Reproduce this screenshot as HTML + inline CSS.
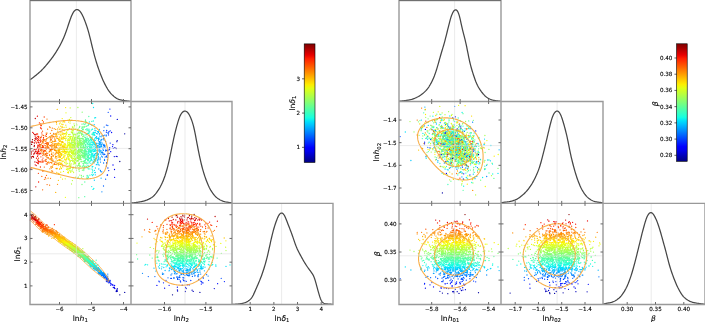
<!DOCTYPE html>
<html><head><meta charset="utf-8"><style>
html,body{margin:0;padding:0;background:#fff;}
svg{display:block;}
.t{font-family:"DejaVu Sans","Liberation Sans",sans-serif;font-size:5.60px;fill:#000;stroke:#000;stroke-width:0.12px;}
.l{font-family:"DejaVu Sans","Liberation Sans",sans-serif;font-size:7.60px;fill:#000;stroke:#000;stroke-width:0.1px;}
</style></head><body>
<svg xmlns="http://www.w3.org/2000/svg" width="705" height="322" viewBox="0 0 705 322">
<rect width="705" height="322" fill="#fff"/>
<g stroke-width="1.3" stroke-linecap="round" fill="none" stroke-opacity="1">
<path d="M119.8 161.5h.01" stroke="#000089"/>
<path d="M124.7 133.8h.01" stroke="#0000a4"/>
<path d="M117.2 140.6h.01M116.2 148.5h.01M116.8 141.7h.01M116.3 156.4h.01" stroke="#0000bb"/>
<path d="M117.1 156.6h.01M114.9 147.7h.01M117.3 119.4h.01" stroke="#0000d1"/>
<path d="M114.5 169.5h.01M113.3 148.3h.01M114.3 156.6h.01" stroke="#0000ed"/>
<path d="M112.9 144.7h.01M114.6 177.3h.01M110.7 151.7h.01M113.0 165.0h.01" stroke="#0000ff"/>
<path d="M111.6 132.5h.01M110.7 116.0h.01M112.5 146.6h.01" stroke="#0008ff"/>
<path d="M107.5 174.9h.01M108.7 170.6h.01M109.1 153.4h.01M109.0 131.7h.01M110.2 130.8h.01M106.4 132.2h.01M109.9 109.1h.01" stroke="#0020ff"/>
<path d="M108.5 134.9h.01M107.2 175.2h.01M106.8 150.4h.01M108.0 153.6h.01M108.5 133.0h.01M109.7 147.6h.01M110.2 143.1h.01M109.6 149.0h.01M107.9 168.0h.01M108.9 150.0h.01M106.4 125.1h.01" stroke="#0034ff"/>
<path d="M108.2 112.3h.01M107.1 150.8h.01M106.3 135.1h.01M106.2 156.4h.01M106.6 162.7h.01M106.7 130.4h.01M106.6 163.3h.01M106.4 156.4h.01M107.8 154.8h.01" stroke="#0048ff"/>
<path d="M106.4 166.0h.01M104.5 160.4h.01M107.0 155.9h.01M103.9 153.9h.01M105.8 150.0h.01M103.8 130.7h.01M107.1 157.4h.01M107.4 159.8h.01M103.8 154.7h.01M104.8 154.4h.01M105.6 141.4h.01M105.1 157.1h.01M103.5 186.0h.01M105.5 150.9h.01M105.6 179.2h.01M103.7 135.7h.01" stroke="#0060ff"/>
<path d="M102.9 149.0h.01M103.6 145.4h.01M103.3 139.0h.01M103.4 150.4h.01M106.2 135.9h.01M102.3 135.6h.01M105.1 147.0h.01M102.3 154.1h.01M103.6 163.0h.01M107.8 125.5h.01M101.4 145.8h.01M103.9 145.0h.01M104.2 145.4h.01M104.4 146.7h.01M104.9 145.3h.01M103.6 138.7h.01M104.1 127.1h.01M103.9 144.3h.01" stroke="#0074ff"/>
<path d="M100.5 162.1h.01M98.7 145.2h.01M104.5 159.5h.01M101.6 152.4h.01M104.1 140.1h.01M100.8 144.1h.01M107.8 133.0h.01M99.8 150.0h.01M103.1 144.8h.01M103.0 152.8h.01M102.3 157.0h.01M104.8 135.1h.01M101.9 191.8h.01M101.7 139.5h.01M103.2 147.1h.01M100.8 171.6h.01M100.4 170.5h.01M99.6 144.6h.01M100.1 157.9h.01M102.5 152.1h.01M102.1 152.9h.01M99.3 141.7h.01M101.8 171.8h.01M100.8 142.0h.01" stroke="#0088ff"/>
<path d="M101.5 139.9h.01M103.4 150.3h.01M101.6 146.3h.01M101.5 146.3h.01M98.0 154.2h.01M99.5 142.6h.01M99.6 143.8h.01M98.7 138.5h.01M98.4 158.8h.01M101.1 136.8h.01M100.0 147.3h.01M100.1 159.8h.01M100.6 150.8h.01M99.7 133.7h.01M99.1 148.9h.01M101.7 144.4h.01M101.3 146.8h.01M100.5 143.8h.01M99.0 151.0h.01M98.6 139.6h.01M99.7 147.2h.01M100.7 140.2h.01M100.2 159.1h.01M102.3 143.1h.01M101.5 156.2h.01M102.1 135.8h.01M100.8 142.6h.01M99.2 141.6h.01" stroke="#00a0ff"/>
<path d="M99.2 165.1h.01M100.0 136.4h.01M99.9 146.8h.01M97.1 146.9h.01M98.8 138.9h.01M97.4 145.4h.01M101.1 150.8h.01M98.9 139.3h.01M98.9 147.2h.01M96.8 148.0h.01M101.1 178.2h.01M97.1 146.0h.01M99.5 129.3h.01M97.9 160.9h.01M96.6 136.7h.01M100.6 154.1h.01M97.1 155.1h.01M100.8 151.9h.01M94.8 144.5h.01M97.2 159.9h.01M97.4 153.3h.01M98.4 140.2h.01M98.0 150.1h.01M98.1 164.7h.01M100.7 146.0h.01M99.0 146.6h.01M97.5 162.5h.01M95.6 144.7h.01M99.1 143.3h.01M98.3 157.6h.01M96.3 143.4h.01M96.2 143.5h.01M97.6 133.8h.01M98.8 169.0h.01M99.6 152.0h.01M97.3 148.2h.01" stroke="#00b4ff"/>
<path d="M96.0 144.6h.01M97.5 154.5h.01M95.2 148.9h.01M95.5 153.4h.01M97.0 152.5h.01M95.3 174.8h.01M96.3 164.7h.01M98.3 131.4h.01M94.5 155.3h.01M98.2 159.2h.01M93.9 141.2h.01M95.2 160.0h.01M96.5 133.6h.01M97.1 155.1h.01M98.4 156.2h.01M98.9 137.8h.01M96.6 138.0h.01M98.4 132.5h.01M98.0 163.1h.01M94.2 124.7h.01M94.9 172.7h.01M99.4 134.8h.01M95.0 130.4h.01M98.6 154.0h.01M94.6 151.4h.01M93.3 132.9h.01M95.2 159.3h.01M96.7 164.4h.01M97.5 131.6h.01M97.6 138.3h.01M93.6 143.8h.01M96.7 146.9h.01M93.2 156.2h.01M94.4 180.2h.01M97.0 153.2h.01M95.7 137.4h.01M98.0 143.4h.01M97.9 147.0h.01" stroke="#00c8ff"/>
<path d="M94.9 132.5h.01M95.4 168.0h.01M95.3 145.9h.01M96.4 138.8h.01M94.7 148.6h.01M94.9 128.7h.01M96.9 157.8h.01M92.0 160.6h.01M95.2 149.4h.01M95.1 132.4h.01M98.4 156.4h.01M92.6 175.6h.01M93.0 154.0h.01M94.8 135.4h.01M94.1 139.9h.01M95.1 160.9h.01M93.5 155.6h.01M90.6 139.4h.01M94.6 157.2h.01M94.2 159.9h.01M93.8 132.9h.01M96.8 150.6h.01M95.1 160.0h.01M95.3 147.4h.01M94.5 159.2h.01M94.8 154.3h.01M91.9 146.0h.01M95.4 160.4h.01M94.9 156.9h.01M95.3 132.5h.01M94.0 133.1h.01M93.5 161.7h.01M96.4 158.4h.01M94.5 154.5h.01M95.2 140.4h.01M94.5 170.3h.01M96.0 130.6h.01M94.3 162.8h.01M96.9 155.4h.01M92.2 154.1h.01M94.4 150.9h.01M93.5 107.5h.01M95.5 158.7h.01M95.6 117.7h.01M95.7 161.1h.01M94.6 142.6h.01M95.3 172.3h.01M94.5 143.2h.01M94.3 139.8h.01" stroke="#00e0fb"/>
<path d="M93.0 142.6h.01M94.1 141.6h.01M93.8 132.4h.01M93.8 188.5h.01M91.3 138.5h.01M93.9 142.4h.01M93.4 149.3h.01M95.5 144.8h.01M89.4 121.9h.01M90.0 136.9h.01M92.7 103.5h.01M93.0 162.2h.01M92.8 144.9h.01M96.7 153.3h.01M93.9 146.3h.01M90.5 137.4h.01M92.9 134.5h.01M94.3 144.6h.01M93.0 149.3h.01M94.6 150.8h.01M94.3 155.7h.01M92.0 169.1h.01M93.0 189.4h.01M91.9 125.4h.01M90.8 150.1h.01M93.2 151.8h.01M93.3 132.5h.01M92.8 149.3h.01M90.9 156.6h.01M94.5 134.6h.01M91.8 174.7h.01M93.0 142.8h.01M92.0 150.6h.01M92.2 166.7h.01M92.0 153.7h.01M93.3 121.0h.01M95.6 151.0h.01M91.2 158.8h.01M92.2 167.1h.01M93.4 151.5h.01M97.8 162.4h.01M94.1 141.6h.01M92.4 142.0h.01M91.7 156.2h.01M91.0 158.0h.01M92.8 166.4h.01M90.4 151.3h.01M89.2 148.7h.01M92.5 145.0h.01M91.6 154.7h.01M94.9 138.5h.01M93.0 162.5h.01M90.2 124.3h.01M93.1 150.1h.01M94.6 117.9h.01M92.4 166.8h.01M91.7 144.4h.01M91.6 159.5h.01M89.8 148.0h.01M94.8 150.5h.01M91.9 151.0h.01M91.7 186.6h.01M92.5 129.2h.01" stroke="#0cf4eb"/>
<path d="M93.8 134.2h.01M91.2 160.0h.01M94.9 150.3h.01M89.0 130.8h.01M88.4 157.1h.01M93.0 143.2h.01M88.5 133.4h.01M89.0 152.0h.01M88.6 152.0h.01M92.0 129.4h.01M90.2 157.7h.01M90.9 163.3h.01M94.0 159.8h.01M89.5 154.1h.01M92.4 139.7h.01M89.6 147.9h.01M91.3 151.4h.01M90.4 148.1h.01M91.1 140.7h.01M95.2 155.2h.01M92.2 137.2h.01M91.2 151.7h.01M91.2 146.9h.01M93.3 174.5h.01M93.5 156.8h.01M92.3 172.7h.01M93.0 157.1h.01M91.8 149.0h.01M90.3 152.5h.01M91.2 142.5h.01M90.1 148.9h.01M93.8 134.6h.01M90.7 144.8h.01M91.2 137.7h.01M91.0 141.8h.01M91.5 153.0h.01M91.7 155.3h.01M92.8 171.0h.01M93.5 157.9h.01M89.4 158.7h.01M91.8 140.1h.01M91.7 147.5h.01M90.3 144.0h.01M88.3 177.4h.01M91.2 139.2h.01M89.9 150.9h.01M88.0 165.4h.01M90.9 142.6h.01M89.5 143.8h.01M91.5 139.3h.01M92.4 155.3h.01M90.7 148.5h.01M91.9 148.6h.01M93.1 147.8h.01M89.1 161.9h.01" stroke="#1cffdb"/>
<path d="M88.6 139.2h.01M89.4 151.2h.01M89.3 166.5h.01M90.4 155.0h.01M86.9 151.6h.01M91.2 157.0h.01M88.4 152.9h.01M89.0 132.4h.01M89.1 132.9h.01M87.0 128.6h.01M85.6 151.1h.01M91.8 134.2h.01M93.2 135.2h.01M87.9 146.1h.01M88.8 150.4h.01M91.8 121.4h.01M88.0 168.0h.01M90.2 147.7h.01M88.3 153.9h.01M88.8 157.6h.01M89.8 131.7h.01M90.2 145.1h.01M89.8 142.8h.01M89.9 175.2h.01M89.6 135.1h.01M88.7 150.6h.01M87.4 149.2h.01M87.0 152.1h.01M88.9 141.2h.01M91.2 130.1h.01M88.3 158.2h.01M88.9 129.1h.01M86.9 129.3h.01M88.5 124.6h.01M87.7 154.0h.01M87.4 133.4h.01M88.8 149.6h.01M90.9 139.8h.01M90.6 160.2h.01M91.5 150.9h.01M88.4 156.0h.01M90.1 161.5h.01M89.0 129.8h.01M92.6 134.0h.01M87.5 178.4h.01M88.2 144.7h.01M87.5 147.4h.01M90.2 137.8h.01M90.4 146.8h.01M92.5 169.9h.01M89.2 162.8h.01M90.5 151.2h.01M91.1 157.6h.01M90.7 150.4h.01M87.0 143.8h.01M92.2 153.4h.01M84.5 167.9h.01" stroke="#30ffc7"/>
<path d="M88.3 151.2h.01M88.1 176.2h.01M85.9 151.1h.01M85.6 144.4h.01M86.9 167.7h.01M83.5 146.0h.01M88.0 159.9h.01M85.9 159.4h.01M85.8 153.3h.01M87.7 148.3h.01M88.9 146.4h.01M87.0 162.1h.01M89.6 144.4h.01M89.4 154.7h.01M86.1 153.8h.01M89.6 147.8h.01M85.9 139.9h.01M85.7 129.6h.01M83.7 153.4h.01M83.9 135.0h.01M88.9 140.2h.01M90.5 137.5h.01M96.2 158.8h.01M86.9 146.9h.01M89.1 155.2h.01M86.0 162.8h.01M88.9 144.2h.01M87.5 140.2h.01M89.5 140.4h.01M85.3 151.9h.01M87.7 155.7h.01M87.1 175.4h.01M89.0 155.2h.01M88.4 168.9h.01M88.8 131.0h.01M88.0 144.2h.01M89.7 148.7h.01M88.3 141.9h.01M87.4 143.7h.01M85.5 148.9h.01M88.3 142.3h.01M86.8 138.5h.01M85.1 140.0h.01M85.6 145.6h.01M86.0 151.7h.01M88.3 159.5h.01M86.3 134.5h.01M84.2 142.7h.01M85.2 145.7h.01M85.0 157.9h.01M85.8 134.9h.01M89.8 168.9h.01M86.7 158.2h.01M90.2 158.1h.01M86.6 154.2h.01M87.7 156.6h.01M84.5 156.0h.01M85.1 148.8h.01M92.2 156.4h.01M88.1 125.3h.01M87.4 159.3h.01M88.5 166.4h.01M84.7 151.1h.01M87.7 142.8h.01M88.8 160.6h.01M89.6 146.0h.01M88.7 148.8h.01M84.5 150.7h.01" stroke="#40ffb7"/>
<path d="M84.6 152.3h.01M85.6 151.4h.01M86.6 140.8h.01M83.4 123.9h.01M88.0 125.6h.01M83.1 128.9h.01M84.5 147.8h.01M86.6 151.2h.01M83.8 136.2h.01M85.4 160.2h.01M85.5 120.0h.01M83.0 153.8h.01M89.4 150.0h.01M86.0 141.7h.01M84.2 127.3h.01M84.6 140.5h.01M88.2 155.7h.01M86.5 142.3h.01M84.7 152.3h.01M85.0 147.3h.01M86.5 151.8h.01M87.1 137.0h.01M87.0 159.2h.01M85.3 150.1h.01M87.9 138.6h.01M85.0 141.3h.01M85.4 144.3h.01M85.0 161.8h.01M87.1 176.8h.01M83.1 151.1h.01M87.7 129.9h.01M83.2 165.5h.01M83.9 158.1h.01M84.1 160.9h.01M86.4 148.6h.01M84.5 153.3h.01M87.9 163.6h.01M84.9 147.2h.01M86.7 139.6h.01M85.1 142.0h.01M86.7 163.8h.01M85.5 159.0h.01M84.8 137.3h.01M84.9 149.4h.01M87.7 160.5h.01M83.4 147.4h.01M84.8 182.0h.01M80.5 150.0h.01M86.9 130.8h.01M86.3 166.5h.01M82.5 129.5h.01M85.0 160.7h.01M85.2 151.0h.01M86.5 141.0h.01M88.4 156.9h.01M85.9 138.8h.01M85.7 139.8h.01M85.1 151.5h.01M84.8 155.1h.01M84.9 163.2h.01M85.7 156.0h.01M85.3 154.1h.01M88.8 116.5h.01M84.7 196.7h.01M84.3 143.5h.01M86.3 156.1h.01M84.8 124.5h.01M84.2 155.9h.01M84.7 156.8h.01M85.7 139.7h.01M88.8 141.7h.01M86.8 141.2h.01M86.7 154.5h.01M87.8 138.7h.01M85.5 138.8h.01" stroke="#50ffa7"/>
<path d="M83.6 164.8h.01M81.6 152.2h.01M82.7 141.1h.01M82.4 155.9h.01M79.8 138.1h.01M80.4 132.1h.01M85.0 126.6h.01M85.3 123.6h.01M77.9 133.8h.01M81.0 148.9h.01M81.7 128.2h.01M88.5 138.9h.01M87.5 157.4h.01M85.4 137.5h.01M80.4 144.6h.01M84.0 148.5h.01M86.1 153.8h.01M86.7 126.3h.01M81.8 152.4h.01M85.2 142.1h.01M83.0 147.4h.01M78.6 149.7h.01M84.1 142.3h.01M84.2 154.7h.01M81.7 151.3h.01M85.2 141.9h.01M82.5 156.7h.01M84.5 153.4h.01M82.6 138.5h.01M83.5 138.8h.01M83.3 161.7h.01M82.1 126.8h.01M81.8 145.7h.01M85.5 148.9h.01M86.5 178.2h.01M83.7 148.0h.01M85.9 121.4h.01M84.1 156.1h.01M84.0 148.7h.01M84.4 153.6h.01M82.3 167.0h.01M84.8 132.4h.01M85.3 154.5h.01M85.6 147.2h.01M80.4 147.0h.01M85.7 155.4h.01M84.7 167.2h.01M85.5 162.9h.01M86.1 151.3h.01M80.5 158.2h.01M86.5 122.7h.01M85.9 166.2h.01M86.0 151.1h.01M84.3 148.2h.01M84.6 150.2h.01M82.8 139.1h.01M83.3 157.7h.01M78.4 177.1h.01M78.5 144.1h.01M84.3 156.0h.01M82.8 155.8h.01M81.8 130.9h.01M82.5 156.8h.01M85.9 146.8h.01M85.7 144.9h.01M83.3 176.3h.01M85.1 148.3h.01M86.1 146.3h.01M86.4 126.1h.01M84.5 156.2h.01M81.6 144.0h.01M83.5 145.8h.01M83.4 176.3h.01M84.3 166.2h.01M78.3 156.2h.01M79.9 131.1h.01M81.0 142.8h.01M83.0 146.7h.01M81.2 161.4h.01M84.3 160.9h.01M82.4 153.0h.01M84.4 142.0h.01M83.2 150.6h.01M82.3 153.1h.01M83.3 163.4h.01M85.4 121.7h.01M83.1 155.8h.01M83.8 170.6h.01M82.4 166.7h.01" stroke="#63ff94"/>
<path d="M84.1 143.8h.01M81.5 177.2h.01M82.2 134.6h.01M81.3 150.2h.01M83.0 126.9h.01M83.4 153.6h.01M79.4 127.5h.01M79.3 171.2h.01M80.4 140.9h.01M78.9 143.8h.01M83.5 148.3h.01M78.8 130.9h.01M80.5 151.5h.01M83.9 152.7h.01M82.8 154.0h.01M82.7 144.6h.01M80.7 147.6h.01M80.3 133.0h.01M83.1 143.5h.01M84.1 143.9h.01M83.0 155.4h.01M78.5 147.3h.01M79.9 155.1h.01M82.7 148.0h.01M82.0 124.2h.01M84.6 162.5h.01M83.1 156.4h.01M82.4 147.9h.01M82.7 134.2h.01M81.0 143.2h.01M79.8 165.9h.01M82.8 127.5h.01M81.9 149.7h.01M80.5 149.1h.01M82.5 156.5h.01M82.8 156.4h.01M85.2 151.9h.01M84.3 156.7h.01M79.9 142.4h.01M81.7 143.0h.01M82.1 132.8h.01M78.9 155.5h.01M84.2 166.7h.01M80.4 144.0h.01M78.9 149.3h.01M84.9 141.2h.01M83.5 153.8h.01M82.0 138.4h.01M82.2 152.3h.01M78.8 197.7h.01M83.1 163.6h.01M80.9 159.5h.01M81.8 155.3h.01M79.5 166.2h.01M81.4 154.9h.01M83.1 141.5h.01M83.5 168.1h.01M80.3 144.0h.01M85.4 120.6h.01M81.2 150.5h.01M85.0 157.9h.01M83.1 136.7h.01M82.3 150.3h.01M82.0 184.5h.01M83.5 144.0h.01M80.8 138.7h.01M79.7 126.5h.01M84.3 147.3h.01M80.9 151.9h.01M84.9 157.3h.01" stroke="#73ff83"/>
<path d="M81.1 161.8h.01M81.5 135.0h.01M79.4 163.4h.01M80.4 149.1h.01M80.6 149.9h.01M78.7 150.9h.01M80.8 159.4h.01M81.9 149.7h.01M81.4 175.5h.01M79.3 150.6h.01M83.5 142.2h.01M78.7 159.2h.01M78.1 154.3h.01M78.2 158.6h.01M81.9 142.5h.01M77.4 150.8h.01M79.6 156.1h.01M79.3 140.5h.01M82.5 143.6h.01M80.4 156.6h.01M79.2 159.6h.01M82.0 155.4h.01M79.3 141.3h.01M80.5 156.0h.01M83.1 155.5h.01M78.7 152.0h.01M76.5 157.7h.01M82.2 112.2h.01M79.7 158.2h.01M83.4 129.7h.01M78.5 149.7h.01M78.2 129.0h.01M78.8 149.4h.01M74.7 139.2h.01M79.8 140.9h.01M77.3 137.5h.01M77.6 155.6h.01M77.8 133.1h.01M81.0 145.6h.01M81.1 138.3h.01M78.8 138.2h.01M84.2 151.7h.01M78.1 157.4h.01M81.8 144.2h.01M79.8 153.0h.01M81.5 133.5h.01M76.9 157.7h.01M79.3 165.2h.01M77.1 137.7h.01M83.2 139.4h.01M79.2 135.4h.01M73.7 144.7h.01M83.8 169.5h.01M78.1 165.4h.01M77.3 153.3h.01M78.0 150.8h.01M79.4 138.8h.01M81.4 147.9h.01M80.9 155.7h.01M79.3 152.0h.01M81.4 138.7h.01M80.7 157.1h.01M82.0 161.5h.01M82.4 170.2h.01M77.4 158.2h.01M78.6 147.8h.01M78.2 147.6h.01M78.1 153.5h.01M80.6 146.0h.01M76.0 157.0h.01M80.5 147.3h.01M83.6 147.0h.01M81.5 147.1h.01M77.9 153.7h.01M78.3 154.7h.01M78.7 163.5h.01M79.0 143.7h.01M79.2 138.4h.01M83.6 140.7h.01M76.3 152.2h.01M80.6 147.1h.01M79.2 144.2h.01M81.7 130.6h.01M78.1 144.8h.01M79.5 155.4h.01M80.5 156.9h.01M76.3 168.5h.01M80.8 142.0h.01M79.8 142.6h.01" stroke="#83ff73"/>
<path d="M71.9 143.4h.01M79.1 154.6h.01M81.0 157.6h.01M74.1 153.8h.01M75.3 134.5h.01M78.9 148.8h.01M79.2 132.6h.01M80.6 140.2h.01M81.9 134.7h.01M78.1 137.1h.01M76.5 143.3h.01M78.3 144.8h.01M80.6 166.3h.01M76.1 149.7h.01M75.1 140.1h.01M75.4 153.4h.01M74.2 146.2h.01M77.5 160.6h.01M77.6 133.8h.01M81.2 140.6h.01M76.8 151.0h.01M77.9 143.3h.01M77.5 166.1h.01M74.5 138.5h.01M78.0 160.8h.01M79.0 167.9h.01M72.4 142.3h.01M78.7 132.7h.01M76.2 152.4h.01M77.6 138.4h.01M73.9 133.1h.01M81.9 150.0h.01M79.8 145.1h.01M84.1 126.4h.01M79.8 175.1h.01M81.0 144.2h.01M77.0 157.4h.01M78.9 145.8h.01M79.6 138.4h.01M74.6 150.9h.01M73.4 145.2h.01M78.9 156.9h.01M79.0 136.4h.01M75.6 137.6h.01M76.4 145.9h.01M76.5 167.6h.01M75.3 149.5h.01M79.2 150.9h.01M78.4 150.8h.01M80.7 153.8h.01M80.6 166.2h.01M79.1 143.0h.01M79.8 149.1h.01M79.4 159.3h.01M75.4 166.9h.01M74.1 140.5h.01M78.8 164.5h.01M77.3 136.1h.01M77.7 178.1h.01M77.0 140.0h.01M76.5 146.5h.01M77.6 144.5h.01M74.5 125.5h.01M78.7 160.8h.01M82.2 149.1h.01M75.9 135.8h.01M78.5 136.2h.01M82.7 144.5h.01M74.9 159.4h.01M80.7 140.3h.01M76.5 123.9h.01M79.6 139.6h.01" stroke="#97ff60"/>
<path d="M76.8 137.5h.01M74.5 143.5h.01M74.3 146.5h.01M76.2 165.6h.01M75.2 144.1h.01M75.9 128.9h.01M75.6 162.6h.01M70.0 134.4h.01M78.5 138.7h.01M72.8 137.9h.01M73.4 148.1h.01M76.4 160.3h.01M78.7 145.7h.01M70.1 143.8h.01M75.9 139.8h.01M71.3 142.7h.01M75.1 154.6h.01M77.5 145.8h.01M76.3 146.2h.01M77.1 144.9h.01M75.6 144.2h.01M72.8 130.6h.01M80.1 159.4h.01M77.9 107.5h.01M76.6 161.4h.01M75.2 149.9h.01M73.4 148.3h.01M74.9 159.2h.01M77.9 143.5h.01M78.9 152.0h.01M77.1 142.9h.01M75.8 146.1h.01M79.1 169.4h.01M74.6 150.0h.01M79.6 151.9h.01M76.7 143.3h.01M77.4 129.6h.01M76.7 139.0h.01M78.8 141.7h.01M74.5 150.3h.01M81.2 142.5h.01M77.9 160.8h.01M73.9 141.6h.01M79.3 133.6h.01M77.6 147.1h.01M73.1 155.1h.01M77.1 143.4h.01M75.2 142.5h.01M77.0 146.4h.01M75.7 143.5h.01M75.0 144.2h.01M78.8 169.7h.01M76.4 129.6h.01M71.7 157.5h.01M75.1 138.7h.01M73.3 153.7h.01M75.5 151.9h.01M75.2 163.8h.01M73.0 144.6h.01M72.7 127.2h.01M76.4 167.9h.01M73.8 152.6h.01M79.6 157.3h.01M69.9 137.4h.01M77.5 147.2h.01M76.9 151.5h.01M73.6 136.1h.01M78.5 158.4h.01M78.9 156.6h.01M75.1 155.3h.01M72.4 169.8h.01M74.3 157.0h.01M77.1 141.7h.01M76.5 154.4h.01M76.8 125.0h.01M79.2 142.8h.01M75.7 177.2h.01M72.4 147.3h.01M75.8 145.0h.01M75.6 160.0h.01M77.9 158.6h.01M73.9 140.1h.01M77.6 140.6h.01M76.2 147.9h.01M75.2 152.6h.01M74.5 147.7h.01M76.0 134.3h.01M79.4 162.9h.01M74.7 153.8h.01M76.4 121.1h.01M76.9 146.1h.01M74.1 161.4h.01M73.4 142.8h.01M77.5 160.8h.01" stroke="#a7ff50"/>
<path d="M75.0 158.7h.01M72.8 127.3h.01M71.7 148.2h.01M73.9 148.7h.01M75.6 147.9h.01M78.2 146.2h.01M76.1 141.2h.01M82.8 136.6h.01M73.7 135.0h.01M71.4 151.2h.01M73.0 145.9h.01M73.3 134.7h.01M77.9 152.1h.01M76.1 139.3h.01M74.3 163.7h.01M75.5 155.0h.01M71.2 170.8h.01M71.5 140.8h.01M70.4 149.3h.01M73.1 148.5h.01M72.0 146.7h.01M73.4 146.0h.01M76.2 158.8h.01M71.3 160.4h.01M75.5 163.3h.01M71.9 150.1h.01M67.8 155.1h.01M71.0 150.4h.01M72.4 180.6h.01M76.7 157.9h.01M72.6 144.8h.01M72.5 133.7h.01M74.4 145.6h.01M72.5 132.5h.01M72.6 160.0h.01M73.3 153.3h.01M71.5 140.9h.01M71.6 140.3h.01M70.3 143.4h.01M69.6 140.7h.01M70.1 154.7h.01M69.1 154.5h.01M72.1 140.0h.01M77.3 156.3h.01M69.6 145.6h.01M71.1 143.2h.01M72.5 138.6h.01M74.3 134.4h.01M76.5 170.3h.01M72.7 168.0h.01M73.8 128.9h.01M72.1 145.1h.01M77.4 152.3h.01M73.4 167.2h.01M78.5 144.4h.01M70.5 147.1h.01M69.7 170.1h.01M74.8 142.3h.01M71.5 184.0h.01M74.7 137.4h.01M76.4 149.5h.01M78.5 158.2h.01M70.1 121.1h.01M72.2 150.1h.01M69.7 163.3h.01M71.9 156.5h.01M73.1 144.6h.01M73.3 164.1h.01M69.3 142.5h.01M77.3 130.5h.01M72.7 161.3h.01M77.2 146.3h.01M77.9 142.3h.01M75.1 160.0h.01M70.0 155.7h.01M75.5 148.6h.01" stroke="#b7ff40"/>
<path d="M70.4 167.0h.01M67.6 151.7h.01M68.2 149.7h.01M73.0 154.8h.01M70.0 164.4h.01M72.4 126.9h.01M75.0 144.4h.01M72.3 153.8h.01M70.2 138.8h.01M70.6 137.0h.01M75.9 149.6h.01M68.3 172.6h.01M66.3 149.6h.01M73.3 152.1h.01M75.2 162.1h.01M71.8 158.4h.01M69.8 146.8h.01M71.5 132.6h.01M67.4 147.2h.01M73.0 138.0h.01M71.6 152.3h.01M72.7 151.3h.01M70.7 139.0h.01M70.8 117.6h.01M70.8 171.3h.01M66.6 164.0h.01M71.0 165.9h.01M74.1 162.5h.01M69.9 148.5h.01M75.2 159.4h.01M74.0 123.8h.01M74.3 156.4h.01M68.4 145.7h.01M70.0 137.0h.01M73.8 140.0h.01M75.3 137.2h.01M71.0 139.0h.01M70.2 136.5h.01M69.8 162.1h.01M71.6 129.4h.01M72.7 136.9h.01M69.1 152.4h.01M72.9 154.1h.01M66.8 152.9h.01M73.2 135.9h.01M72.5 144.6h.01M74.1 147.8h.01M73.4 167.6h.01M71.7 144.8h.01M75.1 162.7h.01M73.4 130.8h.01M76.5 153.7h.01M68.5 134.6h.01M72.4 140.9h.01M74.7 141.7h.01M70.2 107.9h.01M72.6 152.7h.01M73.6 172.6h.01M73.0 144.6h.01M69.6 151.5h.01M71.2 136.7h.01M73.8 147.7h.01M68.8 138.7h.01M70.8 152.2h.01M73.2 154.1h.01M67.7 163.3h.01M67.8 170.0h.01M71.3 132.0h.01M72.0 157.8h.01M68.2 129.8h.01M69.4 148.0h.01M74.1 160.8h.01M68.7 144.6h.01M74.2 126.8h.01M70.1 123.1h.01M70.7 151.8h.01M68.9 140.6h.01M75.7 158.4h.01M68.5 152.1h.01M73.9 151.0h.01M74.4 146.6h.01M73.0 154.6h.01M73.1 150.2h.01M67.9 155.0h.01M71.4 129.8h.01M73.7 142.3h.01M69.9 165.3h.01M67.9 142.9h.01M67.8 139.8h.01M70.7 144.1h.01M72.5 148.2h.01M76.4 133.9h.01M71.8 145.0h.01" stroke="#caff2c"/>
<path d="M70.4 161.1h.01M70.9 146.8h.01M71.5 120.3h.01M72.3 139.4h.01M73.3 152.6h.01M70.5 138.4h.01M69.6 144.4h.01M66.8 148.2h.01M66.0 148.5h.01M69.3 147.9h.01M70.7 172.3h.01M71.7 152.0h.01M73.1 167.7h.01M71.0 147.3h.01M63.3 139.1h.01M69.2 168.4h.01M64.9 138.4h.01M65.8 140.5h.01M69.1 158.3h.01M69.4 119.4h.01M69.5 128.4h.01M66.9 151.5h.01M65.6 144.5h.01M68.1 158.8h.01M66.2 127.2h.01M68.3 152.5h.01M66.8 133.2h.01M69.5 148.4h.01M69.3 134.7h.01M69.8 160.2h.01M72.9 171.3h.01M68.4 153.9h.01M74.9 154.1h.01M69.9 145.1h.01M67.6 156.1h.01M69.9 170.8h.01M69.1 165.4h.01M71.2 156.1h.01M65.9 151.5h.01M63.3 146.6h.01M66.1 132.8h.01M70.9 151.9h.01M71.6 141.0h.01M67.5 168.9h.01M70.6 149.3h.01M70.2 161.5h.01M66.7 138.2h.01M73.6 158.5h.01M71.5 153.4h.01M66.6 131.9h.01M64.2 149.6h.01M74.9 149.9h.01M70.7 145.9h.01M69.0 145.5h.01M72.8 158.3h.01M70.3 168.5h.01M75.2 148.4h.01M66.6 147.5h.01M63.4 148.7h.01M67.0 167.9h.01M69.5 140.6h.01M73.1 160.5h.01M69.3 143.7h.01M68.1 145.1h.01M69.3 146.2h.01M64.6 153.6h.01M70.8 148.9h.01M64.7 162.4h.01M68.1 140.0h.01M65.2 178.8h.01M71.3 163.9h.01" stroke="#dbff1c"/>
<path d="M67.5 130.2h.01M66.4 134.6h.01M64.4 130.5h.01M68.2 156.4h.01M70.4 157.0h.01M68.7 152.5h.01M68.6 159.5h.01M63.1 137.5h.01M65.0 136.7h.01M66.6 158.6h.01M62.6 161.3h.01M62.5 154.8h.01M71.5 155.3h.01M63.0 145.5h.01M67.6 141.0h.01M69.4 140.2h.01M63.5 171.4h.01M65.5 151.3h.01M64.5 151.4h.01M72.5 130.9h.01M66.7 159.1h.01M69.9 150.0h.01M66.0 112.8h.01M60.7 153.4h.01M65.2 163.8h.01M63.5 145.2h.01M61.3 155.0h.01M65.4 197.3h.01M67.2 147.0h.01M62.7 147.8h.01M68.0 136.6h.01M64.4 147.3h.01M67.6 144.0h.01M68.6 169.0h.01M70.9 144.9h.01M65.8 151.6h.01M71.0 136.6h.01M69.2 139.6h.01M64.7 158.0h.01M61.6 124.2h.01M65.5 139.0h.01M63.7 154.9h.01M68.2 157.1h.01M60.7 164.6h.01M68.8 140.6h.01M66.5 169.4h.01M65.6 153.6h.01M64.5 145.1h.01M61.9 134.1h.01M67.4 146.3h.01M71.3 147.5h.01M64.4 150.4h.01M67.2 154.4h.01M62.7 149.0h.01M68.1 142.6h.01M68.7 136.3h.01M65.4 133.7h.01M69.4 160.0h.01M63.5 152.1h.01M69.6 155.8h.01M68.6 145.4h.01M64.6 133.7h.01M67.4 149.8h.01M69.3 153.2h.01M66.0 160.8h.01M70.7 149.3h.01" stroke="#ebff0c"/>
<path d="M68.1 157.0h.01M64.5 138.3h.01M68.6 122.1h.01M61.4 158.7h.01M59.2 148.8h.01M61.0 149.4h.01M61.7 137.0h.01M65.2 153.4h.01M61.9 145.0h.01M63.1 151.5h.01M64.8 156.0h.01M62.2 118.6h.01M63.7 156.6h.01M61.7 142.9h.01M64.9 147.2h.01M66.2 159.3h.01M60.4 144.1h.01M63.7 151.8h.01M67.0 148.5h.01M65.9 149.7h.01M64.0 127.4h.01M65.8 125.2h.01M65.0 143.4h.01M67.7 172.4h.01M65.0 155.2h.01M67.1 145.7h.01M62.2 158.5h.01M61.5 143.1h.01M63.0 151.6h.01M68.5 171.9h.01M62.1 126.4h.01M60.7 148.8h.01M67.0 148.1h.01M67.2 145.7h.01M60.5 166.6h.01M60.8 135.7h.01M60.8 167.3h.01M61.6 138.7h.01M63.0 122.0h.01M61.8 153.6h.01M65.7 148.0h.01M60.6 145.3h.01M60.2 122.9h.01M69.8 155.7h.01M60.7 172.2h.01M60.7 177.2h.01M63.4 136.1h.01M61.4 151.6h.01M63.3 149.8h.01M59.7 144.3h.01M65.6 107.6h.01M60.4 152.7h.01M60.8 154.1h.01M62.9 134.4h.01M63.1 146.6h.01M65.8 147.6h.01M60.5 160.1h.01M61.4 163.5h.01M62.5 165.9h.01M65.0 152.6h.01M68.3 172.9h.01M64.6 144.1h.01M66.5 152.5h.01M68.4 154.3h.01M65.8 136.0h.01M58.7 154.8h.01" stroke="#feed00"/>
<path d="M65.2 145.8h.01M64.7 159.6h.01M61.9 163.1h.01M64.0 143.9h.01M60.9 132.7h.01M60.3 160.5h.01M60.7 126.2h.01M66.8 157.9h.01M59.1 148.5h.01M65.0 146.0h.01M62.4 151.1h.01M65.4 151.9h.01M60.1 151.1h.01M60.9 144.9h.01M66.1 149.1h.01M61.3 144.4h.01M63.7 133.7h.01M60.3 145.4h.01M59.7 160.4h.01M58.3 163.0h.01M60.4 147.2h.01M59.8 162.4h.01M63.7 161.1h.01M64.1 149.4h.01M64.7 122.0h.01M64.7 151.3h.01M62.8 141.7h.01M63.6 121.2h.01M63.4 138.0h.01M66.1 162.1h.01M64.7 147.0h.01M63.2 157.5h.01M59.8 134.1h.01M62.7 134.1h.01M61.0 137.8h.01M64.3 147.1h.01M59.3 174.0h.01M60.5 163.3h.01M59.2 148.0h.01M59.8 168.8h.01M57.6 143.9h.01M63.2 142.4h.01M65.7 159.9h.01M62.5 179.1h.01M58.0 144.5h.01M59.5 139.3h.01M58.9 138.6h.01M62.8 129.5h.01M65.1 136.7h.01M59.5 123.8h.01M61.1 138.6h.01M64.6 138.3h.01M61.5 154.7h.01M58.2 134.2h.01M60.4 141.2h.01" stroke="#ffdb00"/>
<path d="M64.8 133.8h.01M58.2 173.5h.01M60.3 140.2h.01M62.0 138.3h.01M58.7 127.1h.01M61.1 141.7h.01M62.8 152.1h.01M62.2 164.6h.01M62.4 141.7h.01M61.7 147.2h.01M57.1 168.5h.01M56.6 124.1h.01M57.2 109.4h.01M55.8 156.5h.01M61.4 155.6h.01M60.9 128.9h.01M60.8 135.0h.01M58.4 180.3h.01M58.5 139.5h.01M62.0 139.6h.01M59.4 150.1h.01M53.8 145.9h.01M63.3 137.7h.01M56.6 136.2h.01M57.3 163.8h.01M57.9 150.3h.01M60.9 154.3h.01M59.6 148.5h.01M59.6 156.8h.01M58.8 160.2h.01M63.0 147.0h.01M56.8 172.3h.01M60.0 148.3h.01M63.4 148.6h.01M61.1 153.5h.01M60.1 156.8h.01M64.0 148.1h.01M57.9 152.8h.01M64.7 151.5h.01M57.7 131.2h.01M62.9 124.5h.01M59.1 148.9h.01M58.3 164.9h.01M60.8 156.0h.01M60.3 157.4h.01M58.9 150.7h.01M62.8 132.9h.01M62.5 142.4h.01M58.0 143.1h.01M62.4 146.1h.01M58.7 149.9h.01M54.5 149.8h.01M51.8 158.2h.01M62.9 166.8h.01M59.7 143.3h.01M63.8 146.9h.01M58.1 153.5h.01M59.5 141.4h.01M58.9 155.1h.01M57.2 148.8h.01M61.7 149.0h.01M61.4 168.5h.01M58.9 151.7h.01" stroke="#ffc800"/>
<path d="M59.2 159.3h.01M58.0 155.8h.01M58.2 157.2h.01M55.1 148.5h.01M59.1 154.3h.01M59.4 152.1h.01M54.3 145.1h.01M56.5 146.8h.01M58.8 153.5h.01M58.3 148.8h.01M58.7 164.8h.01M56.1 151.6h.01M60.0 159.8h.01M59.6 169.1h.01M52.9 165.1h.01M58.9 164.2h.01M48.7 161.8h.01M57.1 136.2h.01M56.6 145.5h.01M56.6 147.6h.01M56.8 147.4h.01M56.3 156.7h.01M54.0 164.2h.01M59.1 150.5h.01M55.9 134.6h.01M52.8 147.8h.01M56.0 133.7h.01M57.8 153.2h.01M59.2 160.2h.01M54.6 144.0h.01M58.9 145.7h.01M56.0 146.9h.01M61.8 160.8h.01M59.8 157.1h.01M57.1 151.9h.01M57.0 147.6h.01M55.9 161.2h.01M56.9 143.8h.01M52.9 161.2h.01M54.1 141.5h.01M59.5 129.2h.01M55.4 164.4h.01M55.7 192.4h.01M54.6 149.3h.01M56.7 150.4h.01M62.1 127.4h.01M56.0 156.3h.01M57.7 129.0h.01M61.9 142.1h.01M52.5 141.2h.01M56.4 134.3h.01M59.0 140.5h.01M56.4 122.5h.01M59.9 149.0h.01M59.4 156.0h.01M57.4 160.7h.01" stroke="#ffb200"/>
<path d="M57.7 138.4h.01M47.8 146.9h.01M56.2 144.1h.01M54.3 144.2h.01M55.9 135.1h.01M47.1 133.1h.01M56.6 152.4h.01M56.3 164.5h.01M48.0 144.1h.01M58.5 143.2h.01M50.3 145.3h.01M52.5 136.0h.01M51.7 162.5h.01M59.6 152.5h.01M47.0 144.4h.01M57.8 145.0h.01M56.7 158.8h.01M55.6 156.5h.01M52.8 143.7h.01M51.4 142.5h.01M50.0 141.9h.01M55.3 136.6h.01M54.2 128.7h.01M56.8 168.7h.01M49.8 151.1h.01M53.0 145.3h.01M50.3 137.9h.01M55.7 141.4h.01M46.7 152.2h.01M55.2 150.3h.01M48.1 178.2h.01M53.2 152.8h.01M51.6 153.2h.01M55.3 145.1h.01M52.6 167.3h.01M55.3 157.9h.01M54.9 147.1h.01M56.1 168.5h.01M56.7 138.0h.01M59.4 137.1h.01M58.4 152.0h.01M55.0 154.7h.01M55.3 153.1h.01M56.3 156.7h.01" stroke="#ff9f00"/>
<path d="M49.8 168.8h.01M55.0 148.8h.01M47.5 146.5h.01M48.2 143.0h.01M48.1 162.7h.01M50.4 158.9h.01M51.6 159.8h.01M51.3 151.0h.01M50.1 127.5h.01M53.2 155.4h.01M53.9 136.8h.01M49.5 155.4h.01M47.5 145.6h.01M55.5 150.4h.01M57.5 184.3h.01M54.3 141.4h.01M50.8 158.7h.01M49.6 154.7h.01M47.4 142.7h.01M42.4 141.1h.01M55.2 140.4h.01M52.1 166.4h.01M55.7 129.4h.01M54.8 150.4h.01M49.9 149.8h.01M55.0 139.4h.01M48.9 147.8h.01M55.2 146.9h.01M54.1 145.5h.01M51.3 157.6h.01M50.5 145.4h.01M50.8 167.0h.01M51.4 168.1h.01M45.7 151.0h.01M52.1 146.4h.01M56.0 147.3h.01M47.4 148.1h.01M52.7 141.9h.01M54.7 138.1h.01M51.5 170.9h.01M52.9 155.2h.01M52.0 158.8h.01M55.8 143.6h.01M53.1 156.4h.01M53.2 148.6h.01M54.1 147.8h.01M54.5 146.8h.01" stroke="#ff8d00"/>
<path d="M51.4 149.4h.01M56.0 153.7h.01M51.7 144.8h.01M42.4 120.4h.01M48.0 147.9h.01M47.6 129.2h.01M56.6 147.3h.01M47.1 144.1h.01M44.4 179.3h.01M50.4 137.8h.01M49.5 126.8h.01M51.2 140.0h.01M47.2 155.5h.01M50.5 178.3h.01M52.6 171.2h.01M51.6 154.4h.01M43.5 153.2h.01M46.5 175.4h.01M52.9 149.6h.01M50.7 162.4h.01M45.8 178.8h.01M52.0 136.8h.01M52.1 138.0h.01M50.4 133.3h.01M51.3 156.4h.01M49.8 136.6h.01M46.1 140.0h.01M45.4 153.7h.01M47.6 162.3h.01M52.1 137.9h.01M52.2 149.2h.01M46.7 138.6h.01M51.5 135.5h.01M50.4 140.0h.01M49.1 151.9h.01M47.0 119.1h.01M49.3 145.6h.01M45.9 145.9h.01M44.1 143.8h.01M51.6 148.0h.01M51.5 157.0h.01M46.6 153.6h.01M44.4 139.7h.01M53.0 160.1h.01M50.6 150.5h.01M53.7 133.4h.01M51.0 146.3h.01M51.8 130.5h.01M42.3 147.0h.01M49.6 151.3h.01M49.6 185.2h.01M51.8 163.1h.01M48.4 147.1h.01M46.5 147.1h.01M42.2 141.7h.01" stroke="#ff7700"/>
<path d="M44.3 167.1h.01M47.3 148.0h.01M42.6 189.8h.01M47.7 153.6h.01M45.8 148.4h.01M49.2 148.7h.01M43.4 151.4h.01M48.7 147.8h.01M47.8 148.4h.01M44.9 148.0h.01M41.8 176.4h.01M43.7 170.8h.01M46.2 133.1h.01M43.0 146.3h.01M42.9 146.0h.01M43.5 140.5h.01M41.9 150.0h.01M46.4 149.0h.01M43.6 135.4h.01M45.9 161.2h.01M45.4 135.9h.01M46.5 138.8h.01M40.8 137.7h.01M45.2 160.1h.01M45.8 141.3h.01M52.0 145.2h.01M52.2 160.5h.01M44.4 150.5h.01M50.5 149.4h.01M46.6 143.2h.01M43.8 152.9h.01M53.7 136.6h.01M49.2 162.9h.01M52.3 128.1h.01M46.1 159.4h.01M46.6 155.3h.01M51.1 139.4h.01M47.1 184.6h.01M47.3 164.0h.01M47.2 144.8h.01" stroke="#ff6400"/>
<path d="M40.5 147.9h.01M42.8 141.9h.01M42.5 131.2h.01M43.8 154.5h.01M48.2 143.1h.01M41.2 162.0h.01M43.0 146.0h.01M41.4 149.5h.01M43.3 146.8h.01M45.2 150.4h.01M41.4 125.6h.01M41.5 136.8h.01M46.4 136.3h.01M42.1 135.0h.01M46.3 163.9h.01M43.0 150.0h.01M46.9 142.9h.01M42.8 155.6h.01M40.5 137.3h.01M44.0 161.0h.01M42.6 170.9h.01M46.1 161.5h.01M45.5 147.8h.01M48.3 157.6h.01M43.5 151.4h.01M45.0 145.6h.01M48.5 144.2h.01M40.1 144.6h.01" stroke="#ff5200"/>
<path d="M42.0 153.8h.01M45.7 143.4h.01M40.9 156.8h.01M38.4 163.7h.01M40.9 140.5h.01M45.8 154.4h.01M41.8 132.9h.01M42.5 161.8h.01M43.5 147.6h.01M40.0 161.5h.01M47.3 157.7h.01M38.4 137.4h.01M38.4 173.3h.01M43.0 158.1h.01M42.6 170.6h.01M45.4 177.3h.01M43.4 122.0h.01M37.9 148.3h.01M43.5 138.9h.01M39.0 153.5h.01M39.2 144.2h.01M38.2 142.1h.01M40.7 141.3h.01M40.2 144.8h.01M38.5 158.2h.01M40.9 128.1h.01M44.8 151.2h.01M37.8 159.6h.01M44.2 117.0h.01M42.9 142.7h.01" stroke="#ff3b00"/>
<path d="M40.9 150.7h.01M43.0 162.0h.01M38.4 150.0h.01M42.4 145.6h.01M40.4 167.0h.01M40.0 144.8h.01M40.8 125.7h.01M38.7 136.4h.01M37.7 153.1h.01M39.4 122.9h.01M39.5 153.8h.01M37.6 134.0h.01M37.8 152.2h.01M36.6 148.8h.01M37.8 136.4h.01M37.4 152.8h.01M42.2 160.0h.01M39.0 146.3h.01M46.4 134.4h.01M38.3 145.7h.01M35.8 141.8h.01M54.4 164.0h.01M40.2 149.9h.01M37.7 147.7h.01M43.0 139.6h.01M40.5 139.1h.01M43.5 137.5h.01M38.8 149.1h.01M42.5 147.5h.01M39.2 148.2h.01M39.7 140.3h.01M36.7 133.9h.01M41.5 128.8h.01" stroke="#ff2900"/>
<path d="M38.6 161.5h.01M36.7 162.4h.01M40.5 127.8h.01M40.5 153.1h.01M37.5 140.6h.01M39.7 145.9h.01M40.3 142.1h.01M41.5 147.8h.01M33.3 156.4h.01M39.1 153.8h.01M38.2 142.2h.01M40.0 161.9h.01M38.1 140.2h.01M37.5 156.4h.01M38.4 139.7h.01M36.1 151.5h.01M38.6 182.0h.01M40.3 153.7h.01M40.8 124.0h.01M39.0 138.1h.01M38.1 151.2h.01M37.8 145.2h.01M36.5 143.0h.01" stroke="#ff1600"/>
<path d="M39.0 151.7h.01M36.0 139.2h.01M37.4 116.2h.01M37.9 155.0h.01M37.7 163.2h.01M30.2 169.1h.01M37.3 152.3h.01M32.8 132.4h.01M35.2 164.8h.01M35.1 134.3h.01M38.1 162.3h.01M36.5 158.2h.01M37.4 138.6h.01M35.3 151.2h.01M35.2 136.1h.01M36.4 153.6h.01M38.4 151.1h.01M37.6 153.2h.01" stroke="#e80000"/>
<path d="M36.2 165.6h.01M33.8 154.2h.01M35.8 186.8h.01M35.9 149.7h.01M36.0 134.7h.01M35.1 138.5h.01M38.8 142.7h.01M36.1 137.5h.01M37.6 146.9h.01M35.7 151.8h.01M30.8 168.2h.01M32.3 141.9h.01M34.6 134.6h.01M33.6 133.6h.01M34.4 143.0h.01M34.7 140.5h.01M30.8 141.9h.01M31.3 154.0h.01M38.0 160.7h.01M34.1 153.4h.01" stroke="#d10000"/>
<path d="M35.9 139.0h.01M32.8 142.3h.01M31.5 152.1h.01M34.6 152.9h.01M34.2 149.4h.01M31.1 156.7h.01M34.2 146.5h.01M34.4 145.5h.01M32.6 156.4h.01M34.9 161.9h.01M35.3 118.5h.01" stroke="#bb0000"/>
<path d="M31.5 157.9h.01M30.9 151.1h.01M30.2 149.2h.01M31.7 144.3h.01M31.8 142.1h.01M31.5 144.4h.01M33.0 150.9h.01M33.5 157.2h.01" stroke="#9f0000"/>
<path d="M32.5 139.7h.01" stroke="#890000"/>
<path d="M119.8 294.8h.01" stroke="#000089"/>
<path d="M124.7 292.4h.01" stroke="#0000a4"/>
<path d="M117.2 291.4h.01M116.2 291.5h.01M116.8 290.2h.01M116.3 291.0h.01" stroke="#0000bb"/>
<path d="M117.1 290.0h.01M114.9 288.6h.01M117.3 288.6h.01" stroke="#0000d1"/>
<path d="M114.5 288.2h.01M113.3 287.5h.01M114.3 287.2h.01" stroke="#0000ed"/>
<path d="M112.9 284.9h.01M114.6 285.4h.01M110.7 285.2h.01M113.0 285.3h.01" stroke="#0000ff"/>
<path d="M111.6 284.1h.01M110.7 283.7h.01M112.5 284.8h.01" stroke="#0008ff"/>
<path d="M107.5 281.8h.01M108.7 282.8h.01M109.1 281.9h.01M109.0 282.6h.01M110.2 282.9h.01M106.4 281.6h.01M109.9 281.6h.01" stroke="#0020ff"/>
<path d="M108.5 279.9h.01M107.2 281.1h.01M106.8 280.6h.01M108.0 281.0h.01M108.5 281.2h.01M109.7 281.3h.01M110.2 280.5h.01M109.6 280.9h.01M107.9 280.3h.01M108.9 280.7h.01M106.4 280.3h.01" stroke="#0034ff"/>
<path d="M108.2 278.3h.01M107.1 279.2h.01M106.3 279.3h.01M106.2 278.5h.01M106.6 278.4h.01M106.7 278.2h.01M106.6 278.4h.01M106.4 279.4h.01M107.8 279.3h.01" stroke="#0048ff"/>
<path d="M106.4 277.8h.01M104.5 278.0h.01M107.0 277.2h.01M103.9 277.6h.01M105.8 277.9h.01M103.8 277.2h.01M107.1 277.1h.01M107.4 278.0h.01M103.8 277.3h.01M104.8 277.0h.01M105.6 276.4h.01M105.1 276.9h.01M103.5 276.6h.01M105.5 277.4h.01M105.6 276.6h.01M103.7 276.7h.01" stroke="#0060ff"/>
<path d="M102.9 275.3h.01M103.6 275.6h.01M103.3 276.0h.01M103.4 274.6h.01M106.2 275.9h.01M102.3 275.0h.01M105.1 274.6h.01M102.3 275.7h.01M103.6 275.0h.01M107.8 276.1h.01M101.4 275.5h.01M103.9 275.8h.01M104.2 275.5h.01M104.4 275.3h.01M104.9 275.5h.01M103.6 275.3h.01M104.1 274.7h.01M103.9 275.7h.01" stroke="#0074ff"/>
<path d="M100.5 273.8h.01M98.7 273.6h.01M104.5 273.7h.01M101.6 273.9h.01M104.1 273.7h.01M100.8 274.2h.01M107.8 274.1h.01M99.8 273.3h.01M103.1 272.9h.01M103.0 273.4h.01M102.3 273.7h.01M104.8 274.5h.01M101.9 273.3h.01M101.7 273.8h.01M103.2 274.6h.01M100.8 274.4h.01M100.4 273.9h.01M99.6 273.4h.01M100.1 273.9h.01M102.5 274.5h.01M102.1 274.3h.01M99.3 274.1h.01M101.8 273.1h.01M100.8 274.0h.01" stroke="#0088ff"/>
<path d="M101.5 271.9h.01M103.4 272.6h.01M101.6 272.1h.01M101.5 272.1h.01M98.0 271.9h.01M99.5 272.8h.01M99.6 272.1h.01M98.7 272.4h.01M98.4 272.5h.01M101.1 271.8h.01M100.0 272.1h.01M100.1 271.6h.01M100.6 271.5h.01M99.7 272.2h.01M99.1 272.7h.01M101.7 272.1h.01M101.3 272.4h.01M100.5 272.3h.01M99.0 271.9h.01M98.6 272.1h.01M99.7 272.7h.01M100.7 271.8h.01M100.2 271.3h.01M102.3 272.3h.01M101.5 271.5h.01M102.1 272.4h.01M100.8 272.9h.01M99.2 272.2h.01" stroke="#00a0ff"/>
<path d="M99.2 270.8h.01M100.0 270.5h.01M99.9 269.7h.01M97.1 270.5h.01M98.8 270.0h.01M97.4 271.1h.01M101.1 271.0h.01M98.9 270.8h.01M98.9 269.8h.01M96.8 270.5h.01M101.1 271.1h.01M97.1 269.7h.01M99.5 270.8h.01M97.9 269.5h.01M96.6 269.6h.01M100.6 270.5h.01M97.1 270.6h.01M100.8 271.2h.01M94.8 270.1h.01M97.2 270.4h.01M97.4 269.7h.01M98.4 270.0h.01M98.0 269.9h.01M98.1 270.7h.01M100.7 270.7h.01M99.0 269.7h.01M97.5 269.5h.01M95.6 269.7h.01M99.1 269.8h.01M98.3 269.9h.01M96.3 270.2h.01M96.2 269.8h.01M97.6 270.8h.01M98.8 270.5h.01M99.6 270.6h.01M97.3 270.4h.01" stroke="#00b4ff"/>
<path d="M96.0 269.2h.01M97.5 269.1h.01M95.2 268.6h.01M95.5 268.6h.01M97.0 268.9h.01M95.3 268.2h.01M96.3 268.0h.01M98.3 268.8h.01M94.5 268.0h.01M98.2 269.2h.01M93.9 268.8h.01M95.2 268.2h.01M96.5 268.8h.01M97.1 269.2h.01M98.4 268.2h.01M98.9 268.5h.01M96.6 269.3h.01M98.4 269.0h.01M98.0 268.0h.01M94.2 269.2h.01M94.9 268.8h.01M99.4 268.8h.01M95.0 268.1h.01M98.6 268.2h.01M94.6 268.6h.01M93.3 268.1h.01M95.2 268.6h.01M96.7 268.8h.01M97.5 268.0h.01M97.6 268.7h.01M93.6 268.0h.01M96.7 268.6h.01M93.2 268.5h.01M94.4 268.2h.01M97.0 269.2h.01M95.7 268.6h.01M98.0 268.7h.01M97.9 268.8h.01" stroke="#00c8ff"/>
<path d="M94.9 266.2h.01M95.4 266.8h.01M95.3 267.2h.01M96.4 266.5h.01M94.7 266.8h.01M94.9 267.2h.01M96.9 266.9h.01M92.0 266.3h.01M95.2 266.1h.01M95.1 267.7h.01M98.4 267.4h.01M92.6 266.8h.01M93.0 266.5h.01M94.8 266.2h.01M94.1 267.0h.01M95.1 267.5h.01M93.5 267.1h.01M90.6 266.6h.01M94.6 267.0h.01M94.2 266.1h.01M93.8 266.2h.01M96.8 267.7h.01M95.1 266.9h.01M95.3 266.6h.01M94.5 267.0h.01M94.8 266.2h.01M91.9 267.0h.01M95.4 266.8h.01M94.9 267.1h.01M95.3 266.9h.01M94.0 266.9h.01M93.5 266.3h.01M96.4 266.7h.01M94.5 266.2h.01M95.2 267.7h.01M94.5 267.5h.01M96.0 266.7h.01M94.3 266.1h.01M96.9 267.4h.01M92.2 266.4h.01M94.4 266.3h.01M93.5 266.4h.01M95.5 266.7h.01M95.6 266.2h.01M95.7 267.7h.01M94.6 267.4h.01M95.3 266.8h.01M94.5 266.6h.01M94.3 267.4h.01" stroke="#00e0fb"/>
<path d="M93.0 264.5h.01M94.1 264.6h.01M93.8 265.3h.01M93.8 264.4h.01M91.3 266.0h.01M93.9 265.1h.01M93.4 265.2h.01M95.5 265.4h.01M89.4 265.2h.01M90.0 264.7h.01M92.7 264.9h.01M93.0 265.2h.01M92.8 265.6h.01M96.7 265.2h.01M93.9 264.4h.01M90.5 265.5h.01M92.9 265.5h.01M94.3 265.6h.01M93.0 265.2h.01M94.6 265.7h.01M94.3 265.3h.01M92.0 264.4h.01M93.0 265.1h.01M91.9 264.5h.01M90.8 265.8h.01M93.2 265.3h.01M93.3 264.6h.01M92.8 265.5h.01M90.9 264.6h.01M94.5 265.1h.01M91.8 265.3h.01M93.0 265.8h.01M92.0 265.1h.01M92.2 265.9h.01M92.0 265.5h.01M93.3 264.5h.01M95.6 266.0h.01M91.2 264.9h.01M92.2 265.2h.01M93.4 265.9h.01M97.8 264.9h.01M94.1 265.5h.01M92.4 265.5h.01M91.7 265.1h.01M91.0 265.0h.01M92.8 265.0h.01M90.4 264.7h.01M89.2 264.9h.01M92.5 264.9h.01M91.6 264.5h.01M94.9 265.2h.01M93.0 265.3h.01M90.2 265.1h.01M93.1 264.9h.01M94.6 264.9h.01M92.4 264.8h.01M91.7 265.8h.01M91.6 265.5h.01M89.8 265.0h.01M94.8 265.5h.01M91.9 265.8h.01M91.7 264.8h.01M92.5 264.7h.01" stroke="#0cf4eb"/>
<path d="M93.8 264.3h.01M91.2 262.7h.01M94.9 264.1h.01M89.0 263.4h.01M88.4 263.3h.01M93.0 264.2h.01M88.5 263.2h.01M89.0 263.1h.01M88.6 263.2h.01M92.0 264.2h.01M90.2 264.2h.01M90.9 263.8h.01M94.0 263.6h.01M89.5 263.4h.01M92.4 264.3h.01M89.6 263.6h.01M91.3 263.4h.01M90.4 263.1h.01M91.1 262.8h.01M95.2 263.3h.01M92.2 264.2h.01M91.2 263.1h.01M91.2 263.4h.01M93.3 263.8h.01M93.5 264.0h.01M92.3 263.9h.01M93.0 262.7h.01M92.0 263.7h.01M91.8 264.0h.01M90.3 263.5h.01M91.2 264.3h.01M90.1 263.7h.01M93.8 264.3h.01M90.7 263.4h.01M91.2 263.9h.01M91.0 263.3h.01M91.5 263.0h.01M91.7 263.2h.01M92.8 264.2h.01M93.5 262.9h.01M89.4 263.8h.01M91.8 263.1h.01M91.7 263.1h.01M90.3 263.5h.01M88.3 263.2h.01M91.2 263.3h.01M89.9 263.6h.01M88.0 263.1h.01M90.9 262.8h.01M89.5 263.3h.01M91.5 263.4h.01M92.4 264.3h.01M90.7 264.1h.01M91.9 263.3h.01M93.1 263.6h.01M89.1 262.8h.01" stroke="#1cffdb"/>
<path d="M88.6 262.6h.01M89.4 262.4h.01M89.3 261.4h.01M90.4 261.1h.01M86.9 262.0h.01M91.2 261.8h.01M88.4 262.2h.01M89.0 261.5h.01M89.1 261.9h.01M87.0 261.0h.01M85.6 261.3h.01M91.8 261.2h.01M93.2 261.4h.01M87.9 261.0h.01M88.8 261.4h.01M91.8 262.4h.01M88.0 261.3h.01M90.2 262.3h.01M88.3 261.9h.01M88.8 261.9h.01M89.8 262.5h.01M90.2 261.9h.01M89.8 261.3h.01M89.9 261.2h.01M89.6 261.9h.01M88.7 261.0h.01M87.4 262.0h.01M87.0 261.6h.01M88.9 262.1h.01M91.2 261.2h.01M88.3 262.6h.01M88.9 262.2h.01M86.9 262.1h.01M88.5 261.7h.01M87.7 262.0h.01M87.4 261.0h.01M88.8 261.1h.01M90.9 261.6h.01M90.6 262.5h.01M91.5 262.6h.01M88.4 261.7h.01M90.1 261.6h.01M89.0 261.8h.01M92.6 262.5h.01M87.5 261.0h.01M88.2 261.8h.01M87.5 261.3h.01M90.2 261.6h.01M90.4 261.8h.01M92.5 261.7h.01M89.2 261.5h.01M90.5 261.2h.01M91.1 262.1h.01M90.7 261.0h.01M87.0 261.9h.01M92.2 262.1h.01M84.5 261.5h.01" stroke="#30ffc7"/>
<path d="M88.3 259.4h.01M88.1 260.1h.01M85.9 260.0h.01M85.6 259.8h.01M86.9 260.9h.01M83.5 259.6h.01M88.0 260.5h.01M85.9 259.6h.01M85.8 260.4h.01M87.7 259.4h.01M88.9 260.6h.01M87.0 260.3h.01M89.6 260.7h.01M89.4 260.5h.01M86.1 260.5h.01M89.6 260.5h.01M85.9 259.6h.01M85.7 259.4h.01M83.7 259.6h.01M83.9 259.3h.01M88.9 260.9h.01M90.5 260.4h.01M96.2 260.2h.01M86.9 259.8h.01M89.1 260.8h.01M86.0 259.4h.01M88.9 260.4h.01M87.5 260.0h.01M89.5 260.2h.01M85.3 260.1h.01M87.7 260.4h.01M87.1 260.3h.01M89.0 259.8h.01M88.4 260.4h.01M88.8 259.2h.01M88.0 260.9h.01M89.7 260.6h.01M88.3 260.8h.01M87.4 259.6h.01M85.5 259.6h.01M88.3 259.5h.01M86.8 260.8h.01M85.1 259.8h.01M85.6 260.0h.01M86.0 259.8h.01M88.3 260.0h.01M86.3 260.5h.01M84.2 260.0h.01M85.2 259.7h.01M85.0 260.2h.01M85.8 260.2h.01M89.8 259.5h.01M86.7 259.8h.01M90.2 260.0h.01M86.6 260.8h.01M87.7 259.7h.01M84.5 259.3h.01M85.1 259.8h.01M92.2 260.5h.01M88.1 259.2h.01M87.4 260.7h.01M88.5 259.3h.01M84.7 260.9h.01M87.7 260.2h.01M88.8 260.8h.01M89.6 259.8h.01M88.7 259.7h.01M84.5 260.0h.01" stroke="#40ffb7"/>
<path d="M84.6 257.9h.01M85.6 259.0h.01M86.6 258.1h.01M83.4 259.0h.01M88.0 258.2h.01M83.1 258.6h.01M84.5 257.7h.01M86.6 259.0h.01M83.8 258.1h.01M85.4 258.7h.01M85.5 257.9h.01M83.0 257.7h.01M89.4 259.1h.01M86.0 258.3h.01M84.2 258.3h.01M84.6 257.8h.01M88.2 258.8h.01M86.5 259.1h.01M84.7 258.5h.01M85.0 258.6h.01M86.5 258.5h.01M87.1 257.7h.01M87.0 257.7h.01M85.3 258.2h.01M87.9 258.1h.01M85.0 259.0h.01M85.4 257.5h.01M85.0 257.5h.01M87.1 257.5h.01M83.1 258.0h.01M87.7 259.0h.01M83.2 257.7h.01M83.9 258.6h.01M84.1 257.5h.01M86.4 258.9h.01M84.5 258.7h.01M87.9 257.6h.01M84.9 258.3h.01M86.7 257.8h.01M85.1 258.0h.01M86.7 258.2h.01M85.5 258.4h.01M84.8 258.5h.01M84.9 258.0h.01M87.7 257.6h.01M83.4 257.6h.01M84.8 258.1h.01M80.5 257.7h.01M86.9 259.2h.01M86.3 258.7h.01M82.5 257.6h.01M85.0 258.6h.01M85.2 258.8h.01M86.5 258.0h.01M88.4 259.1h.01M85.9 258.0h.01M85.7 258.7h.01M85.1 257.8h.01M84.8 258.3h.01M84.9 257.8h.01M85.7 257.7h.01M85.3 258.8h.01M88.8 258.1h.01M84.7 259.0h.01M84.3 258.8h.01M86.3 258.4h.01M84.8 257.6h.01M84.2 258.2h.01M84.7 258.3h.01M85.7 257.9h.01M88.8 259.1h.01M86.8 257.9h.01M86.7 258.8h.01M87.8 258.7h.01M85.5 257.8h.01" stroke="#50ffa7"/>
<path d="M83.6 256.4h.01M81.6 255.9h.01M82.7 256.1h.01M82.4 256.3h.01M79.8 256.1h.01M80.4 256.5h.01M85.0 257.3h.01M85.3 256.9h.01M77.9 256.0h.01M81.0 256.3h.01M81.7 255.8h.01M88.5 256.7h.01M87.5 256.5h.01M85.4 257.1h.01M80.4 257.4h.01M84.0 256.2h.01M86.1 257.2h.01M86.7 257.3h.01M81.8 256.3h.01M85.2 257.1h.01M83.0 257.3h.01M78.6 255.9h.01M84.1 256.3h.01M84.2 257.3h.01M81.7 256.9h.01M85.2 257.4h.01M82.5 255.9h.01M84.5 256.2h.01M82.6 256.6h.01M83.5 257.1h.01M83.3 256.8h.01M82.1 257.0h.01M81.8 255.9h.01M85.5 256.2h.01M86.5 257.3h.01M83.7 256.8h.01M85.9 257.0h.01M84.1 256.8h.01M84.0 256.2h.01M84.4 257.3h.01M82.3 255.9h.01M84.8 257.3h.01M85.3 257.3h.01M85.6 257.3h.01M80.4 256.1h.01M85.7 257.5h.01M84.7 256.6h.01M85.5 256.2h.01M86.1 256.9h.01M80.5 256.2h.01M86.5 256.4h.01M85.9 256.1h.01M86.0 255.9h.01M84.3 256.1h.01M84.6 256.9h.01M82.8 257.5h.01M83.3 256.8h.01M78.4 256.1h.01M78.5 256.0h.01M84.3 256.1h.01M82.8 257.1h.01M81.8 256.1h.01M82.5 255.9h.01M85.9 257.5h.01M85.7 256.1h.01M83.3 256.9h.01M85.1 256.1h.01M86.1 256.0h.01M86.4 257.1h.01M84.5 256.8h.01M81.6 257.0h.01M83.5 256.2h.01M83.4 257.4h.01M84.3 257.1h.01M78.3 256.3h.01M79.9 256.1h.01M81.0 256.3h.01M83.0 256.9h.01M81.2 256.9h.01M84.3 256.6h.01M82.4 257.4h.01M84.4 257.5h.01M83.2 255.9h.01M82.3 256.0h.01M83.3 257.5h.01M85.4 257.5h.01M83.1 256.7h.01M83.8 256.1h.01M82.4 256.9h.01" stroke="#63ff94"/>
<path d="M84.1 255.0h.01M81.5 254.2h.01M79.6 254.3h.01M82.2 254.9h.01M81.3 254.4h.01M83.0 254.7h.01M83.4 254.3h.01M79.4 254.8h.01M79.3 254.6h.01M80.4 254.6h.01M78.9 254.6h.01M83.5 255.1h.01M78.8 255.6h.01M80.5 255.4h.01M83.9 255.0h.01M82.8 254.4h.01M82.7 255.4h.01M80.7 255.5h.01M80.3 255.0h.01M83.1 254.3h.01M84.1 255.5h.01M83.0 254.8h.01M78.5 254.4h.01M79.9 254.8h.01M82.7 255.5h.01M82.0 254.4h.01M84.6 254.8h.01M83.1 254.9h.01M82.4 255.5h.01M82.7 255.7h.01M81.0 254.3h.01M79.8 254.3h.01M82.8 255.2h.01M81.9 254.7h.01M80.5 254.5h.01M82.5 255.4h.01M82.8 255.0h.01M85.2 255.8h.01M84.3 254.3h.01M79.9 255.0h.01M81.7 255.3h.01M82.1 255.8h.01M78.9 255.6h.01M84.2 255.4h.01M80.4 255.3h.01M78.9 254.3h.01M84.9 255.8h.01M83.5 255.8h.01M82.0 254.2h.01M82.2 254.7h.01M78.8 254.7h.01M83.1 255.5h.01M80.9 254.4h.01M81.8 255.2h.01M79.5 255.1h.01M81.4 255.4h.01M83.1 254.2h.01M83.5 255.2h.01M80.3 254.4h.01M85.4 255.0h.01M81.2 254.3h.01M85.0 255.5h.01M83.1 255.4h.01M82.3 254.2h.01M82.0 255.0h.01M83.5 255.3h.01M80.8 255.0h.01M79.7 254.3h.01M84.3 255.8h.01M80.9 254.3h.01M84.9 255.2h.01" stroke="#73ff83"/>
<path d="M81.1 253.5h.01M81.5 254.0h.01M79.4 252.6h.01M80.4 253.6h.01M80.6 253.2h.01M78.7 253.4h.01M80.8 253.2h.01M81.9 253.3h.01M81.4 252.8h.01M79.3 253.4h.01M83.5 254.1h.01M78.7 253.4h.01M78.1 253.7h.01M78.2 252.6h.01M81.9 253.2h.01M81.3 253.3h.01M77.4 253.4h.01M79.6 252.6h.01M79.3 253.6h.01M82.5 252.7h.01M80.4 253.3h.01M79.2 252.5h.01M82.0 253.4h.01M79.3 254.1h.01M80.5 253.6h.01M83.1 253.6h.01M78.7 252.8h.01M76.5 253.8h.01M82.2 253.3h.01M79.7 253.9h.01M83.4 253.6h.01M78.5 253.3h.01M78.2 252.6h.01M78.8 253.5h.01M74.7 252.9h.01M79.8 253.7h.01M77.3 252.4h.01M77.6 253.9h.01M77.8 253.3h.01M81.0 253.8h.01M81.1 252.7h.01M78.8 253.0h.01M84.2 252.8h.01M78.1 253.8h.01M81.8 253.8h.01M79.8 253.6h.01M81.5 252.8h.01M76.9 253.7h.01M79.3 252.5h.01M77.1 252.5h.01M83.2 254.1h.01M79.2 253.5h.01M73.7 253.1h.01M83.8 254.1h.01M78.1 253.0h.01M77.3 252.4h.01M78.0 252.5h.01M79.4 252.8h.01M81.4 252.5h.01M80.9 254.0h.01M79.3 252.5h.01M81.4 253.3h.01M80.7 253.2h.01M82.0 253.7h.01M82.4 253.2h.01M77.4 253.3h.01M78.6 253.1h.01M78.2 252.6h.01M78.1 253.0h.01M80.6 253.4h.01M76.0 252.6h.01M80.5 252.6h.01M83.6 253.9h.01M81.5 252.7h.01M77.9 253.6h.01M78.3 253.7h.01M78.7 252.7h.01M79.0 253.8h.01M79.2 252.5h.01M83.6 252.6h.01M76.3 252.7h.01M80.6 253.7h.01M79.2 253.1h.01M81.7 254.0h.01M78.1 252.9h.01M79.5 254.0h.01M80.5 253.7h.01M76.3 253.6h.01M80.8 253.1h.01M79.8 252.7h.01" stroke="#83ff73"/>
<path d="M71.9 250.9h.01M79.1 251.7h.01M81.0 252.2h.01M74.1 251.5h.01M75.3 251.2h.01M78.9 252.1h.01M79.2 251.8h.01M80.6 252.2h.01M81.9 252.3h.01M78.1 251.1h.01M76.5 252.0h.01M78.3 251.1h.01M80.6 252.1h.01M76.1 251.0h.01M75.1 250.8h.01M75.4 250.8h.01M74.2 252.1h.01M77.5 251.5h.01M77.6 251.0h.01M81.2 252.3h.01M76.8 252.4h.01M77.9 252.3h.01M77.5 251.8h.01M74.5 252.1h.01M78.0 251.7h.01M79.0 252.3h.01M72.4 251.4h.01M78.7 251.6h.01M76.2 252.0h.01M77.6 252.2h.01M73.9 250.8h.01M81.9 251.2h.01M79.8 250.7h.01M84.1 252.3h.01M79.8 251.0h.01M81.0 252.4h.01M77.0 250.9h.01M78.9 251.1h.01M79.6 251.3h.01M74.6 250.9h.01M73.4 250.7h.01M78.9 251.9h.01M79.0 251.1h.01M75.6 250.8h.01M76.4 250.7h.01M76.5 251.2h.01M75.3 251.2h.01M79.2 250.8h.01M78.4 251.5h.01M80.7 251.9h.01M80.6 251.8h.01M79.1 252.0h.01M79.8 252.1h.01M79.4 251.1h.01M75.4 251.8h.01M74.1 250.9h.01M78.8 251.6h.01M77.3 250.9h.01M77.7 251.6h.01M77.0 252.0h.01M76.5 251.4h.01M77.6 250.7h.01M74.5 251.0h.01M78.7 251.9h.01M82.2 252.2h.01M75.9 250.8h.01M78.5 251.8h.01M82.7 251.7h.01M74.9 250.8h.01M80.7 251.8h.01M76.5 252.0h.01M79.6 252.2h.01" stroke="#97ff60"/>
<path d="M76.8 250.6h.01M74.5 249.3h.01M74.3 249.0h.01M76.2 250.3h.01M75.2 249.7h.01M75.9 249.7h.01M75.6 250.0h.01M70.0 249.1h.01M78.5 250.7h.01M72.8 250.2h.01M73.4 249.6h.01M76.4 249.6h.01M78.7 250.5h.01M70.1 249.8h.01M75.9 250.4h.01M71.3 250.6h.01M75.1 249.4h.01M77.5 250.1h.01M76.3 250.6h.01M77.1 250.0h.01M75.6 249.9h.01M72.8 249.0h.01M80.1 250.3h.01M77.9 250.6h.01M76.6 249.2h.01M75.2 249.0h.01M73.4 249.5h.01M74.9 250.4h.01M77.9 250.4h.01M78.9 250.1h.01M77.1 249.3h.01M75.8 249.7h.01M79.1 250.1h.01M74.6 249.2h.01M79.6 250.2h.01M76.7 250.1h.01M77.4 249.4h.01M76.7 249.4h.01M78.8 250.4h.01M74.5 250.0h.01M81.2 250.2h.01M77.9 250.7h.01M73.9 249.7h.01M79.3 250.6h.01M77.6 249.7h.01M73.1 249.2h.01M77.1 250.0h.01M75.2 249.4h.01M77.0 249.8h.01M75.7 249.2h.01M75.0 250.2h.01M78.8 250.2h.01M75.1 249.1h.01M76.4 249.0h.01M71.7 249.4h.01M75.1 249.4h.01M73.3 249.2h.01M75.5 249.5h.01M75.2 250.1h.01M73.0 249.5h.01M72.7 249.1h.01M76.4 249.9h.01M73.8 250.0h.01M79.6 250.6h.01M69.9 249.6h.01M77.5 250.7h.01M76.9 250.5h.01M73.6 250.2h.01M78.5 250.3h.01M78.9 249.2h.01M75.1 249.2h.01M72.4 249.7h.01M74.3 249.2h.01M77.1 250.2h.01M76.5 249.1h.01M76.8 250.4h.01M79.2 249.1h.01M75.7 250.5h.01M72.4 249.7h.01M75.8 250.4h.01M75.6 249.8h.01M77.9 249.0h.01M73.9 249.9h.01M77.6 249.7h.01M76.2 249.2h.01M75.2 249.8h.01M74.5 249.8h.01M76.0 250.1h.01M79.4 250.3h.01M74.7 249.8h.01M76.4 249.7h.01M76.9 249.4h.01M74.1 249.8h.01M73.4 249.4h.01M77.5 250.6h.01" stroke="#a7ff50"/>
<path d="M75.0 248.8h.01M72.8 248.5h.01M71.7 248.1h.01M73.9 248.2h.01M75.6 248.5h.01M78.2 248.7h.01M76.1 248.6h.01M82.8 248.7h.01M73.7 248.4h.01M71.4 247.3h.01M73.0 248.7h.01M73.3 248.5h.01M77.9 248.2h.01M76.1 248.5h.01M74.3 248.0h.01M75.5 248.6h.01M71.2 248.5h.01M71.5 247.8h.01M70.4 247.6h.01M73.1 248.6h.01M72.0 247.9h.01M73.4 248.5h.01M76.2 248.4h.01M71.3 247.3h.01M75.5 248.7h.01M71.9 248.8h.01M67.8 248.2h.01M71.0 247.8h.01M72.4 248.6h.01M76.7 247.6h.01M72.6 248.0h.01M72.5 248.3h.01M74.4 247.6h.01M72.5 247.6h.01M72.6 248.8h.01M73.3 247.6h.01M71.5 248.6h.01M71.6 247.4h.01M70.3 248.9h.01M69.6 248.0h.01M70.1 247.9h.01M69.1 247.8h.01M72.1 248.2h.01M77.3 248.5h.01M69.6 247.9h.01M71.1 247.7h.01M72.5 247.4h.01M74.3 248.9h.01M76.5 249.0h.01M72.7 247.5h.01M73.8 248.6h.01M72.1 247.7h.01M77.4 248.6h.01M73.4 247.5h.01M78.5 248.7h.01M70.5 247.3h.01M69.7 247.3h.01M74.8 248.4h.01M71.5 247.4h.01M74.7 248.4h.01M76.4 248.4h.01M78.5 248.9h.01M70.1 248.4h.01M72.2 248.0h.01M69.7 248.6h.01M71.9 248.2h.01M73.1 247.8h.01M73.3 248.0h.01M69.3 247.7h.01M77.3 247.7h.01M72.7 248.0h.01M77.2 247.5h.01M77.9 248.6h.01M75.1 248.4h.01M70.0 248.8h.01M75.5 248.2h.01" stroke="#b7ff40"/>
<path d="M70.4 246.5h.01M67.6 245.9h.01M68.2 246.3h.01M73.0 245.7h.01M70.0 246.6h.01M72.4 245.8h.01M75.0 246.2h.01M72.3 246.6h.01M70.2 245.7h.01M70.6 245.9h.01M75.9 246.5h.01M68.3 246.3h.01M66.3 245.7h.01M73.3 245.9h.01M75.2 247.2h.01M71.8 247.0h.01M69.8 246.0h.01M71.5 246.1h.01M67.4 247.2h.01M72.4 245.7h.01M73.0 246.4h.01M71.6 245.6h.01M72.7 246.8h.01M70.7 246.4h.01M70.8 246.4h.01M70.8 246.2h.01M66.6 245.9h.01M71.0 246.1h.01M74.1 247.1h.01M69.9 246.2h.01M75.2 247.2h.01M74.0 247.2h.01M74.3 246.6h.01M68.4 245.7h.01M70.0 246.1h.01M73.8 246.6h.01M75.3 246.9h.01M71.0 247.0h.01M70.2 246.4h.01M69.8 246.1h.01M71.6 246.7h.01M72.7 246.6h.01M69.1 246.2h.01M72.9 245.9h.01M66.8 246.0h.01M73.2 247.1h.01M72.5 245.6h.01M74.1 245.8h.01M73.4 246.5h.01M71.7 245.8h.01M75.1 246.5h.01M73.4 246.8h.01M76.5 247.2h.01M68.5 246.8h.01M72.4 247.1h.01M74.7 246.8h.01M70.2 247.2h.01M72.6 245.7h.01M73.6 246.4h.01M73.0 247.2h.01M69.6 246.7h.01M71.2 247.2h.01M73.8 247.0h.01M68.8 246.3h.01M70.8 246.6h.01M73.2 247.2h.01M67.7 247.1h.01M67.8 246.3h.01M71.3 245.8h.01M72.0 246.5h.01M68.2 245.8h.01M69.4 245.8h.01M74.1 247.0h.01M68.7 247.0h.01M74.2 246.7h.01M70.1 246.3h.01M70.7 246.3h.01M68.9 245.6h.01M75.7 246.1h.01M68.5 246.1h.01M73.9 246.9h.01M74.4 247.1h.01M73.0 245.7h.01M73.1 246.1h.01M67.9 245.7h.01M71.4 247.0h.01M73.7 247.1h.01M69.9 246.7h.01M67.9 245.9h.01M67.8 245.6h.01M70.7 246.7h.01M72.5 246.9h.01M76.4 247.2h.01M71.8 245.9h.01" stroke="#caff2c"/>
<path d="M70.4 244.1h.01M70.9 245.3h.01M71.5 244.9h.01M72.3 245.2h.01M73.3 245.2h.01M70.5 245.1h.01M69.6 244.4h.01M66.8 245.4h.01M66.0 244.8h.01M69.3 244.9h.01M70.7 245.3h.01M71.7 244.5h.01M73.1 245.4h.01M71.0 245.4h.01M63.3 244.6h.01M69.2 244.6h.01M64.9 245.0h.01M65.8 243.9h.01M69.1 244.1h.01M69.4 244.3h.01M69.5 244.0h.01M66.9 243.9h.01M65.6 244.6h.01M68.1 245.1h.01M66.2 245.4h.01M68.3 245.0h.01M66.8 243.8h.01M69.5 244.1h.01M69.3 245.4h.01M69.8 243.9h.01M72.9 244.6h.01M68.4 245.3h.01M74.9 244.7h.01M69.9 244.0h.01M67.6 244.7h.01M69.9 243.9h.01M69.1 244.8h.01M71.2 244.9h.01M65.9 245.2h.01M63.3 244.1h.01M66.1 244.3h.01M70.9 244.7h.01M71.6 245.1h.01M67.5 245.3h.01M70.6 245.1h.01M70.2 245.4h.01M66.7 245.2h.01M73.6 245.5h.01M71.5 244.3h.01M66.6 244.3h.01M64.2 244.2h.01M74.9 244.9h.01M70.7 244.7h.01M69.0 245.2h.01M72.8 244.6h.01M70.3 244.5h.01M75.2 245.1h.01M66.6 243.8h.01M63.4 244.6h.01M67.0 245.4h.01M69.5 245.2h.01M73.1 245.5h.01M69.3 245.3h.01M68.1 245.3h.01M69.3 245.4h.01M64.6 245.2h.01M70.8 244.1h.01M64.7 245.5h.01M68.1 244.4h.01M65.2 244.0h.01M71.3 244.8h.01" stroke="#dbff1c"/>
<path d="M67.5 242.3h.01M66.4 242.7h.01M64.4 243.8h.01M68.2 242.1h.01M70.4 243.1h.01M68.7 243.8h.01M68.6 243.5h.01M63.1 242.1h.01M65.0 242.7h.01M66.6 243.2h.01M62.6 242.2h.01M62.5 242.9h.01M71.5 243.4h.01M63.0 243.1h.01M67.6 243.3h.01M69.4 242.8h.01M63.5 242.6h.01M65.5 243.7h.01M64.5 242.5h.01M72.5 243.2h.01M66.7 242.6h.01M69.9 243.0h.01M66.0 243.4h.01M60.7 242.7h.01M65.2 243.1h.01M63.5 242.7h.01M61.3 242.5h.01M65.4 243.1h.01M67.2 242.2h.01M62.7 242.3h.01M68.0 243.4h.01M64.4 242.3h.01M67.6 242.8h.01M68.6 243.0h.01M70.9 243.3h.01M65.8 242.2h.01M71.0 242.9h.01M69.2 242.9h.01M64.7 242.2h.01M61.6 242.4h.01M65.5 242.5h.01M63.7 243.0h.01M68.2 243.8h.01M60.7 242.6h.01M68.8 243.8h.01M66.5 243.1h.01M65.6 243.2h.01M64.5 242.4h.01M61.9 242.5h.01M67.4 242.6h.01M71.3 243.3h.01M64.4 242.8h.01M67.2 242.8h.01M62.7 243.2h.01M68.1 243.8h.01M68.7 243.7h.01M65.4 243.3h.01M69.4 243.7h.01M63.5 243.3h.01M69.6 242.2h.01M68.6 242.9h.01M64.6 242.3h.01M67.4 243.6h.01M69.3 242.9h.01M66.0 243.5h.01M70.7 243.3h.01" stroke="#ebff0c"/>
<path d="M68.1 240.9h.01M64.5 241.7h.01M68.6 241.3h.01M61.4 240.5h.01M59.2 240.6h.01M61.0 241.8h.01M61.7 241.9h.01M65.2 240.6h.01M61.9 241.2h.01M63.1 240.5h.01M64.8 241.4h.01M62.2 242.1h.01M63.7 240.6h.01M61.7 241.1h.01M64.9 241.7h.01M66.2 240.9h.01M60.4 241.5h.01M63.7 241.4h.01M67.0 240.8h.01M65.9 241.5h.01M64.0 241.5h.01M65.8 241.2h.01M65.0 241.4h.01M67.7 241.5h.01M65.0 241.7h.01M67.1 240.9h.01M62.2 241.1h.01M61.5 240.9h.01M63.0 241.9h.01M68.5 241.3h.01M62.1 240.5h.01M60.7 241.0h.01M67.0 242.0h.01M67.2 242.0h.01M60.5 240.5h.01M60.8 242.1h.01M60.8 241.8h.01M61.6 241.3h.01M63.0 241.7h.01M61.8 241.2h.01M65.7 241.4h.01M60.6 240.8h.01M60.2 240.4h.01M69.8 241.6h.01M60.7 241.7h.01M60.7 241.7h.01M63.4 241.1h.01M61.4 241.8h.01M63.3 240.7h.01M59.7 241.7h.01M65.6 240.8h.01M60.4 240.7h.01M60.8 242.0h.01M62.9 241.9h.01M63.1 240.9h.01M65.8 240.5h.01M60.5 240.8h.01M61.4 240.9h.01M62.5 241.7h.01M65.0 242.1h.01M68.3 241.4h.01M64.6 242.0h.01M66.5 241.9h.01M68.4 241.8h.01M65.8 241.9h.01M58.7 241.3h.01" stroke="#feed00"/>
<path d="M65.2 239.9h.01M64.7 240.2h.01M61.9 240.4h.01M64.0 238.8h.01M60.9 238.8h.01M60.3 239.2h.01M60.7 239.4h.01M66.8 240.1h.01M59.1 238.8h.01M65.0 239.2h.01M62.4 240.3h.01M65.4 239.5h.01M60.1 239.4h.01M60.9 239.0h.01M66.1 240.2h.01M61.3 239.9h.01M63.7 240.0h.01M60.3 240.3h.01M59.7 239.0h.01M58.3 239.4h.01M60.4 239.1h.01M59.8 239.8h.01M63.7 239.5h.01M64.1 239.7h.01M64.7 240.2h.01M64.7 239.3h.01M62.8 240.2h.01M63.6 239.6h.01M63.4 239.7h.01M66.1 240.0h.01M64.7 240.0h.01M63.2 240.2h.01M59.8 239.9h.01M62.7 239.8h.01M61.0 239.8h.01M64.3 238.9h.01M59.3 240.0h.01M60.5 239.3h.01M59.2 239.6h.01M59.8 239.6h.01M57.6 238.9h.01M63.2 239.3h.01M65.7 239.8h.01M62.5 239.7h.01M58.0 239.6h.01M59.5 240.0h.01M58.9 239.9h.01M62.8 238.9h.01M65.1 239.8h.01M59.5 239.5h.01M61.1 239.4h.01M64.6 239.7h.01M61.5 240.1h.01M58.2 240.3h.01M60.4 240.3h.01" stroke="#ffdb00"/>
<path d="M64.8 238.6h.01M58.2 237.5h.01M60.3 237.9h.01M62.0 237.9h.01M58.7 237.1h.01M61.1 238.0h.01M62.8 238.6h.01M62.2 237.6h.01M62.4 237.4h.01M61.7 238.5h.01M57.1 237.3h.01M56.6 238.3h.01M57.2 238.0h.01M55.8 237.7h.01M61.4 238.6h.01M60.9 238.1h.01M60.8 237.5h.01M58.4 238.3h.01M58.5 237.3h.01M62.0 238.3h.01M59.4 238.4h.01M53.8 238.1h.01M63.3 237.4h.01M56.6 238.3h.01M57.3 237.1h.01M57.9 238.7h.01M60.9 237.3h.01M59.6 238.6h.01M59.6 238.3h.01M58.8 238.4h.01M63.0 238.5h.01M56.8 237.9h.01M60.0 238.6h.01M63.4 238.4h.01M61.1 237.6h.01M60.1 237.6h.01M64.0 238.6h.01M57.9 237.3h.01M64.7 237.9h.01M57.7 238.2h.01M62.9 238.5h.01M59.1 238.5h.01M58.3 237.8h.01M60.9 238.2h.01M60.8 238.6h.01M60.3 237.1h.01M58.9 237.7h.01M62.8 237.9h.01M62.5 238.7h.01M58.0 238.3h.01M62.4 237.2h.01M58.7 238.6h.01M54.5 237.7h.01M51.8 238.3h.01M62.9 237.4h.01M59.7 237.6h.01M63.8 237.0h.01M58.1 238.2h.01M59.5 237.7h.01M58.9 237.4h.01M57.2 237.4h.01M61.7 238.6h.01M61.4 237.5h.01M58.9 237.5h.01" stroke="#ffc800"/>
<path d="M59.2 236.0h.01M58.0 236.9h.01M58.2 235.8h.01M55.1 235.4h.01M59.1 236.8h.01M59.4 236.8h.01M54.3 236.3h.01M56.5 235.5h.01M58.8 236.9h.01M58.3 236.0h.01M58.7 236.3h.01M56.1 235.5h.01M60.0 235.3h.01M59.6 236.8h.01M52.9 235.4h.01M58.9 236.9h.01M48.7 236.0h.01M57.1 235.4h.01M56.6 235.3h.01M56.6 236.6h.01M56.8 236.2h.01M56.3 236.2h.01M54.0 236.7h.01M59.1 235.7h.01M55.9 236.2h.01M52.8 235.7h.01M56.0 236.8h.01M57.8 236.4h.01M59.2 236.1h.01M54.6 236.6h.01M58.9 236.4h.01M56.0 236.8h.01M61.8 235.8h.01M59.8 236.9h.01M57.1 236.8h.01M57.0 236.8h.01M55.9 236.0h.01M56.9 235.7h.01M52.9 235.3h.01M54.1 236.2h.01M59.5 236.4h.01M55.4 235.9h.01M55.7 236.8h.01M54.6 236.8h.01M56.7 236.3h.01M62.1 237.0h.01M56.0 236.6h.01M57.7 236.4h.01M61.9 236.6h.01M52.5 235.4h.01M56.4 235.4h.01M59.0 236.2h.01M56.4 235.9h.01M59.9 236.5h.01M59.4 235.8h.01M57.4 236.8h.01" stroke="#ffb200"/>
<path d="M57.7 233.6h.01M47.8 234.3h.01M56.2 234.5h.01M54.3 234.0h.01M55.9 234.1h.01M47.1 234.2h.01M56.6 233.8h.01M56.3 234.2h.01M48.0 234.3h.01M58.5 234.9h.01M50.3 233.6h.01M52.0 234.1h.01M52.5 233.8h.01M51.7 233.8h.01M59.6 235.1h.01M47.0 233.8h.01M57.8 234.4h.01M56.7 234.6h.01M55.6 233.7h.01M52.8 234.5h.01M51.4 234.8h.01M50.0 234.2h.01M55.3 234.9h.01M54.2 234.2h.01M56.8 233.9h.01M49.8 234.8h.01M53.0 233.6h.01M50.3 233.8h.01M55.7 234.4h.01M46.7 234.2h.01M55.2 234.6h.01M48.1 234.2h.01M53.2 233.6h.01M51.6 233.8h.01M55.3 234.4h.01M52.6 234.0h.01M55.3 235.2h.01M54.9 234.8h.01M56.1 234.3h.01M56.7 234.2h.01M59.4 234.2h.01M58.4 235.1h.01M55.0 234.2h.01M55.3 233.6h.01M56.3 234.2h.01" stroke="#ff9f00"/>
<path d="M49.8 232.9h.01M55.0 232.5h.01M47.5 232.3h.01M48.2 232.8h.01M48.1 232.7h.01M50.4 232.6h.01M51.6 232.6h.01M51.3 232.4h.01M50.1 232.2h.01M53.2 231.9h.01M53.9 232.5h.01M49.5 232.2h.01M47.5 232.3h.01M55.5 232.1h.01M57.5 232.4h.01M54.3 233.5h.01M50.8 232.9h.01M49.6 232.2h.01M47.4 233.2h.01M42.4 232.0h.01M55.2 232.6h.01M52.1 232.7h.01M55.7 233.1h.01M54.8 233.5h.01M49.9 232.9h.01M55.0 232.3h.01M48.9 232.1h.01M55.2 233.6h.01M54.1 232.3h.01M51.3 233.6h.01M50.5 232.6h.01M50.8 232.0h.01M51.4 233.2h.01M45.7 232.3h.01M52.1 233.2h.01M56.0 232.4h.01M47.4 231.9h.01M52.7 232.5h.01M54.7 232.1h.01M51.5 233.0h.01M52.9 233.6h.01M52.0 232.1h.01M55.8 232.9h.01M53.1 231.9h.01M53.2 233.6h.01M54.1 233.4h.01M54.5 232.3h.01" stroke="#ff8d00"/>
<path d="M51.4 231.3h.01M56.0 230.7h.01M51.7 230.8h.01M42.4 231.3h.01M48.0 230.7h.01M47.6 231.4h.01M56.6 231.6h.01M47.1 231.5h.01M44.4 231.2h.01M50.4 230.9h.01M49.5 231.5h.01M51.2 231.5h.01M47.2 230.4h.01M50.5 230.6h.01M52.6 231.5h.01M51.6 231.8h.01M43.5 231.2h.01M46.5 231.0h.01M52.9 231.8h.01M50.7 231.7h.01M45.8 230.3h.01M52.0 230.5h.01M52.1 231.2h.01M50.4 231.4h.01M51.3 231.4h.01M49.8 230.7h.01M46.1 230.2h.01M45.4 231.0h.01M47.6 231.4h.01M52.1 231.1h.01M52.2 231.8h.01M46.7 231.7h.01M51.5 230.6h.01M50.4 231.4h.01M49.1 230.4h.01M47.0 230.3h.01M49.3 230.4h.01M45.9 230.8h.01M44.1 231.6h.01M51.6 230.6h.01M51.0 231.2h.01M51.5 230.6h.01M46.6 231.7h.01M44.4 230.4h.01M53.0 230.3h.01M50.6 231.9h.01M53.7 231.4h.01M51.0 230.3h.01M51.8 231.7h.01M42.3 230.2h.01M49.6 231.5h.01M49.6 231.7h.01M51.8 231.1h.01M48.4 231.2h.01M46.5 230.7h.01M42.2 231.4h.01" stroke="#ff7700"/>
<path d="M44.3 229.3h.01M47.3 229.9h.01M42.6 229.9h.01M47.7 229.4h.01M45.8 228.8h.01M49.2 230.1h.01M43.4 229.5h.01M48.7 229.8h.01M47.8 229.4h.01M44.9 228.8h.01M41.8 228.8h.01M43.7 230.0h.01M46.2 229.7h.01M43.0 229.8h.01M42.9 229.4h.01M43.5 229.3h.01M41.9 228.8h.01M46.4 229.8h.01M43.6 229.5h.01M45.9 229.0h.01M45.4 230.0h.01M46.5 229.1h.01M40.8 228.6h.01M45.2 229.2h.01M45.8 229.2h.01M52.0 228.8h.01M52.2 228.9h.01M44.4 229.7h.01M50.5 229.7h.01M46.6 228.9h.01M43.8 228.7h.01M53.7 229.8h.01M49.2 229.5h.01M52.3 228.5h.01M46.1 229.2h.01M46.6 228.4h.01M51.1 229.9h.01M47.1 229.4h.01M47.3 228.7h.01M47.2 229.7h.01" stroke="#ff6400"/>
<path d="M40.5 227.1h.01M42.8 227.0h.01M42.5 227.0h.01M43.8 228.0h.01M48.2 227.7h.01M41.2 226.8h.01M43.0 227.9h.01M41.4 227.5h.01M43.3 228.4h.01M45.2 228.4h.01M41.4 228.0h.01M41.5 227.0h.01M46.4 228.2h.01M42.1 227.1h.01M46.3 228.0h.01M43.0 226.9h.01M46.9 227.6h.01M42.8 227.3h.01M40.5 228.4h.01M44.0 228.4h.01M42.6 227.6h.01M46.1 227.4h.01M45.5 227.7h.01M48.3 227.4h.01M43.5 228.3h.01M45.0 227.1h.01M48.5 227.0h.01M40.1 228.1h.01" stroke="#ff5200"/>
<path d="M42.0 225.2h.01M45.7 226.3h.01M40.9 226.4h.01M38.4 225.5h.01M40.9 225.6h.01M45.8 225.6h.01M41.8 226.2h.01M42.5 225.8h.01M43.5 225.5h.01M40.0 226.7h.01M47.3 225.2h.01M38.4 225.7h.01M38.4 225.0h.01M43.0 225.1h.01M42.6 225.7h.01M45.4 226.5h.01M43.4 225.4h.01M37.9 225.6h.01M43.5 226.3h.01M39.0 225.9h.01M39.2 225.5h.01M38.2 225.4h.01M40.7 226.4h.01M40.2 226.4h.01M38.5 226.1h.01M40.9 226.7h.01M44.8 226.6h.01M37.8 225.1h.01M44.2 226.6h.01M42.9 226.1h.01" stroke="#ff3b00"/>
<path d="M40.9 223.3h.01M43.0 224.5h.01M38.4 224.1h.01M42.4 224.0h.01M40.4 224.3h.01M40.0 223.9h.01M40.8 223.3h.01M38.7 223.7h.01M37.7 223.9h.01M39.4 224.9h.01M39.5 223.9h.01M37.6 223.3h.01M37.8 223.4h.01M36.6 223.8h.01M37.8 223.4h.01M37.4 223.6h.01M42.2 224.5h.01M39.0 223.8h.01M46.4 224.8h.01M38.3 224.3h.01M35.8 224.2h.01M54.4 224.7h.01M40.2 223.6h.01M37.7 223.8h.01M43.0 224.6h.01M40.5 224.4h.01M43.5 224.7h.01M38.8 224.1h.01M42.5 224.8h.01M39.2 224.0h.01M39.7 224.3h.01M36.7 224.2h.01M41.5 224.8h.01" stroke="#ff2900"/>
<path d="M38.6 222.7h.01M36.7 222.8h.01M40.5 223.1h.01M40.5 222.6h.01M37.5 222.8h.01M39.7 221.9h.01M40.3 222.8h.01M41.5 222.4h.01M33.3 221.8h.01M39.1 222.4h.01M38.2 222.9h.01M40.0 223.0h.01M38.1 222.7h.01M37.5 222.9h.01M38.4 222.5h.01M36.1 222.4h.01M38.6 222.4h.01M40.3 222.7h.01M40.8 222.1h.01M39.0 223.3h.01M38.1 222.3h.01M37.8 221.9h.01M36.5 221.8h.01" stroke="#ff1600"/>
<path d="M39.0 219.9h.01M36.0 220.7h.01M37.4 221.2h.01M37.9 221.3h.01M37.7 220.6h.01M30.2 220.1h.01M37.3 221.5h.01M32.8 220.0h.01M35.2 220.9h.01M35.1 220.0h.01M38.1 220.8h.01M36.5 219.9h.01M37.4 220.4h.01M35.3 220.7h.01M35.2 220.1h.01M36.4 220.2h.01M38.4 221.2h.01M37.6 221.1h.01" stroke="#e80000"/>
<path d="M36.2 218.5h.01M33.8 218.2h.01M35.8 219.1h.01M35.9 219.9h.01M36.0 219.2h.01M35.1 219.3h.01M38.8 218.7h.01M36.1 218.5h.01M37.6 219.9h.01M35.7 219.6h.01M30.8 219.8h.01M32.3 218.7h.01M34.6 219.1h.01M33.6 218.9h.01M34.4 219.8h.01M34.7 218.9h.01M30.8 218.5h.01M31.3 219.0h.01M38.0 219.5h.01M34.1 219.6h.01" stroke="#d10000"/>
<path d="M35.9 217.7h.01M32.8 217.8h.01M31.5 218.2h.01M34.6 216.7h.01M34.2 217.0h.01M31.1 217.2h.01M34.2 217.9h.01M34.4 217.3h.01M32.6 217.2h.01M34.9 217.2h.01M35.3 216.5h.01" stroke="#bb0000"/>
<path d="M31.5 215.7h.01M30.9 215.2h.01M30.2 215.1h.01M31.7 215.1h.01M31.8 216.2h.01M31.5 215.8h.01M33.0 216.1h.01M33.5 215.2h.01" stroke="#9f0000"/>
<path d="M32.5 214.5h.01" stroke="#890000"/>
<path d="M172.5 294.8h.01" stroke="#000089"/>
<path d="M199.9 292.4h.01" stroke="#0000a4"/>
<path d="M193.2 291.4h.01M185.4 291.5h.01M192.1 290.2h.01M177.6 291.0h.01" stroke="#0000bb"/>
<path d="M177.4 290.0h.01M186.2 288.6h.01M214.3 288.6h.01" stroke="#0000d1"/>
<path d="M164.6 288.2h.01M185.6 287.5h.01M177.4 287.2h.01" stroke="#0000ed"/>
<path d="M189.2 284.9h.01M156.9 285.4h.01M182.2 285.2h.01M169.1 285.3h.01" stroke="#0000ff"/>
<path d="M201.3 284.1h.01M217.6 283.7h.01M187.3 284.8h.01" stroke="#0008ff"/>
<path d="M159.3 281.8h.01M163.5 282.8h.01M180.6 281.9h.01M202.0 282.6h.01M203.0 282.9h.01M201.6 281.6h.01M224.4 281.6h.01" stroke="#0020ff"/>
<path d="M198.9 279.9h.01M158.9 281.1h.01M183.5 280.6h.01M180.3 281.0h.01M200.8 281.2h.01M186.3 281.3h.01M190.8 280.5h.01M184.9 280.9h.01M166.0 280.3h.01M183.9 280.7h.01M208.6 280.3h.01" stroke="#0034ff"/>
<path d="M221.2 278.3h.01M183.1 279.2h.01M198.6 279.3h.01M177.6 278.5h.01M171.4 278.4h.01M203.3 278.2h.01M170.8 278.4h.01M177.6 279.4h.01M179.1 279.3h.01" stroke="#0048ff"/>
<path d="M168.0 277.8h.01M173.6 278.0h.01M178.0 277.2h.01M180.0 277.6h.01M183.9 277.9h.01M203.0 277.2h.01M176.6 277.1h.01M174.2 278.0h.01M179.2 277.3h.01M179.5 277.0h.01M192.4 276.4h.01M176.9 276.9h.01M148.3 276.6h.01M183.0 277.4h.01M154.9 276.6h.01M198.1 276.7h.01" stroke="#0060ff"/>
<path d="M184.9 275.3h.01M188.5 275.6h.01M194.8 276.0h.01M183.5 274.6h.01M197.8 275.9h.01M198.2 275.0h.01M186.9 274.6h.01M179.8 275.7h.01M171.0 275.0h.01M208.1 276.1h.01M188.0 275.5h.01M188.8 275.8h.01M188.5 275.5h.01M187.2 275.3h.01M188.6 275.5h.01M195.1 275.3h.01M206.6 274.7h.01M189.6 275.7h.01" stroke="#0074ff"/>
<path d="M171.9 273.8h.01M188.7 273.6h.01M174.5 273.7h.01M181.5 273.9h.01M193.7 273.7h.01M189.7 274.2h.01M200.7 274.1h.01M183.9 273.3h.01M189.1 272.9h.01M181.1 273.4h.01M177.0 273.7h.01M198.7 274.5h.01M142.5 273.3h.01M194.3 273.8h.01M186.7 274.6h.01M162.5 274.4h.01M163.6 273.9h.01M189.2 273.4h.01M176.0 273.9h.01M181.8 274.5h.01M181.0 274.3h.01M192.2 274.1h.01M162.4 273.1h.01M191.8 274.0h.01" stroke="#0088ff"/>
<path d="M193.9 271.9h.01M183.6 272.6h.01M187.6 272.1h.01M187.6 272.1h.01M179.8 271.9h.01M191.2 272.8h.01M190.1 272.1h.01M195.3 272.4h.01M175.2 272.5h.01M196.9 271.8h.01M186.6 272.1h.01M174.2 271.6h.01M183.2 271.5h.01M200.0 272.2h.01M185.0 272.7h.01M189.5 272.1h.01M187.1 272.4h.01M190.0 272.3h.01M182.9 271.9h.01M194.2 272.1h.01M186.7 272.7h.01M193.6 271.8h.01M174.9 271.3h.01M190.7 272.3h.01M177.7 271.5h.01M198.0 272.4h.01M191.2 272.9h.01M192.2 272.2h.01" stroke="#00a0ff"/>
<path d="M169.0 270.8h.01M197.4 270.5h.01M187.1 269.7h.01M187.0 270.5h.01M194.9 270.0h.01M188.5 271.1h.01M183.2 271.0h.01M194.5 270.8h.01M186.7 269.8h.01M185.9 270.5h.01M155.9 271.1h.01M187.8 269.7h.01M204.4 270.8h.01M173.1 269.5h.01M197.1 269.6h.01M179.8 270.5h.01M178.9 270.6h.01M182.0 271.2h.01M189.4 270.1h.01M174.1 270.4h.01M180.6 269.7h.01M193.7 270.0h.01M183.8 269.9h.01M169.3 270.7h.01M187.8 270.7h.01M187.2 269.7h.01M171.5 269.5h.01M189.2 269.7h.01M190.5 269.8h.01M176.4 269.9h.01M190.4 270.2h.01M190.4 269.8h.01M199.9 270.8h.01M165.1 270.5h.01M181.9 270.6h.01M185.7 270.4h.01" stroke="#00b4ff"/>
<path d="M189.2 269.2h.01M179.5 269.1h.01M185.0 268.6h.01M180.6 268.6h.01M181.4 268.9h.01M159.4 268.2h.01M169.4 268.0h.01M202.3 268.8h.01M178.6 268.0h.01M174.8 269.2h.01M192.6 268.8h.01M174.0 268.2h.01M200.2 268.8h.01M178.9 269.2h.01M177.8 268.2h.01M196.0 268.5h.01M195.8 269.3h.01M201.3 269.0h.01M171.0 268.0h.01M209.0 269.2h.01M161.5 268.8h.01M199.0 268.8h.01M203.3 268.1h.01M180.0 268.2h.01M182.5 268.6h.01M200.9 268.1h.01M174.7 268.6h.01M169.7 268.8h.01M202.1 268.0h.01M195.5 268.7h.01M190.1 268.0h.01M186.9 268.6h.01M177.8 268.5h.01M154.0 268.2h.01M180.7 269.2h.01M196.4 268.6h.01M190.5 268.7h.01M186.9 268.8h.01" stroke="#00c8ff"/>
<path d="M201.2 266.2h.01M166.1 266.8h.01M188.0 267.2h.01M195.0 266.5h.01M185.3 266.8h.01M205.0 267.2h.01M176.1 266.9h.01M173.4 266.3h.01M184.6 266.1h.01M201.4 267.7h.01M177.6 267.4h.01M158.5 266.8h.01M179.9 266.5h.01M198.4 266.2h.01M193.9 267.0h.01M173.1 267.5h.01M178.4 267.1h.01M194.4 266.6h.01M176.8 267.0h.01M174.1 266.1h.01M200.8 266.2h.01M183.3 267.7h.01M174.0 266.9h.01M186.4 266.6h.01M174.8 267.0h.01M179.6 266.2h.01M187.9 267.0h.01M173.6 266.8h.01M177.1 267.1h.01M201.3 266.9h.01M200.6 266.9h.01M172.4 266.3h.01M175.6 266.7h.01M179.4 266.2h.01M193.4 267.7h.01M163.8 267.5h.01M203.1 266.7h.01M171.3 266.1h.01M178.6 267.4h.01M179.9 266.4h.01M183.0 266.3h.01M226.0 266.4h.01M175.3 266.7h.01M215.9 266.2h.01M172.9 267.7h.01M191.2 267.4h.01M161.9 266.8h.01M190.6 266.6h.01M194.1 267.4h.01" stroke="#00e0fb"/>
<path d="M191.2 264.5h.01M192.2 264.6h.01M201.3 265.3h.01M145.8 264.4h.01M195.3 266.0h.01M191.5 265.1h.01M184.6 265.2h.01M189.0 265.4h.01M211.7 265.2h.01M196.9 264.7h.01M230.0 264.9h.01M171.8 265.2h.01M188.9 265.6h.01M180.7 265.2h.01M187.6 264.4h.01M196.4 265.5h.01M199.3 265.5h.01M189.2 265.6h.01M184.6 265.2h.01M183.2 265.7h.01M178.3 265.3h.01M165.0 264.4h.01M144.9 265.1h.01M208.3 264.5h.01M183.8 265.8h.01M182.2 265.3h.01M201.2 264.6h.01M184.6 265.5h.01M177.3 264.6h.01M199.1 265.1h.01M159.5 265.3h.01M191.1 265.8h.01M183.3 265.1h.01M167.3 265.9h.01M180.3 265.5h.01M212.7 264.5h.01M182.9 266.0h.01M175.2 264.9h.01M167.0 265.2h.01M182.4 265.9h.01M171.7 264.9h.01M192.2 265.5h.01M191.8 265.5h.01M177.7 265.1h.01M176.0 265.0h.01M167.7 265.0h.01M182.6 264.7h.01M185.2 264.9h.01M188.8 264.9h.01M179.3 264.5h.01M195.3 265.2h.01M171.5 265.3h.01M209.4 265.1h.01M183.8 264.9h.01M215.8 264.9h.01M167.2 264.8h.01M189.4 265.8h.01M174.5 265.5h.01M185.9 265.0h.01M183.4 265.5h.01M183.0 265.8h.01M147.6 264.8h.01M204.5 264.7h.01" stroke="#0cf4eb"/>
<path d="M199.6 264.3h.01M174.0 262.7h.01M183.6 264.1h.01M203.0 263.4h.01M176.9 263.3h.01M190.7 264.2h.01M200.4 263.2h.01M181.9 263.1h.01M181.9 263.2h.01M204.3 264.2h.01M176.3 264.2h.01M170.7 263.8h.01M174.2 263.6h.01M179.9 263.4h.01M194.1 264.3h.01M186.0 263.6h.01M182.5 263.4h.01M185.8 263.1h.01M193.1 262.8h.01M178.7 263.3h.01M196.6 264.2h.01M182.2 263.1h.01M187.0 263.4h.01M159.7 263.8h.01M177.2 264.0h.01M161.5 263.9h.01M176.9 262.7h.01M184.9 264.0h.01M181.5 263.5h.01M191.3 264.3h.01M185.0 263.7h.01M199.1 264.3h.01M189.1 263.4h.01M196.1 263.9h.01M192.1 263.3h.01M181.0 263.0h.01M178.7 263.2h.01M163.1 264.2h.01M176.1 262.9h.01M175.3 263.8h.01M193.7 263.1h.01M186.4 263.1h.01M189.8 263.5h.01M156.8 263.2h.01M194.6 263.3h.01M183.1 263.6h.01M168.7 263.1h.01M191.2 262.8h.01M190.1 263.3h.01M194.6 263.4h.01M178.7 264.3h.01M185.4 264.1h.01M185.3 263.3h.01M186.1 263.6h.01M172.1 262.8h.01" stroke="#1cffdb"/>
<path d="M194.6 262.6h.01M182.7 262.4h.01M167.6 261.4h.01M179.0 261.1h.01M182.4 262.0h.01M177.0 261.8h.01M181.0 262.2h.01M201.3 261.5h.01M200.8 261.9h.01M205.1 261.0h.01M182.8 261.3h.01M199.6 261.2h.01M198.6 261.4h.01M187.7 261.0h.01M183.5 261.4h.01M212.2 262.4h.01M166.1 261.3h.01M186.2 262.3h.01M180.1 261.9h.01M176.4 261.9h.01M202.1 262.5h.01M188.7 261.9h.01M191.0 261.3h.01M159.0 261.2h.01M198.7 261.9h.01M183.3 261.0h.01M184.7 262.0h.01M181.8 261.6h.01M192.7 262.1h.01M203.6 261.2h.01M175.8 262.6h.01M204.6 262.2h.01M204.4 262.1h.01M209.1 261.7h.01M179.9 262.0h.01M200.3 261.0h.01M184.3 261.1h.01M194.0 261.6h.01M173.8 262.5h.01M183.0 262.6h.01M177.9 261.7h.01M172.5 261.6h.01M203.9 261.8h.01M199.8 262.5h.01M155.8 261.0h.01M189.2 261.8h.01M186.5 261.3h.01M196.0 261.6h.01M187.0 261.8h.01M164.2 261.7h.01M171.3 261.5h.01M182.7 261.2h.01M176.3 262.1h.01M183.5 261.0h.01M190.1 261.9h.01M180.5 262.1h.01M166.2 261.5h.01" stroke="#30ffc7"/>
<path d="M182.7 259.4h.01M158.0 260.1h.01M182.8 260.0h.01M189.5 259.8h.01M166.4 260.9h.01M187.9 259.6h.01M174.1 260.5h.01M174.6 259.6h.01M180.7 260.4h.01M185.6 259.4h.01M187.5 260.6h.01M171.9 260.3h.01M189.4 260.7h.01M179.3 260.5h.01M180.1 260.5h.01M186.0 260.5h.01M193.9 259.6h.01M204.2 259.4h.01M180.6 259.6h.01M198.8 259.3h.01M193.6 260.9h.01M196.3 260.4h.01M175.2 260.2h.01M187.0 259.8h.01M178.7 260.8h.01M171.2 259.4h.01M189.7 260.4h.01M193.6 260.0h.01M193.4 260.2h.01M182.0 260.1h.01M178.3 260.4h.01M158.8 260.3h.01M178.8 259.8h.01M165.2 260.4h.01M202.8 259.2h.01M189.6 260.9h.01M185.2 260.6h.01M191.9 260.8h.01M190.1 259.6h.01M185.0 259.6h.01M191.5 259.5h.01M195.3 260.8h.01M193.8 259.8h.01M188.3 260.0h.01M182.2 259.8h.01M174.5 260.0h.01M199.3 260.5h.01M191.2 260.0h.01M188.2 259.7h.01M176.1 260.2h.01M198.8 260.2h.01M165.2 259.5h.01M175.8 259.8h.01M175.8 260.0h.01M179.7 260.8h.01M177.4 259.7h.01M178.0 259.3h.01M185.1 259.8h.01M177.6 260.5h.01M208.4 259.2h.01M174.7 260.7h.01M167.7 259.3h.01M182.8 260.9h.01M191.0 260.2h.01M173.4 260.8h.01M187.9 259.8h.01M185.1 259.7h.01M183.3 260.0h.01" stroke="#40ffb7"/>
<path d="M181.6 257.9h.01M182.5 259.0h.01M193.0 258.1h.01M209.7 259.0h.01M208.1 258.2h.01M204.8 258.6h.01M186.1 257.7h.01M182.7 259.0h.01M197.6 258.1h.01M173.8 258.7h.01M213.6 257.9h.01M180.2 257.7h.01M183.9 259.1h.01M192.1 258.3h.01M206.4 258.3h.01M193.3 257.8h.01M178.2 258.8h.01M191.5 259.1h.01M181.6 258.5h.01M186.6 258.6h.01M182.2 258.5h.01M196.8 257.7h.01M174.8 257.7h.01M183.9 258.2h.01M195.2 258.1h.01M192.5 259.0h.01M189.5 257.5h.01M172.2 257.5h.01M157.4 257.5h.01M182.8 258.0h.01M203.8 259.0h.01M168.6 257.7h.01M175.9 258.6h.01M173.2 257.5h.01M185.3 258.9h.01M180.7 258.7h.01M170.4 257.6h.01M186.7 258.3h.01M194.2 257.8h.01M191.9 258.0h.01M170.3 258.2h.01M175.0 258.4h.01M196.5 258.5h.01M184.5 258.0h.01M173.5 257.6h.01M186.5 257.6h.01M152.2 258.1h.01M183.9 257.7h.01M202.9 259.2h.01M167.6 258.7h.01M204.3 257.6h.01M173.3 258.6h.01M183.0 258.8h.01M192.9 258.0h.01M177.1 259.1h.01M195.0 258.0h.01M194.0 258.7h.01M182.4 257.8h.01M178.9 258.3h.01M170.9 257.8h.01M178.0 257.7h.01M179.8 258.8h.01M217.1 258.1h.01M137.6 259.0h.01M190.3 258.8h.01M177.8 258.4h.01M209.1 257.6h.01M178.1 258.2h.01M177.1 258.3h.01M194.1 257.9h.01M192.1 259.1h.01M192.6 257.9h.01M179.5 258.8h.01M195.1 258.7h.01M195.0 257.8h.01" stroke="#50ffa7"/>
<path d="M169.3 256.4h.01M181.7 255.9h.01M192.7 256.1h.01M178.1 256.3h.01M195.7 256.1h.01M201.6 256.5h.01M207.1 257.3h.01M210.1 256.9h.01M200.0 256.0h.01M185.0 256.3h.01M205.5 255.8h.01M194.9 256.7h.01M176.5 256.5h.01M196.3 257.1h.01M189.2 257.4h.01M185.4 256.2h.01M180.2 257.2h.01M207.4 257.3h.01M181.5 256.3h.01M191.7 257.1h.01M186.5 257.3h.01M184.2 255.9h.01M191.5 256.3h.01M179.3 257.3h.01M182.6 256.9h.01M192.0 257.4h.01M177.3 255.9h.01M180.5 256.2h.01M195.3 256.6h.01M195.0 257.1h.01M172.4 256.8h.01M206.8 257.0h.01M188.2 255.9h.01M185.0 256.2h.01M156.0 257.3h.01M185.9 256.8h.01M212.2 257.0h.01M177.8 256.8h.01M185.2 256.2h.01M180.4 257.3h.01M167.0 255.9h.01M201.3 257.3h.01M179.4 257.3h.01M186.7 257.3h.01M186.9 256.1h.01M178.6 257.5h.01M166.9 256.6h.01M171.1 256.2h.01M182.6 256.9h.01M175.8 256.2h.01M211.0 256.4h.01M167.8 256.1h.01M182.8 255.9h.01M185.7 256.1h.01M183.7 256.9h.01M194.7 257.5h.01M176.2 256.8h.01M157.1 256.1h.01M189.8 256.0h.01M177.9 256.1h.01M178.2 257.1h.01M202.8 256.1h.01M177.2 255.9h.01M187.1 257.5h.01M188.9 256.1h.01M157.9 256.9h.01M185.5 256.1h.01M187.6 256.0h.01M207.6 257.1h.01M177.8 256.8h.01M189.9 257.0h.01M188.1 256.2h.01M157.8 257.4h.01M167.9 257.1h.01M177.7 256.3h.01M202.6 256.1h.01M191.1 256.3h.01M187.1 256.9h.01M172.6 256.9h.01M173.1 256.6h.01M180.9 257.4h.01M191.9 257.5h.01M183.3 255.9h.01M180.8 256.0h.01M170.7 257.5h.01M211.9 257.5h.01M178.2 256.7h.01M163.5 256.1h.01M167.4 256.9h.01" stroke="#63ff94"/>
<path d="M190.0 255.0h.01M157.0 254.2h.01M199.2 254.9h.01M183.7 254.4h.01M206.8 254.7h.01M180.3 254.3h.01M206.2 254.8h.01M162.9 254.6h.01M193.0 254.6h.01M190.0 254.6h.01M185.6 255.1h.01M202.8 255.6h.01M182.4 255.4h.01M181.2 255.0h.01M180.0 254.4h.01M189.3 255.4h.01M186.3 255.5h.01M200.7 255.0h.01M190.4 254.3h.01M190.0 255.5h.01M178.6 254.8h.01M186.6 254.4h.01M178.9 254.8h.01M185.9 255.5h.01M209.4 254.4h.01M171.5 254.8h.01M177.6 254.9h.01M186.0 255.5h.01M199.6 255.7h.01M190.6 254.3h.01M168.1 254.3h.01M206.2 255.2h.01M184.2 254.7h.01M184.8 254.5h.01M177.5 255.4h.01M177.6 255.0h.01M182.0 255.8h.01M177.3 254.3h.01M191.5 255.0h.01M190.8 255.3h.01M200.9 255.8h.01M178.5 255.6h.01M167.4 255.4h.01M189.9 255.3h.01M184.7 254.3h.01M192.6 255.8h.01M180.2 255.8h.01M195.4 254.2h.01M181.6 254.7h.01M136.6 254.7h.01M170.4 255.5h.01M174.5 254.4h.01M178.7 255.2h.01M167.9 255.1h.01M179.1 255.4h.01M192.3 254.2h.01M166.0 255.2h.01M189.9 254.4h.01M213.1 255.0h.01M183.5 254.3h.01M176.1 255.5h.01M197.1 255.4h.01M183.6 254.2h.01M149.8 255.0h.01M189.9 255.3h.01M195.1 255.0h.01M207.2 254.3h.01M186.6 255.8h.01M182.0 254.3h.01M176.7 255.2h.01" stroke="#73ff83"/>
<path d="M172.3 253.5h.01M198.8 254.0h.01M170.7 252.6h.01M184.8 253.6h.01M184.0 253.2h.01M183.0 253.4h.01M174.6 253.2h.01M184.2 253.3h.01M158.6 252.8h.01M183.3 253.4h.01M191.6 254.1h.01M174.8 253.4h.01M179.6 253.7h.01M175.3 252.6h.01M191.3 253.2h.01M183.1 253.4h.01M177.9 252.6h.01M193.3 253.6h.01M190.2 252.7h.01M177.3 253.3h.01M174.4 252.5h.01M178.6 253.4h.01M192.5 254.1h.01M178.0 253.6h.01M178.5 253.6h.01M182.0 252.8h.01M176.3 253.8h.01M221.3 253.3h.01M175.8 253.9h.01M204.0 253.6h.01M184.2 253.3h.01M204.7 252.6h.01M184.5 253.5h.01M194.6 252.9h.01M192.9 253.7h.01M196.3 252.4h.01M178.4 253.9h.01M200.7 253.3h.01M188.3 253.8h.01M195.5 252.7h.01M195.6 253.0h.01M182.2 252.8h.01M176.6 253.8h.01M189.7 253.8h.01M181.0 253.6h.01M200.2 252.8h.01M176.3 253.7h.01M168.8 252.5h.01M196.1 252.5h.01M194.4 254.1h.01M198.3 253.5h.01M189.2 253.1h.01M164.6 254.1h.01M168.7 253.0h.01M180.7 252.4h.01M183.1 252.5h.01M195.0 252.8h.01M186.0 252.5h.01M178.3 254.0h.01M181.9 252.5h.01M195.1 253.3h.01M176.9 253.2h.01M172.6 253.7h.01M163.9 253.2h.01M175.8 253.3h.01M186.1 253.1h.01M186.3 252.6h.01M180.4 253.0h.01M187.9 253.4h.01M177.0 252.6h.01M186.6 252.6h.01M186.9 253.9h.01M186.8 252.7h.01M180.2 253.6h.01M179.3 253.7h.01M170.6 252.7h.01M190.2 253.8h.01M195.4 252.5h.01M193.1 252.6h.01M181.7 252.7h.01M186.8 253.7h.01M189.6 253.1h.01M203.2 254.0h.01M189.1 252.9h.01M178.5 254.0h.01M177.0 253.7h.01M165.6 253.6h.01M191.8 253.1h.01M191.2 252.7h.01" stroke="#83ff73"/>
<path d="M190.4 250.9h.01M179.4 251.7h.01M176.4 252.2h.01M180.1 251.5h.01M199.3 251.2h.01M185.1 252.1h.01M201.2 251.8h.01M193.6 252.2h.01M199.1 252.3h.01M196.6 251.1h.01M190.6 252.0h.01M189.1 251.1h.01M167.7 252.1h.01M184.2 251.0h.01M193.7 250.8h.01M180.6 250.8h.01M187.7 252.1h.01M173.4 251.5h.01M199.9 251.0h.01M193.2 252.3h.01M182.9 252.4h.01M190.5 252.3h.01M168.0 251.8h.01M195.3 252.1h.01M173.2 251.7h.01M166.2 252.3h.01M191.6 251.4h.01M201.0 251.6h.01M181.6 252.0h.01M195.4 252.2h.01M200.6 250.8h.01M183.9 251.2h.01M188.7 250.7h.01M207.2 252.3h.01M159.0 251.0h.01M189.6 252.4h.01M176.6 250.9h.01M188.1 251.1h.01M195.4 251.3h.01M183.1 250.9h.01M188.6 250.7h.01M177.1 251.9h.01M197.4 251.1h.01M196.2 250.8h.01M188.0 250.7h.01M166.5 251.2h.01M184.4 251.2h.01M183.0 250.8h.01M183.1 251.5h.01M180.1 251.9h.01M167.8 251.8h.01M190.8 252.0h.01M184.8 252.1h.01M174.7 251.1h.01M167.1 251.8h.01M193.3 250.9h.01M169.5 251.6h.01M197.7 250.9h.01M156.1 251.6h.01M193.8 252.0h.01M187.4 251.4h.01M189.4 250.7h.01M208.2 251.0h.01M173.2 251.9h.01M184.9 252.2h.01M197.9 250.8h.01M197.6 251.8h.01M189.4 251.7h.01M174.6 250.8h.01M193.6 251.8h.01M209.8 252.0h.01M194.2 252.2h.01" stroke="#97ff60"/>
<path d="M196.3 250.6h.01M190.4 249.3h.01M187.4 249.0h.01M168.4 250.3h.01M189.8 249.7h.01M204.8 249.7h.01M171.4 250.0h.01M199.3 249.1h.01M195.1 250.7h.01M195.8 250.2h.01M185.7 249.6h.01M173.7 249.6h.01M188.1 250.5h.01M190.1 249.8h.01M194.0 250.4h.01M191.1 250.6h.01M179.4 249.4h.01M188.1 250.1h.01M187.7 250.6h.01M189.0 250.0h.01M189.6 249.9h.01M203.2 249.0h.01M174.6 250.3h.01M226.0 250.6h.01M172.6 249.2h.01M184.0 249.0h.01M185.6 249.5h.01M174.8 250.4h.01M190.4 250.4h.01M181.9 250.1h.01M190.9 249.3h.01M187.8 249.7h.01M164.7 250.1h.01M183.9 249.2h.01M182.0 250.2h.01M190.5 250.1h.01M204.1 249.4h.01M194.8 249.4h.01M192.1 250.4h.01M183.7 250.0h.01M191.4 250.2h.01M173.2 250.7h.01M192.2 249.7h.01M200.2 250.6h.01M186.8 249.7h.01M178.9 249.2h.01M190.4 250.0h.01M191.4 249.4h.01M187.5 249.8h.01M190.3 249.2h.01M189.6 250.2h.01M164.4 250.2h.01M204.1 249.0h.01M176.5 249.4h.01M195.1 249.4h.01M180.3 249.2h.01M182.0 249.5h.01M170.2 250.1h.01M189.3 249.5h.01M206.5 249.1h.01M166.2 249.9h.01M181.3 250.0h.01M176.7 250.6h.01M196.4 249.6h.01M186.7 250.7h.01M182.4 250.5h.01M197.6 250.2h.01M175.6 250.3h.01M177.3 249.2h.01M178.7 249.2h.01M164.3 249.7h.01M176.9 249.2h.01M192.1 250.2h.01M179.6 249.1h.01M208.7 250.4h.01M191.0 249.1h.01M157.0 250.5h.01M186.6 249.7h.01M188.8 250.4h.01M174.0 249.8h.01M175.4 249.0h.01M193.7 249.9h.01M193.3 249.7h.01M186.0 249.2h.01M181.3 249.8h.01M186.2 249.8h.01M199.4 250.1h.01M171.2 250.3h.01M180.2 249.8h.01M212.5 249.7h.01M187.8 249.4h.01M172.6 249.8h.01M191.0 249.4h.01M173.2 250.6h.01" stroke="#a7ff50"/>
<path d="M175.2 248.8h.01M206.4 248.5h.01M185.7 248.1h.01M185.2 248.2h.01M186.0 248.5h.01M187.7 248.7h.01M192.7 248.6h.01M197.2 248.7h.01M198.7 248.4h.01M182.7 247.3h.01M188.0 248.7h.01M199.0 248.5h.01M181.8 248.2h.01M194.5 248.5h.01M170.3 248.0h.01M179.0 248.6h.01M163.3 248.5h.01M193.1 247.8h.01M184.6 247.6h.01M185.4 248.6h.01M187.2 247.9h.01M187.9 248.5h.01M175.2 248.4h.01M173.7 247.3h.01M170.7 248.7h.01M183.8 248.8h.01M178.8 248.2h.01M183.5 247.8h.01M153.6 248.6h.01M176.1 247.6h.01M189.1 248.0h.01M200.1 248.3h.01M188.3 247.6h.01M201.2 247.6h.01M174.0 248.8h.01M180.6 247.6h.01M192.9 248.6h.01M193.5 247.4h.01M190.5 248.9h.01M193.1 248.0h.01M179.2 247.9h.01M179.5 247.8h.01M193.8 248.2h.01M177.7 248.5h.01M188.3 247.9h.01M190.6 247.7h.01M195.2 247.4h.01M199.4 248.9h.01M163.8 249.0h.01M166.1 247.5h.01M204.8 248.6h.01M188.8 247.7h.01M181.6 248.6h.01M166.9 247.5h.01M189.5 248.7h.01M186.8 247.3h.01M164.0 247.3h.01M191.5 248.4h.01M150.2 247.4h.01M196.4 248.4h.01M184.4 248.4h.01M175.8 248.9h.01M212.6 248.4h.01M183.8 248.0h.01M170.8 248.6h.01M177.5 248.2h.01M189.3 247.8h.01M170.0 248.0h.01M191.4 247.7h.01M203.2 247.7h.01M172.7 248.0h.01M187.6 247.5h.01M191.5 248.6h.01M174.0 248.4h.01M178.3 248.8h.01M185.3 248.2h.01" stroke="#b7ff40"/>
<path d="M167.1 246.5h.01M182.2 245.9h.01M184.2 246.3h.01M179.1 245.7h.01M169.7 246.6h.01M206.8 245.8h.01M189.5 246.2h.01M180.1 246.6h.01M195.0 245.7h.01M196.7 245.9h.01M184.3 246.5h.01M161.5 246.3h.01M184.3 245.7h.01M181.8 245.9h.01M171.9 247.2h.01M175.6 247.0h.01M187.0 246.0h.01M201.2 246.1h.01M186.6 247.2h.01M195.8 246.4h.01M181.6 245.6h.01M182.6 246.8h.01M194.8 246.4h.01M216.0 246.4h.01M162.8 246.2h.01M170.0 245.9h.01M168.2 246.1h.01M171.5 247.1h.01M185.4 246.2h.01M174.6 247.2h.01M209.8 247.2h.01M177.5 246.6h.01M188.1 245.7h.01M196.8 246.1h.01M193.9 246.6h.01M196.6 246.9h.01M194.8 247.0h.01M197.3 246.4h.01M172.0 246.1h.01M204.3 246.7h.01M196.9 246.6h.01M181.5 246.2h.01M179.8 245.9h.01M181.1 246.0h.01M197.9 247.1h.01M189.3 245.6h.01M186.1 245.8h.01M166.5 246.5h.01M189.0 245.8h.01M171.4 246.5h.01M202.9 246.8h.01M180.3 247.2h.01M199.2 246.8h.01M192.9 247.1h.01M192.2 246.8h.01M225.6 247.2h.01M181.3 245.7h.01M161.6 246.4h.01M189.3 247.2h.01M182.4 246.7h.01M197.1 247.2h.01M186.2 247.0h.01M195.2 246.3h.01M181.7 246.6h.01M179.9 247.2h.01M170.7 247.1h.01M164.1 246.3h.01M201.8 245.8h.01M176.2 246.5h.01M203.9 245.8h.01M185.9 245.8h.01M173.2 247.0h.01M189.2 247.0h.01M206.9 246.7h.01M210.5 246.3h.01M182.1 246.3h.01M193.2 245.6h.01M175.6 246.1h.01M181.8 246.1h.01M183.0 246.9h.01M187.3 247.1h.01M179.3 245.7h.01M183.7 246.1h.01M179.0 245.7h.01M203.9 247.0h.01M191.5 247.1h.01M168.8 246.7h.01M191.0 245.9h.01M194.0 245.6h.01M189.8 246.7h.01M185.7 246.9h.01M199.8 247.2h.01M188.8 245.9h.01" stroke="#caff2c"/>
<path d="M172.9 244.1h.01M187.1 245.3h.01M213.4 244.9h.01M194.4 245.2h.01M181.3 245.2h.01M195.4 245.1h.01M189.5 244.4h.01M185.7 245.4h.01M185.4 244.8h.01M186.0 244.9h.01M161.9 245.3h.01M181.9 244.5h.01M166.4 245.4h.01M186.6 245.4h.01M194.7 244.6h.01M165.7 244.6h.01M195.4 245.0h.01M193.4 243.9h.01M175.7 244.1h.01M214.2 244.3h.01M205.3 244.0h.01M182.5 243.9h.01M189.3 244.6h.01M175.2 245.1h.01M206.5 245.4h.01M181.4 245.0h.01M200.5 243.8h.01M185.5 244.1h.01M199.1 245.4h.01M173.9 243.9h.01M162.8 244.6h.01M180.0 245.3h.01M179.9 244.7h.01M188.8 244.0h.01M177.9 244.7h.01M163.3 243.9h.01M168.6 244.8h.01M177.8 244.9h.01M182.4 245.2h.01M187.3 244.1h.01M201.0 244.3h.01M182.0 244.7h.01M192.8 245.1h.01M165.2 245.3h.01M184.6 245.1h.01M172.5 245.4h.01M195.6 245.2h.01M175.5 245.5h.01M180.5 244.3h.01M201.8 244.3h.01M184.3 244.2h.01M184.0 244.9h.01M188.0 244.7h.01M188.3 245.2h.01M175.7 244.6h.01M165.6 244.5h.01M185.5 245.1h.01M186.4 243.8h.01M185.2 244.6h.01M166.1 245.4h.01M193.3 245.2h.01M173.5 245.5h.01M190.1 245.3h.01M188.8 245.3h.01M187.7 245.4h.01M180.3 245.2h.01M185.0 244.1h.01M171.7 245.5h.01M193.8 244.4h.01M155.4 244.0h.01M170.1 244.8h.01" stroke="#dbff1c"/>
<path d="M203.5 242.3h.01M199.2 242.7h.01M203.2 243.8h.01M177.5 242.1h.01M177.0 243.1h.01M181.4 243.8h.01M174.5 243.5h.01M196.3 242.1h.01M197.1 242.7h.01M175.4 243.2h.01M172.8 242.2h.01M179.1 242.9h.01M178.7 243.4h.01M188.4 243.1h.01M192.9 243.3h.01M193.7 242.8h.01M162.7 242.6h.01M182.6 243.7h.01M182.5 242.5h.01M202.9 243.2h.01M174.9 242.6h.01M183.9 243.0h.01M220.8 243.4h.01M180.6 242.7h.01M170.2 243.1h.01M188.7 242.7h.01M179.0 242.5h.01M137.0 243.1h.01M186.8 242.2h.01M186.1 242.3h.01M197.2 243.4h.01M186.5 242.3h.01M189.9 242.8h.01M165.1 243.0h.01M189.0 243.3h.01M182.4 242.2h.01M197.2 242.9h.01M194.2 242.9h.01M176.0 242.2h.01M209.5 242.4h.01M194.8 242.5h.01M179.0 243.0h.01M176.9 243.8h.01M169.4 242.6h.01M193.3 243.8h.01M164.7 243.1h.01M180.3 243.2h.01M188.7 242.4h.01M199.7 242.5h.01M187.5 242.6h.01M186.4 243.3h.01M183.5 242.8h.01M179.5 242.8h.01M184.9 243.2h.01M191.2 243.8h.01M197.5 243.7h.01M200.0 243.3h.01M174.0 243.7h.01M181.8 243.3h.01M178.1 242.2h.01M188.5 242.9h.01M200.1 242.3h.01M184.1 243.6h.01M180.8 242.9h.01M173.2 243.5h.01M184.6 243.3h.01" stroke="#ebff0c"/>
<path d="M177.0 240.9h.01M195.5 241.7h.01M211.5 241.3h.01M175.3 240.5h.01M185.1 240.6h.01M184.5 241.8h.01M196.8 241.9h.01M180.5 240.6h.01M188.9 241.2h.01M182.4 240.5h.01M178.0 241.4h.01M215.0 242.1h.01M177.4 240.6h.01M191.0 241.1h.01M186.7 241.7h.01M174.7 240.9h.01M189.8 241.5h.01M182.1 241.4h.01M185.4 240.8h.01M184.2 241.5h.01M206.3 241.5h.01M208.4 241.2h.01M190.5 241.4h.01M161.7 241.5h.01M178.8 241.7h.01M188.2 240.9h.01M175.5 241.1h.01M190.8 240.9h.01M182.4 241.9h.01M162.2 241.3h.01M207.3 240.5h.01M185.1 241.0h.01M185.8 242.0h.01M188.2 242.0h.01M167.4 240.5h.01M198.1 242.1h.01M166.8 241.8h.01M195.1 241.3h.01M211.6 241.7h.01M180.4 241.2h.01M185.9 241.4h.01M188.6 240.8h.01M210.8 240.4h.01M178.3 241.6h.01M162.0 241.7h.01M157.0 241.7h.01M197.7 241.1h.01M182.4 241.8h.01M184.1 240.7h.01M189.5 241.7h.01M225.9 240.8h.01M181.2 240.7h.01M179.9 242.0h.01M199.4 241.9h.01M187.3 240.9h.01M186.3 240.5h.01M174.0 240.8h.01M170.5 240.9h.01M168.2 241.7h.01M181.3 242.1h.01M161.2 241.4h.01M189.7 242.0h.01M181.5 241.9h.01M179.7 241.8h.01M197.7 241.9h.01M179.2 241.3h.01" stroke="#feed00"/>
<path d="M188.1 239.9h.01M174.4 240.2h.01M170.9 240.4h.01M190.0 238.8h.01M201.0 238.8h.01M173.5 239.2h.01M207.5 239.4h.01M176.1 240.1h.01M185.4 238.8h.01M187.9 239.2h.01M182.8 240.3h.01M182.0 239.5h.01M182.8 239.4h.01M188.9 239.0h.01M184.8 240.2h.01M189.4 239.9h.01M200.0 240.0h.01M188.4 240.3h.01M173.6 239.0h.01M171.1 239.4h.01M186.6 239.1h.01M171.7 239.8h.01M172.9 239.5h.01M184.5 239.7h.01M211.6 240.2h.01M182.7 239.3h.01M192.2 240.2h.01M212.4 239.6h.01M195.8 239.7h.01M171.9 240.0h.01M186.9 240.0h.01M176.5 240.2h.01M199.7 239.9h.01M199.6 239.8h.01M196.0 239.8h.01M186.8 238.9h.01M160.1 240.0h.01M170.7 239.3h.01M185.9 239.6h.01M165.3 239.6h.01M190.0 238.9h.01M191.5 239.3h.01M174.1 239.8h.01M155.1 239.7h.01M189.4 239.6h.01M194.5 240.0h.01M195.2 239.9h.01M204.2 238.9h.01M197.1 239.8h.01M209.9 239.5h.01M195.2 239.4h.01M195.5 239.7h.01M179.3 240.1h.01M199.5 240.3h.01M192.6 240.3h.01" stroke="#ffdb00"/>
<path d="M199.9 238.6h.01M160.6 237.5h.01M193.6 237.9h.01M195.5 237.9h.01M206.6 237.1h.01M192.1 238.0h.01M181.8 238.6h.01M169.5 237.6h.01M192.2 237.4h.01M186.7 238.5h.01M165.6 237.3h.01M209.6 238.3h.01M224.2 238.0h.01M177.5 237.7h.01M178.4 238.6h.01M204.9 238.1h.01M198.7 237.5h.01M154.0 238.3h.01M194.3 237.3h.01M194.2 238.3h.01M183.8 238.4h.01M187.9 238.1h.01M196.1 237.4h.01M197.6 238.3h.01M170.3 237.1h.01M183.7 238.7h.01M179.6 237.3h.01M185.4 238.6h.01M177.2 238.3h.01M173.8 238.4h.01M186.9 238.5h.01M161.9 237.9h.01M185.6 238.6h.01M185.3 238.4h.01M180.5 237.6h.01M177.2 237.6h.01M185.8 238.6h.01M181.1 237.3h.01M182.4 237.9h.01M202.5 238.2h.01M209.2 238.5h.01M185.0 238.5h.01M169.2 237.8h.01M178.0 238.6h.01M176.6 237.1h.01M183.3 237.7h.01M200.9 237.9h.01M191.4 238.7h.01M190.8 238.3h.01M187.8 237.2h.01M184.0 238.6h.01M184.1 237.7h.01M175.7 238.3h.01M167.3 237.4h.01M190.5 237.6h.01M186.9 237.0h.01M180.4 238.2h.01M192.4 237.7h.01M178.9 237.4h.01M185.1 237.4h.01M184.9 238.6h.01M165.6 237.5h.01M182.2 237.5h.01" stroke="#ffc800"/>
<path d="M174.7 236.0h.01M178.2 236.9h.01M176.8 235.8h.01M185.4 235.4h.01M179.7 236.8h.01M181.9 236.8h.01M188.7 236.3h.01M187.0 235.5h.01M180.5 236.9h.01M185.1 236.0h.01M169.3 236.3h.01M182.3 235.5h.01M174.3 235.3h.01M165.0 236.8h.01M169.0 235.4h.01M169.8 236.9h.01M172.2 236.0h.01M197.6 235.4h.01M188.4 235.3h.01M186.2 236.6h.01M186.5 236.2h.01M177.3 236.2h.01M169.9 236.7h.01M183.4 235.7h.01M199.2 236.2h.01M186.1 235.7h.01M200.1 236.8h.01M180.7 236.4h.01M173.8 236.1h.01M189.9 236.6h.01M188.1 236.4h.01M186.9 236.8h.01M173.3 235.8h.01M176.9 236.9h.01M182.1 236.8h.01M186.3 236.8h.01M172.8 236.0h.01M190.1 235.7h.01M172.8 235.3h.01M192.4 236.2h.01M204.5 236.4h.01M169.6 235.9h.01M142.0 236.8h.01M184.6 236.8h.01M183.5 236.3h.01M206.3 237.0h.01M177.7 236.6h.01M204.7 236.4h.01M191.7 236.6h.01M192.6 235.4h.01M199.4 235.4h.01M193.3 236.2h.01M211.1 235.9h.01M184.9 236.5h.01M177.9 235.8h.01M173.3 236.8h.01" stroke="#ffb200"/>
<path d="M195.4 233.6h.01M187.0 234.3h.01M189.8 234.5h.01M189.7 234.0h.01M198.6 234.1h.01M200.6 234.2h.01M181.6 233.8h.01M169.6 234.2h.01M189.7 234.3h.01M190.6 234.9h.01M188.6 233.6h.01M197.7 233.8h.01M171.5 233.8h.01M181.5 235.1h.01M189.5 233.8h.01M188.9 234.4h.01M175.2 234.6h.01M177.5 233.7h.01M190.1 234.5h.01M191.4 234.8h.01M191.9 234.2h.01M197.2 234.9h.01M205.0 234.2h.01M165.4 233.9h.01M182.8 234.8h.01M188.6 233.6h.01M195.9 233.8h.01M192.4 234.4h.01M181.8 234.2h.01M183.6 234.6h.01M156.0 234.2h.01M181.2 233.6h.01M180.8 233.8h.01M188.7 234.4h.01M166.8 234.0h.01M176.0 235.2h.01M186.8 234.8h.01M165.6 234.3h.01M195.8 234.2h.01M196.7 234.2h.01M181.9 235.1h.01M179.3 234.2h.01M180.8 233.6h.01M177.3 234.2h.01" stroke="#ff9f00"/>
<path d="M165.3 232.9h.01M185.1 232.5h.01M187.3 232.3h.01M190.9 232.8h.01M171.3 232.7h.01M175.1 232.6h.01M174.2 232.6h.01M183.0 232.4h.01M206.2 232.2h.01M178.6 231.9h.01M197.0 232.5h.01M178.6 232.2h.01M188.3 232.3h.01M183.5 232.1h.01M149.9 232.4h.01M192.4 233.5h.01M175.3 232.9h.01M179.3 232.2h.01M191.1 233.2h.01M192.7 232.0h.01M193.4 232.6h.01M167.7 232.7h.01M204.3 233.1h.01M183.5 233.5h.01M184.1 232.9h.01M194.4 232.3h.01M186.1 232.1h.01M187.0 233.6h.01M188.4 232.3h.01M176.3 233.6h.01M188.5 232.6h.01M167.1 232.0h.01M166.0 233.2h.01M183.0 232.3h.01M187.5 233.2h.01M186.6 232.4h.01M185.8 231.9h.01M192.0 232.5h.01M195.7 232.1h.01M163.2 233.0h.01M178.8 233.6h.01M175.2 232.1h.01M190.3 232.9h.01M177.6 231.9h.01M185.3 233.6h.01M186.1 233.4h.01M187.1 232.3h.01" stroke="#ff8d00"/>
<path d="M184.5 231.3h.01M180.2 230.7h.01M189.1 230.8h.01M213.2 231.3h.01M186.0 230.7h.01M204.5 231.4h.01M186.6 231.6h.01M189.8 231.5h.01M154.9 231.2h.01M196.0 230.9h.01M206.9 231.5h.01M193.8 231.5h.01M178.5 230.4h.01M155.9 230.6h.01M162.9 231.5h.01M179.5 231.8h.01M180.7 231.2h.01M158.8 231.0h.01M184.4 231.8h.01M171.6 231.7h.01M155.4 230.3h.01M197.0 230.5h.01M195.8 231.2h.01M200.4 231.4h.01M177.6 231.4h.01M197.2 230.7h.01M193.8 230.2h.01M180.2 231.0h.01M171.7 231.4h.01M195.9 231.1h.01M184.7 231.8h.01M195.2 231.7h.01M198.3 230.6h.01M193.9 231.4h.01M182.1 230.4h.01M214.5 230.3h.01M188.3 230.4h.01M188.0 230.8h.01M190.0 231.6h.01M185.9 230.6h.01M177.0 230.6h.01M180.3 231.7h.01M194.1 230.4h.01M173.9 230.3h.01M183.4 231.9h.01M200.3 231.4h.01M187.6 230.3h.01M203.2 231.7h.01M186.9 230.2h.01M182.7 231.5h.01M149.0 231.7h.01M170.9 231.1h.01M186.8 231.2h.01M186.8 230.7h.01M192.1 231.4h.01" stroke="#ff7700"/>
<path d="M166.9 229.3h.01M185.9 229.9h.01M144.5 229.9h.01M180.4 229.4h.01M185.5 228.8h.01M185.2 230.1h.01M182.5 229.5h.01M186.1 229.8h.01M185.5 229.4h.01M185.9 228.8h.01M157.8 228.8h.01M163.3 230.0h.01M200.7 229.7h.01M187.6 229.8h.01M187.9 229.4h.01M193.3 229.3h.01M183.9 228.8h.01M184.9 229.8h.01M198.4 229.5h.01M172.8 229.0h.01M197.9 230.0h.01M195.0 229.1h.01M196.1 228.6h.01M173.9 229.2h.01M192.5 229.2h.01M188.7 228.8h.01M173.5 228.9h.01M183.4 229.7h.01M184.5 229.7h.01M190.6 228.9h.01M181.1 228.7h.01M197.2 229.8h.01M171.2 229.5h.01M205.6 228.5h.01M174.6 229.2h.01M178.6 228.4h.01M194.4 229.9h.01M149.7 229.4h.01M170.0 228.7h.01M189.1 229.7h.01" stroke="#ff6400"/>
<path d="M186.0 227.1h.01M191.9 227.0h.01M202.5 227.0h.01M179.4 228.0h.01M190.8 227.7h.01M172.0 226.8h.01M187.9 227.9h.01M184.4 227.5h.01M187.1 228.4h.01M183.5 228.4h.01M208.1 228.0h.01M197.0 227.0h.01M197.4 228.2h.01M198.8 227.1h.01M170.2 228.0h.01M183.9 226.9h.01M191.0 227.6h.01M178.4 227.3h.01M196.5 228.4h.01M173.1 228.4h.01M163.3 227.6h.01M172.5 227.4h.01M186.1 227.7h.01M176.4 227.4h.01M182.6 228.3h.01M188.3 227.1h.01M189.7 227.0h.01M189.3 228.1h.01" stroke="#ff5200"/>
<path d="M180.2 225.2h.01M190.4 226.3h.01M177.2 226.4h.01M170.4 225.5h.01M193.3 225.6h.01M179.5 225.6h.01M200.8 226.2h.01M172.3 225.8h.01M186.3 225.5h.01M172.5 226.7h.01M176.2 225.2h.01M196.3 225.7h.01M160.8 225.0h.01M175.9 225.1h.01M163.5 225.7h.01M156.9 226.5h.01M211.7 225.4h.01M185.6 225.6h.01M194.9 226.3h.01M180.5 225.9h.01M189.7 225.5h.01M191.7 225.4h.01M192.5 226.4h.01M189.1 226.4h.01M175.8 226.1h.01M205.6 226.7h.01M182.8 226.6h.01M174.4 225.1h.01M216.6 226.6h.01M191.1 226.1h.01" stroke="#ff3b00"/>
<path d="M183.2 223.3h.01M172.0 224.5h.01M183.9 224.1h.01M188.2 224.0h.01M167.0 224.3h.01M189.0 223.9h.01M208.0 223.3h.01M197.4 223.7h.01M180.9 223.9h.01M210.7 224.9h.01M180.2 223.9h.01M199.8 223.3h.01M181.7 223.4h.01M185.1 223.8h.01M197.4 223.4h.01M181.2 223.6h.01M174.0 224.5h.01M187.6 223.8h.01M199.4 224.8h.01M188.2 224.3h.01M192.0 224.2h.01M170.1 224.7h.01M184.0 223.6h.01M186.2 223.8h.01M194.2 224.6h.01M194.7 224.4h.01M196.3 224.7h.01M184.8 224.1h.01M186.4 224.8h.01M185.7 224.0h.01M193.6 224.3h.01M199.9 224.2h.01M204.9 224.8h.01" stroke="#ff2900"/>
<path d="M172.6 222.7h.01M171.6 222.8h.01M205.9 223.1h.01M180.8 222.6h.01M193.2 222.8h.01M188.0 221.9h.01M191.8 222.8h.01M186.1 222.4h.01M177.6 221.8h.01M180.2 222.4h.01M191.7 222.9h.01M172.1 223.0h.01M193.7 222.7h.01M177.6 222.9h.01M194.1 222.5h.01M182.4 222.4h.01M152.2 222.4h.01M180.3 222.7h.01M209.6 222.1h.01M195.7 223.3h.01M182.8 222.3h.01M188.7 221.9h.01M190.9 221.8h.01" stroke="#ff1600"/>
<path d="M182.2 219.9h.01M194.6 220.7h.01M217.4 221.2h.01M178.9 221.3h.01M170.9 220.6h.01M165.0 220.1h.01M181.6 221.5h.01M201.4 220.0h.01M169.3 220.9h.01M199.5 220.0h.01M171.8 220.8h.01M175.8 219.9h.01M195.2 220.4h.01M182.7 220.7h.01M197.7 220.1h.01M180.4 220.2h.01M182.8 221.2h.01M180.7 221.1h.01" stroke="#e80000"/>
<path d="M168.4 218.5h.01M179.7 218.2h.01M147.5 219.1h.01M184.2 219.9h.01M199.0 219.2h.01M195.3 219.3h.01M191.1 218.7h.01M196.3 218.5h.01M187.0 219.9h.01M182.2 219.6h.01M165.9 219.8h.01M189.7 218.6h.01M192.0 218.7h.01M199.1 219.1h.01M200.1 218.9h.01M190.8 219.8h.01M193.4 218.9h.01M192.0 218.5h.01M180.0 219.0h.01M173.3 219.5h.01M180.5 219.6h.01" stroke="#d10000"/>
<path d="M194.8 217.7h.01M191.5 217.8h.01M181.9 218.2h.01M181.0 216.7h.01M184.5 217.0h.01M177.3 217.2h.01M187.4 217.9h.01M188.4 217.3h.01M177.6 217.2h.01M172.1 217.2h.01M215.1 216.5h.01" stroke="#bb0000"/>
<path d="M176.1 215.7h.01M182.8 215.2h.01M184.7 215.1h.01M189.5 215.1h.01M191.7 216.2h.01M189.4 215.8h.01M183.0 216.1h.01M176.8 215.2h.01" stroke="#9f0000"/>
<path d="M194.1 214.5h.01" stroke="#890000"/>
<path d="M448.8 139.5h.01M440.9 143.3h.01" stroke="#0000ed"/>
<path d="M455.3 116.8h.01" stroke="#0008ff"/>
<path d="M456.0 135.4h.01" stroke="#0020ff"/>
<path d="M441.7 144.3h.01" stroke="#0034ff"/>
<path d="M461.1 141.1h.01M451.0 159.3h.01M462.0 165.7h.01" stroke="#0048ff"/>
<path d="M463.2 155.9h.01" stroke="#0060ff"/>
<path d="M455.4 138.8h.01" stroke="#0074ff"/>
<path d="M468.6 161.4h.01M461.5 158.4h.01M477.4 167.6h.01M440.1 154.8h.01M439.0 138.3h.01" stroke="#0088ff"/>
<path d="M447.1 139.3h.01M436.2 159.4h.01M449.8 140.1h.01M466.2 150.7h.01M467.5 168.4h.01M447.8 124.0h.01M459.6 136.3h.01M464.7 152.1h.01" stroke="#00a0ff"/>
<path d="M436.8 142.5h.01M486.6 165.3h.01M436.7 127.7h.01M448.2 164.2h.01M461.9 161.8h.01" stroke="#00b4ff"/>
<path d="M410.9 160.5h.01M460.1 129.2h.01M444.7 123.0h.01M457.6 130.6h.01" stroke="#00c8ff"/>
<path d="M451.0 154.3h.01M484.2 144.7h.01M464.9 146.2h.01M447.8 146.0h.01M439.2 142.2h.01M490.9 145.5h.01M464.7 150.2h.01M455.8 141.4h.01" stroke="#00e0fb"/>
<path d="M471.2 144.5h.01M475.0 148.5h.01M460.5 148.9h.01M459.7 154.1h.01M451.5 132.0h.01M448.3 144.4h.01M441.3 145.7h.01M422.9 133.4h.01M439.3 131.8h.01" stroke="#0cf4eb"/>
<path d="M463.7 148.7h.01M458.4 161.1h.01M465.9 173.1h.01M464.7 148.7h.01M436.6 141.1h.01M455.6 152.1h.01M442.7 136.2h.01M471.2 132.9h.01M453.4 135.9h.01" stroke="#1cffdb"/>
<path d="M446.7 132.3h.01M462.5 140.5h.01M455.5 145.4h.01M441.8 143.5h.01M446.6 154.0h.01M467.7 126.1h.01" stroke="#30ffc7"/>
<path d="M461.9 140.8h.01M465.2 137.7h.01M458.0 158.8h.01M465.4 155.7h.01M455.4 146.4h.01M464.0 148.0h.01M459.8 135.5h.01M474.2 172.4h.01M447.4 156.4h.01M455.4 145.6h.01M452.2 146.6h.01M451.0 150.7h.01M446.0 146.6h.01M458.2 118.0h.01M454.0 142.3h.01M467.1 156.3h.01M447.5 144.7h.01M458.5 150.9h.01M456.0 139.6h.01M454.1 132.5h.01" stroke="#40ffb7"/>
<path d="M462.7 146.3h.01M448.6 143.0h.01M455.0 139.8h.01M440.4 126.5h.01M457.4 142.3h.01M456.7 155.2h.01M463.3 159.1h.01M427.8 132.1h.01M463.8 138.7h.01M450.1 157.6h.01M446.5 135.4h.01M441.5 127.1h.01" stroke="#50ffa7"/>
<path d="M448.4 147.5h.01M447.0 141.0h.01M456.0 155.5h.01M449.1 120.5h.01M454.9 147.2h.01M422.0 125.9h.01M453.8 155.4h.01M426.7 137.6h.01M460.4 154.9h.01M466.1 152.1h.01M459.0 153.2h.01M467.5 147.4h.01M467.4 144.1h.01M458.9 146.8h.01" stroke="#63ff94"/>
<path d="M461.5 156.4h.01M436.3 131.6h.01M457.6 157.3h.01M452.6 141.1h.01M446.7 138.5h.01M461.2 137.2h.01M443.1 145.7h.01" stroke="#73ff83"/>
<path d="M442.1 144.3h.01M447.9 138.3h.01M461.0 159.9h.01M467.3 171.8h.01M443.1 130.7h.01M465.4 156.8h.01M475.5 149.9h.01M459.6 135.3h.01M450.9 153.6h.01M441.8 140.7h.01M441.6 146.0h.01" stroke="#83ff73"/>
<path d="M456.0 147.5h.01M483.3 147.3h.01M472.9 183.0h.01M458.9 137.7h.01M456.6 143.2h.01M464.3 163.7h.01M470.7 156.1h.01M455.2 139.8h.01" stroke="#97ff60"/>
<path d="M459.0 124.6h.01M434.1 138.2h.01M451.1 160.7h.01M437.4 141.9h.01M451.1 144.7h.01M441.7 139.4h.01M419.1 135.3h.01M462.2 153.3h.01" stroke="#a7ff50"/>
<path d="M461.7 136.8h.01M459.6 155.5h.01M452.9 132.3h.01M446.4 150.0h.01M475.6 194.9h.01M439.3 131.0h.01M449.6 151.8h.01M458.3 137.2h.01M450.8 143.8h.01M465.6 146.2h.01M439.7 139.0h.01M431.2 152.1h.01M442.3 149.3h.01" stroke="#b7ff40"/>
<path d="M446.3 156.6h.01M452.1 137.4h.01M462.9 142.8h.01M435.0 135.3h.01M453.6 145.1h.01M433.4 112.3h.01M458.5 127.7h.01M430.1 145.4h.01M464.1 163.3h.01M434.9 152.2h.01M462.7 151.5h.01M469.2 175.9h.01M455.0 147.6h.01M470.6 154.2h.01M457.1 157.9h.01" stroke="#caff2c"/>
<path d="M468.2 149.0h.01M480.5 148.0h.01M452.6 159.5h.01M457.1 141.9h.01M464.5 153.3h.01M450.4 153.5h.01M457.0 122.5h.01M457.6 144.0h.01M435.7 160.0h.01" stroke="#dbff1c"/>
<path d="M449.9 137.7h.01M445.0 132.8h.01M448.3 153.0h.01M447.6 136.4h.01M452.8 127.8h.01M463.4 159.5h.01M456.5 145.7h.01M485.3 186.5h.01M467.3 148.7h.01" stroke="#ebff0c"/>
<path d="M466.9 159.7h.01M467.0 128.7h.01M445.7 141.6h.01M465.1 105.7h.01M464.3 161.8h.01M454.4 144.6h.01M456.2 131.6h.01M457.1 163.1h.01M434.9 154.3h.01M448.5 135.9h.01" stroke="#feed00"/>
<path d="M466.1 165.3h.01M437.1 140.1h.01M452.9 165.0h.01M459.7 140.1h.01M446.9 160.0h.01" stroke="#ffdb00"/>
<path d="M418.6 150.1h.01M463.6 159.7h.01M454.2 150.0h.01M451.7 150.5h.01M437.1 119.6h.01M464.2 136.4h.01M452.3 141.1h.01M456.4 154.2h.01M473.9 158.8h.01" stroke="#ffc800"/>
<path d="M454.1 134.1h.01M453.3 150.4h.01M470.3 152.0h.01M452.1 173.9h.01M462.5 142.2h.01" stroke="#ffb200"/>
<path d="M425.3 132.9h.01M445.3 135.3h.01M440.7 145.5h.01M458.2 142.6h.01M464.8 169.7h.01M431.0 125.3h.01M462.0 173.6h.01M445.4 146.3h.01" stroke="#ff9f00"/>
<path d="M452.0 148.0h.01M458.2 129.8h.01M475.2 152.8h.01M454.2 137.0h.01M459.7 142.8h.01M446.0 161.3h.01M468.4 150.6h.01" stroke="#ff8d00"/>
<path d="M465.2 149.7h.01M459.4 123.9h.01M450.4 136.0h.01M465.5 153.3h.01" stroke="#ff7700"/>
<path d="M443.3 149.7h.01M442.3 138.3h.01M464.2 154.8h.01M457.1 141.2h.01" stroke="#ff6400"/>
<path d="M462.0 153.7h.01" stroke="#ff5200"/>
<path d="M456.7 153.1h.01M464.9 146.2h.01" stroke="#ff3b00"/>
<path d="M457.0 155.1h.01M462.7 132.1h.01M439.6 117.6h.01" stroke="#e80000"/>
<path d="M435.7 138.9h.01" stroke="#d10000"/>
<path d="M465.0 135.6h.01" stroke="#890000"/>
<path d="M459.0 149.6h.01M454.1 141.3h.01" stroke="#0000a4"/>
<path d="M457.2 128.8h.01" stroke="#0000bb"/>
<path d="M425.4 129.4h.01M446.4 173.5h.01" stroke="#0000ed"/>
<path d="M465.1 137.5h.01" stroke="#0008ff"/>
<path d="M424.6 142.2h.01M451.1 154.6h.01" stroke="#0020ff"/>
<path d="M469.9 175.0h.01" stroke="#0048ff"/>
<path d="M464.1 163.7h.01M447.5 151.0h.01M446.8 132.0h.01" stroke="#0060ff"/>
<path d="M461.2 145.5h.01M474.2 150.0h.01M452.0 142.7h.01M470.7 160.9h.01M462.5 132.0h.01M455.1 155.2h.01" stroke="#0074ff"/>
<path d="M467.0 153.4h.01M443.5 132.9h.01M460.7 143.2h.01M450.2 133.4h.01M444.7 143.6h.01" stroke="#0088ff"/>
<path d="M456.0 138.7h.01M440.6 166.4h.01M470.2 147.7h.01M450.8 149.8h.01" stroke="#00a0ff"/>
<path d="M424.9 107.1h.01M448.1 146.7h.01M455.2 151.0h.01M480.4 159.4h.01M450.7 167.6h.01" stroke="#00b4ff"/>
<path d="M476.6 155.0h.01M453.3 148.2h.01M457.1 157.0h.01M445.6 144.0h.01M465.3 148.0h.01M467.7 146.9h.01M450.6 128.6h.01M445.3 136.8h.01M448.7 142.5h.01M436.4 124.0h.01" stroke="#00c8ff"/>
<path d="M469.3 154.4h.01M451.6 142.4h.01M446.5 134.8h.01M428.3 125.4h.01M457.3 148.4h.01M445.3 135.5h.01M467.4 149.0h.01M464.5 148.9h.01" stroke="#00e0fb"/>
<path d="M432.9 116.2h.01M433.7 127.5h.01M443.9 156.8h.01M482.6 177.5h.01M475.9 163.1h.01M459.3 145.3h.01M442.1 173.2h.01M457.8 145.9h.01" stroke="#0cf4eb"/>
<path d="M462.6 139.2h.01M426.2 158.4h.01M440.0 148.7h.01M469.3 158.2h.01M461.1 163.7h.01M454.5 153.4h.01M440.8 114.6h.01M451.5 144.5h.01M470.1 160.4h.01M453.1 131.4h.01M456.5 140.6h.01" stroke="#1cffdb"/>
<path d="M462.8 143.1h.01M437.5 119.2h.01M456.1 157.0h.01M463.0 126.1h.01M445.7 133.2h.01" stroke="#30ffc7"/>
<path d="M447.6 146.7h.01M454.2 159.6h.01M442.0 133.6h.01M447.9 184.5h.01M444.2 135.7h.01M451.6 137.1h.01M455.9 148.0h.01M444.5 162.3h.01M438.4 144.6h.01M423.7 112.8h.01M429.2 133.5h.01M441.7 151.7h.01M460.7 147.9h.01" stroke="#40ffb7"/>
<path d="M453.5 134.2h.01M443.9 149.0h.01M443.9 148.1h.01M442.4 144.9h.01M474.2 161.3h.01M443.8 135.3h.01M433.8 126.3h.01M465.9 145.2h.01M450.0 143.1h.01M465.9 157.8h.01M480.5 145.2h.01M466.7 152.5h.01M426.0 156.2h.01" stroke="#50ffa7"/>
<path d="M465.8 137.1h.01M459.6 144.1h.01M471.2 162.3h.01M434.8 131.8h.01M450.9 181.2h.01M469.6 158.9h.01M468.5 170.4h.01M457.6 143.0h.01M438.7 142.7h.01M463.1 158.1h.01M447.7 144.5h.01M434.3 147.3h.01" stroke="#63ff94"/>
<path d="M463.6 153.5h.01M432.6 121.0h.01M427.2 136.0h.01M478.2 152.4h.01M421.1 130.7h.01M450.5 161.2h.01M450.2 143.8h.01M452.6 143.0h.01M470.2 126.6h.01M462.5 145.4h.01M473.5 169.3h.01M437.0 151.3h.01M462.7 146.1h.01M468.2 143.2h.01M477.5 153.5h.01M419.9 120.6h.01" stroke="#73ff83"/>
<path d="M472.8 152.9h.01M443.0 120.1h.01M457.4 154.9h.01M451.3 159.7h.01" stroke="#83ff73"/>
<path d="M453.5 133.8h.01M434.8 136.0h.01M448.8 149.6h.01M470.5 148.5h.01M442.0 150.7h.01M442.0 145.1h.01M463.7 142.5h.01M453.9 150.1h.01M477.9 154.5h.01" stroke="#97ff60"/>
<path d="M456.5 166.4h.01M465.6 121.5h.01M444.0 140.0h.01M452.0 114.4h.01M451.0 136.0h.01M453.9 158.1h.01M460.3 153.2h.01M455.6 155.2h.01M464.9 145.7h.01M438.1 142.2h.01M463.9 144.0h.01" stroke="#a7ff50"/>
<path d="M457.2 131.3h.01M456.3 156.9h.01M450.1 137.5h.01M439.7 114.2h.01M463.1 144.7h.01M471.1 149.7h.01M453.1 124.8h.01M452.2 141.5h.01M442.1 112.9h.01M454.7 141.4h.01M459.4 155.4h.01M462.5 123.9h.01M450.5 155.7h.01M462.7 158.7h.01M450.1 142.2h.01M447.9 134.6h.01M437.6 119.1h.01" stroke="#b7ff40"/>
<path d="M443.6 143.7h.01M449.3 164.4h.01M447.6 160.6h.01M432.5 137.4h.01M443.1 149.0h.01M450.7 143.3h.01M459.1 156.5h.01M455.3 146.7h.01" stroke="#caff2c"/>
<path d="M461.6 147.8h.01M441.2 133.2h.01M439.3 138.6h.01M444.2 134.1h.01M432.2 126.1h.01M442.1 146.5h.01M443.3 143.9h.01M464.1 157.7h.01M464.0 159.2h.01M459.2 147.5h.01M466.1 162.5h.01M439.8 106.4h.01M452.9 142.2h.01M450.6 133.7h.01M464.6 161.4h.01" stroke="#dbff1c"/>
<path d="M447.5 139.5h.01M474.0 142.5h.01M440.5 139.6h.01M441.1 126.4h.01" stroke="#ebff0c"/>
<path d="M438.1 147.9h.01M443.8 146.7h.01M469.9 148.2h.01M459.8 154.1h.01M442.3 133.2h.01M468.4 153.1h.01M428.0 149.3h.01M443.6 143.0h.01" stroke="#feed00"/>
<path d="M455.4 150.0h.01M446.9 133.4h.01M437.5 132.8h.01M453.4 179.4h.01M468.0 161.7h.01M464.4 169.1h.01M458.9 165.8h.01" stroke="#ffdb00"/>
<path d="M450.0 139.1h.01M450.0 141.3h.01M484.2 147.9h.01M459.7 157.9h.01M458.5 149.1h.01M454.3 152.6h.01M455.6 138.5h.01M444.1 150.9h.01M450.5 158.2h.01M468.8 154.5h.01M438.1 155.9h.01M453.0 141.2h.01" stroke="#ffc800"/>
<path d="M451.6 158.0h.01M478.8 157.7h.01" stroke="#ffb200"/>
<path d="M452.5 160.5h.01M458.7 133.9h.01M453.2 138.3h.01M477.6 172.0h.01M424.0 143.5h.01" stroke="#ff9f00"/>
<path d="M456.0 137.4h.01M454.0 146.1h.01M458.0 138.4h.01" stroke="#ff8d00"/>
<path d="M417.2 120.1h.01M453.9 147.6h.01" stroke="#ff7700"/>
<path d="M432.8 133.4h.01M456.2 149.9h.01M441.4 141.0h.01" stroke="#ff6400"/>
<path d="M472.4 179.5h.01M439.7 145.7h.01" stroke="#ff5200"/>
<path d="M455.3 133.1h.01M478.3 161.5h.01M455.1 141.3h.01M468.8 135.5h.01" stroke="#ff3b00"/>
<path d="M459.9 178.2h.01" stroke="#ff2900"/>
<path d="M470.9 141.4h.01M448.0 134.3h.01M457.1 145.6h.01" stroke="#ff1600"/>
<path d="M455.6 148.0h.01" stroke="#e80000"/>
<path d="M453.9 148.0h.01" stroke="#0000bb"/>
<path d="M462.9 158.2h.01" stroke="#0000d1"/>
<path d="M451.8 138.3h.01" stroke="#0020ff"/>
<path d="M473.6 151.2h.01" stroke="#0034ff"/>
<path d="M453.5 148.8h.01M449.9 145.6h.01" stroke="#0060ff"/>
<path d="M447.6 125.3h.01M447.8 130.8h.01M448.9 149.3h.01M444.0 144.3h.01M427.8 147.3h.01M469.7 152.6h.01M455.4 159.8h.01M444.8 156.6h.01" stroke="#0074ff"/>
<path d="M471.1 159.0h.01M469.8 149.6h.01M444.7 142.1h.01M465.8 168.0h.01M450.9 158.3h.01M457.4 132.9h.01M470.3 156.4h.01" stroke="#0088ff"/>
<path d="M445.5 124.4h.01" stroke="#00a0ff"/>
<path d="M455.0 149.4h.01M461.9 176.9h.01M449.0 149.7h.01M462.9 161.4h.01M499.1 149.8h.01" stroke="#00b4ff"/>
<path d="M469.4 157.5h.01M459.4 141.5h.01M455.5 132.4h.01M442.8 157.5h.01M462.5 129.9h.01M444.7 138.9h.01M442.9 151.3h.01M437.0 141.7h.01M449.6 132.1h.01M451.0 139.9h.01" stroke="#00c8ff"/>
<path d="M445.7 149.5h.01M463.8 153.4h.01M460.0 136.0h.01M453.8 150.7h.01M456.2 145.8h.01M463.0 141.1h.01M446.8 132.8h.01M460.4 167.9h.01M472.0 163.0h.01M454.2 138.9h.01M451.9 133.7h.01M456.6 154.7h.01" stroke="#00e0fb"/>
<path d="M473.2 162.2h.01M456.5 148.9h.01M478.3 169.0h.01M447.2 169.6h.01M450.9 135.0h.01M443.3 144.9h.01M458.4 151.9h.01M452.7 146.4h.01M480.1 170.2h.01M474.7 158.0h.01" stroke="#0cf4eb"/>
<path d="M448.1 145.9h.01M457.5 146.3h.01M459.2 145.9h.01M456.9 136.4h.01M443.3 137.7h.01M458.4 131.3h.01M472.5 162.9h.01M453.1 136.0h.01M449.7 143.2h.01" stroke="#1cffdb"/>
<path d="M445.2 130.8h.01M460.9 158.0h.01M463.4 163.7h.01M475.8 151.9h.01M445.3 144.9h.01M467.6 145.7h.01" stroke="#30ffc7"/>
<path d="M471.0 144.3h.01M451.8 153.3h.01M449.8 153.5h.01M461.7 154.3h.01M467.3 160.6h.01M455.1 143.3h.01M458.9 161.0h.01M464.9 135.5h.01M451.9 136.0h.01M453.2 135.4h.01M468.4 170.8h.01" stroke="#40ffb7"/>
<path d="M457.8 151.6h.01M455.5 152.3h.01M441.3 154.1h.01M452.3 158.6h.01M445.9 137.5h.01M447.7 156.0h.01M456.0 136.1h.01M456.8 164.8h.01M446.7 141.0h.01M468.1 168.3h.01M460.6 152.8h.01M472.0 137.4h.01M458.4 168.0h.01" stroke="#50ffa7"/>
<path d="M447.7 144.6h.01M470.9 136.6h.01M436.7 119.1h.01M446.2 146.9h.01M435.6 135.3h.01M457.1 139.0h.01M457.6 152.6h.01M435.4 140.9h.01M433.6 122.8h.01M459.3 151.7h.01M454.5 144.0h.01M447.9 137.5h.01" stroke="#63ff94"/>
<path d="M429.2 138.6h.01M437.7 139.8h.01M432.2 141.8h.01M463.0 158.2h.01M457.5 163.5h.01M425.0 109.9h.01M480.6 180.2h.01M444.5 136.4h.01M442.6 157.9h.01M455.8 159.1h.01M461.2 137.0h.01M450.4 134.5h.01M435.2 140.5h.01M460.9 163.5h.01M473.3 120.3h.01M456.9 157.8h.01M468.2 137.9h.01M442.2 117.0h.01" stroke="#73ff83"/>
<path d="M427.0 152.6h.01M467.1 153.7h.01M451.4 133.1h.01M448.2 154.4h.01M444.1 143.3h.01M454.1 134.2h.01M444.4 123.2h.01M454.6 155.9h.01" stroke="#83ff73"/>
<path d="M443.0 137.3h.01M459.8 126.2h.01M456.5 136.5h.01M442.3 136.7h.01M424.6 135.2h.01M436.1 139.5h.01M439.3 143.1h.01M458.9 162.6h.01M466.4 146.9h.01M449.9 139.4h.01M454.0 150.7h.01" stroke="#97ff60"/>
<path d="M465.5 156.2h.01M473.1 140.4h.01M443.1 134.0h.01M469.8 136.9h.01M465.3 154.6h.01M439.6 142.5h.01M455.2 143.1h.01M478.6 159.8h.01M434.4 146.2h.01M453.9 130.7h.01M449.2 136.9h.01" stroke="#a7ff50"/>
<path d="M463.5 154.6h.01M458.9 141.5h.01M445.5 122.5h.01M445.0 114.7h.01M464.7 165.3h.01M453.2 144.9h.01M461.6 151.5h.01M458.0 165.0h.01M468.3 155.1h.01M459.9 130.9h.01M449.4 136.9h.01" stroke="#b7ff40"/>
<path d="M447.3 160.3h.01M434.9 122.1h.01M484.3 162.0h.01M460.8 155.6h.01M457.2 146.0h.01M463.8 144.5h.01M461.9 132.0h.01M454.0 147.9h.01M453.2 151.2h.01M461.9 183.6h.01M461.2 160.5h.01M448.8 147.5h.01M461.1 128.8h.01M447.0 151.1h.01M469.1 137.4h.01M453.5 153.0h.01" stroke="#caff2c"/>
<path d="M447.7 144.1h.01M447.2 149.4h.01M451.1 136.4h.01M469.2 152.2h.01M445.4 134.6h.01M455.0 161.0h.01M447.6 143.0h.01M443.3 137.1h.01M443.3 145.2h.01M467.1 141.5h.01M463.2 142.1h.01" stroke="#dbff1c"/>
<path d="M449.7 172.1h.01M475.3 164.4h.01M468.0 145.9h.01M486.9 140.6h.01" stroke="#ebff0c"/>
<path d="M456.0 148.5h.01M428.1 136.1h.01M459.1 142.5h.01M444.8 141.2h.01M435.7 129.5h.01M463.8 137.6h.01M476.2 158.8h.01M447.2 141.9h.01" stroke="#feed00"/>
<path d="M460.9 146.0h.01M445.2 125.6h.01M463.9 179.6h.01M435.8 115.5h.01" stroke="#ffdb00"/>
<path d="M455.5 159.8h.01M448.6 159.0h.01M466.6 136.0h.01M453.3 151.9h.01M477.8 154.1h.01M451.0 131.9h.01M448.8 142.2h.01M468.5 144.3h.01M452.0 141.8h.01M446.3 134.0h.01M457.8 155.5h.01" stroke="#ffc800"/>
<path d="M448.8 153.3h.01M465.6 157.5h.01M456.1 166.7h.01M469.8 149.7h.01M456.6 144.2h.01M448.0 136.5h.01" stroke="#ffb200"/>
<path d="M431.9 139.9h.01M466.2 160.0h.01M450.8 133.4h.01M451.6 144.6h.01M460.6 159.2h.01M467.5 169.2h.01M450.6 134.2h.01M454.7 145.1h.01M459.2 147.7h.01" stroke="#ff9f00"/>
<path d="M465.7 164.4h.01M433.6 131.5h.01M466.8 157.9h.01" stroke="#ff8d00"/>
<path d="M461.9 143.0h.01M452.1 155.0h.01" stroke="#ff7700"/>
<path d="M455.1 153.8h.01M458.3 148.3h.01M458.0 139.8h.01" stroke="#ff6400"/>
<path d="M425.8 121.2h.01" stroke="#ff5200"/>
<path d="M444.0 135.6h.01" stroke="#ff3b00"/>
<path d="M476.9 143.6h.01" stroke="#ff2900"/>
<path d="M452.6 158.4h.01M452.8 118.0h.01" stroke="#0000bb"/>
<path d="M455.2 136.1h.01" stroke="#0000d1"/>
<path d="M433.5 130.7h.01M452.1 145.4h.01M459.1 141.8h.01" stroke="#0000ff"/>
<path d="M424.5 143.8h.01" stroke="#0008ff"/>
<path d="M462.4 167.2h.01" stroke="#0034ff"/>
<path d="M462.3 140.9h.01" stroke="#0048ff"/>
<path d="M463.5 179.1h.01" stroke="#0060ff"/>
<path d="M456.9 169.2h.01M459.7 125.1h.01M452.6 143.9h.01" stroke="#0074ff"/>
<path d="M458.3 155.2h.01M455.8 143.6h.01M458.5 141.9h.01" stroke="#0088ff"/>
<path d="M433.9 147.9h.01M475.4 145.1h.01M457.5 147.6h.01" stroke="#00a0ff"/>
<path d="M461.6 142.3h.01M453.6 132.9h.01M475.0 178.7h.01M449.9 151.1h.01M454.9 140.3h.01M452.9 155.0h.01M465.3 141.3h.01M466.0 147.0h.01M460.6 146.7h.01" stroke="#00b4ff"/>
<path d="M449.9 137.7h.01M456.9 155.2h.01M442.0 142.6h.01M455.9 167.6h.01M490.4 160.8h.01M461.2 159.9h.01M455.0 149.9h.01M441.7 133.6h.01M445.8 138.1h.01M468.6 145.6h.01M445.6 141.8h.01M437.8 143.5h.01" stroke="#00c8ff"/>
<path d="M484.0 144.1h.01M427.0 122.6h.01M498.0 173.4h.01M463.6 138.3h.01M453.5 143.0h.01M453.7 135.0h.01M471.3 156.7h.01M450.0 135.5h.01" stroke="#00e0fb"/>
<path d="M454.5 144.7h.01M459.1 143.7h.01M460.6 152.9h.01M444.9 159.1h.01M452.3 150.1h.01M462.1 112.5h.01M465.1 150.4h.01M474.1 133.1h.01M457.8 143.7h.01M451.4 144.7h.01M441.9 149.9h.01" stroke="#0cf4eb"/>
<path d="M449.5 136.5h.01M456.0 146.3h.01M449.8 138.8h.01M449.8 159.5h.01M446.7 140.5h.01" stroke="#1cffdb"/>
<path d="M465.0 159.8h.01M462.7 169.6h.01M451.1 150.0h.01M431.1 138.4h.01M464.4 141.2h.01M459.7 131.5h.01M464.4 156.7h.01M445.0 149.8h.01M447.0 124.1h.01M424.5 134.6h.01M473.9 135.4h.01" stroke="#30ffc7"/>
<path d="M459.6 145.7h.01M458.0 153.9h.01M467.5 151.2h.01M422.3 138.6h.01M457.9 129.8h.01M485.5 168.8h.01M460.6 151.4h.01M446.1 154.1h.01M463.2 138.0h.01M472.7 142.2h.01M463.7 146.6h.01M445.6 162.6h.01M470.5 135.2h.01M434.2 129.8h.01M458.5 160.5h.01" stroke="#40ffb7"/>
<path d="M447.8 145.0h.01M444.6 146.7h.01M460.9 153.0h.01M451.9 132.9h.01M480.6 159.8h.01M441.1 135.5h.01M460.3 120.9h.01M452.8 145.5h.01M466.2 155.4h.01M463.7 153.8h.01" stroke="#50ffa7"/>
<path d="M465.4 143.6h.01M463.0 113.7h.01M442.1 150.7h.01M454.2 156.0h.01M455.8 137.9h.01M453.5 146.3h.01M463.8 142.8h.01M449.2 153.1h.01M457.1 160.3h.01M448.0 140.2h.01" stroke="#63ff94"/>
<path d="M461.1 152.0h.01M444.6 152.5h.01M481.4 148.5h.01M449.3 159.6h.01M471.9 139.3h.01M456.4 130.3h.01M454.8 140.0h.01M451.6 153.0h.01M460.9 139.1h.01M445.9 132.3h.01M454.5 127.5h.01M426.9 155.4h.01M473.9 154.9h.01M447.1 128.7h.01M484.9 160.4h.01" stroke="#73ff83"/>
<path d="M428.1 118.8h.01M451.7 148.6h.01M468.7 158.7h.01M454.2 134.3h.01M448.1 144.7h.01M440.9 155.4h.01M469.7 155.8h.01M466.5 164.5h.01M477.0 156.1h.01M442.1 166.6h.01M470.1 147.3h.01M477.0 155.2h.01" stroke="#83ff73"/>
<path d="M468.7 127.3h.01M445.3 151.0h.01M459.6 151.1h.01M460.9 156.7h.01M470.0 159.8h.01M457.2 157.1h.01M426.1 138.6h.01M451.7 124.1h.01M428.3 143.1h.01M452.7 140.1h.01M492.0 163.2h.01" stroke="#97ff60"/>
<path d="M447.7 150.1h.01M451.4 138.2h.01M447.8 134.2h.01M456.2 152.8h.01M460.9 154.8h.01M461.4 158.1h.01M461.9 152.9h.01M467.7 153.2h.01" stroke="#a7ff50"/>
<path d="M468.9 161.5h.01M440.4 138.6h.01M447.5 149.2h.01M446.2 144.7h.01M455.7 143.5h.01M472.4 155.1h.01M461.2 158.1h.01M454.4 133.3h.01M442.2 156.9h.01M461.4 138.9h.01M447.0 126.5h.01M459.2 136.5h.01M445.9 152.9h.01M422.5 127.5h.01M459.9 165.3h.01M455.8 145.8h.01" stroke="#b7ff40"/>
<path d="M453.7 150.3h.01M470.2 140.3h.01M433.6 133.8h.01M435.9 145.2h.01M453.3 137.6h.01M454.2 140.1h.01M433.1 138.7h.01M450.5 137.0h.01M457.3 151.7h.01M447.2 144.1h.01M480.0 163.2h.01M455.4 149.8h.01" stroke="#caff2c"/>
<path d="M472.0 147.8h.01M438.9 144.0h.01M475.6 156.1h.01M451.3 128.0h.01M466.4 165.7h.01M465.8 170.4h.01M468.0 135.6h.01M465.6 147.8h.01M439.4 148.5h.01" stroke="#dbff1c"/>
<path d="M450.2 147.3h.01M469.8 152.4h.01M467.2 151.8h.01M466.6 161.3h.01M455.4 141.3h.01M459.6 150.7h.01" stroke="#ebff0c"/>
<path d="M457.7 144.2h.01M453.3 166.2h.01M454.9 132.9h.01M462.7 132.4h.01M453.8 154.5h.01M460.7 162.1h.01M464.4 152.1h.01M460.6 150.3h.01M438.0 132.0h.01M461.4 156.3h.01M446.5 144.2h.01M443.8 120.4h.01M427.9 130.8h.01" stroke="#feed00"/>
<path d="M448.9 133.1h.01M463.2 154.3h.01M455.6 149.2h.01" stroke="#ffdb00"/>
<path d="M454.1 144.5h.01M469.3 146.4h.01M450.9 141.8h.01M440.2 166.5h.01M462.7 133.8h.01M451.9 139.8h.01" stroke="#ffc800"/>
<path d="M463.5 169.8h.01M454.2 143.4h.01M473.1 177.6h.01M447.3 129.9h.01M463.6 156.7h.01" stroke="#ffb200"/>
<path d="M452.2 152.9h.01M444.3 140.0h.01M455.3 152.5h.01M453.0 140.1h.01M452.7 140.9h.01" stroke="#ff9f00"/>
<path d="M458.9 143.7h.01M455.1 142.7h.01M472.7 190.4h.01" stroke="#ff8d00"/>
<path d="M458.5 164.8h.01M473.6 148.1h.01M459.2 149.0h.01" stroke="#ff7700"/>
<path d="M453.5 157.9h.01M459.4 157.0h.01M452.2 138.4h.01M456.9 149.0h.01" stroke="#ff6400"/>
<path d="M452.0 139.2h.01M454.0 151.8h.01" stroke="#ff5200"/>
<path d="M471.2 143.6h.01" stroke="#ff3b00"/>
<path d="M470.6 159.7h.01M458.0 138.5h.01" stroke="#ff1600"/>
<path d="M457.1 150.5h.01M454.4 155.4h.01M447.4 135.9h.01" stroke="#e80000"/>
<path d="M439.9 157.1h.01M461.4 155.4h.01" stroke="#0000bb"/>
<path d="M460.2 159.1h.01" stroke="#0000d1"/>
<path d="M462.7 149.1h.01" stroke="#0000ed"/>
<path d="M463.7 173.8h.01" stroke="#0008ff"/>
<path d="M447.2 139.2h.01M431.9 129.5h.01" stroke="#0020ff"/>
<path d="M450.0 127.2h.01" stroke="#0034ff"/>
<path d="M462.8 156.6h.01M463.3 179.1h.01M445.8 161.5h.01" stroke="#0048ff"/>
<path d="M448.5 139.8h.01M426.0 156.8h.01M443.3 136.8h.01" stroke="#0060ff"/>
<path d="M465.9 148.9h.01M456.4 158.9h.01M456.4 146.9h.01" stroke="#0074ff"/>
<path d="M472.2 143.3h.01M464.4 131.4h.01" stroke="#0088ff"/>
<path d="M470.7 154.1h.01M451.5 129.7h.01M465.4 153.4h.01M456.5 166.3h.01M455.6 139.8h.01" stroke="#00a0ff"/>
<path d="M461.1 145.7h.01M466.3 162.1h.01M463.6 137.1h.01M459.4 139.6h.01" stroke="#00b4ff"/>
<path d="M452.4 132.5h.01M447.6 161.3h.01M420.6 127.3h.01M435.9 122.3h.01M477.9 143.4h.01M464.5 159.1h.01M460.5 150.4h.01M437.8 162.2h.01M472.7 144.3h.01M454.4 125.0h.01" stroke="#00c8ff"/>
<path d="M444.3 154.0h.01M405.3 132.0h.01M453.5 119.0h.01M454.8 148.2h.01M421.5 128.3h.01M449.5 168.4h.01M484.7 169.5h.01" stroke="#00e0fb"/>
<path d="M450.0 130.1h.01M425.9 138.4h.01M457.4 155.6h.01" stroke="#0cf4eb"/>
<path d="M492.7 174.0h.01M461.9 140.0h.01M436.1 151.7h.01M465.2 142.7h.01M450.8 139.4h.01M445.8 146.1h.01M449.0 118.9h.01M477.9 155.6h.01M434.2 130.6h.01M440.2 149.2h.01M451.5 137.9h.01M458.1 149.6h.01M455.2 151.6h.01M441.6 134.5h.01" stroke="#1cffdb"/>
<path d="M469.9 142.4h.01M440.2 135.1h.01M464.5 144.8h.01M443.4 128.0h.01M452.6 166.9h.01M460.8 129.7h.01M452.9 128.0h.01M451.2 140.2h.01M453.4 139.0h.01M458.5 134.8h.01M455.0 126.8h.01" stroke="#30ffc7"/>
<path d="M473.0 140.3h.01M439.9 163.5h.01M448.4 134.6h.01M461.5 157.1h.01M453.9 133.2h.01M465.2 147.5h.01M448.5 161.5h.01M484.8 166.2h.01" stroke="#40ffb7"/>
<path d="M440.6 156.2h.01M472.8 144.0h.01M440.7 146.8h.01M476.6 146.2h.01M451.2 161.4h.01M428.3 151.6h.01M429.2 137.9h.01M476.9 162.0h.01M472.8 162.1h.01" stroke="#50ffa7"/>
<path d="M458.3 179.8h.01M455.1 138.0h.01M452.2 149.3h.01M457.3 150.0h.01M445.7 152.9h.01M448.9 122.1h.01" stroke="#63ff94"/>
<path d="M456.2 146.1h.01M453.0 130.0h.01M458.4 163.8h.01M447.4 175.0h.01M457.4 135.1h.01M463.2 154.0h.01M485.1 152.5h.01M468.4 128.4h.01M456.2 121.8h.01M461.9 137.2h.01M445.0 139.8h.01M462.1 161.2h.01M441.2 118.6h.01M448.5 140.8h.01" stroke="#73ff83"/>
<path d="M462.4 148.5h.01M459.1 148.9h.01M472.8 135.6h.01M498.0 168.4h.01M457.8 136.6h.01M454.7 140.7h.01M455.0 146.3h.01M455.7 155.1h.01M445.5 127.9h.01M452.7 143.0h.01M441.8 145.0h.01" stroke="#83ff73"/>
<path d="M463.2 137.7h.01M438.4 147.1h.01M448.1 127.4h.01M462.7 163.5h.01M443.2 167.6h.01M414.0 131.9h.01M442.8 131.2h.01M448.6 111.7h.01M469.2 133.1h.01M462.2 140.7h.01M446.2 137.7h.01M468.6 149.7h.01M441.2 146.6h.01M455.6 142.0h.01M460.3 151.4h.01" stroke="#97ff60"/>
<path d="M436.9 146.6h.01M462.2 139.8h.01M452.5 161.0h.01M445.5 140.9h.01M455.4 146.8h.01M451.5 138.8h.01M462.3 145.4h.01M488.9 149.4h.01M455.7 136.2h.01" stroke="#a7ff50"/>
<path d="M452.3 146.8h.01M434.5 134.4h.01M457.0 165.0h.01M456.0 157.3h.01M456.0 154.4h.01M457.3 144.7h.01M439.9 136.6h.01M444.4 119.4h.01M464.2 154.8h.01M453.9 150.8h.01M460.5 164.6h.01M437.2 136.5h.01" stroke="#b7ff40"/>
<path d="M446.6 159.0h.01M469.5 144.3h.01M467.8 165.6h.01M462.3 136.3h.01M443.9 155.0h.01M458.6 141.2h.01M444.1 141.2h.01M470.9 176.3h.01M458.0 141.1h.01M450.9 137.9h.01" stroke="#caff2c"/>
<path d="M457.4 151.2h.01M478.1 150.8h.01M454.0 131.5h.01M461.9 139.6h.01M472.4 156.4h.01M453.0 147.3h.01M474.3 164.1h.01M472.1 157.2h.01M455.1 134.1h.01M445.6 154.0h.01M456.1 154.0h.01M472.7 157.7h.01M448.3 138.9h.01M459.1 158.4h.01M459.0 130.7h.01M469.6 155.5h.01M470.2 152.0h.01" stroke="#dbff1c"/>
<path d="M445.8 143.1h.01M452.5 139.0h.01M424.8 123.0h.01M434.9 135.8h.01M458.6 105.3h.01M451.3 123.5h.01M456.4 138.7h.01M422.0 127.7h.01M460.7 135.5h.01M472.0 156.9h.01" stroke="#ebff0c"/>
<path d="M456.9 140.3h.01M458.8 130.5h.01M474.4 149.6h.01M443.0 139.8h.01M438.6 142.9h.01M467.3 184.2h.01M441.5 159.6h.01M463.4 159.1h.01M438.2 111.8h.01M462.3 156.4h.01M448.1 158.4h.01M462.6 156.9h.01M459.9 157.6h.01" stroke="#feed00"/>
<path d="M464.6 139.1h.01M447.1 132.4h.01M460.5 171.8h.01M434.6 131.7h.01M471.6 116.1h.01M460.6 131.1h.01M441.1 158.1h.01M453.4 126.5h.01M470.7 147.1h.01" stroke="#ffdb00"/>
<path d="M450.6 147.4h.01M449.8 129.2h.01M451.8 142.8h.01M446.2 157.3h.01M441.7 133.5h.01" stroke="#ffc800"/>
<path d="M457.8 150.4h.01M457.0 139.3h.01M452.4 146.7h.01M460.4 154.3h.01M459.7 158.9h.01" stroke="#ffb200"/>
<path d="M475.6 157.4h.01M449.8 154.5h.01M452.2 143.9h.01M454.6 147.1h.01M447.4 152.4h.01M473.3 159.2h.01M467.2 154.8h.01M457.8 122.0h.01" stroke="#ff9f00"/>
<path d="M459.3 154.1h.01M438.0 129.0h.01M454.9 143.8h.01M450.0 142.3h.01M470.3 156.3h.01M460.9 135.8h.01" stroke="#ff8d00"/>
<path d="M456.3 130.0h.01M439.2 151.5h.01M440.4 136.8h.01M433.1 130.6h.01" stroke="#ff7700"/>
<path d="M439.9 131.0h.01" stroke="#ff6400"/>
<path d="M444.3 135.3h.01M475.1 146.1h.01M455.1 161.2h.01" stroke="#ff3b00"/>
<path d="M458.1 148.8h.01" stroke="#ff1600"/>
<path d="M442.4 192.9h.01M447.8 154.2h.01" stroke="#0000a4"/>
<path d="M465.4 150.3h.01" stroke="#0000d1"/>
<path d="M444.1 145.0h.01M441.5 154.6h.01" stroke="#0000ed"/>
<path d="M452.1 143.6h.01" stroke="#0000ff"/>
<path d="M430.0 147.9h.01" stroke="#0008ff"/>
<path d="M459.7 150.9h.01" stroke="#0020ff"/>
<path d="M452.4 136.7h.01M442.9 138.9h.01" stroke="#0034ff"/>
<path d="M458.1 144.1h.01" stroke="#0048ff"/>
<path d="M435.6 130.7h.01" stroke="#0060ff"/>
<path d="M465.9 142.0h.01M457.3 139.6h.01M452.1 138.7h.01M457.7 152.8h.01" stroke="#0074ff"/>
<path d="M473.2 149.5h.01M462.8 160.7h.01" stroke="#0088ff"/>
<path d="M449.7 146.6h.01M463.4 147.6h.01M433.4 143.3h.01M467.2 166.2h.01M446.3 150.8h.01M458.9 140.5h.01M443.8 154.3h.01M458.4 146.8h.01" stroke="#00a0ff"/>
<path d="M464.8 154.1h.01M452.4 157.4h.01" stroke="#00b4ff"/>
<path d="M444.1 146.9h.01M447.5 137.7h.01M473.3 174.2h.01M438.3 135.8h.01M487.8 160.0h.01M450.6 133.2h.01M433.6 142.8h.01M421.3 120.1h.01M457.5 134.8h.01" stroke="#00c8ff"/>
<path d="M474.1 141.7h.01M456.0 136.4h.01M454.7 141.5h.01M437.0 144.1h.01M434.8 142.7h.01M454.5 137.9h.01M450.3 162.7h.01M462.3 149.9h.01M449.0 139.9h.01M458.3 151.4h.01M433.8 133.1h.01M463.7 156.9h.01" stroke="#00e0fb"/>
<path d="M452.2 140.5h.01M445.3 138.9h.01M463.6 186.2h.01M452.9 131.5h.01M461.1 171.8h.01M449.3 139.5h.01M462.7 153.3h.01M470.6 132.8h.01M463.4 158.0h.01" stroke="#0cf4eb"/>
<path d="M451.4 152.5h.01M432.3 134.5h.01M464.8 155.5h.01M479.6 162.5h.01M441.8 143.4h.01M453.8 139.6h.01M468.9 136.3h.01M443.5 142.8h.01M456.5 152.0h.01" stroke="#1cffdb"/>
<path d="M445.6 131.4h.01M460.0 161.9h.01M457.8 174.9h.01M453.2 144.8h.01M434.9 144.4h.01M478.3 144.1h.01M462.2 151.1h.01M446.8 138.2h.01M456.7 147.4h.01M477.6 170.6h.01M458.6 162.4h.01M452.3 142.8h.01M457.2 137.5h.01M446.1 147.8h.01M438.4 136.4h.01M449.0 146.9h.01" stroke="#30ffc7"/>
<path d="M445.7 135.7h.01M460.0 141.0h.01M454.7 133.6h.01M460.2 151.4h.01M453.6 140.3h.01M442.8 128.3h.01M452.6 138.9h.01M474.3 146.5h.01M462.9 162.0h.01" stroke="#40ffb7"/>
<path d="M464.0 130.5h.01M427.1 130.9h.01M448.6 161.9h.01M448.1 137.3h.01M464.1 139.6h.01M440.4 128.1h.01M489.0 173.0h.01M465.0 145.2h.01M445.5 144.6h.01M479.1 152.7h.01M444.9 156.3h.01M466.9 155.4h.01M460.1 151.3h.01" stroke="#50ffa7"/>
<path d="M457.2 155.1h.01M436.4 139.4h.01M462.1 152.7h.01M455.6 143.0h.01M459.9 163.0h.01M451.6 129.5h.01M453.5 128.9h.01M444.2 153.6h.01M452.0 157.1h.01M435.2 150.4h.01M459.1 161.1h.01M465.4 149.4h.01" stroke="#63ff94"/>
<path d="M432.9 149.7h.01M447.7 140.7h.01M460.5 154.6h.01M436.7 157.7h.01M444.1 134.3h.01M464.4 147.9h.01M458.6 152.7h.01M449.7 139.6h.01" stroke="#73ff83"/>
<path d="M453.3 127.4h.01M450.0 142.1h.01M459.2 131.9h.01M449.7 148.4h.01M471.2 132.7h.01M454.8 153.9h.01M473.5 136.2h.01M445.8 122.8h.01M462.9 153.3h.01M458.6 148.8h.01M434.0 130.7h.01M430.9 128.5h.01M429.8 129.8h.01M445.1 140.4h.01M447.3 141.7h.01M435.1 157.0h.01M437.1 136.8h.01M439.6 148.5h.01" stroke="#83ff73"/>
<path d="M436.9 127.6h.01M454.9 151.1h.01M452.0 134.9h.01M461.1 144.5h.01M472.8 162.8h.01M435.2 135.7h.01M469.5 160.4h.01M454.3 150.4h.01M451.2 142.7h.01M460.5 144.4h.01M441.6 140.6h.01M456.2 134.5h.01" stroke="#97ff60"/>
<path d="M461.5 160.6h.01M447.5 143.0h.01M454.3 130.2h.01M450.6 137.7h.01M456.4 137.4h.01M451.6 151.6h.01M451.2 149.3h.01M443.3 132.6h.01M460.6 128.5h.01M453.2 163.1h.01M442.7 132.7h.01M430.7 148.6h.01M422.8 135.9h.01M465.7 146.4h.01M466.8 177.9h.01" stroke="#a7ff50"/>
<path d="M475.3 144.2h.01M449.6 179.8h.01M456.7 152.7h.01M441.7 126.5h.01M451.4 128.6h.01M452.0 164.5h.01M469.5 150.1h.01M439.9 132.4h.01M451.4 154.7h.01M452.0 133.8h.01" stroke="#b7ff40"/>
<path d="M453.3 154.6h.01M443.8 131.5h.01M459.0 161.0h.01M461.0 153.3h.01M433.4 140.2h.01" stroke="#caff2c"/>
<path d="M478.4 169.2h.01M457.9 165.5h.01M463.3 143.5h.01M445.2 167.4h.01M472.5 142.9h.01M458.9 140.0h.01M472.7 179.3h.01M441.0 128.7h.01M456.3 146.3h.01M461.4 149.3h.01M451.1 143.9h.01" stroke="#dbff1c"/>
<path d="M426.3 134.3h.01M455.1 150.5h.01M467.4 175.8h.01M455.8 146.5h.01M460.3 141.0h.01M436.3 140.7h.01M439.4 124.6h.01M445.9 152.3h.01M459.7 148.3h.01M470.6 159.0h.01" stroke="#ebff0c"/>
<path d="M463.8 144.4h.01M461.1 168.9h.01M455.9 146.1h.01M469.4 142.3h.01M432.6 148.7h.01M454.0 142.3h.01M467.3 157.6h.01M454.1 151.1h.01M443.2 135.7h.01" stroke="#feed00"/>
<path d="M438.7 144.0h.01M472.5 137.5h.01M448.5 150.4h.01M458.9 166.6h.01M450.2 163.3h.01" stroke="#ffdb00"/>
<path d="M479.2 169.1h.01M435.2 122.1h.01M455.4 145.7h.01" stroke="#ffc800"/>
<path d="M470.4 163.7h.01M457.5 171.0h.01M476.5 159.1h.01M444.8 147.2h.01M431.3 129.6h.01M460.3 152.3h.01" stroke="#ffb200"/>
<path d="M439.0 158.1h.01M434.6 120.7h.01M462.1 146.0h.01M448.3 130.0h.01M440.6 144.8h.01M460.3 150.7h.01M466.0 161.1h.01" stroke="#ff9f00"/>
<path d="M441.7 143.4h.01M458.7 151.5h.01M455.4 146.4h.01" stroke="#ff8d00"/>
<path d="M450.8 150.2h.01M434.8 132.9h.01M460.6 151.5h.01M451.9 154.7h.01" stroke="#ff7700"/>
<path d="M456.7 173.5h.01M438.1 151.4h.01" stroke="#ff6400"/>
<path d="M464.0 161.2h.01" stroke="#ff5200"/>
<path d="M466.7 129.0h.01" stroke="#ff3b00"/>
<path d="M452.5 129.1h.01" stroke="#ff1600"/>
<path d="M469.4 156.3h.01" stroke="#d10000"/>
<path d="M478.5 154.5h.01" stroke="#0000a4"/>
<path d="M450.4 142.9h.01M445.1 133.4h.01" stroke="#0008ff"/>
<path d="M460.3 140.3h.01" stroke="#0020ff"/>
<path d="M461.0 128.1h.01M475.7 130.9h.01M456.6 136.4h.01" stroke="#0034ff"/>
<path d="M443.2 143.8h.01M437.7 143.8h.01" stroke="#0048ff"/>
<path d="M461.6 139.7h.01" stroke="#0060ff"/>
<path d="M466.9 139.4h.01M457.8 152.3h.01M456.7 154.4h.01M459.9 172.4h.01M466.6 156.5h.01M466.3 145.2h.01" stroke="#0074ff"/>
<path d="M440.2 122.7h.01M448.5 126.7h.01M444.3 163.1h.01M463.9 140.9h.01" stroke="#0088ff"/>
<path d="M467.2 157.5h.01M448.1 135.8h.01M454.9 147.1h.01" stroke="#00a0ff"/>
<path d="M460.2 148.2h.01M466.9 143.9h.01M467.5 160.0h.01M437.9 160.7h.01M458.3 145.5h.01M454.9 159.2h.01M434.0 144.9h.01M454.9 139.2h.01" stroke="#00b4ff"/>
<path d="M454.4 121.5h.01M475.8 166.6h.01M473.2 155.2h.01M448.1 169.9h.01M457.7 166.8h.01M454.2 138.9h.01M444.5 154.7h.01M454.1 134.3h.01M456.1 161.3h.01M453.1 146.2h.01M454.7 152.1h.01M438.7 141.2h.01M447.4 138.9h.01" stroke="#00c8ff"/>
<path d="M472.2 149.3h.01M460.8 171.9h.01M466.3 177.4h.01M459.4 154.7h.01M469.1 128.7h.01M450.7 152.0h.01M452.6 155.1h.01M441.6 140.8h.01M479.0 163.9h.01M437.0 134.5h.01" stroke="#00e0fb"/>
<path d="M470.0 155.6h.01M449.8 116.0h.01M471.3 153.9h.01M468.4 167.0h.01M454.9 156.7h.01M437.8 143.3h.01M492.5 164.0h.01M443.8 132.6h.01M465.1 128.6h.01M476.4 146.6h.01" stroke="#0cf4eb"/>
<path d="M459.2 137.6h.01M442.5 154.8h.01M457.3 136.7h.01M439.0 125.1h.01M452.1 162.4h.01M465.8 130.1h.01M438.3 134.8h.01M435.5 133.9h.01M468.3 156.2h.01M451.1 165.8h.01M470.6 164.8h.01M476.8 161.3h.01M448.4 131.7h.01M457.7 161.8h.01M458.9 136.7h.01" stroke="#1cffdb"/>
<path d="M455.1 157.6h.01M468.5 155.3h.01M456.1 146.6h.01M443.4 138.9h.01M447.6 141.0h.01M456.2 147.4h.01M451.9 165.3h.01" stroke="#30ffc7"/>
<path d="M454.5 152.7h.01M456.7 140.2h.01M435.0 135.7h.01M455.4 140.9h.01M443.1 142.4h.01M442.5 138.5h.01M452.5 151.9h.01M469.0 160.7h.01M443.0 135.6h.01M461.1 126.0h.01M436.6 144.7h.01M444.0 135.6h.01M456.1 148.3h.01M436.0 135.4h.01" stroke="#40ffb7"/>
<path d="M454.9 139.5h.01M433.0 127.1h.01M465.7 142.0h.01M463.3 150.4h.01M445.2 135.0h.01M468.7 120.9h.01M472.2 160.9h.01M453.8 151.9h.01M455.2 156.7h.01M461.9 154.9h.01M462.6 155.9h.01M431.9 127.0h.01M449.9 143.8h.01" stroke="#50ffa7"/>
<path d="M449.9 148.3h.01M473.4 170.8h.01M458.6 126.9h.01M436.8 114.2h.01M453.2 144.6h.01M451.9 132.6h.01M493.9 178.4h.01M446.2 146.9h.01M473.7 167.5h.01M452.4 141.2h.01M435.9 120.3h.01M464.7 146.6h.01M447.5 144.7h.01M444.0 148.9h.01M451.9 138.4h.01M460.5 145.7h.01M454.3 139.0h.01" stroke="#63ff94"/>
<path d="M472.1 145.7h.01M447.9 147.7h.01M442.0 141.1h.01M447.2 135.7h.01M456.5 158.7h.01M441.6 149.4h.01" stroke="#73ff83"/>
<path d="M461.5 154.0h.01M461.9 142.7h.01M456.9 125.6h.01M439.0 136.6h.01M463.7 133.8h.01M452.7 126.2h.01M465.8 146.6h.01M461.6 184.9h.01M452.8 136.6h.01M456.1 130.3h.01" stroke="#83ff73"/>
<path d="M435.1 140.7h.01M453.4 120.1h.01M462.7 136.5h.01M464.4 154.5h.01M466.9 150.1h.01M454.3 138.2h.01M454.7 148.1h.01M457.8 150.7h.01M460.8 137.7h.01M441.9 126.6h.01" stroke="#97ff60"/>
<path d="M466.4 149.3h.01M474.7 164.1h.01M440.9 118.4h.01M456.7 139.8h.01M433.1 133.9h.01M450.1 133.4h.01M448.5 135.5h.01M410.0 121.6h.01M451.0 155.8h.01M450.5 143.5h.01" stroke="#a7ff50"/>
<path d="M458.9 173.2h.01M491.5 175.7h.01M463.9 157.1h.01M449.4 162.8h.01M448.5 131.5h.01M441.2 151.2h.01M441.6 139.8h.01M446.7 123.7h.01M468.8 152.9h.01M469.6 126.4h.01M441.1 153.0h.01M459.3 151.3h.01" stroke="#b7ff40"/>
<path d="M470.6 161.5h.01M449.6 148.6h.01M430.6 143.5h.01M474.0 158.7h.01M461.0 142.9h.01M461.7 155.6h.01M453.2 146.2h.01M464.8 155.3h.01M476.0 164.5h.01M447.9 148.5h.01M464.5 147.8h.01M444.1 150.0h.01" stroke="#caff2c"/>
<path d="M455.8 157.8h.01M452.1 143.2h.01M446.3 143.7h.01M442.6 153.8h.01M451.8 142.2h.01M470.9 157.3h.01M452.0 145.3h.01M442.2 141.8h.01M444.2 145.7h.01" stroke="#dbff1c"/>
<path d="M463.0 135.2h.01M451.5 115.5h.01M469.7 141.9h.01M444.0 166.3h.01M466.2 135.5h.01" stroke="#ebff0c"/>
<path d="M446.2 143.0h.01M452.1 145.3h.01M446.0 149.5h.01M447.9 135.9h.01M454.8 141.9h.01M425.5 114.5h.01" stroke="#feed00"/>
<path d="M462.4 141.3h.01M464.2 138.1h.01M419.7 123.9h.01M458.7 153.6h.01" stroke="#ffdb00"/>
<path d="M473.6 136.7h.01M454.4 141.7h.01M449.0 153.3h.01M459.7 138.4h.01M445.2 127.9h.01M456.8 147.5h.01M484.6 143.1h.01" stroke="#ffc800"/>
<path d="M455.7 150.6h.01M455.8 149.5h.01M422.6 148.5h.01M445.7 141.2h.01M459.8 153.5h.01M441.9 126.3h.01M462.9 164.1h.01M448.0 133.7h.01M452.3 126.0h.01" stroke="#ffb200"/>
<path d="M458.6 157.4h.01M470.5 148.8h.01M436.0 135.9h.01" stroke="#ff9f00"/>
<path d="M426.9 127.4h.01M417.2 135.0h.01M460.2 158.3h.01M434.7 137.8h.01M458.9 142.6h.01M438.0 144.2h.01" stroke="#ff8d00"/>
<path d="M421.6 108.1h.01M454.9 138.2h.01M452.3 135.3h.01" stroke="#ff7700"/>
<path d="M453.4 144.4h.01" stroke="#ff6400"/>
<path d="M472.6 141.5h.01M447.1 156.0h.01" stroke="#ff5200"/>
<path d="M452.3 150.6h.01" stroke="#ff3b00"/>
<path d="M459.7 149.1h.01" stroke="#ff2900"/>
<path d="M462.4 142.0h.01" stroke="#ff1600"/>
<path d="M454.5 135.4h.01" stroke="#e80000"/>
<path d="M464.6 154.2h.01M460.2 126.8h.01M456.5 143.7h.01M445.2 132.6h.01" stroke="#0008ff"/>
<path d="M469.9 148.4h.01" stroke="#0034ff"/>
<path d="M466.3 165.2h.01M400.1 136.6h.01" stroke="#0048ff"/>
<path d="M442.0 127.7h.01M430.6 139.5h.01M476.3 161.9h.01" stroke="#0060ff"/>
<path d="M456.9 130.5h.01M454.7 156.2h.01M454.6 106.4h.01" stroke="#0074ff"/>
<path d="M453.8 142.0h.01M449.9 140.8h.01M472.6 122.2h.01M486.7 176.5h.01" stroke="#0088ff"/>
<path d="M461.5 159.0h.01M449.8 145.5h.01M451.6 133.8h.01M450.4 163.9h.01" stroke="#00a0ff"/>
<path d="M446.9 145.8h.01M467.5 155.4h.01M455.4 151.9h.01M442.3 144.9h.01M427.7 136.7h.01M424.4 125.9h.01M470.8 128.7h.01" stroke="#00b4ff"/>
<path d="M447.2 146.2h.01M427.6 139.2h.01M476.8 176.4h.01M441.3 119.9h.01M454.6 145.7h.01" stroke="#00c8ff"/>
<path d="M448.7 142.2h.01M457.9 144.9h.01M459.2 135.1h.01M467.6 178.8h.01M445.1 169.0h.01M429.1 142.2h.01M453.1 143.7h.01M462.3 172.9h.01M484.5 139.1h.01M458.1 146.3h.01M445.8 143.5h.01M450.4 151.8h.01M449.4 128.5h.01" stroke="#00e0fb"/>
<path d="M438.8 135.0h.01M454.2 157.9h.01M457.7 150.4h.01M476.9 163.2h.01M459.7 143.9h.01M455.3 155.5h.01M478.2 151.7h.01M459.4 140.7h.01" stroke="#0cf4eb"/>
<path d="M472.7 146.3h.01M471.7 182.5h.01M473.2 138.1h.01M468.2 140.2h.01M457.6 148.5h.01M471.6 138.6h.01M444.6 146.6h.01M435.7 136.6h.01M452.5 152.7h.01M454.0 151.1h.01M463.2 144.7h.01M442.0 120.0h.01M436.4 140.5h.01M456.4 155.6h.01" stroke="#1cffdb"/>
<path d="M441.4 120.6h.01M479.3 137.8h.01M439.3 130.6h.01M435.8 148.2h.01M475.1 176.7h.01M450.6 145.0h.01M459.9 140.5h.01" stroke="#30ffc7"/>
<path d="M446.5 166.5h.01M489.0 160.0h.01M454.5 132.1h.01M473.0 154.2h.01M455.8 148.3h.01M471.0 151.4h.01M450.4 133.3h.01" stroke="#40ffb7"/>
<path d="M433.3 142.7h.01M441.6 125.5h.01M470.4 170.1h.01M458.1 151.9h.01M449.6 144.0h.01M465.1 152.8h.01M462.0 135.1h.01M448.9 141.9h.01M469.8 136.6h.01M473.3 156.4h.01M457.3 151.6h.01M458.3 159.8h.01M456.7 143.6h.01M470.8 152.9h.01M451.6 147.9h.01M465.0 147.3h.01M421.3 129.7h.01M447.7 125.2h.01M463.1 190.3h.01M457.2 131.1h.01" stroke="#50ffa7"/>
<path d="M459.9 148.3h.01M447.1 136.5h.01M430.8 125.3h.01M473.1 138.7h.01M450.9 142.6h.01M478.8 146.2h.01M432.8 127.1h.01M431.6 138.7h.01M447.4 138.2h.01M454.0 134.8h.01M474.2 177.5h.01M452.6 149.6h.01M487.1 164.4h.01M478.6 148.8h.01" stroke="#63ff94"/>
<path d="M451.4 131.8h.01M439.8 140.1h.01M453.6 142.1h.01M458.6 134.7h.01M452.7 156.1h.01M456.3 161.4h.01M449.7 132.6h.01M462.9 151.3h.01M461.6 164.3h.01M449.8 146.7h.01M459.0 148.6h.01M462.0 152.1h.01M454.3 150.0h.01M465.4 145.1h.01M466.8 125.8h.01M445.3 134.6h.01M462.8 123.6h.01M474.8 139.9h.01" stroke="#73ff83"/>
<path d="M459.7 157.8h.01M442.9 142.8h.01M418.4 121.8h.01M450.1 129.7h.01M444.0 138.3h.01M484.5 168.7h.01M464.0 146.4h.01M450.1 149.6h.01M455.1 131.1h.01M430.1 116.1h.01M451.3 154.0h.01" stroke="#83ff73"/>
<path d="M428.3 122.0h.01M454.9 156.5h.01M473.3 162.6h.01M464.2 148.0h.01M467.2 132.4h.01M451.7 156.2h.01M460.2 159.3h.01M451.6 162.8h.01M462.1 148.7h.01M478.4 138.2h.01M443.7 131.8h.01M463.9 158.2h.01M447.8 133.3h.01M457.0 140.1h.01M437.7 129.0h.01" stroke="#97ff60"/>
<path d="M451.9 157.0h.01M465.8 162.7h.01M484.9 135.5h.01M439.7 152.4h.01M425.7 117.3h.01M442.5 139.6h.01" stroke="#a7ff50"/>
<path d="M442.9 153.7h.01M443.9 142.2h.01M466.4 152.3h.01M446.7 129.7h.01M462.4 144.3h.01M449.6 139.0h.01M457.8 152.9h.01M444.7 154.2h.01M466.7 138.7h.01" stroke="#b7ff40"/>
<path d="M466.3 150.5h.01M466.4 134.2h.01M440.9 141.9h.01M457.9 136.8h.01M443.8 174.4h.01M468.0 157.6h.01M460.3 163.8h.01M464.7 162.0h.01M462.7 160.0h.01M442.1 128.2h.01" stroke="#caff2c"/>
<path d="M462.3 181.5h.01M446.6 149.5h.01M468.5 160.5h.01M429.4 150.0h.01M459.9 159.3h.01M446.8 162.7h.01M446.7 157.5h.01M458.3 133.3h.01M462.9 141.6h.01M454.2 152.6h.01" stroke="#dbff1c"/>
<path d="M449.4 134.0h.01M461.3 155.0h.01M457.3 145.3h.01M462.9 156.4h.01M451.9 147.2h.01M458.5 140.3h.01M449.4 132.5h.01M498.2 154.5h.01M457.0 122.9h.01M466.8 159.2h.01" stroke="#ebff0c"/>
<path d="M461.0 151.3h.01M469.6 148.8h.01M456.9 141.4h.01M446.6 149.3h.01M494.2 156.2h.01M454.7 141.1h.01M452.4 152.6h.01" stroke="#feed00"/>
<path d="M444.9 130.8h.01M458.3 141.4h.01M440.6 120.9h.01M452.5 150.7h.01M446.5 124.0h.01M444.9 128.3h.01M436.1 150.1h.01M469.2 145.2h.01M456.0 155.9h.01" stroke="#ffdb00"/>
<path d="M423.1 126.7h.01M442.0 131.4h.01M468.5 150.3h.01M449.4 141.3h.01M461.8 141.5h.01M437.0 134.3h.01M458.2 147.4h.01" stroke="#ffc800"/>
<path d="M449.4 136.9h.01M464.3 150.2h.01M425.3 109.5h.01M451.4 136.4h.01M463.7 153.6h.01" stroke="#ffb200"/>
<path d="M465.6 147.8h.01M466.9 154.8h.01M476.2 153.9h.01M449.3 167.8h.01M449.6 148.4h.01" stroke="#ff9f00"/>
<path d="M449.9 131.6h.01M445.9 141.2h.01M458.5 144.9h.01" stroke="#ff8d00"/>
<path d="M468.3 166.6h.01M459.8 140.1h.01" stroke="#ff5200"/>
<path d="M439.9 154.1h.01M447.3 154.3h.01" stroke="#ff2900"/>
<path d="M437.5 134.3h.01M451.4 162.9h.01M449.6 149.6h.01" stroke="#ff1600"/>
<path d="M462.7 149.3h.01" stroke="#e80000"/>
<path d="M459.0 293.4h.01M454.1 292.8h.01M442.4 293.1h.01M447.8 293.7h.01M478.5 292.7h.01" stroke="#0000a4"/>
<path d="M457.2 291.7h.01M453.9 291.5h.01M452.6 291.6h.01M452.8 291.8h.01M439.9 291.3h.01M461.4 290.5h.01" stroke="#0000bb"/>
<path d="M462.9 290.1h.01M455.2 289.3h.01M460.2 288.8h.01M465.4 289.7h.01" stroke="#0000d1"/>
<path d="M448.8 288.6h.01M440.9 287.9h.01M425.4 288.2h.01M446.4 288.2h.01M462.7 287.7h.01M444.1 287.9h.01M441.5 288.1h.01" stroke="#0000ed"/>
<path d="M433.5 286.9h.01M452.1 286.8h.01M459.1 286.8h.01M452.1 285.7h.01" stroke="#0000ff"/>
<path d="M455.3 284.3h.01M465.1 284.4h.01M424.5 284.1h.01M463.7 284.1h.01M430.0 284.8h.01M450.4 283.7h.01M445.1 283.7h.01M464.6 285.1h.01M460.2 283.8h.01M456.5 283.7h.01M445.2 283.9h.01" stroke="#0008ff"/>
<path d="M456.0 283.0h.01M424.6 283.4h.01M451.1 282.4h.01M451.8 282.0h.01M447.2 283.4h.01M431.9 282.6h.01M459.7 282.3h.01M460.3 283.6h.01" stroke="#0020ff"/>
<path d="M441.7 281.6h.01M473.6 281.1h.01M462.4 281.3h.01M450.0 280.6h.01M452.4 280.7h.01M442.9 281.7h.01M461.0 281.8h.01M475.7 281.8h.01M456.6 281.9h.01M469.9 281.6h.01" stroke="#0034ff"/>
<path d="M461.1 279.2h.01M451.0 279.2h.01M462.0 278.6h.01M469.9 278.7h.01M462.3 279.4h.01M462.8 279.4h.01M463.3 280.2h.01M445.8 278.5h.01M458.1 278.9h.01M443.2 280.2h.01M437.7 278.5h.01M466.3 280.2h.01M400.1 278.7h.01" stroke="#0048ff"/>
<path d="M463.2 277.3h.01M464.1 278.2h.01M447.5 277.5h.01M446.8 278.3h.01M453.5 278.1h.01M449.9 277.0h.01M463.5 277.4h.01M448.5 277.9h.01M426.0 277.3h.01M443.3 277.4h.01M435.6 277.0h.01M461.6 278.5h.01M442.0 278.2h.01M430.6 277.7h.01M476.3 277.5h.01" stroke="#0060ff"/>
<path d="M455.4 275.5h.01M461.2 275.3h.01M474.2 276.6h.01M452.0 276.6h.01M470.7 275.8h.01M462.5 275.4h.01M455.1 275.5h.01M447.6 275.9h.01M447.8 275.2h.01M448.9 275.6h.01M444.0 276.5h.01M427.8 276.4h.01M469.7 276.4h.01M455.4 275.9h.01M444.8 276.6h.01M456.9 275.3h.01M459.7 276.7h.01M452.6 275.8h.01M465.9 275.2h.01M456.4 276.0h.01M456.4 276.3h.01M465.9 275.7h.01M457.3 276.5h.01M452.1 276.3h.01M457.7 275.6h.01M466.9 275.2h.01M457.8 276.5h.01M456.7 276.0h.01M459.9 276.2h.01M466.6 276.6h.01M466.3 275.2h.01M456.9 276.4h.01M454.7 276.4h.01M454.6 276.8h.01" stroke="#0074ff"/>
<path d="M468.6 274.6h.01M461.5 273.5h.01M477.4 274.5h.01M440.1 273.6h.01M439.0 274.1h.01M467.0 273.9h.01M443.5 274.2h.01M460.7 274.9h.01M450.2 273.6h.01M444.7 274.7h.01M471.1 274.9h.01M469.8 275.0h.01M444.7 273.8h.01M465.8 274.8h.01M450.9 274.3h.01M457.4 275.0h.01M470.3 274.2h.01M458.3 273.6h.01M455.8 274.6h.01M458.5 274.3h.01M472.2 274.6h.01M464.4 274.9h.01M473.2 274.7h.01M462.8 273.9h.01M440.2 275.1h.01M448.5 275.1h.01M444.3 273.7h.01M463.9 273.7h.01M453.8 274.6h.01M449.9 274.3h.01M472.6 275.1h.01M486.7 275.0h.01" stroke="#0088ff"/>
<path d="M447.1 273.0h.01M436.2 271.8h.01M449.8 272.4h.01M466.2 272.3h.01M467.5 272.8h.01M447.8 271.8h.01M459.6 273.4h.01M464.7 272.0h.01M456.0 272.5h.01M440.6 273.0h.01M470.2 272.7h.01M450.8 271.9h.01M445.5 272.1h.01M433.9 273.4h.01M475.4 272.7h.01M457.5 272.9h.01M470.7 272.9h.01M451.5 273.0h.01M465.4 272.6h.01M456.5 273.1h.01M455.6 271.8h.01M449.7 272.4h.01M463.4 273.0h.01M433.4 273.3h.01M467.2 272.0h.01M446.3 273.4h.01M458.9 272.5h.01M443.8 272.7h.01M458.4 272.5h.01M467.2 272.6h.01M448.1 271.8h.01M454.9 273.3h.01M461.5 271.8h.01M449.8 272.3h.01M451.6 272.6h.01M450.4 272.5h.01" stroke="#00a0ff"/>
<path d="M436.8 270.4h.01M486.6 270.6h.01M436.7 270.1h.01M448.2 271.2h.01M461.9 270.3h.01M424.9 270.2h.01M448.1 270.1h.01M455.2 271.1h.01M480.4 271.1h.01M450.7 270.3h.01M455.0 270.8h.01M461.9 271.2h.01M449.0 271.0h.01M462.9 271.5h.01M499.1 270.6h.01M461.6 271.2h.01M453.6 271.0h.01M475.0 270.9h.01M449.9 270.1h.01M454.9 270.1h.01M452.9 270.1h.01M465.3 270.1h.01M466.0 270.9h.01M460.6 271.4h.01M461.1 270.1h.01M466.3 270.2h.01M463.6 271.0h.01M459.4 270.2h.01M464.8 270.2h.01M452.4 271.1h.01M460.2 270.1h.01M466.9 270.9h.01M467.5 271.3h.01M437.9 270.6h.01M458.3 271.6h.01M454.9 270.6h.01M434.0 270.9h.01M454.9 271.6h.01M446.9 271.5h.01M467.5 270.3h.01M455.4 270.9h.01M442.3 271.3h.01M427.7 270.1h.01M424.4 271.3h.01M470.8 270.7h.01" stroke="#00b4ff"/>
<path d="M410.9 270.0h.01M460.1 268.6h.01M444.7 269.7h.01M457.6 269.6h.01M476.6 269.2h.01M453.3 269.1h.01M457.1 268.8h.01M445.6 268.4h.01M465.3 269.2h.01M467.7 268.8h.01M450.6 269.8h.01M445.3 269.9h.01M448.7 269.0h.01M436.4 269.7h.01M469.4 269.4h.01M459.4 268.4h.01M455.5 268.5h.01M442.8 269.8h.01M462.5 270.0h.01M444.7 269.5h.01M442.9 269.9h.01M437.0 269.0h.01M449.6 268.6h.01M451.0 269.1h.01M449.9 268.8h.01M456.9 269.5h.01M442.0 268.6h.01M455.9 270.0h.01M490.4 268.7h.01M461.2 268.9h.01M455.0 269.7h.01M441.7 269.2h.01M445.8 268.6h.01M468.6 269.0h.01M445.6 269.5h.01M437.8 269.5h.01M452.4 269.8h.01M447.6 268.4h.01M420.6 269.0h.01M435.9 268.6h.01M477.9 269.9h.01M464.5 268.5h.01M460.5 269.7h.01M437.8 268.5h.01M472.7 270.0h.01M454.4 269.6h.01M444.1 268.8h.01M447.5 268.7h.01M473.3 269.3h.01M438.3 268.6h.01M487.8 269.5h.01M450.6 269.6h.01M433.6 268.9h.01M421.3 269.9h.01M457.5 268.4h.01M454.4 268.7h.01M475.8 269.9h.01M473.2 268.5h.01M448.1 268.9h.01M457.7 269.4h.01M454.2 269.6h.01M444.5 268.9h.01M454.1 269.1h.01M456.1 269.0h.01M453.1 268.7h.01M454.7 268.5h.01M438.7 269.0h.01M447.4 269.7h.01M447.2 270.0h.01M427.6 268.9h.01M476.8 269.5h.01M441.3 268.7h.01M454.6 270.0h.01" stroke="#00c8ff"/>
<path d="M451.0 267.8h.01M484.2 267.1h.01M464.9 268.1h.01M447.8 267.7h.01M439.2 268.0h.01M490.9 268.3h.01M464.7 266.9h.01M455.8 267.2h.01M469.3 268.1h.01M451.6 267.6h.01M446.5 267.9h.01M428.3 266.7h.01M457.3 267.3h.01M445.3 267.0h.01M467.4 266.9h.01M464.5 267.2h.01M445.7 268.0h.01M463.8 266.9h.01M460.0 267.1h.01M453.8 267.3h.01M456.2 268.3h.01M463.0 266.8h.01M446.8 267.0h.01M460.4 268.2h.01M472.0 266.9h.01M454.2 267.6h.01M451.9 268.1h.01M456.6 266.8h.01M484.0 266.7h.01M427.0 267.4h.01M498.0 266.9h.01M463.6 267.7h.01M453.5 268.1h.01M453.7 268.1h.01M471.3 267.2h.01M450.0 268.1h.01M444.3 267.5h.01M405.3 266.9h.01M453.5 267.2h.01M454.8 267.0h.01M421.5 268.2h.01M449.5 267.7h.01M484.7 267.1h.01M474.1 268.3h.01M456.0 268.0h.01M454.7 268.0h.01M437.0 266.9h.01M434.8 267.3h.01M454.5 267.4h.01M450.3 267.1h.01M462.3 267.8h.01M449.0 268.2h.01M458.3 267.3h.01M433.8 267.8h.01M463.7 266.9h.01M472.2 267.4h.01M460.8 268.0h.01M466.3 267.6h.01M459.4 266.8h.01M469.1 267.3h.01M450.7 266.7h.01M452.6 268.0h.01M441.6 268.2h.01M479.0 267.6h.01M437.0 267.5h.01M448.7 267.3h.01M457.9 267.9h.01M459.2 267.6h.01M467.6 267.4h.01M445.1 267.3h.01M429.1 267.9h.01M453.1 267.5h.01M462.3 268.0h.01M484.5 267.8h.01M458.1 267.9h.01M445.8 267.4h.01M450.4 266.7h.01M449.4 267.2h.01" stroke="#00e0fb"/>
<path d="M471.2 266.4h.01M475.0 266.4h.01M460.5 265.0h.01M459.7 265.8h.01M451.5 265.9h.01M448.3 265.6h.01M441.3 266.2h.01M422.9 265.6h.01M439.3 265.2h.01M432.9 266.0h.01M433.7 266.1h.01M443.9 266.6h.01M482.6 265.8h.01M475.9 265.4h.01M459.3 266.1h.01M442.1 265.8h.01M457.8 266.0h.01M473.2 265.5h.01M456.5 265.2h.01M478.3 265.1h.01M447.2 266.1h.01M450.9 265.4h.01M443.3 265.4h.01M458.4 265.1h.01M452.7 265.5h.01M480.1 265.6h.01M474.7 266.3h.01M454.5 265.0h.01M459.1 266.3h.01M460.6 266.6h.01M444.9 265.1h.01M452.3 266.5h.01M462.1 266.3h.01M465.1 266.2h.01M474.1 265.0h.01M457.8 265.0h.01M451.4 265.5h.01M441.9 266.1h.01M450.0 266.2h.01M425.9 265.8h.01M457.4 265.7h.01M452.2 265.0h.01M445.3 266.6h.01M463.6 265.2h.01M452.9 266.1h.01M461.1 265.1h.01M449.3 265.0h.01M462.7 266.3h.01M470.6 265.3h.01M463.4 266.6h.01M470.0 266.1h.01M449.8 266.0h.01M471.3 265.4h.01M468.4 266.4h.01M454.9 266.0h.01M437.8 265.3h.01M492.5 265.2h.01M443.8 265.3h.01M465.1 265.1h.01M476.4 265.4h.01M438.8 265.2h.01M454.2 265.8h.01M457.7 265.6h.01M476.9 266.1h.01M459.7 265.7h.01M455.3 266.6h.01M478.2 265.3h.01M459.4 265.9h.01" stroke="#0cf4eb"/>
<path d="M463.7 264.4h.01M458.4 264.2h.01M465.9 264.8h.01M464.7 263.9h.01M436.6 264.1h.01M455.6 264.0h.01M442.7 264.8h.01M471.2 263.5h.01M453.4 263.4h.01M462.6 263.7h.01M426.2 264.1h.01M440.0 264.8h.01M469.3 263.8h.01M461.1 263.3h.01M454.5 264.1h.01M440.8 264.0h.01M451.5 263.3h.01M470.1 263.9h.01M453.1 264.5h.01M456.5 264.2h.01M448.1 264.7h.01M457.5 263.4h.01M459.2 264.1h.01M456.9 263.6h.01M443.3 264.4h.01M458.4 263.8h.01M472.5 264.0h.01M453.1 263.6h.01M449.7 263.3h.01M449.5 264.9h.01M456.0 264.8h.01M449.8 264.9h.01M449.8 264.9h.01M446.7 264.3h.01M492.7 263.9h.01M461.9 264.5h.01M436.1 264.1h.01M465.2 263.4h.01M450.8 264.6h.01M445.8 264.4h.01M449.0 263.7h.01M477.9 264.3h.01M434.2 264.7h.01M440.2 264.9h.01M451.5 263.6h.01M458.1 264.1h.01M455.2 263.4h.01M441.6 263.8h.01M451.4 264.6h.01M432.3 264.4h.01M464.8 264.2h.01M479.6 264.9h.01M441.8 263.6h.01M453.8 264.6h.01M468.9 264.8h.01M443.5 264.9h.01M456.5 264.9h.01M459.2 264.7h.01M442.5 264.3h.01M457.3 263.5h.01M439.0 263.4h.01M452.1 264.7h.01M465.8 263.7h.01M438.3 263.6h.01M435.5 263.7h.01M468.3 263.3h.01M451.1 264.9h.01M470.6 264.4h.01M476.8 263.5h.01M448.4 264.6h.01M457.7 264.5h.01M458.9 264.7h.01M472.7 263.6h.01M471.7 264.0h.01M473.2 264.2h.01M468.2 264.0h.01M457.6 264.2h.01M471.6 264.9h.01M444.6 263.7h.01M435.7 263.4h.01M452.5 264.3h.01M454.0 264.0h.01M463.2 263.8h.01M442.0 264.1h.01M436.4 264.8h.01M456.4 264.2h.01" stroke="#1cffdb"/>
<path d="M446.7 262.3h.01M462.5 261.7h.01M455.5 261.8h.01M441.8 262.0h.01M446.6 262.8h.01M467.7 263.2h.01M462.8 262.1h.01M437.5 263.0h.01M456.1 262.0h.01M463.0 262.7h.01M445.7 262.3h.01M445.2 262.1h.01M460.9 262.2h.01M463.4 262.0h.01M475.8 262.6h.01M445.3 261.9h.01M467.6 262.1h.01M465.0 262.5h.01M462.7 262.2h.01M451.1 262.0h.01M431.1 261.7h.01M464.4 261.7h.01M459.7 262.2h.01M464.4 262.5h.01M445.0 262.4h.01M447.0 262.7h.01M424.5 262.5h.01M473.9 263.0h.01M469.9 262.9h.01M440.2 262.5h.01M464.5 261.9h.01M443.4 263.1h.01M452.6 263.1h.01M460.8 261.6h.01M452.9 263.1h.01M451.2 262.7h.01M453.4 262.4h.01M458.5 262.6h.01M455.0 261.7h.01M445.6 261.7h.01M460.0 262.3h.01M457.8 262.3h.01M453.2 262.2h.01M434.9 262.3h.01M478.3 263.1h.01M462.2 263.0h.01M446.8 261.7h.01M456.7 262.8h.01M477.6 262.0h.01M458.6 261.6h.01M452.3 261.8h.01M457.2 262.9h.01M446.1 262.1h.01M438.4 262.7h.01M449.0 262.4h.01M455.1 263.0h.01M468.5 263.0h.01M456.1 262.3h.01M443.4 261.9h.01M447.6 261.7h.01M456.2 261.8h.01M451.9 262.4h.01M441.4 262.2h.01M479.3 262.4h.01M439.3 262.5h.01M435.8 261.9h.01M475.1 263.0h.01M450.6 262.1h.01M459.9 262.2h.01" stroke="#30ffc7"/>
<path d="M461.9 260.8h.01M465.2 260.6h.01M458.0 260.4h.01M465.4 261.3h.01M455.4 259.9h.01M464.0 261.3h.01M459.8 260.1h.01M474.2 260.5h.01M447.4 260.2h.01M455.4 261.0h.01M452.2 260.1h.01M451.0 260.5h.01M446.0 260.4h.01M458.2 260.5h.01M454.0 260.3h.01M467.1 260.3h.01M447.5 260.6h.01M458.5 260.9h.01M456.0 261.1h.01M454.1 260.8h.01M447.6 260.4h.01M454.2 261.5h.01M442.0 260.7h.01M447.9 261.2h.01M444.2 260.2h.01M451.6 260.4h.01M455.9 260.0h.01M444.5 261.4h.01M438.4 260.6h.01M423.7 260.4h.01M429.2 260.0h.01M441.7 260.7h.01M460.7 260.5h.01M471.0 260.2h.01M451.8 260.5h.01M449.8 260.8h.01M461.7 261.5h.01M467.3 260.0h.01M455.1 261.1h.01M458.9 260.5h.01M464.9 260.3h.01M451.9 261.0h.01M453.2 260.9h.01M468.4 260.3h.01M459.6 260.1h.01M458.0 260.7h.01M467.5 260.0h.01M422.3 260.9h.01M457.9 261.4h.01M485.5 260.5h.01M460.6 260.5h.01M446.1 260.5h.01M463.2 260.4h.01M472.7 260.7h.01M463.7 259.9h.01M445.6 260.2h.01M470.5 260.3h.01M434.2 261.3h.01M458.5 260.4h.01M473.0 260.8h.01M439.9 261.4h.01M448.4 261.0h.01M461.5 261.1h.01M453.9 261.5h.01M465.2 261.4h.01M448.5 261.0h.01M484.8 260.7h.01M445.7 260.6h.01M460.0 260.6h.01M454.7 260.1h.01M460.2 261.4h.01M453.6 260.5h.01M442.8 260.9h.01M452.6 260.3h.01M474.3 260.3h.01M462.9 260.9h.01M454.5 261.4h.01M456.7 259.9h.01M435.0 260.1h.01M455.4 261.2h.01M443.1 260.3h.01M442.5 261.0h.01M452.5 260.6h.01M469.0 260.1h.01M443.0 260.9h.01M461.1 260.4h.01M436.6 260.7h.01M444.0 260.0h.01M456.1 260.2h.01M436.0 260.5h.01M446.5 260.6h.01M489.0 260.5h.01M454.5 261.1h.01M473.0 260.8h.01M455.8 260.8h.01M471.0 260.9h.01M450.4 260.0h.01" stroke="#40ffb7"/>
<path d="M462.7 258.3h.01M448.6 259.0h.01M455.0 259.3h.01M440.4 259.0h.01M457.4 259.8h.01M456.7 259.2h.01M463.3 258.5h.01M427.8 259.0h.01M463.8 258.7h.01M450.1 259.7h.01M446.5 259.3h.01M441.5 258.9h.01M453.5 259.7h.01M443.9 259.2h.01M443.9 259.7h.01M442.4 258.7h.01M474.2 259.2h.01M443.8 258.5h.01M433.8 259.2h.01M465.9 258.6h.01M450.0 259.2h.01M465.9 258.7h.01M480.5 258.4h.01M466.7 258.7h.01M426.0 259.1h.01M457.8 259.6h.01M455.5 259.0h.01M441.3 259.9h.01M452.3 258.8h.01M445.9 259.0h.01M447.7 258.2h.01M456.0 258.4h.01M456.8 258.5h.01M446.7 259.0h.01M468.1 258.6h.01M460.6 258.8h.01M472.0 258.4h.01M458.4 258.7h.01M447.8 259.1h.01M444.6 259.5h.01M460.9 259.7h.01M451.9 258.6h.01M480.6 259.7h.01M441.1 258.8h.01M460.3 258.4h.01M452.8 259.8h.01M466.2 258.8h.01M463.7 259.0h.01M440.6 258.3h.01M472.8 258.7h.01M440.7 259.7h.01M476.6 258.2h.01M451.2 258.6h.01M428.3 259.8h.01M429.2 259.1h.01M476.9 258.2h.01M472.8 259.6h.01M464.0 258.9h.01M427.1 258.6h.01M448.6 259.7h.01M448.1 258.3h.01M464.1 258.3h.01M440.4 259.3h.01M489.0 258.4h.01M465.0 259.0h.01M445.5 258.3h.01M479.1 258.7h.01M444.9 259.3h.01M466.9 259.5h.01M460.1 258.7h.01M454.9 258.5h.01M433.0 259.2h.01M465.7 258.7h.01M463.3 259.5h.01M445.2 258.6h.01M468.7 258.9h.01M472.2 258.5h.01M453.8 258.3h.01M455.2 258.5h.01M461.9 258.3h.01M462.6 258.6h.01M431.9 258.3h.01M449.9 258.5h.01M433.3 258.6h.01M441.6 258.9h.01M470.4 259.2h.01M458.1 258.3h.01M449.6 259.0h.01M465.1 258.7h.01M462.0 258.4h.01M448.9 259.0h.01M469.8 259.4h.01M473.3 259.4h.01M457.3 258.3h.01M458.3 258.4h.01M456.7 259.3h.01M470.8 258.3h.01M451.6 259.1h.01M465.0 259.1h.01M421.3 258.9h.01M447.7 258.4h.01M463.1 259.4h.01M457.2 259.4h.01" stroke="#50ffa7"/>
<path d="M448.4 258.1h.01M447.0 256.9h.01M456.0 257.6h.01M449.1 256.8h.01M454.9 257.6h.01M422.0 257.9h.01M453.8 257.6h.01M426.7 257.5h.01M460.4 258.1h.01M466.1 258.1h.01M459.0 257.8h.01M467.5 258.0h.01M467.4 257.7h.01M458.9 257.5h.01M465.8 257.3h.01M459.6 257.8h.01M471.2 257.2h.01M434.8 256.9h.01M450.9 256.6h.01M469.6 257.7h.01M468.5 257.6h.01M457.6 257.6h.01M438.7 257.5h.01M463.1 256.8h.01M447.7 257.4h.01M434.3 258.2h.01M447.7 256.9h.01M470.9 257.6h.01M436.7 256.8h.01M446.2 257.3h.01M435.6 257.8h.01M457.1 258.1h.01M457.6 257.7h.01M435.4 257.7h.01M433.6 257.7h.01M459.3 257.2h.01M454.5 257.8h.01M447.9 257.2h.01M465.4 257.7h.01M463.0 256.9h.01M442.1 256.8h.01M454.2 258.1h.01M455.8 258.2h.01M453.5 257.4h.01M463.8 256.8h.01M449.2 256.7h.01M457.1 256.8h.01M448.0 257.4h.01M458.3 257.5h.01M455.1 257.8h.01M452.2 257.5h.01M457.3 257.3h.01M445.7 257.8h.01M448.9 257.5h.01M457.2 257.5h.01M436.4 257.0h.01M462.1 258.1h.01M455.6 257.0h.01M459.9 258.0h.01M451.6 258.0h.01M453.5 258.1h.01M444.2 258.1h.01M452.0 256.9h.01M435.2 257.2h.01M459.1 257.6h.01M465.4 257.5h.01M449.9 257.9h.01M473.4 257.5h.01M458.6 257.1h.01M436.8 257.0h.01M453.2 256.9h.01M451.9 256.7h.01M493.9 256.5h.01M446.2 256.6h.01M473.7 256.7h.01M452.4 257.0h.01M435.9 258.1h.01M464.7 257.2h.01M447.5 258.1h.01M444.0 257.6h.01M451.9 257.8h.01M460.5 258.1h.01M454.3 257.4h.01M459.9 257.1h.01M447.1 257.7h.01M430.8 257.3h.01M473.1 257.3h.01M450.9 257.3h.01M478.8 256.5h.01M432.8 258.1h.01M431.6 257.2h.01M447.4 257.9h.01M454.0 257.7h.01M474.2 256.9h.01M452.6 257.5h.01M487.1 257.4h.01M478.6 256.6h.01" stroke="#63ff94"/>
<path d="M461.5 256.4h.01M436.3 255.6h.01M457.6 256.1h.01M452.6 255.5h.01M446.7 256.0h.01M461.2 256.2h.01M443.1 255.5h.01M463.6 255.6h.01M432.6 255.9h.01M427.2 256.2h.01M478.2 255.0h.01M421.1 256.3h.01M450.5 255.1h.01M450.2 255.3h.01M452.6 256.2h.01M470.2 256.4h.01M462.5 255.0h.01M473.5 255.2h.01M437.0 255.7h.01M462.7 256.0h.01M468.2 255.2h.01M477.5 256.0h.01M419.9 256.0h.01M429.2 255.0h.01M437.7 255.9h.01M432.2 256.3h.01M463.0 255.3h.01M457.5 255.0h.01M425.0 255.3h.01M480.6 254.8h.01M444.5 256.1h.01M442.6 256.1h.01M455.8 255.5h.01M461.2 256.1h.01M450.4 256.3h.01M435.2 255.3h.01M460.9 256.4h.01M473.3 255.0h.01M456.9 256.2h.01M468.2 256.3h.01M442.2 254.8h.01M461.1 256.2h.01M444.6 256.4h.01M481.4 255.7h.01M449.3 255.9h.01M471.9 255.8h.01M456.4 256.0h.01M454.8 255.9h.01M451.6 256.1h.01M460.9 255.9h.01M445.9 256.1h.01M454.5 255.8h.01M426.9 255.9h.01M473.9 255.5h.01M447.1 255.1h.01M484.9 256.2h.01M456.2 255.5h.01M453.0 255.3h.01M458.4 255.5h.01M447.4 255.3h.01M457.4 255.6h.01M463.2 256.3h.01M485.1 256.5h.01M468.4 255.9h.01M456.2 255.1h.01M461.9 256.3h.01M445.0 255.9h.01M462.1 255.7h.01M441.2 256.0h.01M448.5 255.9h.01M432.9 255.5h.01M447.7 255.6h.01M460.5 255.6h.01M436.7 255.3h.01M444.1 255.6h.01M464.4 255.4h.01M458.6 256.3h.01M449.7 255.8h.01M472.1 255.9h.01M447.9 254.9h.01M442.0 256.4h.01M447.2 255.0h.01M456.5 255.3h.01M441.6 255.4h.01M451.4 255.0h.01M439.8 256.4h.01M453.6 255.1h.01M458.6 256.2h.01M452.7 255.0h.01M456.3 255.2h.01M449.7 255.2h.01M462.9 255.0h.01M461.6 255.3h.01M449.8 255.6h.01M459.0 255.0h.01M462.0 256.1h.01M454.3 255.4h.01M465.4 255.7h.01M466.8 255.3h.01M445.3 254.9h.01M462.8 256.2h.01M474.8 255.3h.01" stroke="#73ff83"/>
<path d="M442.1 253.1h.01M447.9 254.2h.01M461.0 254.6h.01M467.3 254.7h.01M443.1 253.6h.01M465.4 253.4h.01M475.5 253.5h.01M459.6 254.3h.01M450.9 254.3h.01M441.8 254.8h.01M441.6 253.7h.01M472.8 254.4h.01M443.0 253.1h.01M457.4 254.7h.01M451.3 253.2h.01M427.0 253.6h.01M467.1 254.3h.01M451.4 254.2h.01M448.2 254.2h.01M444.1 253.4h.01M454.1 254.8h.01M444.4 253.6h.01M454.6 254.6h.01M428.1 254.3h.01M451.7 254.4h.01M468.7 254.3h.01M454.2 253.5h.01M448.1 253.6h.01M440.9 254.4h.01M469.7 253.8h.01M466.5 254.1h.01M477.0 254.7h.01M442.1 254.4h.01M470.1 254.8h.01M477.0 254.2h.01M462.4 254.1h.01M459.1 254.2h.01M472.8 253.2h.01M498.0 253.4h.01M457.8 254.0h.01M454.7 253.6h.01M455.0 253.3h.01M455.7 253.5h.01M445.5 253.6h.01M452.7 254.4h.01M441.8 253.5h.01M453.3 254.7h.01M450.0 253.5h.01M459.2 253.3h.01M449.7 254.4h.01M471.2 254.3h.01M454.8 253.4h.01M473.5 253.8h.01M445.8 254.4h.01M462.9 254.2h.01M458.6 254.7h.01M434.0 253.5h.01M430.9 253.6h.01M429.8 253.3h.01M445.1 253.1h.01M447.3 253.6h.01M435.1 254.6h.01M437.1 254.7h.01M439.6 253.7h.01M461.5 254.4h.01M461.9 254.2h.01M456.9 254.2h.01M439.0 253.5h.01M463.7 253.5h.01M452.7 254.1h.01M465.8 254.4h.01M461.6 253.9h.01M452.8 254.0h.01M456.1 254.7h.01M459.7 253.9h.01M442.9 254.3h.01M418.4 253.3h.01M450.1 253.2h.01M444.0 254.8h.01M484.5 253.2h.01M464.0 253.7h.01M450.1 254.2h.01M455.1 253.4h.01M430.1 253.4h.01M451.3 253.9h.01" stroke="#83ff73"/>
<path d="M456.0 252.7h.01M483.3 251.5h.01M472.9 252.9h.01M458.9 251.9h.01M456.6 252.7h.01M464.3 252.9h.01M470.7 251.4h.01M455.2 252.9h.01M453.5 252.4h.01M434.8 252.7h.01M448.8 252.7h.01M470.5 252.7h.01M442.0 252.8h.01M442.0 251.6h.01M463.7 251.9h.01M453.9 252.3h.01M477.9 251.8h.01M443.0 251.6h.01M459.8 252.8h.01M456.5 251.9h.01M442.3 253.0h.01M424.6 253.1h.01M436.1 252.9h.01M439.3 251.5h.01M458.9 252.9h.01M466.4 252.9h.01M449.9 252.4h.01M454.0 252.3h.01M468.7 252.5h.01M445.3 252.8h.01M459.6 252.6h.01M460.9 252.6h.01M470.0 251.6h.01M457.2 252.3h.01M426.1 251.5h.01M451.7 252.4h.01M428.3 252.5h.01M452.7 252.2h.01M492.0 251.7h.01M463.2 252.4h.01M438.4 251.4h.01M448.1 252.7h.01M462.7 252.0h.01M424.3 251.6h.01M443.2 251.5h.01M414.0 251.5h.01M442.8 251.7h.01M448.6 252.1h.01M469.2 251.5h.01M462.2 251.8h.01M446.2 252.8h.01M468.6 252.0h.01M441.2 251.9h.01M455.6 252.2h.01M460.3 252.8h.01M436.9 251.6h.01M454.9 252.3h.01M452.0 252.2h.01M461.1 252.7h.01M472.8 252.1h.01M445.5 251.5h.01M435.2 251.8h.01M469.5 251.5h.01M454.3 251.6h.01M451.2 251.9h.01M460.5 251.8h.01M441.6 253.0h.01M456.2 252.4h.01M435.1 251.9h.01M453.4 252.5h.01M462.7 253.1h.01M464.4 251.6h.01M466.9 251.6h.01M454.3 252.4h.01M454.7 252.9h.01M457.8 252.4h.01M460.8 252.7h.01M441.9 251.5h.01M428.3 252.7h.01M454.9 252.0h.01M473.3 252.6h.01M464.2 252.7h.01M467.2 251.8h.01M451.7 251.6h.01M460.2 252.0h.01M451.6 251.6h.01M462.1 251.8h.01M478.4 251.6h.01M443.7 252.7h.01M463.9 252.4h.01M447.8 252.0h.01M457.0 251.8h.01M437.7 252.3h.01" stroke="#97ff60"/>
<path d="M459.0 251.2h.01M434.1 250.0h.01M451.1 251.3h.01M437.4 249.9h.01M451.1 250.8h.01M441.7 250.9h.01M419.1 250.4h.01M462.2 249.9h.01M456.5 249.9h.01M465.6 250.8h.01M444.0 250.9h.01M452.0 251.2h.01M451.0 250.3h.01M453.9 249.8h.01M460.3 251.0h.01M455.6 251.0h.01M464.9 249.7h.01M438.1 250.8h.01M463.9 250.6h.01M465.5 250.7h.01M473.1 249.8h.01M443.1 249.8h.01M469.8 251.1h.01M465.3 250.8h.01M439.6 251.1h.01M455.2 250.8h.01M478.6 251.3h.01M434.4 251.1h.01M453.9 251.2h.01M449.2 249.8h.01M447.7 250.5h.01M451.4 251.2h.01M447.8 250.3h.01M456.2 251.0h.01M460.9 250.6h.01M461.4 250.0h.01M461.9 249.9h.01M467.7 250.0h.01M436.9 250.0h.01M462.2 249.9h.01M452.5 251.1h.01M445.5 251.0h.01M455.4 250.4h.01M451.5 251.2h.01M462.3 251.1h.01M488.9 251.2h.01M455.7 249.7h.01M461.5 250.6h.01M447.5 250.3h.01M454.3 251.1h.01M450.6 251.0h.01M456.4 250.8h.01M451.6 250.1h.01M451.2 249.9h.01M443.3 249.8h.01M460.6 250.7h.01M453.2 251.0h.01M442.7 250.3h.01M430.7 249.8h.01M422.8 250.1h.01M465.7 250.0h.01M466.8 251.1h.01M466.4 250.2h.01M474.7 250.6h.01M440.9 250.8h.01M456.7 251.1h.01M433.1 250.1h.01M450.1 250.1h.01M448.5 250.2h.01M410.0 250.1h.01M451.0 250.5h.01M450.5 250.9h.01M451.9 250.5h.01M465.8 250.2h.01M484.9 250.8h.01M439.7 250.4h.01M425.7 250.6h.01M442.5 251.2h.01" stroke="#a7ff50"/>
<path d="M461.7 248.6h.01M459.6 249.3h.01M452.9 248.9h.01M446.4 249.3h.01M475.6 248.5h.01M439.3 249.0h.01M449.6 248.8h.01M458.3 249.3h.01M450.8 249.2h.01M465.6 249.0h.01M439.7 249.0h.01M431.2 249.7h.01M442.3 248.9h.01M457.2 248.9h.01M456.3 248.5h.01M450.1 249.5h.01M439.7 248.3h.01M463.1 249.6h.01M471.1 249.5h.01M453.1 248.8h.01M452.2 248.6h.01M442.1 248.1h.01M454.7 248.9h.01M459.4 248.6h.01M462.5 249.1h.01M450.5 248.8h.01M462.7 249.5h.01M450.1 248.1h.01M447.9 249.3h.01M437.6 248.3h.01M463.5 249.1h.01M458.9 249.0h.01M445.5 248.7h.01M445.0 248.9h.01M464.7 249.0h.01M453.2 249.5h.01M461.6 249.3h.01M458.0 248.7h.01M468.3 248.9h.01M459.9 249.6h.01M449.4 248.3h.01M468.9 248.0h.01M440.4 248.2h.01M447.5 248.9h.01M446.2 248.5h.01M455.7 248.9h.01M472.4 248.8h.01M461.2 249.5h.01M454.4 249.6h.01M442.2 248.2h.01M461.4 248.3h.01M447.0 248.9h.01M459.2 248.2h.01M445.9 248.1h.01M422.5 249.1h.01M459.9 249.6h.01M455.8 248.6h.01M452.3 248.3h.01M434.5 248.4h.01M457.0 248.7h.01M456.0 249.6h.01M456.0 249.5h.01M457.3 249.1h.01M439.9 249.3h.01M444.4 248.3h.01M464.2 249.1h.01M453.9 248.9h.01M460.5 249.5h.01M437.2 248.2h.01M475.3 248.2h.01M449.6 249.3h.01M456.7 249.7h.01M441.7 249.6h.01M451.4 248.9h.01M452.0 249.1h.01M469.5 249.2h.01M439.9 248.5h.01M451.4 249.4h.01M452.0 249.7h.01M458.9 249.4h.01M491.5 248.9h.01M463.9 249.6h.01M449.4 249.4h.01M448.5 248.9h.01M441.2 248.3h.01M441.6 249.6h.01M446.7 248.9h.01M468.8 249.0h.01M469.6 248.4h.01M441.1 248.5h.01M459.3 248.4h.01M442.9 248.1h.01M443.9 248.6h.01M466.4 248.0h.01M446.7 248.0h.01M462.4 248.3h.01M449.6 248.1h.01M457.8 248.8h.01M444.7 248.7h.01M466.7 249.3h.01" stroke="#b7ff40"/>
<path d="M446.3 247.9h.01M452.1 247.2h.01M462.9 246.5h.01M435.0 247.0h.01M453.6 247.2h.01M433.4 247.2h.01M458.5 247.3h.01M430.1 246.4h.01M464.1 248.0h.01M434.9 246.5h.01M462.7 246.5h.01M469.2 247.2h.01M455.0 247.1h.01M470.6 247.5h.01M457.1 247.4h.01M443.6 247.0h.01M449.3 247.1h.01M447.6 247.1h.01M432.5 248.0h.01M443.1 248.0h.01M450.7 246.9h.01M459.1 247.7h.01M455.3 247.0h.01M447.3 246.6h.01M434.9 247.8h.01M484.3 247.1h.01M460.8 246.9h.01M457.2 246.7h.01M463.8 247.0h.01M461.9 246.9h.01M454.0 247.6h.01M453.2 246.9h.01M461.9 246.7h.01M461.2 247.3h.01M448.8 246.3h.01M461.1 247.2h.01M447.0 247.5h.01M469.1 247.9h.01M453.5 247.8h.01M453.7 247.3h.01M470.2 246.7h.01M433.6 246.3h.01M435.9 246.9h.01M453.3 247.6h.01M454.2 247.6h.01M433.1 247.6h.01M450.5 247.4h.01M457.3 247.1h.01M447.2 247.8h.01M480.0 246.6h.01M455.4 247.5h.01M446.6 246.8h.01M469.5 246.9h.01M467.8 246.9h.01M462.3 247.1h.01M443.9 248.0h.01M458.6 247.0h.01M444.1 246.3h.01M470.9 247.3h.01M458.0 246.5h.01M450.9 247.1h.01M453.3 247.0h.01M443.8 247.7h.01M459.0 247.6h.01M461.0 246.8h.01M433.4 247.7h.01M470.6 247.6h.01M449.6 247.3h.01M430.6 247.2h.01M474.0 247.8h.01M461.0 246.7h.01M461.7 247.6h.01M453.2 246.3h.01M464.8 247.5h.01M476.0 246.7h.01M447.9 247.1h.01M464.5 246.9h.01M444.1 246.5h.01M466.3 247.5h.01M466.4 247.5h.01M440.9 247.7h.01M457.9 247.8h.01M443.8 246.7h.01M468.0 247.6h.01M460.3 246.7h.01M464.7 246.8h.01M462.7 247.5h.01M442.1 246.6h.01" stroke="#caff2c"/>
<path d="M468.2 244.9h.01M480.5 246.0h.01M452.6 246.3h.01M457.1 244.9h.01M464.5 245.4h.01M450.4 245.3h.01M457.0 244.9h.01M457.6 245.8h.01M435.7 245.7h.01M461.6 245.9h.01M441.2 245.7h.01M439.3 245.7h.01M444.2 245.3h.01M432.2 245.5h.01M442.1 245.6h.01M443.3 246.1h.01M464.1 244.7h.01M464.0 244.8h.01M459.2 245.5h.01M466.1 246.1h.01M439.8 245.8h.01M452.9 245.1h.01M450.6 246.2h.01M464.6 244.7h.01M447.7 245.6h.01M447.2 245.9h.01M451.1 246.2h.01M469.2 245.1h.01M445.4 244.8h.01M455.0 245.3h.01M447.6 244.6h.01M443.3 244.8h.01M443.3 246.0h.01M467.1 244.8h.01M463.2 245.5h.01M472.0 245.0h.01M438.9 245.0h.01M475.6 244.8h.01M451.3 245.7h.01M466.4 246.1h.01M465.8 245.0h.01M468.0 245.6h.01M465.6 245.4h.01M439.4 245.1h.01M457.4 246.0h.01M478.1 245.0h.01M454.0 245.9h.01M461.9 245.5h.01M472.4 245.8h.01M453.0 245.9h.01M474.3 245.3h.01M472.1 246.3h.01M455.1 246.2h.01M445.6 245.2h.01M456.1 244.8h.01M472.7 246.1h.01M448.3 245.1h.01M459.1 244.6h.01M459.0 245.5h.01M469.6 245.2h.01M470.2 245.1h.01M478.4 245.6h.01M457.9 245.5h.01M463.3 245.1h.01M445.2 245.7h.01M472.5 245.6h.01M458.9 245.3h.01M472.7 245.3h.01M441.0 246.2h.01M456.3 245.7h.01M461.4 246.3h.01M451.1 245.3h.01M455.8 245.9h.01M452.1 246.1h.01M446.3 245.6h.01M442.6 245.7h.01M451.8 245.9h.01M470.9 244.7h.01M452.0 246.1h.01M442.2 245.7h.01M444.2 245.8h.01M462.3 245.1h.01M446.6 245.4h.01M468.5 245.5h.01M429.4 245.0h.01M459.9 244.7h.01M446.8 245.3h.01M446.7 244.9h.01M458.3 245.0h.01M462.9 246.2h.01M454.2 244.9h.01" stroke="#dbff1c"/>
<path d="M449.9 243.6h.01M445.0 243.9h.01M448.3 244.1h.01M447.6 243.3h.01M452.8 244.0h.01M463.4 242.9h.01M456.5 243.0h.01M485.3 244.2h.01M467.3 243.1h.01M447.5 244.0h.01M474.0 243.8h.01M440.5 244.5h.01M441.1 243.9h.01M449.7 244.4h.01M475.3 244.5h.01M468.0 244.1h.01M486.9 244.2h.01M450.2 244.0h.01M469.8 243.6h.01M467.2 244.3h.01M466.6 244.0h.01M455.4 244.0h.01M459.6 244.3h.01M445.8 244.2h.01M452.5 244.2h.01M424.8 244.0h.01M434.9 243.9h.01M458.6 244.1h.01M451.3 243.2h.01M456.4 243.7h.01M422.0 243.7h.01M460.7 243.5h.01M472.0 243.7h.01M426.3 244.6h.01M455.1 243.3h.01M467.4 244.1h.01M455.8 243.9h.01M460.3 244.2h.01M436.3 243.2h.01M439.4 244.0h.01M445.9 244.6h.01M459.7 244.0h.01M470.6 243.2h.01M463.0 243.8h.01M451.5 244.6h.01M469.7 244.3h.01M444.0 243.3h.01M466.2 243.8h.01M449.4 243.4h.01M461.3 244.4h.01M457.3 244.0h.01M462.9 243.7h.01M451.9 244.4h.01M458.5 244.3h.01M449.4 243.2h.01M498.2 244.4h.01M457.0 243.6h.01M466.8 243.6h.01" stroke="#ebff0c"/>
<path d="M466.9 242.0h.01M467.0 242.1h.01M445.7 241.5h.01M465.1 242.8h.01M464.3 242.7h.01M454.4 242.1h.01M456.2 241.4h.01M457.1 242.9h.01M434.9 242.3h.01M448.5 242.0h.01M438.1 242.1h.01M443.8 242.5h.01M469.9 242.6h.01M459.8 242.8h.01M442.3 241.3h.01M468.4 242.9h.01M428.0 242.7h.01M443.6 242.3h.01M456.0 242.4h.01M428.1 242.3h.01M459.1 242.0h.01M444.8 242.1h.01M435.7 241.3h.01M463.8 242.9h.01M476.2 242.4h.01M447.2 241.8h.01M457.7 242.0h.01M453.3 242.3h.01M454.9 241.7h.01M462.7 242.2h.01M453.8 242.3h.01M460.7 241.7h.01M464.4 242.7h.01M460.6 241.9h.01M438.0 242.6h.01M461.4 242.1h.01M446.5 241.3h.01M443.8 242.2h.01M427.9 241.8h.01M456.9 241.3h.01M458.8 242.9h.01M474.4 241.2h.01M443.0 242.4h.01M438.6 242.8h.01M467.3 241.2h.01M441.5 241.8h.01M463.4 242.5h.01M438.2 241.3h.01M462.3 242.0h.01M448.1 241.6h.01M462.6 241.7h.01M459.9 242.7h.01M463.8 241.8h.01M461.1 242.6h.01M455.9 242.6h.01M469.4 241.8h.01M432.6 242.1h.01M454.0 241.5h.01M467.3 241.5h.01M454.1 242.1h.01M443.2 241.2h.01M446.2 242.5h.01M452.1 242.6h.01M446.0 241.8h.01M447.9 242.4h.01M454.8 242.7h.01M425.5 241.8h.01M461.0 242.3h.01M469.6 241.6h.01M456.9 242.3h.01M446.6 242.3h.01M494.2 242.7h.01M454.7 242.5h.01M452.4 242.7h.01" stroke="#feed00"/>
<path d="M466.1 240.1h.01M437.1 241.2h.01M452.9 240.0h.01M459.7 240.1h.01M446.9 240.5h.01M455.4 240.1h.01M446.9 241.2h.01M437.5 239.7h.01M453.4 240.8h.01M468.0 240.9h.01M464.4 240.1h.01M458.9 240.6h.01M460.9 240.4h.01M445.2 240.0h.01M463.9 240.5h.01M435.8 240.8h.01M448.9 240.7h.01M463.2 240.1h.01M455.6 240.5h.01M464.6 239.7h.01M447.1 240.5h.01M460.5 239.6h.01M434.6 240.7h.01M471.6 240.8h.01M460.6 241.0h.01M441.1 240.4h.01M453.4 240.2h.01M470.7 240.8h.01M438.7 240.3h.01M472.5 240.3h.01M448.5 240.6h.01M458.9 240.9h.01M450.2 240.5h.01M462.4 240.9h.01M464.2 240.6h.01M419.7 240.6h.01M458.7 240.5h.01M444.9 241.0h.01M458.3 239.8h.01M440.6 239.7h.01M452.5 240.1h.01M446.5 240.9h.01M444.9 240.3h.01M436.1 240.7h.01M469.2 240.4h.01M456.0 241.1h.01" stroke="#ffdb00"/>
<path d="M418.6 239.3h.01M463.6 238.2h.01M454.2 238.8h.01M451.7 238.0h.01M437.1 237.9h.01M464.2 238.5h.01M452.3 238.7h.01M456.4 238.9h.01M473.9 237.9h.01M450.0 238.0h.01M450.0 238.8h.01M484.2 238.7h.01M459.7 239.5h.01M458.5 238.2h.01M454.3 238.6h.01M455.6 238.2h.01M444.1 239.4h.01M450.5 238.1h.01M468.8 239.0h.01M438.1 238.3h.01M453.0 238.2h.01M455.5 239.1h.01M448.6 238.5h.01M466.6 239.0h.01M453.3 238.8h.01M477.8 237.9h.01M451.0 238.8h.01M448.8 238.2h.01M468.5 237.8h.01M452.0 238.4h.01M446.3 238.1h.01M457.8 238.7h.01M454.1 239.2h.01M469.3 239.3h.01M450.9 238.5h.01M440.2 238.5h.01M462.7 239.4h.01M451.9 238.3h.01M450.6 238.1h.01M449.8 238.5h.01M451.8 239.0h.01M446.2 238.4h.01M441.7 239.1h.01M479.2 238.2h.01M435.2 238.6h.01M455.4 239.3h.01M473.6 239.2h.01M454.4 239.2h.01M449.0 239.2h.01M459.7 238.5h.01M445.2 238.9h.01M456.8 238.3h.01M484.6 239.0h.01M423.1 239.5h.01M442.0 238.6h.01M468.5 239.3h.01M449.4 238.1h.01M461.8 237.8h.01M437.0 238.0h.01M458.2 238.0h.01" stroke="#ffc800"/>
<path d="M454.1 237.1h.01M453.3 236.1h.01M470.3 237.2h.01M452.1 236.6h.01M462.5 236.5h.01M451.6 236.4h.01M478.8 236.4h.01M448.8 237.4h.01M465.6 236.9h.01M456.1 236.4h.01M469.8 236.1h.01M456.6 237.5h.01M448.0 237.8h.01M463.5 236.4h.01M454.2 237.4h.01M473.1 236.8h.01M447.3 236.2h.01M463.6 237.8h.01M457.8 237.0h.01M457.0 236.4h.01M452.4 236.6h.01M460.4 237.0h.01M459.7 237.1h.01M470.4 237.5h.01M457.5 236.9h.01M476.5 236.1h.01M444.8 237.1h.01M431.3 237.4h.01M460.3 237.7h.01M455.7 236.8h.01M455.8 237.2h.01M422.6 236.5h.01M445.7 236.8h.01M459.8 236.6h.01M441.9 237.3h.01M462.9 236.9h.01M448.0 237.6h.01M452.3 237.2h.01M449.4 236.7h.01M464.3 237.6h.01M425.3 237.2h.01M451.4 236.4h.01M463.7 236.5h.01" stroke="#ffb200"/>
<path d="M425.3 235.9h.01M445.3 235.3h.01M440.7 234.5h.01M458.2 235.5h.01M464.8 234.7h.01M431.0 234.5h.01M462.0 234.7h.01M445.4 235.6h.01M452.5 235.3h.01M458.7 235.4h.01M453.2 236.1h.01M477.6 236.0h.01M424.0 234.5h.01M431.9 235.1h.01M466.2 234.9h.01M450.8 235.0h.01M451.6 234.9h.01M460.6 235.0h.01M467.5 235.2h.01M450.6 236.1h.01M454.7 236.1h.01M459.2 234.8h.01M452.2 235.4h.01M444.3 235.5h.01M455.3 235.6h.01M453.0 234.7h.01M452.7 234.8h.01M475.6 234.8h.01M449.8 235.2h.01M452.2 236.1h.01M454.6 235.3h.01M447.4 234.9h.01M473.3 235.3h.01M467.2 235.7h.01M457.8 235.5h.01M439.0 234.9h.01M434.6 234.8h.01M462.1 236.0h.01M448.3 234.9h.01M440.6 234.9h.01M460.3 234.5h.01M466.0 236.0h.01M458.6 235.4h.01M470.5 235.2h.01M436.0 236.1h.01M465.6 234.6h.01M466.9 234.5h.01M476.2 236.0h.01M449.3 235.8h.01M449.6 235.8h.01" stroke="#ff9f00"/>
<path d="M452.0 232.8h.01M458.2 233.4h.01M475.2 234.4h.01M454.2 234.2h.01M459.7 234.4h.01M446.0 234.2h.01M468.4 234.4h.01M456.0 233.8h.01M454.0 233.1h.01M458.0 234.1h.01M465.7 233.9h.01M433.6 233.2h.01M466.8 233.6h.01M458.9 232.9h.01M455.1 233.1h.01M472.7 232.9h.01M459.3 233.8h.01M438.0 232.8h.01M454.9 233.9h.01M450.0 234.1h.01M470.3 234.2h.01M460.9 234.0h.01M441.7 234.1h.01M458.7 232.9h.01M455.4 234.4h.01M426.9 232.9h.01M417.2 233.9h.01M460.2 233.0h.01M434.7 233.2h.01M458.9 233.6h.01M438.0 234.0h.01M449.9 233.6h.01M445.9 233.5h.01M458.5 234.0h.01" stroke="#ff8d00"/>
<path d="M465.2 231.2h.01M459.4 231.9h.01M450.4 232.1h.01M465.5 231.6h.01M417.2 232.3h.01M453.9 232.3h.01M461.9 232.3h.01M452.1 231.9h.01M458.5 231.8h.01M473.6 232.2h.01M459.2 231.7h.01M456.3 232.1h.01M439.2 231.8h.01M440.4 232.3h.01M433.1 232.4h.01M450.8 232.2h.01M434.8 232.2h.01M460.6 231.8h.01M451.9 232.6h.01M421.6 232.3h.01M454.9 232.2h.01M452.3 232.4h.01" stroke="#ff7700"/>
<path d="M443.3 230.4h.01M442.3 229.9h.01M464.2 231.0h.01M457.1 230.1h.01M432.8 229.6h.01M456.2 229.8h.01M441.4 230.7h.01M455.1 230.9h.01M458.3 230.7h.01M458.0 230.3h.01M453.5 230.9h.01M459.4 230.8h.01M452.2 230.4h.01M456.9 229.7h.01M439.9 229.6h.01M456.7 230.7h.01M438.1 229.4h.01M453.4 229.9h.01" stroke="#ff6400"/>
<path d="M462.0 228.7h.01M472.4 229.2h.01M439.7 227.7h.01M425.8 229.2h.01M452.0 228.0h.01M454.0 229.0h.01M464.0 229.0h.01M472.6 227.8h.01M447.1 228.4h.01M468.3 228.6h.01M459.8 228.3h.01" stroke="#ff5200"/>
<path d="M456.7 226.6h.01M464.9 226.3h.01M455.3 226.2h.01M478.3 226.0h.01M455.1 226.3h.01M468.8 226.4h.01M444.0 226.4h.01M471.2 226.1h.01M444.3 227.4h.01M475.1 227.0h.01M455.1 226.0h.01M466.7 227.5h.01M452.3 226.2h.01" stroke="#ff3b00"/>
<path d="M459.9 224.7h.01M476.9 225.5h.01M459.7 224.8h.01M439.9 225.6h.01M447.3 225.6h.01" stroke="#ff2900"/>
<path d="M470.9 222.8h.01M448.0 224.1h.01M457.1 223.6h.01M470.6 224.1h.01M458.0 223.8h.01M458.1 223.4h.01M452.5 224.2h.01M462.4 223.6h.01M437.5 222.9h.01M451.4 222.7h.01M449.6 223.5h.01" stroke="#ff1600"/>
<path d="M457.0 221.1h.01M462.7 222.3h.01M439.6 220.9h.01M455.6 221.8h.01M457.1 221.6h.01M454.4 221.1h.01M447.4 222.5h.01M454.5 221.7h.01M462.7 221.9h.01" stroke="#e80000"/>
<path d="M435.7 220.1h.01M469.4 219.8h.01" stroke="#d10000"/>
<path d="M465.0 214.6h.01" stroke="#890000"/>
<path d="M554.6 293.4h.01M563.1 292.8h.01M510.1 293.1h.01M549.9 293.7h.01M549.6 292.7h.01" stroke="#0000a4"/>
<path d="M575.9 291.7h.01M556.3 291.5h.01M545.6 291.6h.01M587.1 291.8h.01M546.9 291.3h.01M548.6 290.5h.01" stroke="#0000bb"/>
<path d="M545.8 290.1h.01M568.5 289.3h.01M544.8 288.8h.01M553.9 289.7h.01" stroke="#0000d1"/>
<path d="M565.0 288.6h.01M561.0 287.9h.01M575.3 288.2h.01M530.0 288.2h.01M555.1 287.7h.01M559.3 287.9h.01M549.5 288.1h.01" stroke="#0000ed"/>
<path d="M574.0 286.9h.01M559.0 286.8h.01M562.6 286.8h.01M560.8 285.7h.01" stroke="#0000ff"/>
<path d="M588.3 284.3h.01M567.0 284.4h.01M560.6 284.1h.01M529.8 284.1h.01M556.3 284.8h.01M561.5 283.7h.01M571.3 283.7h.01M549.9 285.1h.01M578.0 283.8h.01M560.6 283.7h.01M572.1 283.9h.01" stroke="#0008ff"/>
<path d="M569.2 283.0h.01M562.2 283.4h.01M549.5 282.4h.01M566.3 282.0h.01M565.2 283.4h.01M575.2 282.6h.01M553.3 282.3h.01M564.2 283.6h.01" stroke="#0020ff"/>
<path d="M560.1 281.6h.01M552.9 281.1h.01M536.6 281.3h.01M577.7 280.6h.01M567.8 280.7h.01M565.6 281.7h.01M576.7 281.8h.01M573.9 281.8h.01M568.1 281.9h.01M555.9 281.6h.01" stroke="#0034ff"/>
<path d="M563.4 279.2h.01M544.6 279.2h.01M538.1 278.6h.01M528.5 278.7h.01M563.5 279.4h.01M547.5 279.4h.01M524.3 280.2h.01M542.4 278.5h.01M560.2 278.9h.01M560.5 280.2h.01M560.6 278.5h.01M538.6 280.2h.01M567.9 278.7h.01" stroke="#0048ff"/>
<path d="M548.1 277.3h.01M540.1 278.2h.01M553.1 277.5h.01M572.7 278.3h.01M555.5 278.1h.01M558.8 277.0h.01M524.3 277.4h.01M564.7 277.9h.01M547.3 277.3h.01M567.7 277.4h.01M574.0 277.0h.01M564.7 278.5h.01M577.1 278.2h.01M565.0 277.7h.01M542.0 277.5h.01" stroke="#0060ff"/>
<path d="M565.7 275.5h.01M558.8 275.3h.01M554.2 276.6h.01M561.7 276.6h.01M543.0 275.8h.01M572.7 275.4h.01M548.8 275.5h.01M579.6 275.9h.01M573.9 275.2h.01M554.9 275.6h.01M560.0 276.5h.01M557.0 276.4h.01M551.6 276.4h.01M544.2 275.9h.01M547.4 276.6h.01M534.5 275.3h.01M579.8 276.7h.01M560.5 275.8h.01M555.4 275.2h.01M545.1 276.0h.01M557.4 276.3h.01M562.4 275.7h.01M564.9 276.5h.01M565.8 276.3h.01M551.4 275.6h.01M565.1 275.2h.01M551.8 276.5h.01M549.7 276.0h.01M531.2 276.2h.01M547.6 276.6h.01M559.2 275.2h.01M574.3 276.4h.01M547.9 276.4h.01M598.9 276.8h.01" stroke="#0074ff"/>
<path d="M542.5 274.6h.01M545.6 273.5h.01M536.2 274.5h.01M549.3 273.6h.01M566.2 274.1h.01M550.8 273.9h.01M571.8 274.2h.01M561.1 274.9h.01M571.2 273.6h.01M560.7 274.7h.01M544.9 274.9h.01M554.6 275.0h.01M562.3 273.8h.01M535.8 274.8h.01M545.7 274.3h.01M571.7 275.0h.01M547.6 274.2h.01M548.9 273.6h.01M560.8 274.6h.01M562.6 274.3h.01M561.0 274.6h.01M573.3 274.9h.01M554.7 274.7h.01M543.2 273.9h.01M582.2 275.1h.01M578.1 275.1h.01M540.7 273.7h.01M563.5 273.7h.01M562.4 274.6h.01M563.7 274.3h.01M582.8 275.1h.01M527.0 275.0h.01" stroke="#0088ff"/>
<path d="M565.2 273.0h.01M544.5 271.8h.01M564.3 272.4h.01M553.5 272.3h.01M535.3 272.8h.01M580.9 271.8h.01M568.2 273.4h.01M552.0 272.0h.01M565.8 272.5h.01M537.4 273.0h.01M556.6 272.7h.01M554.4 271.9h.01M580.5 272.1h.01M556.4 273.4h.01M559.2 272.7h.01M556.6 272.9h.01M550.0 272.9h.01M575.0 273.0h.01M550.7 272.6h.01M537.5 273.1h.01M564.7 271.8h.01M557.7 272.4h.01M556.7 273.0h.01M561.0 273.3h.01M537.6 272.0h.01M553.4 273.4h.01M564.0 272.5h.01M549.8 272.7h.01M557.5 272.5h.01M546.5 272.6h.01M568.8 271.8h.01M557.2 273.3h.01M545.0 271.8h.01M558.8 272.3h.01M570.9 272.6h.01M540.0 272.5h.01" stroke="#00a0ff"/>
<path d="M561.9 270.4h.01M538.5 270.6h.01M577.1 270.1h.01M539.6 271.2h.01M542.1 270.3h.01M598.2 270.2h.01M557.6 270.1h.01M553.2 271.1h.01M544.5 271.1h.01M536.2 270.3h.01M554.8 270.8h.01M526.6 271.2h.01M554.5 271.0h.01M542.5 271.5h.01M554.4 270.6h.01M562.1 271.2h.01M571.8 271.0h.01M524.7 270.9h.01M553.0 270.1h.01M564.2 270.1h.01M549.0 270.1h.01M563.2 270.1h.01M557.3 270.9h.01M557.6 271.4h.01M558.6 270.1h.01M541.8 270.2h.01M567.5 271.0h.01M564.9 270.2h.01M550.0 270.2h.01M546.6 271.1h.01M556.0 270.1h.01M560.5 270.9h.01M543.9 271.3h.01M543.2 270.6h.01M558.8 271.6h.01M544.7 270.6h.01M559.4 270.9h.01M565.3 271.6h.01M558.5 271.5h.01M548.7 270.3h.01M552.2 270.9h.01M559.4 271.3h.01M567.8 270.1h.01M578.9 271.3h.01M576.1 270.7h.01" stroke="#00b4ff"/>
<path d="M543.5 270.0h.01M575.5 268.6h.01M581.9 269.7h.01M574.2 269.6h.01M549.1 269.2h.01M556.1 269.1h.01M547.0 268.8h.01M560.4 268.4h.01M556.3 269.2h.01M557.4 268.8h.01M576.1 269.8h.01M567.7 269.9h.01M562.0 269.0h.01M580.9 269.7h.01M546.6 269.4h.01M563.0 268.4h.01M572.2 268.5h.01M546.5 269.8h.01M574.9 270.0h.01M565.6 269.5h.01M552.9 269.9h.01M562.7 269.0h.01M572.6 268.6h.01M564.5 269.1h.01M566.9 268.8h.01M548.9 269.5h.01M561.9 268.6h.01M536.1 270.0h.01M543.1 268.7h.01M544.0 268.9h.01M554.3 269.7h.01M571.1 269.2h.01M566.4 268.6h.01M558.7 269.0h.01M562.6 269.5h.01M560.9 269.5h.01M572.2 269.8h.01M542.6 268.4h.01M577.5 269.0h.01M582.6 268.6h.01M561.0 269.9h.01M544.8 268.5h.01M553.8 269.7h.01M541.6 268.5h.01M560.0 270.0h.01M579.9 269.6h.01M557.4 268.8h.01M566.9 268.7h.01M529.4 269.3h.01M568.7 268.6h.01M544.0 269.5h.01M571.4 269.6h.01M561.6 268.9h.01M584.9 269.9h.01M569.8 268.4h.01M583.5 268.7h.01M537.1 269.9h.01M548.8 268.5h.01M533.8 268.9h.01M537.0 269.4h.01M565.6 269.6h.01M549.4 268.9h.01M570.3 269.1h.01M542.6 269.0h.01M558.1 268.7h.01M552.0 268.5h.01M563.3 269.0h.01M565.6 269.7h.01M558.1 270.0h.01M565.3 268.9h.01M527.1 269.5h.01M585.1 268.7h.01M558.6 270.0h.01" stroke="#00c8ff"/>
<path d="M549.8 267.8h.01M559.6 267.1h.01M558.1 268.1h.01M558.3 267.7h.01M562.3 268.0h.01M558.8 268.3h.01M554.0 266.9h.01M563.0 267.2h.01M549.7 268.1h.01M562.0 267.6h.01M569.8 267.9h.01M579.5 266.7h.01M555.8 267.3h.01M569.1 267.0h.01M555.2 266.9h.01M555.4 267.2h.01M554.7 268.0h.01M550.7 266.9h.01M568.5 267.1h.01M553.5 267.3h.01M558.5 268.3h.01M563.3 266.8h.01M571.9 267.0h.01M535.8 268.2h.01M540.9 266.9h.01M565.6 267.6h.01M570.9 268.1h.01M549.3 266.8h.01M560.3 266.7h.01M582.3 267.4h.01M530.2 266.9h.01M566.2 267.7h.01M561.4 268.1h.01M569.6 268.1h.01M547.3 267.2h.01M569.1 268.1h.01M550.1 267.5h.01M572.6 266.9h.01M586.1 267.2h.01M556.0 267.0h.01M576.5 268.2h.01M535.4 267.7h.01M534.2 267.1h.01M562.7 268.3h.01M568.2 268.0h.01M563.0 268.0h.01M560.2 266.9h.01M561.7 267.3h.01M566.6 267.4h.01M541.1 267.1h.01M554.3 267.8h.01M564.6 268.2h.01M552.8 267.3h.01M571.5 267.8h.01M547.1 266.9h.01M554.9 267.4h.01M531.7 268.0h.01M526.0 267.6h.01M549.3 266.8h.01M576.1 267.3h.01M552.1 266.7h.01M549.0 268.0h.01M563.6 268.2h.01M540.0 267.6h.01M570.1 267.5h.01M562.2 267.3h.01M559.4 267.9h.01M569.5 267.6h.01M524.6 267.4h.01M534.7 267.3h.01M562.2 267.9h.01M560.7 267.5h.01M530.7 268.0h.01M565.4 267.8h.01M558.0 267.9h.01M560.9 267.4h.01M552.3 266.7h.01M576.2 267.2h.01" stroke="#00e0fb"/>
<path d="M559.9 266.4h.01M555.7 266.4h.01M555.3 265.0h.01M550.0 265.8h.01M572.7 265.9h.01M559.9 265.6h.01M558.6 266.2h.01M571.2 265.6h.01M572.9 265.2h.01M588.9 266.0h.01M577.3 266.1h.01M547.2 266.6h.01M526.0 265.8h.01M540.8 265.4h.01M559.0 266.1h.01M530.4 265.8h.01M558.5 266.0h.01M541.7 265.5h.01M555.4 265.2h.01M534.7 265.1h.01M534.1 266.1h.01M569.6 265.4h.01M559.4 265.4h.01M552.3 265.1h.01M557.9 265.5h.01M533.5 265.6h.01M546.0 266.3h.01M559.7 265.0h.01M560.7 266.3h.01M551.3 266.6h.01M544.9 265.1h.01M554.1 266.5h.01M592.7 266.3h.01M553.8 266.2h.01M571.6 265.0h.01M560.7 265.0h.01M559.6 265.5h.01M554.3 266.1h.01M574.6 266.2h.01M566.1 265.8h.01M548.4 265.7h.01M564.0 265.0h.01M565.7 266.6h.01M517.0 265.2h.01M573.2 266.1h.01M531.9 265.1h.01M565.0 265.0h.01M550.8 266.3h.01M571.9 265.3h.01M546.0 266.6h.01M548.4 266.1h.01M589.1 266.0h.01M550.2 265.4h.01M536.8 266.4h.01M547.3 266.0h.01M561.0 265.3h.01M539.9 265.2h.01M572.0 265.3h.01M576.2 265.1h.01M557.7 265.4h.01M569.6 265.2h.01M546.1 265.8h.01M553.7 265.6h.01M540.6 266.1h.01M560.5 265.7h.01M548.6 266.6h.01M552.5 265.3h.01M563.8 265.9h.01" stroke="#0cf4eb"/>
<path d="M555.5 264.4h.01M542.8 264.2h.01M530.5 264.8h.01M555.6 263.9h.01M563.4 264.1h.01M552.1 264.0h.01M568.4 264.8h.01M571.8 263.5h.01M568.7 263.4h.01M565.2 263.7h.01M545.6 264.1h.01M555.6 264.8h.01M545.8 263.8h.01M540.2 263.3h.01M550.7 264.1h.01M590.5 264.0h.01M559.8 263.3h.01M543.6 263.9h.01M573.3 264.5h.01M563.8 264.2h.01M558.5 264.7h.01M558.0 263.4h.01M558.4 264.1h.01M568.2 263.6h.01M566.9 264.4h.01M573.4 263.8h.01M541.0 264.0h.01M568.6 263.6h.01M561.2 263.3h.01M568.1 264.9h.01M558.0 264.8h.01M565.7 264.9h.01M544.4 264.9h.01M563.9 264.3h.01M529.6 263.9h.01M564.5 264.5h.01M552.4 264.1h.01M561.7 263.4h.01M565.1 264.6h.01M558.2 264.4h.01M586.1 263.7h.01M548.4 264.3h.01M574.1 264.7h.01M555.0 264.9h.01M566.7 263.6h.01M554.7 264.1h.01M552.6 263.4h.01M570.1 263.8h.01M551.6 264.6h.01M570.1 264.4h.01M548.6 264.2h.01M541.4 264.9h.01M560.9 263.6h.01M564.9 264.6h.01M568.2 264.8h.01M561.6 264.9h.01M552.1 264.9h.01M566.9 264.7h.01M549.3 264.3h.01M567.8 263.5h.01M579.8 263.4h.01M541.4 264.7h.01M574.7 263.7h.01M569.8 263.6h.01M570.7 263.7h.01M547.8 263.3h.01M538.0 264.9h.01M539.0 264.4h.01M542.6 263.5h.01M573.0 264.6h.01M542.1 264.5h.01M567.9 264.7h.01M558.0 263.6h.01M520.8 264.0h.01M566.5 264.2h.01M564.3 264.0h.01M555.7 264.2h.01M565.9 264.9h.01M557.7 263.7h.01M568.0 263.4h.01M551.5 264.3h.01M553.1 264.0h.01M559.7 263.8h.01M585.0 264.1h.01M564.0 264.8h.01M548.4 264.2h.01" stroke="#1cffdb"/>
<path d="M572.3 262.3h.01M563.9 261.7h.01M559.0 261.8h.01M560.9 262.0h.01M550.1 262.8h.01M578.7 263.2h.01M594.9 262.5h.01M561.3 262.1h.01M585.8 263.0h.01M547.0 262.0h.01M578.7 262.7h.01M571.5 262.3h.01M573.9 262.1h.01M546.0 262.2h.01M540.2 262.0h.01M552.3 262.6h.01M559.4 261.9h.01M558.6 262.1h.01M544.1 262.5h.01M534.1 262.2h.01M554.2 262.0h.01M566.2 261.7h.01M563.3 261.7h.01M573.2 262.2h.01M547.3 262.5h.01M554.4 262.4h.01M580.8 262.7h.01M570.0 262.5h.01M569.2 263.0h.01M562.0 262.9h.01M569.5 262.5h.01M559.5 261.9h.01M576.7 263.1h.01M536.8 263.1h.01M575.0 261.6h.01M576.8 263.1h.01M564.2 262.7h.01M565.5 262.4h.01M569.8 262.6h.01M578.1 261.7h.01M573.3 261.7h.01M542.0 262.3h.01M528.7 262.3h.01M559.6 262.2h.01M559.9 262.3h.01M560.2 263.1h.01M553.1 263.0h.01M566.3 261.7h.01M556.9 262.8h.01M533.1 262.0h.01M541.5 261.6h.01M561.6 261.8h.01M567.0 262.9h.01M556.5 262.1h.01M568.2 262.7h.01M557.4 262.4h.01M546.4 263.0h.01M548.7 263.0h.01M557.7 262.3h.01M565.6 261.9h.01M563.4 261.7h.01M556.9 261.8h.01M538.5 262.4h.01M584.4 262.2h.01M566.7 262.4h.01M574.1 262.5h.01M556.1 261.9h.01M526.8 263.0h.01M559.4 262.1h.01M564.0 262.2h.01" stroke="#30ffc7"/>
<path d="M563.7 260.8h.01M566.8 260.6h.01M545.2 260.4h.01M548.3 261.3h.01M557.9 259.9h.01M556.3 261.3h.01M569.1 260.1h.01M531.3 260.5h.01M547.7 260.2h.01M558.7 261.0h.01M557.7 260.1h.01M553.5 260.5h.01M557.7 260.4h.01M587.1 260.5h.01M562.1 260.3h.01M547.8 260.3h.01M559.7 260.6h.01M553.3 260.9h.01M564.8 261.1h.01M572.2 260.8h.01M557.6 260.4h.01M544.4 261.5h.01M571.1 260.7h.01M518.7 261.2h.01M568.9 260.2h.01M567.4 260.4h.01M556.3 260.0h.01M541.6 261.4h.01M559.8 260.6h.01M592.4 260.4h.01M571.2 260.0h.01M552.4 260.7h.01M556.3 260.5h.01M560.0 260.2h.01M550.8 260.5h.01M550.6 260.8h.01M549.7 261.5h.01M543.3 260.0h.01M561.1 261.1h.01M542.9 260.5h.01M569.1 260.3h.01M568.6 261.0h.01M569.2 260.9h.01M532.8 260.3h.01M558.6 260.1h.01M550.2 260.7h.01M552.9 260.0h.01M565.9 260.9h.01M574.9 261.4h.01M534.9 260.5h.01M552.8 260.5h.01M550.0 260.5h.01M566.6 260.4h.01M562.2 260.7h.01M557.7 259.9h.01M541.3 260.2h.01M569.4 260.3h.01M575.0 261.3h.01M543.4 260.4h.01M564.1 260.8h.01M540.3 261.4h.01M570.0 261.0h.01M546.9 261.1h.01M571.5 261.5h.01M556.8 261.4h.01M542.4 261.0h.01M537.6 260.7h.01M568.9 260.6h.01M563.4 260.6h.01M571.1 260.1h.01M552.7 261.4h.01M564.1 260.5h.01M576.5 260.9h.01M565.6 260.3h.01M557.8 260.3h.01M541.9 260.9h.01M551.4 261.4h.01M564.2 259.9h.01M568.8 260.1h.01M563.6 261.2h.01M562.0 260.3h.01M566.0 261.0h.01M552.3 260.6h.01M543.2 260.1h.01M569.0 260.9h.01M578.8 260.4h.01M559.6 260.7h.01M569.0 260.0h.01M556.0 260.2h.01M569.2 260.5h.01M537.3 260.6h.01M543.9 260.5h.01M572.6 261.1h.01M549.9 260.8h.01M556.0 260.8h.01M552.7 260.9h.01M571.3 260.0h.01" stroke="#40ffb7"/>
<path d="M558.0 258.3h.01M561.4 259.0h.01M564.7 259.3h.01M578.4 259.0h.01M562.1 259.8h.01M548.8 259.2h.01M544.9 258.5h.01M572.6 259.0h.01M565.8 258.7h.01M546.4 259.7h.01M569.2 259.3h.01M577.7 258.9h.01M570.4 259.7h.01M555.3 259.2h.01M556.1 259.7h.01M559.5 258.7h.01M542.6 259.2h.01M569.3 258.5h.01M578.6 259.2h.01M559.2 258.6h.01M561.2 259.2h.01M546.2 258.7h.01M559.1 258.4h.01M551.6 258.7h.01M547.8 259.1h.01M552.5 259.6h.01M551.8 259.0h.01M550.0 259.9h.01M545.4 258.8h.01M567.1 259.0h.01M548.1 258.2h.01M568.5 258.4h.01M539.0 258.5h.01M563.4 259.0h.01M535.4 258.6h.01M551.4 258.8h.01M567.2 258.4h.01M535.8 258.7h.01M559.3 259.1h.01M557.6 259.5h.01M551.1 259.7h.01M571.8 258.6h.01M544.2 259.7h.01M569.1 258.8h.01M584.1 258.4h.01M558.9 259.8h.01M548.7 258.8h.01M550.3 259.0h.01M547.9 258.3h.01M560.4 258.7h.01M557.5 259.7h.01M558.1 258.2h.01M542.5 258.6h.01M552.6 259.8h.01M566.6 259.1h.01M541.9 258.2h.01M541.8 259.6h.01M574.2 258.9h.01M573.8 258.6h.01M542.0 259.7h.01M567.3 258.3h.01M564.9 258.3h.01M576.7 259.3h.01M530.6 258.4h.01M559.1 259.0h.01M559.8 258.3h.01M551.4 258.7h.01M547.7 259.3h.01M548.7 259.5h.01M552.9 258.7h.01M565.0 258.5h.01M577.7 259.2h.01M562.4 258.7h.01M553.8 259.5h.01M569.6 258.6h.01M584.1 258.9h.01M543.0 258.5h.01M552.3 258.3h.01M547.3 258.5h.01M549.2 258.3h.01M548.2 258.6h.01M577.9 258.3h.01M560.6 258.5h.01M561.7 258.6h.01M579.3 258.9h.01M533.6 259.2h.01M552.2 258.3h.01M560.3 259.0h.01M551.3 258.7h.01M569.5 258.4h.01M562.5 259.0h.01M567.9 259.4h.01M547.6 259.4h.01M552.5 258.3h.01M544.1 258.4h.01M560.7 259.3h.01M551.3 258.3h.01M556.4 259.1h.01M557.0 259.1h.01M575.1 258.9h.01M579.7 258.4h.01M512.9 259.4h.01M573.6 259.4h.01" stroke="#50ffa7"/>
<path d="M556.8 258.1h.01M563.5 256.9h.01M548.5 257.6h.01M584.5 256.8h.01M557.0 257.6h.01M579.0 257.9h.01M548.6 257.6h.01M567.0 257.5h.01M549.2 258.1h.01M552.1 258.1h.01M550.9 257.8h.01M556.9 258.0h.01M560.3 257.7h.01M557.5 257.5h.01M567.5 257.3h.01M560.2 257.8h.01M541.6 257.2h.01M572.9 256.9h.01M522.2 256.6h.01M545.0 257.7h.01M533.3 257.6h.01M561.4 257.6h.01M561.7 257.5h.01M545.9 256.8h.01M559.9 257.4h.01M557.0 258.2h.01M559.7 256.9h.01M567.9 257.6h.01M586.0 256.8h.01M557.3 257.3h.01M569.3 257.8h.01M565.5 258.1h.01M551.5 257.7h.01M563.5 257.7h.01M582.1 257.7h.01M552.4 257.2h.01M560.3 257.8h.01M567.0 257.2h.01M560.7 257.7h.01M591.4 256.9h.01M553.5 256.8h.01M548.0 258.1h.01M566.7 258.2h.01M558.0 257.4h.01M561.6 256.8h.01M551.0 256.7h.01M543.6 256.8h.01M564.3 257.4h.01M523.6 257.5h.01M566.5 257.8h.01M555.0 257.5h.01M554.2 257.3h.01M551.3 257.8h.01M582.9 257.5h.01M548.9 257.5h.01M565.1 257.0h.01M551.5 258.1h.01M561.4 257.0h.01M540.9 258.0h.01M575.3 258.0h.01M575.9 258.1h.01M550.5 258.1h.01M546.9 256.9h.01M553.8 257.2h.01M542.8 257.6h.01M554.8 257.5h.01M556.0 257.9h.01M532.8 257.5h.01M577.9 257.1h.01M591.0 257.0h.01M559.7 256.9h.01M572.1 256.7h.01M525.0 256.5h.01M557.4 256.6h.01M536.3 256.7h.01M563.2 257.0h.01M584.7 258.1h.01M557.7 257.2h.01M559.6 258.1h.01M555.3 257.6h.01M566.1 257.8h.01M558.6 258.1h.01M565.5 257.4h.01M556.0 257.1h.01M568.1 257.7h.01M579.5 257.3h.01M565.8 257.3h.01M561.8 257.3h.01M558.1 256.5h.01M577.7 258.1h.01M565.8 257.2h.01M566.3 257.9h.01M569.8 257.7h.01M525.9 256.9h.01M554.6 257.5h.01M539.5 257.4h.01M555.5 256.6h.01" stroke="#63ff94"/>
<path d="M547.7 256.4h.01M573.1 255.6h.01M546.7 256.1h.01M563.4 255.5h.01M566.1 256.0h.01M567.4 256.2h.01M558.6 255.5h.01M550.6 255.6h.01M583.9 255.9h.01M568.5 256.2h.01M551.7 255.0h.01M574.0 256.3h.01M542.7 255.1h.01M560.5 255.3h.01M561.4 256.2h.01M578.2 256.4h.01M559.0 255.0h.01M534.4 255.2h.01M552.8 255.7h.01M558.2 256.0h.01M561.2 255.2h.01M550.7 256.0h.01M584.4 256.0h.01M566.0 255.0h.01M564.7 255.9h.01M562.6 256.3h.01M545.7 255.3h.01M540.3 255.0h.01M595.3 255.3h.01M523.2 254.8h.01M568.1 256.1h.01M546.1 256.1h.01M544.8 255.5h.01M567.5 256.1h.01M570.1 256.3h.01M564.0 255.3h.01M540.4 256.4h.01M584.7 255.0h.01M546.2 256.2h.01M566.6 256.3h.01M588.1 254.8h.01M552.2 256.2h.01M551.6 256.4h.01M555.8 255.7h.01M544.3 255.9h.01M565.1 255.8h.01M574.4 256.0h.01M564.5 255.9h.01M551.1 256.1h.01M565.3 255.9h.01M572.3 256.1h.01M577.3 255.8h.01M548.7 255.9h.01M549.2 255.5h.01M576.1 255.1h.01M543.5 256.2h.01M558.3 255.5h.01M574.7 255.3h.01M540.0 255.5h.01M528.6 255.3h.01M569.5 255.6h.01M550.1 256.3h.01M551.6 256.5h.01M576.4 255.9h.01M583.1 255.1h.01M567.3 256.3h.01M564.7 255.9h.01M542.7 255.7h.01M586.5 256.0h.01M563.6 255.9h.01M554.6 255.5h.01M563.8 255.6h.01M549.5 255.6h.01M546.3 255.3h.01M570.3 255.6h.01M556.3 255.4h.01M551.4 256.3h.01M564.9 255.8h.01M558.7 255.9h.01M556.6 254.9h.01M563.3 256.4h.01M568.9 255.0h.01M545.2 255.3h.01M554.8 255.4h.01M572.9 255.0h.01M564.3 256.4h.01M562.3 255.1h.01M569.9 256.2h.01M547.9 255.0h.01M542.6 255.2h.01M572.1 255.2h.01M552.9 255.0h.01M539.5 255.3h.01M557.6 255.6h.01M555.6 255.0h.01M552.1 256.1h.01M554.2 255.4h.01M559.2 255.7h.01M579.0 255.3h.01M570.0 254.9h.01M581.3 256.2h.01M564.6 255.3h.01" stroke="#73ff83"/>
<path d="M560.0 253.1h.01M566.2 254.2h.01M544.0 254.6h.01M531.8 254.7h.01M574.0 253.6h.01M547.2 253.4h.01M554.3 253.5h.01M569.3 254.3h.01M550.5 254.3h.01M563.7 254.8h.01M558.3 253.7h.01M551.2 254.4h.01M584.9 253.1h.01M549.1 254.7h.01M544.3 253.2h.01M551.5 253.6h.01M550.4 254.3h.01M571.6 254.2h.01M549.6 254.2h.01M561.1 253.4h.01M570.4 254.8h.01M581.8 253.6h.01M548.1 254.6h.01M586.2 254.3h.01M555.7 254.4h.01M545.2 254.3h.01M570.4 253.5h.01M559.7 253.6h.01M548.6 254.4h.01M548.2 253.8h.01M539.4 254.1h.01M547.9 254.7h.01M537.1 254.4h.01M557.0 254.8h.01M548.9 254.2h.01M555.8 254.1h.01M555.3 254.2h.01M569.0 253.2h.01M535.4 253.4h.01M568.0 254.0h.01M563.8 253.6h.01M558.0 253.3h.01M548.9 253.5h.01M576.8 253.6h.01M561.4 254.4h.01M559.4 253.5h.01M577.4 254.7h.01M562.3 253.5h.01M572.8 253.3h.01M555.8 254.4h.01M572.0 254.3h.01M550.2 253.4h.01M568.3 253.8h.01M582.1 254.4h.01M550.8 254.2h.01M555.4 254.7h.01M574.0 253.5h.01M576.3 253.6h.01M575.0 253.3h.01M564.1 253.1h.01M562.8 253.6h.01M547.1 254.6h.01M567.7 254.7h.01M555.8 253.7h.01M550.1 254.4h.01M561.7 254.2h.01M579.3 254.2h.01M567.9 253.5h.01M570.8 253.5h.01M578.6 254.1h.01M557.7 254.4h.01M518.4 253.9h.01M567.9 254.0h.01M574.4 254.7h.01M546.2 253.9h.01M561.6 254.3h.01M583.2 253.3h.01M575.0 253.2h.01M566.2 254.8h.01M535.0 253.2h.01M557.9 253.7h.01M554.6 254.2h.01M573.6 253.4h.01M589.0 253.4h.01M550.1 253.9h.01" stroke="#83ff73"/>
<path d="M556.8 252.7h.01M557.0 251.5h.01M520.3 252.9h.01M566.9 251.9h.01M561.2 252.7h.01M540.2 252.9h.01M548.0 251.4h.01M564.7 252.9h.01M570.8 252.4h.01M568.5 252.7h.01M554.6 252.7h.01M555.7 252.7h.01M553.4 252.8h.01M559.2 251.6h.01M561.9 251.9h.01M554.1 252.3h.01M549.6 251.8h.01M567.3 251.6h.01M578.7 252.8h.01M568.0 251.9h.01M567.9 253.0h.01M569.4 253.1h.01M565.0 252.9h.01M561.3 251.5h.01M541.2 252.9h.01M557.4 252.9h.01M565.1 252.4h.01M553.5 252.3h.01M577.5 252.5h.01M553.2 252.8h.01M553.1 252.6h.01M547.4 252.6h.01M544.2 251.6h.01M546.9 252.3h.01M565.9 251.5h.01M580.8 252.4h.01M561.3 252.5h.01M564.3 252.2h.01M540.6 251.7h.01M566.9 252.4h.01M557.1 251.4h.01M577.4 252.7h.01M540.4 252.0h.01M536.2 251.5h.01M572.8 251.5h.01M573.5 251.7h.01M593.5 252.1h.01M571.6 251.5h.01M563.7 251.8h.01M566.9 252.8h.01M554.5 252.0h.01M557.7 251.9h.01M562.4 252.2h.01M552.8 252.8h.01M577.2 251.6h.01M553.0 252.3h.01M569.7 252.2h.01M559.9 252.7h.01M541.1 252.1h.01M568.9 251.8h.01M543.5 251.5h.01M553.8 251.6h.01M561.7 251.9h.01M560.0 251.8h.01M563.9 253.0h.01M570.1 252.4h.01M563.7 251.9h.01M584.9 252.5h.01M568.0 253.1h.01M549.6 251.6h.01M554.1 251.6h.01M566.3 252.4h.01M556.2 252.9h.01M553.5 252.4h.01M566.8 252.7h.01M578.2 251.5h.01M583.0 252.7h.01M547.5 252.0h.01M541.3 252.6h.01M556.2 252.7h.01M572.2 251.8h.01M547.8 251.6h.01M544.6 252.0h.01M541.1 251.6h.01M555.6 251.8h.01M566.3 251.6h.01M572.9 252.7h.01M545.8 252.4h.01M571.4 252.0h.01M564.4 251.8h.01M575.8 252.3h.01" stroke="#97ff60"/>
<path d="M580.2 251.2h.01M566.3 250.0h.01M543.2 251.3h.01M562.5 249.9h.01M559.6 250.8h.01M565.1 250.9h.01M569.3 250.4h.01M550.8 249.9h.01M537.4 249.9h.01M583.4 250.8h.01M564.5 250.9h.01M590.7 251.2h.01M568.6 250.3h.01M545.9 249.8h.01M550.9 251.0h.01M548.9 251.0h.01M558.6 249.7h.01M562.2 250.8h.01M560.4 250.6h.01M547.8 250.7h.01M564.1 249.8h.01M570.7 249.8h.01M567.6 251.1h.01M549.5 250.8h.01M561.9 251.1h.01M561.3 250.8h.01M544.2 251.3h.01M558.1 251.1h.01M574.0 251.2h.01M567.7 249.8h.01M554.1 250.5h.01M566.3 251.2h.01M570.4 250.3h.01M551.3 251.0h.01M549.3 250.6h.01M545.9 250.0h.01M551.2 249.9h.01M551.0 250.0h.01M557.7 250.0h.01M564.7 249.9h.01M542.9 251.1h.01M563.6 251.0h.01M557.5 250.4h.01M565.7 251.2h.01M558.9 251.1h.01M554.8 251.2h.01M568.4 249.7h.01M543.3 250.6h.01M561.4 250.3h.01M574.5 251.1h.01M566.8 251.0h.01M567.2 250.8h.01M552.6 250.1h.01M555.0 249.9h.01M572.0 249.8h.01M576.3 250.7h.01M540.7 251.0h.01M572.0 250.3h.01M555.7 249.8h.01M568.7 250.1h.01M557.9 250.0h.01M525.6 251.1h.01M554.9 250.2h.01M539.7 250.6h.01M586.6 250.8h.01M564.7 251.1h.01M570.7 250.1h.01M571.3 250.1h.01M569.1 250.2h.01M583.4 250.1h.01M548.2 250.5h.01M560.9 250.9h.01M547.0 250.5h.01M541.2 250.2h.01M569.1 250.8h.01M551.7 250.4h.01M587.8 250.6h.01M564.9 251.2h.01" stroke="#a7ff50"/>
<path d="M567.8 248.6h.01M548.6 249.3h.01M572.3 248.9h.01M554.2 249.3h.01M508.2 248.5h.01M573.7 249.0h.01M552.3 248.8h.01M567.3 249.3h.01M560.6 249.2h.01M558.1 249.0h.01M565.5 249.0h.01M552.1 249.7h.01M554.9 248.9h.01M573.4 248.9h.01M547.1 248.5h.01M567.1 249.5h.01M591.0 248.3h.01M559.6 249.6h.01M554.5 249.5h.01M580.1 248.8h.01M563.0 248.6h.01M592.3 248.1h.01M563.0 248.9h.01M548.7 248.6h.01M581.0 249.1h.01M548.4 248.8h.01M545.3 249.5h.01M562.2 248.1h.01M570.0 249.3h.01M585.9 248.3h.01M549.5 249.1h.01M562.9 249.0h.01M582.5 248.7h.01M590.4 248.9h.01M538.5 249.0h.01M559.5 249.5h.01M552.6 249.3h.01M538.8 248.7h.01M548.9 248.9h.01M573.8 249.6h.01M567.7 248.3h.01M542.4 248.0h.01M565.9 248.2h.01M555.1 248.9h.01M559.6 248.5h.01M560.9 248.9h.01M549.0 248.8h.01M545.9 249.5h.01M571.3 249.6h.01M547.1 248.2h.01M565.6 248.3h.01M578.3 248.9h.01M568.0 248.2h.01M551.2 248.1h.01M577.3 249.1h.01M538.5 249.6h.01M558.5 248.6h.01M557.5 248.3h.01M570.3 248.4h.01M538.8 248.7h.01M546.7 249.6h.01M549.7 249.5h.01M559.6 249.1h.01M568.0 249.3h.01M585.6 248.3h.01M549.2 249.1h.01M553.4 248.9h.01M539.2 249.5h.01M568.0 248.2h.01M560.2 248.2h.01M523.6 249.3h.01M551.5 249.7h.01M578.3 249.6h.01M576.2 248.9h.01M539.3 249.1h.01M554.1 249.2h.01M572.3 248.5h.01M549.4 249.4h.01M570.8 249.7h.01M530.4 249.4h.01M527.9 248.9h.01M546.9 249.6h.01M541.0 249.4h.01M573.2 248.9h.01M553.0 248.3h.01M564.7 249.6h.01M581.2 248.9h.01M551.3 249.0h.01M578.5 248.4h.01M551.2 248.5h.01M552.9 248.4h.01M550.4 248.1h.01M562.2 248.6h.01M551.9 248.0h.01M575.1 248.0h.01M560.0 248.3h.01M565.5 248.1h.01M551.3 248.8h.01M549.8 248.7h.01M565.8 249.3h.01" stroke="#b7ff40"/>
<path d="M547.4 247.9h.01M567.2 247.2h.01M561.6 246.5h.01M569.3 247.0h.01M559.2 247.2h.01M592.9 247.2h.01M577.0 247.3h.01M559.0 246.4h.01M540.6 248.0h.01M551.9 246.5h.01M552.7 246.5h.01M527.6 247.2h.01M556.7 247.1h.01M549.9 247.5h.01M546.1 247.4h.01M560.7 247.0h.01M539.4 247.1h.01M543.3 247.1h.01M567.1 248.0h.01M555.2 248.0h.01M561.1 246.9h.01M547.5 247.7h.01M557.6 247.0h.01M543.7 246.6h.01M582.8 247.8h.01M541.9 247.1h.01M548.4 246.9h.01M558.3 246.7h.01M559.9 247.0h.01M572.6 246.9h.01M556.4 247.6h.01M553.0 246.9h.01M519.7 246.7h.01M543.5 247.3h.01M556.7 246.3h.01M576.0 247.2h.01M553.1 247.5h.01M567.2 247.9h.01M551.1 247.8h.01M553.9 247.3h.01M564.1 246.7h.01M570.8 246.3h.01M559.1 246.9h.01M566.9 247.6h.01M564.4 247.6h.01M565.8 247.6h.01M567.6 247.4h.01M552.5 247.1h.01M560.3 247.8h.01M540.6 246.6h.01M554.4 247.5h.01M545.0 246.8h.01M560.1 246.9h.01M538.2 246.9h.01M568.3 247.1h.01M549.1 248.0h.01M563.3 247.0h.01M563.3 246.3h.01M527.2 247.3h.01M563.3 246.5h.01M566.6 247.1h.01M549.4 247.0h.01M573.2 247.7h.01M542.9 247.6h.01M550.8 246.8h.01M564.3 247.7h.01M542.4 247.6h.01M555.7 247.3h.01M560.9 247.2h.01M545.2 247.8h.01M561.5 246.7h.01M548.5 247.6h.01M558.1 246.3h.01M548.8 247.5h.01M539.3 246.7h.01M555.7 247.1h.01M556.5 246.9h.01M554.2 246.5h.01M553.7 247.5h.01M570.4 247.5h.01M562.5 247.7h.01M567.8 247.8h.01M529.2 246.7h.01M546.4 247.6h.01M540.1 246.7h.01M541.9 246.8h.01M543.9 247.5h.01M576.6 246.6h.01" stroke="#caff2c"/>
<path d="M555.2 244.9h.01M556.2 246.0h.01M544.5 246.3h.01M562.5 244.9h.01M550.8 245.4h.01M550.6 245.3h.01M582.5 244.9h.01M560.3 245.8h.01M543.9 245.7h.01M556.5 245.9h.01M571.4 245.7h.01M565.9 245.7h.01M570.6 245.3h.01M578.7 245.5h.01M557.8 245.6h.01M560.5 246.1h.01M546.3 244.7h.01M544.7 244.8h.01M556.8 245.5h.01M541.4 246.1h.01M599.0 245.8h.01M562.2 245.1h.01M571.0 246.2h.01M542.5 244.7h.01M516.2 246.1h.01M560.2 245.6h.01M554.8 245.9h.01M568.1 246.2h.01M552.0 245.1h.01M570.0 244.8h.01M542.9 245.3h.01M561.4 244.6h.01M567.5 244.8h.01M559.2 246.0h.01M562.9 244.8h.01M562.3 245.5h.01M556.5 245.0h.01M560.4 245.0h.01M547.9 244.8h.01M576.8 245.7h.01M538.1 246.1h.01M533.3 245.0h.01M568.9 245.6h.01M556.4 245.4h.01M555.7 245.1h.01M553.0 246.0h.01M553.3 245.0h.01M573.2 245.9h.01M564.9 245.5h.01M547.6 245.8h.01M557.0 245.9h.01M539.8 245.3h.01M546.8 246.3h.01M570.5 246.2h.01M550.1 245.2h.01M550.1 244.8h.01M546.3 246.1h.01M565.6 245.1h.01M545.6 244.6h.01M574.0 245.5h.01M548.6 245.2h.01M552.2 245.1h.01M534.5 245.6h.01M538.3 245.5h.01M560.9 245.1h.01M536.3 245.7h.01M561.5 245.6h.01M564.5 245.3h.01M524.2 245.3h.01M576.1 246.2h.01M558.0 245.7h.01M554.9 246.3h.01M560.5 245.3h.01M546.2 245.9h.01M561.2 246.1h.01M560.7 245.6h.01M550.3 245.7h.01M562.2 245.9h.01M546.7 244.7h.01M559.1 246.1h.01M562.7 245.7h.01M558.6 245.8h.01M521.8 245.1h.01M554.8 245.4h.01M543.5 245.5h.01M554.2 245.0h.01M544.6 244.7h.01M541.2 245.3h.01M546.6 244.9h.01M571.4 245.0h.01M562.8 246.2h.01M551.5 244.9h.01" stroke="#dbff1c"/>
<path d="M566.8 243.6h.01M571.8 243.9h.01M551.2 244.1h.01M568.1 243.3h.01M577.0 244.0h.01M544.5 242.9h.01M558.6 243.0h.01M516.8 244.2h.01M555.6 243.1h.01M565.0 244.0h.01M561.9 243.8h.01M564.9 244.5h.01M578.4 243.9h.01M531.6 244.4h.01M539.4 244.5h.01M558.4 244.1h.01M563.8 244.2h.01M556.9 244.0h.01M551.8 243.6h.01M552.3 244.3h.01M542.6 244.0h.01M563.1 244.0h.01M553.5 244.3h.01M561.3 244.2h.01M565.5 244.2h.01M581.9 244.0h.01M568.8 243.9h.01M600.1 244.1h.01M581.4 243.2h.01M565.9 243.7h.01M577.1 243.7h.01M569.0 243.5h.01M547.2 243.7h.01M570.3 244.6h.01M553.7 243.3h.01M527.7 244.1h.01M557.8 243.9h.01M563.4 244.2h.01M563.8 243.2h.01M580.3 244.0h.01M551.8 244.6h.01M555.9 244.0h.01M545.0 243.2h.01M569.4 243.8h.01M589.7 244.6h.01M562.5 244.3h.01M537.5 243.3h.01M569.0 243.8h.01M570.6 243.4h.01M549.1 244.4h.01M559.0 244.0h.01M547.6 243.7h.01M557.1 244.4h.01M564.2 244.3h.01M572.2 243.2h.01M549.6 244.4h.01M582.0 243.6h.01M544.8 243.6h.01" stroke="#ebff0c"/>
<path d="M544.2 242.0h.01M576.1 242.1h.01M562.8 241.5h.01M599.6 242.8h.01M542.1 242.7h.01M559.8 242.1h.01M573.1 241.4h.01M540.8 242.9h.01M549.8 242.3h.01M568.7 242.0h.01M556.4 242.1h.01M557.5 242.5h.01M556.0 242.6h.01M550.0 242.8h.01M571.5 241.3h.01M551.0 242.9h.01M554.9 242.7h.01M561.4 242.3h.01M555.7 242.4h.01M568.5 242.3h.01M561.9 242.0h.01M563.2 242.1h.01M575.3 241.3h.01M566.9 242.9h.01M545.2 242.4h.01M562.6 241.8h.01M560.2 242.0h.01M537.5 242.3h.01M571.8 241.7h.01M572.3 242.2h.01M549.6 242.3h.01M541.8 241.7h.01M552.1 242.7h.01M553.9 241.9h.01M572.7 242.6h.01M547.7 242.1h.01M560.1 241.3h.01M584.6 242.2h.01M573.9 241.8h.01M564.2 241.3h.01M574.2 242.9h.01M554.6 241.2h.01M564.6 242.4h.01M561.5 242.8h.01M519.1 241.2h.01M544.3 241.8h.01M544.8 242.5h.01M593.5 241.3h.01M547.6 242.0h.01M545.6 241.6h.01M547.1 241.7h.01M546.4 242.7h.01M560.0 241.8h.01M534.8 242.6h.01M558.2 242.6h.01M562.1 241.8h.01M555.5 242.1h.01M562.1 241.5h.01M546.4 241.5h.01M553.1 242.1h.01M568.9 241.2h.01M561.4 242.5h.01M559.0 242.6h.01M554.8 241.8h.01M568.6 242.4h.01M562.5 242.7h.01M590.7 241.8h.01M552.8 242.3h.01M555.4 241.6h.01M563.0 242.3h.01M555.0 242.3h.01M547.8 242.7h.01M563.3 242.5h.01M551.5 242.7h.01" stroke="#feed00"/>
<path d="M538.5 240.1h.01M564.4 241.2h.01M538.9 240.0h.01M564.4 240.1h.01M543.9 240.5h.01M554.2 240.1h.01M571.3 241.2h.01M571.8 239.7h.01M524.0 240.8h.01M542.2 240.9h.01M534.6 240.1h.01M538.0 240.6h.01M558.3 240.4h.01M579.2 240.0h.01M523.9 240.5h.01M589.6 240.8h.01M571.5 240.7h.01M549.7 240.1h.01M555.0 240.5h.01M565.4 239.7h.01M572.3 240.5h.01M531.8 239.6h.01M573.0 240.7h.01M589.0 240.8h.01M573.6 241.0h.01M545.9 240.4h.01M578.3 240.2h.01M557.2 240.8h.01M560.3 240.3h.01M567.0 240.3h.01M553.8 240.6h.01M537.2 240.9h.01M540.6 240.5h.01M563.2 240.9h.01M566.5 240.6h.01M581.0 240.6h.01M550.5 240.5h.01M573.9 241.0h.01M563.0 239.8h.01M584.1 239.7h.01M553.5 240.1h.01M580.9 240.9h.01M576.5 240.3h.01M554.1 240.7h.01M559.1 240.4h.01M548.1 241.1h.01" stroke="#ffdb00"/>
<path d="M554.1 239.3h.01M544.2 238.2h.01M554.2 238.8h.01M553.7 238.0h.01M585.4 237.9h.01M568.1 238.5h.01M563.3 238.7h.01M549.9 238.9h.01M545.1 237.9h.01M565.4 238.0h.01M563.2 238.8h.01M556.3 238.7h.01M546.1 239.5h.01M555.1 238.2h.01M551.5 238.6h.01M566.0 238.2h.01M553.3 239.4h.01M545.8 238.1h.01M549.6 239.0h.01M548.2 238.3h.01M563.3 238.2h.01M544.1 239.1h.01M544.9 238.5h.01M568.6 239.0h.01M552.3 238.8h.01M550.0 237.9h.01M572.8 238.8h.01M562.2 238.2h.01M560.1 237.8h.01M562.7 238.4h.01M570.7 238.1h.01M548.6 238.7h.01M559.8 239.2h.01M557.9 239.3h.01M562.6 238.5h.01M537.3 238.5h.01M570.9 239.4h.01M564.7 238.3h.01M556.8 238.1h.01M575.5 238.5h.01M561.6 239.0h.01M546.7 238.4h.01M571.2 239.1h.01M534.6 238.2h.01M582.9 238.6h.01M558.6 239.3h.01M567.8 239.2h.01M562.8 239.2h.01M550.8 239.2h.01M566.1 238.5h.01M576.9 238.9h.01M556.8 238.3h.01M561.3 239.0h.01M578.1 239.5h.01M573.2 238.6h.01M553.9 239.3h.01M563.2 238.1h.01M562.9 237.8h.01M570.3 238.0h.01M556.9 238.0h.01" stroke="#ffc800"/>
<path d="M570.5 237.1h.01M553.7 236.1h.01M552.1 237.2h.01M529.7 236.6h.01M562.2 236.5h.01M546.0 236.4h.01M546.3 236.4h.01M550.8 237.4h.01M546.5 236.9h.01M537.0 236.4h.01M554.5 236.1h.01M560.1 237.5h.01M568.1 237.8h.01M533.9 236.4h.01M561.0 237.4h.01M525.9 236.8h.01M574.8 236.2h.01M547.3 237.8h.01M553.8 237.0h.01M565.2 236.4h.01M557.6 236.6h.01M549.8 237.0h.01M545.1 237.1h.01M540.2 237.5h.01M532.6 236.9h.01M544.8 236.1h.01M557.0 237.1h.01M575.2 237.4h.01M551.8 237.7h.01M553.6 236.8h.01M554.8 237.2h.01M555.8 236.5h.01M563.2 236.8h.01M550.6 236.6h.01M578.6 237.3h.01M539.7 236.9h.01M570.9 237.6h.01M578.8 237.2h.01M567.6 236.7h.01M554.0 237.6h.01M595.7 237.2h.01M568.2 236.4h.01M550.5 236.5h.01" stroke="#ffb200"/>
<path d="M571.8 235.9h.01M569.3 235.3h.01M558.8 234.5h.01M561.8 235.5h.01M534.0 234.7h.01M579.6 234.5h.01M530.0 234.7h.01M558.0 235.6h.01M543.5 235.3h.01M570.8 235.4h.01M566.2 236.1h.01M531.7 236.0h.01M560.9 234.5h.01M564.6 235.1h.01M544.0 234.9h.01M571.3 235.0h.01M559.7 234.9h.01M544.7 235.0h.01M534.5 235.2h.01M570.5 236.1h.01M559.3 236.1h.01M556.6 234.8h.01M551.2 235.4h.01M564.5 235.5h.01M551.6 235.6h.01M564.3 234.7h.01M563.5 234.8h.01M546.6 234.8h.01M549.6 235.2h.01M560.5 236.1h.01M557.1 235.3h.01M551.7 234.9h.01M544.8 235.3h.01M549.2 235.7h.01M582.9 235.5h.01M545.9 234.9h.01M584.3 234.8h.01M558.3 236.0h.01M574.7 234.9h.01M559.5 234.9h.01M553.5 234.5h.01M542.8 236.0h.01M546.6 235.4h.01M555.5 235.2h.01M568.7 236.1h.01M556.5 234.6h.01M549.3 234.5h.01M550.2 236.0h.01M535.9 235.8h.01M555.9 235.8h.01" stroke="#ff9f00"/>
<path d="M556.2 232.8h.01M574.9 233.4h.01M551.4 234.4h.01M567.5 234.2h.01M561.6 234.4h.01M542.6 234.2h.01M553.6 234.4h.01M567.1 233.8h.01M558.2 233.1h.01M566.2 234.1h.01M539.5 233.9h.01M573.2 233.2h.01M546.1 233.6h.01M560.7 232.9h.01M561.7 233.1h.01M512.7 232.9h.01M550.0 233.8h.01M575.7 232.8h.01M560.6 233.9h.01M562.1 234.1h.01M547.8 234.2h.01M568.8 234.0h.01M561.0 234.1h.01M552.7 232.9h.01M557.9 234.4h.01M577.4 232.9h.01M569.6 233.9h.01M545.7 233.0h.01M566.7 233.2h.01M561.8 233.6h.01M560.2 234.0h.01M573.1 233.6h.01M563.2 233.5h.01M559.5 234.0h.01" stroke="#ff8d00"/>
<path d="M554.5 231.2h.01M581.0 231.9h.01M568.6 232.1h.01M550.8 231.6h.01M584.9 232.3h.01M556.7 232.3h.01M561.4 232.3h.01M549.1 231.9h.01M539.0 231.8h.01M556.2 232.2h.01M555.2 231.7h.01M574.8 232.1h.01M552.7 231.8h.01M567.7 232.3h.01M574.1 232.4h.01M554.0 232.2h.01M571.8 232.2h.01M552.7 231.8h.01M549.4 232.6h.01M597.2 232.3h.01M566.3 232.2h.01M569.3 232.4h.01" stroke="#ff7700"/>
<path d="M554.6 230.4h.01M566.3 229.9h.01M549.3 231.0h.01M563.3 230.1h.01M571.3 229.6h.01M554.3 229.8h.01M563.5 230.7h.01M550.3 230.9h.01M555.9 230.7h.01M564.6 230.3h.01M546.1 230.9h.01M547.0 230.8h.01M566.1 230.4h.01M555.2 229.7h.01M573.7 229.6h.01M530.1 230.7h.01M552.8 229.4h.01M560.0 229.9h.01" stroke="#ff6400"/>
<path d="M550.4 228.7h.01M523.9 229.2h.01M558.6 227.7h.01M583.8 229.2h.01M565.3 228.0h.01M552.3 229.0h.01M542.7 229.0h.01M562.9 227.8h.01M548.1 228.4h.01M537.2 228.6h.01M564.3 228.3h.01" stroke="#ff5200"/>
<path d="M551.0 226.6h.01M558.1 226.3h.01M571.6 226.2h.01M542.4 226.0h.01M563.1 226.3h.01M569.1 226.4h.01M569.0 226.4h.01M560.8 226.1h.01M569.3 227.4h.01M558.2 227.0h.01M542.7 226.0h.01M575.8 227.5h.01M553.6 226.2h.01" stroke="#ff3b00"/>
<path d="M525.3 224.7h.01M560.7 225.5h.01M555.1 224.8h.01M550.0 225.6h.01M549.8 225.6h.01" stroke="#ff2900"/>
<path d="M563.0 222.8h.01M570.3 224.1h.01M558.8 223.6h.01M544.2 224.1h.01M566.0 223.8h.01M555.4 223.4h.01M575.6 224.2h.01M562.4 223.6h.01M570.4 222.9h.01M540.9 222.7h.01M554.6 223.5h.01" stroke="#ff1600"/>
<path d="M549.0 221.1h.01M572.6 222.3h.01M587.5 220.9h.01M556.3 221.8h.01M553.7 221.6h.01M548.7 221.1h.01M568.7 222.5h.01M569.2 221.7h.01M554.9 221.9h.01" stroke="#e80000"/>
<path d="M565.6 220.1h.01M547.7 219.8h.01" stroke="#d10000"/>
<path d="M569.0 214.6h.01" stroke="#890000"/>
</g>
<defs><clipPath id="cL10"><rect x="30.00" y="101.50" width="101.00" height="101.90"/></clipPath><clipPath id="cL20"><rect x="30.00" y="203.40" width="101.00" height="101.10"/></clipPath><clipPath id="cL21"><rect x="131.00" y="203.40" width="101.00" height="101.10"/></clipPath><clipPath id="cR10"><rect x="399.00" y="101.50" width="102.00" height="101.90"/></clipPath><clipPath id="cR20"><rect x="399.00" y="203.40" width="102.00" height="101.10"/></clipPath><clipPath id="cR21"><rect x="501.00" y="203.40" width="102.00" height="101.10"/></clipPath></defs>
<path clip-path="url(#cL10)" d="M30.41 126.54 L31.36 126.33 L32.32 126.12 L33.29 125.90 L34.28 125.67 L35.27 125.45 L36.28 125.23 L37.30 125.00 L38.32 124.78 L39.36 124.55 L40.40 124.32 L41.45 124.10 L42.51 123.88 L43.58 123.66 L44.65 123.44 L45.73 123.23 L46.81 123.02 L47.90 122.81 L49.00 122.61 L50.09 122.41 L51.19 122.22 L52.30 122.04 L53.40 121.86 L54.51 121.69 L55.62 121.53 L56.74 121.38 L57.85 121.23 L58.96 121.10 L60.07 120.97 L61.18 120.86 L62.29 120.75 L63.40 120.66 L64.51 120.58 L65.61 120.51 L66.71 120.46 L67.80 120.42 L68.89 120.39 L69.98 120.38 L71.06 120.38 L72.14 120.40 L73.21 120.43 L74.27 120.48 L75.32 120.55 L76.37 120.64 L77.41 120.74 L78.44 120.86 L79.46 121.00 L80.47 121.17 L81.48 121.35 L82.47 121.55 L83.45 121.77 L84.41 122.02 L85.37 122.29 L86.31 122.58 L87.24 122.89 L88.16 123.23 L89.06 123.59 L89.95 123.98 L90.82 124.39 L91.68 124.83 L92.52 125.29 L93.35 125.78 L94.16 126.30 L94.95 126.85 L95.72 127.43 L96.47 128.03 L97.21 128.66 L97.92 129.33 L98.62 130.02 L99.29 130.75 L99.95 131.51 L100.58 132.29 L101.19 133.12 L101.78 133.97 L102.34 134.84 L102.88 135.75 L103.40 136.68 L103.90 137.63 L104.36 138.60 L104.81 139.59 L105.23 140.60 L105.62 141.62 L105.98 142.66 L106.32 143.70 L106.63 144.75 L106.92 145.82 L107.17 146.88 L107.40 147.95 L107.59 149.02 L107.76 150.09 L107.89 151.16 L108.00 152.22 L108.07 153.27 L108.11 154.32 L108.12 155.36 L108.10 156.38 L108.04 157.39 L107.95 158.38 L107.83 159.36 L107.68 160.33 L107.51 161.28 L107.31 162.22 L107.09 163.15 L106.86 164.06 L106.61 164.97 L106.35 165.87 L106.08 166.77 L105.80 167.66 L105.50 168.53 L105.17 169.39 L104.81 170.22 L104.39 171.02 L103.92 171.79 L103.37 172.52 L102.76 173.21 L102.09 173.86 L101.35 174.46 L100.56 175.02 L99.73 175.55 L98.85 176.03 L97.94 176.47 L97.01 176.87 L96.05 177.24 L95.08 177.56 L94.10 177.85 L93.11 178.10 L92.11 178.32 L91.10 178.50 L90.09 178.65 L89.06 178.77 L88.03 178.85 L87.00 178.91 L85.95 178.94 L84.91 178.95 L83.85 178.93 L82.80 178.88 L81.74 178.82 L80.67 178.73 L79.61 178.63 L78.54 178.50 L77.47 178.36 L76.39 178.20 L75.32 178.03 L74.25 177.85 L73.18 177.65 L72.10 177.44 L71.03 177.22 L69.96 177.00 L68.90 176.77 L67.84 176.53 L66.78 176.29 L65.72 176.05 L64.67 175.80 L63.62 175.56 L62.58 175.31 L61.54 175.07 L60.51 174.82 L59.48 174.58 L58.46 174.34 L57.44 174.09 L56.42 173.85 L55.40 173.60 L54.39 173.36 L53.38 173.11 L52.38 172.87 L51.37 172.63 L50.37 172.38 L49.37 172.13 L48.37 171.89 L47.37 171.64 L46.37 171.39 L45.37 171.15 L44.37 170.90 L43.37 170.65 L42.37 170.40 L41.37 170.15 L40.37 169.90 L39.37 169.65 L38.37 169.40 L37.36 169.14 L36.36 168.89 L35.35 168.63 L34.34 168.38 L33.32 168.12 L32.31 167.86 L31.29 167.60 L30.26 167.34 L29.24 167.08 L28.21 166.81 L27.19 166.52 L26.19 166.22 L25.21 165.87 L24.26 165.49 L23.35 165.06 L22.49 164.56 L21.68 164.00 L20.92 163.38 L20.22 162.69 L19.57 161.94 L18.97 161.14 L18.43 160.28 L17.93 159.38 L17.49 158.43 L17.09 157.44 L16.75 156.41 L16.45 155.36 L16.20 154.27 L15.99 153.15 L15.83 152.01 L15.72 150.86 L15.65 149.68 L15.62 148.50 L15.64 147.31 L15.70 146.11 L15.80 144.91 L15.94 143.72 L16.12 142.54 L16.35 141.37 L16.61 140.22 L16.91 139.09 L17.26 137.98 L17.64 136.91 L18.05 135.88 L18.51 134.88 L19.01 133.93 L19.54 133.03 L20.11 132.18 L20.71 131.39 L21.35 130.66 L22.03 130.00 L22.74 129.41 L23.48 128.90 L24.26 128.45 L25.07 128.07 L25.90 127.74 L26.76 127.45 L27.64 127.20 L28.55 126.97 L29.47 126.75 L30.41 126.54ZM40.38 148.20 L40.37 147.74 L40.39 147.28 L40.45 146.82 L40.54 146.36 L40.67 145.90 L40.83 145.45 L41.03 144.99 L41.26 144.54 L41.51 144.09 L41.80 143.65 L42.11 143.20 L42.45 142.76 L42.82 142.33 L43.21 141.89 L43.62 141.46 L44.06 141.03 L44.51 140.61 L44.99 140.19 L45.49 139.77 L46.00 139.36 L46.53 138.96 L47.07 138.56 L47.63 138.16 L48.21 137.77 L48.79 137.38 L49.39 137.00 L49.99 136.63 L50.61 136.26 L51.23 135.90 L51.85 135.54 L52.49 135.20 L53.12 134.85 L53.76 134.52 L54.40 134.19 L55.05 133.87 L55.69 133.56 L56.33 133.25 L56.97 132.96 L57.60 132.67 L58.23 132.39 L58.86 132.12 L59.49 131.86 L60.12 131.61 L60.74 131.37 L61.36 131.14 L61.99 130.92 L62.60 130.71 L63.22 130.51 L63.84 130.32 L64.46 130.15 L65.07 129.99 L65.69 129.84 L66.30 129.70 L66.92 129.58 L67.54 129.47 L68.15 129.38 L68.77 129.30 L69.38 129.23 L70.00 129.18 L70.62 129.15 L71.24 129.13 L71.86 129.12 L72.48 129.14 L73.11 129.17 L73.73 129.21 L74.36 129.28 L74.99 129.36 L75.62 129.45 L76.24 129.56 L76.87 129.69 L77.49 129.83 L78.12 129.99 L78.74 130.16 L79.36 130.35 L79.97 130.55 L80.58 130.76 L81.19 130.99 L81.79 131.24 L82.39 131.49 L82.99 131.76 L83.57 132.05 L84.16 132.34 L84.73 132.65 L85.30 132.97 L85.86 133.31 L86.41 133.65 L86.96 134.01 L87.49 134.38 L88.02 134.76 L88.53 135.15 L89.04 135.55 L89.53 135.96 L90.02 136.39 L90.49 136.82 L90.95 137.26 L91.40 137.72 L91.83 138.18 L92.26 138.65 L92.66 139.13 L93.06 139.62 L93.44 140.12 L93.80 140.63 L94.15 141.15 L94.48 141.67 L94.80 142.20 L95.10 142.74 L95.38 143.29 L95.65 143.84 L95.89 144.40 L96.12 144.97 L96.33 145.54 L96.52 146.12 L96.69 146.71 L96.84 147.30 L96.97 147.90 L97.07 148.50 L97.16 149.11 L97.22 149.72 L97.27 150.33 L97.29 150.95 L97.30 151.57 L97.28 152.18 L97.24 152.80 L97.19 153.41 L97.11 154.03 L97.02 154.64 L96.90 155.24 L96.77 155.85 L96.62 156.44 L96.45 157.03 L96.26 157.61 L96.05 158.19 L95.83 158.75 L95.58 159.31 L95.32 159.86 L95.04 160.39 L94.75 160.91 L94.44 161.42 L94.11 161.92 L93.76 162.40 L93.40 162.87 L93.02 163.31 L92.62 163.75 L92.21 164.16 L91.78 164.56 L91.34 164.93 L90.88 165.29 L90.41 165.62 L89.92 165.94 L89.41 166.23 L88.90 166.49 L88.36 166.74 L87.82 166.96 L87.26 167.15 L86.68 167.33 L86.10 167.49 L85.51 167.62 L84.90 167.74 L84.29 167.84 L83.67 167.92 L83.03 167.98 L82.40 168.03 L81.75 168.07 L81.10 168.09 L80.44 168.09 L79.78 168.09 L79.12 168.07 L78.45 168.04 L77.78 168.00 L77.10 167.96 L76.43 167.90 L75.75 167.84 L75.08 167.76 L74.40 167.69 L73.73 167.60 L73.05 167.51 L72.38 167.41 L71.71 167.31 L71.04 167.20 L70.37 167.08 L69.70 166.95 L69.03 166.82 L68.37 166.68 L67.71 166.54 L67.05 166.39 L66.39 166.23 L65.73 166.06 L65.08 165.89 L64.43 165.71 L63.78 165.52 L63.13 165.33 L62.49 165.13 L61.85 164.92 L61.21 164.71 L60.58 164.49 L59.95 164.26 L59.33 164.03 L58.71 163.78 L58.09 163.53 L57.47 163.28 L56.87 163.01 L56.26 162.74 L55.66 162.47 L55.07 162.18 L54.48 161.89 L53.89 161.59 L53.31 161.29 L52.74 160.97 L52.17 160.65 L51.60 160.33 L51.05 159.99 L50.49 159.65 L49.95 159.30 L49.41 158.94 L48.88 158.58 L48.35 158.21 L47.83 157.83 L47.32 157.44 L46.81 157.05 L46.31 156.65 L45.82 156.24 L45.34 155.83 L44.88 155.41 L44.42 154.99 L43.99 154.56 L43.57 154.12 L43.17 153.68 L42.79 153.24 L42.43 152.79 L42.09 152.34 L41.78 151.88 L41.50 151.43 L41.24 150.97 L41.01 150.51 L40.82 150.05 L40.66 149.59 L40.53 149.13 L40.44 148.66 L40.38 148.20Z" fill="none" stroke="#f7a534" stroke-width="1.1" stroke-opacity="0.9" stroke-linejoin="round"/>
<path clip-path="url(#cL21)" d="M155.15 255.29 L155.18 254.35 L155.22 253.42 L155.26 252.49 L155.31 251.55 L155.36 250.62 L155.42 249.68 L155.49 248.75 L155.57 247.81 L155.65 246.88 L155.74 245.95 L155.85 245.02 L155.95 244.10 L156.07 243.18 L156.20 242.26 L156.34 241.34 L156.48 240.43 L156.64 239.52 L156.81 238.62 L156.99 237.72 L157.18 236.83 L157.38 235.94 L157.59 235.07 L157.81 234.19 L158.05 233.33 L158.30 232.47 L158.56 231.62 L158.84 230.78 L159.13 229.95 L159.43 229.13 L159.75 228.32 L160.09 227.53 L160.44 226.75 L160.81 225.98 L161.20 225.23 L161.60 224.50 L162.03 223.78 L162.48 223.09 L162.95 222.41 L163.45 221.76 L163.96 221.13 L164.50 220.52 L165.07 219.94 L165.66 219.39 L166.27 218.86 L166.92 218.36 L167.58 217.89 L168.27 217.45 L168.98 217.03 L169.72 216.64 L170.47 216.27 L171.24 215.93 L172.03 215.62 L172.83 215.33 L173.65 215.06 L174.48 214.82 L175.32 214.61 L176.18 214.41 L177.04 214.25 L177.91 214.10 L178.79 213.98 L179.68 213.88 L180.57 213.81 L181.46 213.75 L182.36 213.72 L183.26 213.71 L184.16 213.73 L185.05 213.76 L185.95 213.81 L186.84 213.89 L187.74 213.99 L188.62 214.11 L189.50 214.25 L190.38 214.42 L191.25 214.60 L192.12 214.81 L192.97 215.04 L193.82 215.30 L194.66 215.57 L195.49 215.87 L196.31 216.19 L197.11 216.54 L197.91 216.91 L198.69 217.29 L199.45 217.71 L200.21 218.14 L200.94 218.60 L201.66 219.08 L202.37 219.59 L203.05 220.11 L203.72 220.67 L204.36 221.24 L204.99 221.84 L205.60 222.46 L206.18 223.10 L206.75 223.77 L207.29 224.45 L207.82 225.15 L208.32 225.88 L208.81 226.62 L209.27 227.37 L209.72 228.15 L210.14 228.93 L210.55 229.74 L210.93 230.55 L211.30 231.38 L211.64 232.22 L211.96 233.07 L212.27 233.94 L212.55 234.81 L212.82 235.69 L213.06 236.58 L213.29 237.47 L213.49 238.37 L213.68 239.28 L213.85 240.19 L213.99 241.10 L214.12 242.02 L214.23 242.94 L214.31 243.86 L214.38 244.78 L214.43 245.70 L214.46 246.61 L214.47 247.53 L214.46 248.45 L214.43 249.36 L214.38 250.27 L214.32 251.18 L214.23 252.08 L214.13 252.98 L214.01 253.87 L213.87 254.77 L213.71 255.65 L213.54 256.53 L213.34 257.41 L213.13 258.27 L212.91 259.14 L212.66 259.99 L212.40 260.84 L212.12 261.68 L211.83 262.51 L211.51 263.33 L211.19 264.15 L210.84 264.95 L210.48 265.75 L210.10 266.53 L209.71 267.31 L209.30 268.07 L208.88 268.82 L208.44 269.56 L207.98 270.29 L207.51 271.01 L207.03 271.71 L206.53 272.40 L206.01 273.08 L205.48 273.74 L204.94 274.39 L204.38 275.02 L203.81 275.64 L203.23 276.24 L202.63 276.83 L202.01 277.40 L201.39 277.96 L200.75 278.49 L200.09 279.01 L199.43 279.51 L198.75 280.00 L198.05 280.46 L197.35 280.91 L196.63 281.33 L195.90 281.74 L195.16 282.12 L194.41 282.49 L193.64 282.83 L192.86 283.16 L192.07 283.46 L191.27 283.74 L190.46 283.99 L189.64 284.23 L188.81 284.44 L187.96 284.62 L187.11 284.79 L186.24 284.92 L185.36 285.04 L184.48 285.12 L183.58 285.19 L182.67 285.22 L181.75 285.23 L180.83 285.21 L179.89 285.17 L178.95 285.10 L178.01 285.00 L177.06 284.88 L176.12 284.73 L175.17 284.56 L174.23 284.36 L173.29 284.13 L172.36 283.88 L171.44 283.61 L170.53 283.31 L169.64 282.99 L168.75 282.64 L167.89 282.27 L167.04 281.87 L166.21 281.46 L165.41 281.01 L164.63 280.55 L163.87 280.06 L163.14 279.55 L162.44 279.02 L161.78 278.47 L161.14 277.89 L160.54 277.29 L159.98 276.67 L159.46 276.03 L158.97 275.37 L158.52 274.69 L158.11 273.99 L157.73 273.27 L157.38 272.53 L157.06 271.78 L156.77 271.01 L156.50 270.23 L156.27 269.43 L156.06 268.62 L155.88 267.79 L155.72 266.95 L155.58 266.11 L155.46 265.25 L155.36 264.38 L155.28 263.50 L155.21 262.61 L155.16 261.71 L155.13 260.81 L155.11 259.90 L155.10 258.99 L155.10 258.07 L155.11 257.14 L155.13 256.22 L155.15 255.29ZM165.68 255.49 L165.62 254.93 L165.58 254.36 L165.55 253.80 L165.54 253.22 L165.54 252.65 L165.56 252.07 L165.60 251.50 L165.65 250.92 L165.71 250.34 L165.79 249.75 L165.89 249.17 L166.00 248.59 L166.12 248.01 L166.25 247.43 L166.40 246.84 L166.56 246.26 L166.73 245.68 L166.91 245.10 L167.11 244.53 L167.32 243.95 L167.54 243.38 L167.77 242.81 L168.01 242.24 L168.26 241.67 L168.52 241.11 L168.79 240.55 L169.06 240.00 L169.35 239.45 L169.65 238.90 L169.95 238.36 L170.27 237.82 L170.59 237.29 L170.92 236.77 L171.25 236.25 L171.59 235.73 L171.94 235.22 L172.30 234.72 L172.66 234.23 L173.02 233.74 L173.39 233.26 L173.77 232.79 L174.15 232.32 L174.54 231.87 L174.93 231.42 L175.32 230.98 L175.72 230.55 L176.13 230.14 L176.54 229.73 L176.95 229.34 L177.37 228.96 L177.79 228.59 L178.22 228.24 L178.65 227.90 L179.09 227.58 L179.53 227.27 L179.97 226.98 L180.43 226.71 L180.88 226.45 L181.34 226.21 L181.81 226.00 L182.28 225.80 L182.75 225.62 L183.23 225.46 L183.71 225.32 L184.20 225.20 L184.68 225.10 L185.17 225.03 L185.66 224.97 L186.15 224.93 L186.63 224.91 L187.12 224.91 L187.61 224.93 L188.09 224.97 L188.57 225.04 L189.05 225.12 L189.52 225.22 L189.99 225.34 L190.46 225.48 L190.91 225.65 L191.37 225.83 L191.81 226.03 L192.25 226.26 L192.68 226.50 L193.10 226.76 L193.51 227.05 L193.92 227.35 L194.31 227.67 L194.69 228.02 L195.07 228.37 L195.44 228.75 L195.79 229.14 L196.14 229.55 L196.48 229.97 L196.81 230.41 L197.13 230.86 L197.45 231.32 L197.75 231.79 L198.04 232.28 L198.33 232.78 L198.61 233.28 L198.88 233.80 L199.13 234.32 L199.38 234.85 L199.63 235.39 L199.86 235.94 L200.08 236.49 L200.30 237.05 L200.50 237.61 L200.70 238.17 L200.89 238.74 L201.07 239.31 L201.24 239.89 L201.40 240.47 L201.55 241.04 L201.70 241.63 L201.83 242.21 L201.96 242.80 L202.07 243.38 L202.17 243.97 L202.27 244.56 L202.35 245.16 L202.43 245.75 L202.49 246.34 L202.55 246.94 L202.59 247.53 L202.63 248.13 L202.65 248.72 L202.66 249.32 L202.66 249.91 L202.65 250.51 L202.63 251.10 L202.60 251.69 L202.56 252.28 L202.51 252.87 L202.44 253.46 L202.36 254.05 L202.28 254.63 L202.17 255.21 L202.06 255.80 L201.94 256.37 L201.80 256.95 L201.65 257.52 L201.49 258.09 L201.32 258.66 L201.13 259.22 L200.94 259.78 L200.73 260.34 L200.50 260.89 L200.27 261.44 L200.02 261.98 L199.75 262.52 L199.48 263.05 L199.19 263.58 L198.89 264.10 L198.58 264.61 L198.26 265.11 L197.93 265.61 L197.59 266.10 L197.24 266.57 L196.87 267.04 L196.50 267.49 L196.12 267.94 L195.73 268.37 L195.34 268.79 L194.93 269.19 L194.51 269.58 L194.09 269.96 L193.66 270.32 L193.23 270.66 L192.79 270.99 L192.34 271.30 L191.88 271.59 L191.42 271.86 L190.96 272.12 L190.49 272.35 L190.01 272.57 L189.54 272.76 L189.05 272.93 L188.57 273.09 L188.08 273.22 L187.58 273.33 L187.09 273.42 L186.59 273.50 L186.09 273.55 L185.59 273.59 L185.09 273.61 L184.59 273.61 L184.08 273.59 L183.58 273.55 L183.07 273.50 L182.57 273.43 L182.07 273.34 L181.57 273.24 L181.07 273.12 L180.57 272.98 L180.07 272.83 L179.58 272.67 L179.09 272.48 L178.60 272.29 L178.12 272.08 L177.64 271.85 L177.17 271.61 L176.70 271.36 L176.23 271.09 L175.77 270.81 L175.32 270.52 L174.87 270.22 L174.42 269.90 L173.99 269.57 L173.56 269.23 L173.14 268.88 L172.72 268.51 L172.32 268.14 L171.92 267.75 L171.53 267.36 L171.15 266.95 L170.78 266.54 L170.42 266.11 L170.07 265.68 L169.73 265.24 L169.40 264.79 L169.08 264.33 L168.77 263.86 L168.48 263.38 L168.19 262.90 L167.92 262.41 L167.66 261.91 L167.42 261.41 L167.19 260.90 L166.97 260.38 L166.76 259.86 L166.58 259.33 L166.40 258.79 L166.24 258.25 L166.10 257.71 L165.97 257.16 L165.86 256.61 L165.76 256.05 L165.68 255.49Z" fill="none" stroke="#f7a534" stroke-width="1.1" stroke-opacity="0.9" stroke-linejoin="round"/>
<path clip-path="url(#cR10)" d="M417.60 137.55 L417.57 136.77 L417.57 136.01 L417.61 135.27 L417.69 134.53 L417.81 133.81 L417.97 133.11 L418.16 132.42 L418.39 131.74 L418.65 131.08 L418.94 130.43 L419.27 129.80 L419.63 129.18 L420.01 128.58 L420.43 127.99 L420.88 127.42 L421.35 126.86 L421.85 126.32 L422.38 125.80 L422.93 125.29 L423.51 124.79 L424.11 124.31 L424.73 123.85 L425.37 123.41 L426.04 122.98 L426.72 122.56 L427.43 122.17 L428.15 121.79 L428.88 121.42 L429.64 121.08 L430.41 120.75 L431.19 120.43 L431.99 120.14 L432.79 119.86 L433.62 119.60 L434.45 119.36 L435.29 119.13 L436.14 118.93 L437.00 118.74 L437.86 118.57 L438.73 118.41 L439.61 118.28 L440.49 118.17 L441.38 118.07 L442.26 117.99 L443.15 117.93 L444.04 117.89 L444.93 117.87 L445.82 117.87 L446.71 117.88 L447.59 117.92 L448.48 117.98 L449.35 118.05 L450.22 118.15 L451.09 118.27 L451.95 118.40 L452.80 118.56 L453.64 118.73 L454.48 118.93 L455.30 119.14 L456.12 119.37 L456.94 119.62 L457.74 119.89 L458.54 120.18 L459.32 120.48 L460.10 120.80 L460.87 121.14 L461.63 121.50 L462.38 121.87 L463.12 122.26 L463.85 122.66 L464.57 123.09 L465.28 123.52 L465.98 123.98 L466.66 124.45 L467.34 124.93 L468.01 125.43 L468.66 125.94 L469.30 126.47 L469.93 127.01 L470.55 127.57 L471.16 128.14 L471.75 128.72 L472.33 129.32 L472.90 129.93 L473.46 130.55 L474.00 131.18 L474.53 131.83 L475.04 132.49 L475.55 133.16 L476.03 133.84 L476.50 134.54 L476.96 135.24 L477.41 135.96 L477.83 136.69 L478.25 137.42 L478.65 138.17 L479.03 138.93 L479.39 139.69 L479.74 140.47 L480.08 141.26 L480.40 142.05 L480.70 142.85 L480.98 143.66 L481.25 144.48 L481.50 145.31 L481.73 146.15 L481.95 146.99 L482.15 147.84 L482.32 148.70 L482.49 149.56 L482.63 150.44 L482.75 151.31 L482.86 152.20 L482.94 153.08 L483.01 153.97 L483.06 154.86 L483.09 155.76 L483.09 156.65 L483.08 157.54 L483.05 158.43 L483.00 159.31 L482.93 160.19 L482.84 161.07 L482.73 161.94 L482.60 162.80 L482.45 163.65 L482.28 164.49 L482.08 165.32 L481.87 166.14 L481.64 166.94 L481.38 167.73 L481.10 168.50 L480.80 169.26 L480.48 170.00 L480.14 170.72 L479.78 171.42 L479.39 172.10 L478.98 172.75 L478.55 173.39 L478.10 174.00 L477.63 174.58 L477.13 175.13 L476.61 175.66 L476.07 176.16 L475.50 176.63 L474.91 177.07 L474.30 177.48 L473.66 177.86 L473.01 178.20 L472.33 178.51 L471.63 178.79 L470.92 179.04 L470.19 179.27 L469.44 179.46 L468.68 179.62 L467.91 179.76 L467.12 179.87 L466.32 179.95 L465.51 180.01 L464.70 180.04 L463.87 180.04 L463.04 180.02 L462.20 179.98 L461.36 179.91 L460.52 179.82 L459.67 179.71 L458.82 179.57 L457.97 179.41 L457.13 179.24 L456.28 179.04 L455.44 178.82 L454.61 178.58 L453.78 178.32 L452.95 178.04 L452.14 177.75 L451.33 177.44 L450.54 177.11 L449.75 176.76 L448.98 176.40 L448.22 176.03 L447.48 175.64 L446.75 175.23 L446.02 174.81 L445.32 174.37 L444.62 173.93 L443.93 173.46 L443.26 172.99 L442.59 172.50 L441.93 172.00 L441.29 171.49 L440.65 170.97 L440.02 170.43 L439.40 169.89 L438.78 169.33 L438.18 168.77 L437.58 168.19 L436.99 167.60 L436.40 167.01 L435.82 166.41 L435.24 165.80 L434.67 165.18 L434.10 164.55 L433.54 163.91 L432.98 163.27 L432.43 162.62 L431.88 161.97 L431.33 161.30 L430.78 160.64 L430.23 159.96 L429.69 159.29 L429.14 158.60 L428.60 157.92 L428.06 157.23 L427.51 156.53 L426.97 155.84 L426.42 155.14 L425.88 154.43 L425.33 153.73 L424.79 153.01 L424.25 152.30 L423.72 151.58 L423.20 150.85 L422.69 150.12 L422.19 149.39 L421.71 148.64 L421.25 147.89 L420.80 147.13 L420.37 146.36 L419.97 145.58 L419.59 144.79 L419.24 143.99 L418.92 143.19 L418.63 142.38 L418.37 141.56 L418.14 140.75 L417.95 139.94 L417.80 139.13 L417.68 138.33 L417.60 137.55ZM434.10 142.48 L434.11 142.04 L434.15 141.59 L434.20 141.16 L434.27 140.73 L434.35 140.30 L434.45 139.88 L434.57 139.46 L434.71 139.05 L434.86 138.65 L435.03 138.25 L435.21 137.85 L435.40 137.47 L435.62 137.08 L435.84 136.71 L436.08 136.34 L436.33 135.98 L436.60 135.63 L436.88 135.28 L437.17 134.94 L437.47 134.61 L437.78 134.29 L438.11 133.97 L438.44 133.67 L438.79 133.37 L439.15 133.08 L439.51 132.80 L439.89 132.53 L440.27 132.26 L440.67 132.01 L441.07 131.77 L441.48 131.53 L441.90 131.31 L442.33 131.10 L442.76 130.89 L443.20 130.70 L443.64 130.52 L444.10 130.35 L444.55 130.19 L445.02 130.04 L445.48 129.90 L445.96 129.78 L446.43 129.66 L446.91 129.56 L447.40 129.47 L447.89 129.40 L448.38 129.33 L448.87 129.28 L449.36 129.24 L449.86 129.22 L450.36 129.20 L450.86 129.21 L451.36 129.22 L451.86 129.25 L452.36 129.30 L452.86 129.35 L453.36 129.43 L453.85 129.51 L454.35 129.62 L454.85 129.73 L455.34 129.87 L455.83 130.01 L456.32 130.17 L456.80 130.35 L457.28 130.54 L457.76 130.74 L458.24 130.96 L458.71 131.19 L459.18 131.43 L459.64 131.69 L460.10 131.95 L460.55 132.23 L461.00 132.52 L461.45 132.82 L461.89 133.13 L462.32 133.45 L462.75 133.78 L463.17 134.12 L463.58 134.47 L463.99 134.83 L464.39 135.20 L464.78 135.58 L465.17 135.96 L465.55 136.35 L465.92 136.75 L466.29 137.16 L466.64 137.57 L466.99 137.99 L467.32 138.41 L467.65 138.84 L467.97 139.28 L468.28 139.72 L468.58 140.17 L468.87 140.62 L469.15 141.07 L469.42 141.53 L469.68 141.99 L469.93 142.46 L470.17 142.92 L470.39 143.39 L470.60 143.86 L470.81 144.34 L471.00 144.81 L471.17 145.29 L471.34 145.77 L471.49 146.24 L471.63 146.72 L471.75 147.20 L471.87 147.67 L471.96 148.15 L472.05 148.63 L472.12 149.10 L472.17 149.57 L472.21 150.04 L472.24 150.51 L472.25 150.97 L472.25 151.43 L472.22 151.89 L472.19 152.34 L472.14 152.79 L472.07 153.24 L471.99 153.68 L471.89 154.12 L471.78 154.55 L471.66 154.98 L471.52 155.40 L471.37 155.82 L471.20 156.23 L471.03 156.63 L470.84 157.04 L470.63 157.43 L470.42 157.82 L470.20 158.20 L469.96 158.58 L469.71 158.95 L469.45 159.31 L469.18 159.67 L468.90 160.02 L468.61 160.36 L468.31 160.70 L468.01 161.03 L467.69 161.34 L467.36 161.66 L467.03 161.96 L466.68 162.26 L466.33 162.54 L465.97 162.82 L465.61 163.09 L465.23 163.35 L464.85 163.60 L464.47 163.84 L464.07 164.07 L463.67 164.30 L463.27 164.51 L462.86 164.71 L462.44 164.91 L462.02 165.09 L461.60 165.26 L461.17 165.42 L460.74 165.57 L460.30 165.71 L459.86 165.83 L459.41 165.95 L458.97 166.05 L458.52 166.15 L458.07 166.23 L457.62 166.30 L457.16 166.35 L456.70 166.39 L456.25 166.43 L455.79 166.44 L455.33 166.45 L454.87 166.44 L454.41 166.42 L453.95 166.38 L453.49 166.33 L453.04 166.27 L452.58 166.19 L452.13 166.10 L451.67 165.99 L451.22 165.87 L450.77 165.74 L450.33 165.59 L449.88 165.42 L449.44 165.24 L449.00 165.04 L448.57 164.83 L448.14 164.60 L447.72 164.36 L447.29 164.10 L446.88 163.82 L446.47 163.53 L446.06 163.23 L445.66 162.91 L445.26 162.58 L444.87 162.23 L444.48 161.88 L444.09 161.51 L443.71 161.14 L443.34 160.75 L442.97 160.35 L442.61 159.95 L442.25 159.54 L441.89 159.11 L441.54 158.69 L441.20 158.25 L440.86 157.81 L440.53 157.37 L440.20 156.92 L439.88 156.47 L439.56 156.01 L439.25 155.55 L438.94 155.09 L438.64 154.63 L438.34 154.17 L438.06 153.70 L437.77 153.24 L437.50 152.77 L437.23 152.30 L436.97 151.83 L436.72 151.36 L436.47 150.89 L436.24 150.42 L436.01 149.95 L435.80 149.47 L435.59 149.00 L435.40 148.53 L435.22 148.05 L435.04 147.58 L434.88 147.11 L434.74 146.63 L434.61 146.16 L434.49 145.69 L434.38 145.23 L434.29 144.76 L434.22 144.30 L434.17 143.84 L434.13 143.38 L434.10 142.93 L434.10 142.48Z" fill="none" stroke="#f7a534" stroke-width="1.1" stroke-opacity="0.9" stroke-linejoin="round"/>
<path clip-path="url(#cR20)" d="M418.69 255.59 L418.81 254.78 L418.96 253.98 L419.14 253.18 L419.35 252.38 L419.58 251.58 L419.85 250.78 L420.14 249.99 L420.45 249.19 L420.80 248.40 L421.16 247.62 L421.55 246.84 L421.97 246.06 L422.40 245.29 L422.86 244.52 L423.34 243.75 L423.83 243.00 L424.35 242.25 L424.89 241.51 L425.44 240.77 L426.01 240.04 L426.60 239.32 L427.20 238.61 L427.82 237.91 L428.45 237.22 L429.10 236.54 L429.75 235.87 L430.42 235.21 L431.10 234.56 L431.79 233.92 L432.50 233.30 L433.21 232.69 L433.92 232.09 L434.65 231.50 L435.38 230.93 L436.12 230.38 L436.86 229.84 L437.61 229.31 L438.37 228.80 L439.12 228.31 L439.89 227.83 L440.66 227.38 L441.43 226.94 L442.20 226.52 L442.98 226.12 L443.77 225.74 L444.55 225.39 L445.34 225.05 L446.13 224.74 L446.92 224.45 L447.71 224.19 L448.51 223.95 L449.30 223.74 L450.10 223.55 L450.90 223.38 L451.69 223.25 L452.49 223.14 L453.29 223.06 L454.08 223.01 L454.88 222.98 L455.67 222.99 L456.46 223.03 L457.25 223.09 L458.04 223.19 L458.82 223.31 L459.60 223.45 L460.38 223.63 L461.15 223.83 L461.92 224.05 L462.68 224.30 L463.43 224.58 L464.18 224.88 L464.93 225.20 L465.66 225.54 L466.39 225.91 L467.11 226.30 L467.82 226.71 L468.52 227.14 L469.22 227.59 L469.90 228.06 L470.58 228.55 L471.24 229.05 L471.89 229.58 L472.53 230.12 L473.16 230.68 L473.78 231.26 L474.38 231.85 L474.97 232.46 L475.55 233.08 L476.11 233.72 L476.66 234.37 L477.19 235.04 L477.71 235.71 L478.21 236.40 L478.70 237.11 L479.17 237.82 L479.62 238.54 L480.05 239.27 L480.47 240.02 L480.87 240.77 L481.24 241.53 L481.60 242.30 L481.94 243.07 L482.26 243.86 L482.56 244.65 L482.84 245.44 L483.09 246.24 L483.32 247.05 L483.53 247.86 L483.72 248.67 L483.89 249.49 L484.03 250.31 L484.14 251.13 L484.23 251.96 L484.30 252.78 L484.34 253.61 L484.36 254.43 L484.35 255.26 L484.31 256.09 L484.25 256.91 L484.16 257.73 L484.05 258.55 L483.91 259.37 L483.76 260.18 L483.57 261.00 L483.37 261.80 L483.14 262.61 L482.90 263.41 L482.63 264.20 L482.34 264.99 L482.02 265.77 L481.69 266.55 L481.34 267.32 L480.97 268.08 L480.58 268.84 L480.17 269.59 L479.74 270.32 L479.30 271.05 L478.83 271.78 L478.36 272.49 L477.86 273.19 L477.35 273.88 L476.82 274.56 L476.28 275.23 L475.72 275.88 L475.14 276.53 L474.56 277.16 L473.96 277.78 L473.34 278.38 L472.71 278.97 L472.07 279.55 L471.42 280.11 L470.76 280.66 L470.08 281.19 L469.39 281.70 L468.70 282.20 L467.99 282.68 L467.27 283.14 L466.55 283.59 L465.81 284.02 L465.07 284.43 L464.32 284.82 L463.56 285.19 L462.79 285.54 L462.02 285.87 L461.24 286.18 L460.45 286.47 L459.66 286.73 L458.86 286.98 L458.06 287.20 L457.25 287.40 L456.44 287.58 L455.63 287.73 L454.81 287.86 L453.99 287.96 L453.16 288.04 L452.34 288.09 L451.51 288.12 L450.68 288.12 L449.86 288.10 L449.03 288.05 L448.20 287.97 L447.37 287.88 L446.54 287.75 L445.72 287.61 L444.90 287.44 L444.08 287.25 L443.27 287.04 L442.45 286.80 L441.65 286.55 L440.85 286.27 L440.05 285.97 L439.26 285.66 L438.48 285.32 L437.70 284.96 L436.93 284.59 L436.17 284.19 L435.42 283.78 L434.68 283.35 L433.95 282.91 L433.23 282.44 L432.52 281.96 L431.82 281.47 L431.13 280.95 L430.45 280.43 L429.79 279.89 L429.14 279.33 L428.51 278.76 L427.89 278.18 L427.28 277.58 L426.69 276.97 L426.12 276.35 L425.56 275.71 L425.02 275.07 L424.50 274.41 L423.99 273.74 L423.51 273.07 L423.04 272.38 L422.59 271.68 L422.17 270.98 L421.76 270.26 L421.38 269.54 L421.01 268.81 L420.67 268.07 L420.36 267.33 L420.06 266.57 L419.79 265.82 L419.55 265.05 L419.32 264.28 L419.13 263.51 L418.96 262.73 L418.82 261.95 L418.70 261.16 L418.61 260.37 L418.55 259.58 L418.52 258.78 L418.52 257.99 L418.54 257.19 L418.60 256.39 L418.69 255.59ZM434.54 255.01 L434.57 254.50 L434.61 253.99 L434.67 253.48 L434.74 252.97 L434.84 252.47 L434.95 251.96 L435.08 251.46 L435.22 250.96 L435.38 250.46 L435.55 249.97 L435.74 249.47 L435.95 248.99 L436.16 248.50 L436.40 248.02 L436.64 247.54 L436.90 247.07 L437.17 246.61 L437.46 246.14 L437.76 245.69 L438.07 245.24 L438.39 244.79 L438.72 244.35 L439.06 243.92 L439.41 243.50 L439.78 243.08 L440.15 242.67 L440.53 242.26 L440.92 241.87 L441.33 241.48 L441.73 241.10 L442.15 240.73 L442.57 240.37 L443.01 240.02 L443.44 239.68 L443.89 239.35 L444.34 239.02 L444.80 238.71 L445.26 238.41 L445.73 238.12 L446.20 237.85 L446.68 237.58 L447.16 237.33 L447.64 237.08 L448.13 236.85 L448.62 236.64 L449.11 236.43 L449.61 236.24 L450.11 236.07 L450.61 235.90 L451.11 235.75 L451.61 235.62 L452.11 235.50 L452.61 235.40 L453.12 235.31 L453.62 235.23 L454.12 235.18 L454.62 235.13 L455.12 235.11 L455.61 235.10 L456.11 235.11 L456.60 235.13 L457.09 235.17 L457.57 235.23 L458.06 235.29 L458.54 235.38 L459.01 235.48 L459.49 235.59 L459.95 235.72 L460.42 235.86 L460.88 236.01 L461.34 236.18 L461.79 236.36 L462.23 236.56 L462.67 236.76 L463.11 236.98 L463.54 237.21 L463.96 237.45 L464.38 237.71 L464.79 237.97 L465.19 238.24 L465.59 238.53 L465.98 238.83 L466.36 239.13 L466.74 239.45 L467.11 239.78 L467.47 240.11 L467.82 240.46 L468.16 240.81 L468.49 241.17 L468.82 241.54 L469.14 241.92 L469.44 242.31 L469.74 242.70 L470.03 243.10 L470.30 243.51 L470.57 243.92 L470.83 244.34 L471.07 244.77 L471.30 245.21 L471.53 245.64 L471.74 246.09 L471.94 246.54 L472.13 246.99 L472.30 247.45 L472.47 247.92 L472.62 248.39 L472.76 248.86 L472.88 249.33 L472.99 249.81 L473.09 250.29 L473.18 250.78 L473.25 251.27 L473.30 251.76 L473.35 252.25 L473.37 252.74 L473.39 253.24 L473.39 253.73 L473.38 254.23 L473.35 254.73 L473.31 255.23 L473.26 255.73 L473.20 256.22 L473.12 256.72 L473.03 257.22 L472.93 257.72 L472.82 258.21 L472.70 258.70 L472.56 259.19 L472.42 259.68 L472.26 260.17 L472.09 260.65 L471.91 261.14 L471.72 261.61 L471.52 262.09 L471.31 262.56 L471.08 263.02 L470.85 263.49 L470.61 263.94 L470.36 264.40 L470.10 264.84 L469.84 265.28 L469.56 265.72 L469.27 266.15 L468.98 266.57 L468.67 266.99 L468.36 267.40 L468.04 267.80 L467.72 268.20 L467.38 268.58 L467.04 268.96 L466.69 269.34 L466.34 269.70 L465.97 270.05 L465.60 270.40 L465.23 270.73 L464.84 271.06 L464.45 271.37 L464.06 271.68 L463.66 271.97 L463.25 272.25 L462.84 272.53 L462.43 272.79 L462.00 273.04 L461.58 273.27 L461.15 273.50 L460.71 273.71 L460.27 273.91 L459.83 274.10 L459.38 274.27 L458.93 274.43 L458.47 274.58 L458.01 274.71 L457.55 274.82 L457.09 274.93 L456.62 275.01 L456.15 275.09 L455.68 275.14 L455.20 275.18 L454.72 275.21 L454.25 275.21 L453.76 275.20 L453.28 275.18 L452.80 275.14 L452.32 275.08 L451.83 275.00 L451.35 274.91 L450.86 274.80 L450.38 274.68 L449.89 274.54 L449.41 274.39 L448.93 274.22 L448.45 274.04 L447.98 273.84 L447.50 273.63 L447.03 273.41 L446.57 273.17 L446.10 272.92 L445.64 272.66 L445.19 272.39 L444.74 272.11 L444.29 271.81 L443.85 271.50 L443.42 271.18 L442.99 270.85 L442.57 270.52 L442.15 270.17 L441.75 269.81 L441.34 269.44 L440.95 269.06 L440.57 268.68 L440.19 268.28 L439.82 267.88 L439.47 267.47 L439.12 267.05 L438.78 266.62 L438.45 266.19 L438.14 265.75 L437.83 265.31 L437.53 264.85 L437.25 264.40 L436.98 263.93 L436.72 263.46 L436.47 262.99 L436.24 262.51 L436.02 262.03 L435.81 261.55 L435.62 261.06 L435.45 260.56 L435.28 260.07 L435.13 259.57 L435.00 259.07 L434.89 258.56 L434.79 258.06 L434.70 257.55 L434.64 257.04 L434.59 256.54 L434.55 256.03 L434.54 255.52 L434.54 255.01Z" fill="none" stroke="#f7a534" stroke-width="1.1" stroke-opacity="0.9" stroke-linejoin="round"/>
<path clip-path="url(#cR21)" d="M523.13 255.19 L523.15 254.39 L523.21 253.59 L523.29 252.79 L523.40 251.99 L523.54 251.20 L523.71 250.41 L523.90 249.62 L524.11 248.83 L524.35 248.05 L524.62 247.27 L524.91 246.50 L525.22 245.73 L525.55 244.97 L525.91 244.22 L526.29 243.47 L526.68 242.73 L527.10 242.00 L527.54 241.27 L528.00 240.55 L528.48 239.84 L528.98 239.15 L529.49 238.46 L530.02 237.78 L530.57 237.11 L531.14 236.45 L531.72 235.80 L532.32 235.17 L532.93 234.55 L533.55 233.94 L534.19 233.34 L534.85 232.76 L535.51 232.19 L536.19 231.64 L536.88 231.10 L537.58 230.57 L538.29 230.06 L539.01 229.57 L539.74 229.10 L540.48 228.64 L541.23 228.20 L541.99 227.78 L542.75 227.37 L543.52 226.99 L544.30 226.62 L545.09 226.27 L545.88 225.95 L546.67 225.64 L547.47 225.36 L548.27 225.09 L549.08 224.85 L549.88 224.63 L550.69 224.43 L551.51 224.26 L552.32 224.11 L553.14 223.98 L553.95 223.88 L554.76 223.81 L555.58 223.76 L556.39 223.73 L557.20 223.73 L558.01 223.76 L558.81 223.81 L559.62 223.90 L560.41 224.00 L561.21 224.14 L562.00 224.30 L562.78 224.48 L563.56 224.69 L564.33 224.93 L565.10 225.18 L565.86 225.46 L566.61 225.77 L567.36 226.09 L568.09 226.44 L568.82 226.81 L569.55 227.20 L570.26 227.60 L570.96 228.03 L571.65 228.48 L572.34 228.95 L573.01 229.43 L573.67 229.93 L574.32 230.45 L574.96 230.99 L575.58 231.54 L576.19 232.11 L576.79 232.69 L577.38 233.29 L577.95 233.90 L578.51 234.53 L579.06 235.17 L579.58 235.82 L580.10 236.48 L580.59 237.16 L581.08 237.84 L581.54 238.54 L581.99 239.25 L582.42 239.97 L582.83 240.69 L583.22 241.43 L583.60 242.17 L583.96 242.93 L584.29 243.68 L584.61 244.45 L584.91 245.22 L585.18 246.00 L585.44 246.78 L585.67 247.57 L585.88 248.36 L586.07 249.16 L586.24 249.96 L586.38 250.76 L586.50 251.56 L586.60 252.37 L586.67 253.18 L586.72 253.99 L586.75 254.80 L586.75 255.61 L586.72 256.41 L586.68 257.22 L586.61 258.03 L586.52 258.83 L586.40 259.64 L586.27 260.44 L586.11 261.23 L585.94 262.03 L585.74 262.82 L585.52 263.60 L585.28 264.38 L585.03 265.16 L584.75 265.93 L584.46 266.69 L584.14 267.45 L583.81 268.20 L583.46 268.94 L583.09 269.68 L582.71 270.41 L582.31 271.13 L581.89 271.84 L581.46 272.54 L581.01 273.23 L580.55 273.91 L580.07 274.58 L579.57 275.24 L579.07 275.88 L578.54 276.52 L578.01 277.14 L577.46 277.75 L576.90 278.35 L576.32 278.93 L575.73 279.50 L575.14 280.05 L574.53 280.59 L573.90 281.12 L573.27 281.62 L572.63 282.11 L571.98 282.59 L571.31 283.05 L570.64 283.49 L569.96 283.91 L569.27 284.31 L568.57 284.69 L567.87 285.06 L567.15 285.41 L566.43 285.73 L565.70 286.03 L564.97 286.32 L564.22 286.58 L563.48 286.82 L562.72 287.04 L561.97 287.23 L561.20 287.40 L560.43 287.55 L559.66 287.68 L558.89 287.78 L558.11 287.85 L557.32 287.90 L556.54 287.92 L555.75 287.92 L554.96 287.89 L554.17 287.84 L553.37 287.76 L552.58 287.65 L551.79 287.52 L550.99 287.36 L550.20 287.18 L549.41 286.98 L548.62 286.75 L547.83 286.50 L547.05 286.23 L546.27 285.94 L545.49 285.62 L544.72 285.29 L543.95 284.93 L543.19 284.56 L542.44 284.16 L541.69 283.75 L540.95 283.31 L540.22 282.86 L539.49 282.39 L538.77 281.91 L538.07 281.40 L537.37 280.89 L536.68 280.35 L536.01 279.80 L535.34 279.24 L534.69 278.66 L534.05 278.06 L533.42 277.46 L532.80 276.83 L532.20 276.20 L531.62 275.56 L531.04 274.90 L530.49 274.23 L529.95 273.55 L529.42 272.86 L528.92 272.16 L528.43 271.46 L527.96 270.74 L527.51 270.01 L527.07 269.28 L526.66 268.54 L526.26 267.79 L525.89 267.03 L525.54 266.27 L525.21 265.50 L524.90 264.73 L524.62 263.95 L524.35 263.17 L524.12 262.38 L523.90 261.59 L523.71 260.80 L523.55 260.00 L523.41 259.20 L523.30 258.40 L523.21 257.60 L523.16 256.80 L523.13 256.00 L523.13 255.19ZM538.11 255.23 L538.14 254.73 L538.18 254.23 L538.24 253.73 L538.31 253.24 L538.40 252.74 L538.51 252.25 L538.64 251.76 L538.77 251.27 L538.93 250.79 L539.10 250.31 L539.28 249.83 L539.48 249.36 L539.69 248.89 L539.91 248.42 L540.15 247.96 L540.40 247.50 L540.66 247.05 L540.94 246.60 L541.22 246.16 L541.52 245.73 L541.83 245.30 L542.15 244.87 L542.48 244.46 L542.82 244.05 L543.17 243.64 L543.52 243.25 L543.89 242.86 L544.27 242.48 L544.65 242.11 L545.04 241.74 L545.44 241.39 L545.85 241.04 L546.26 240.71 L546.68 240.38 L547.11 240.06 L547.54 239.76 L547.98 239.46 L548.43 239.17 L548.87 238.90 L549.33 238.63 L549.78 238.38 L550.25 238.14 L550.71 237.91 L551.18 237.69 L551.65 237.48 L552.12 237.29 L552.60 237.11 L553.07 236.94 L553.55 236.79 L554.03 236.65 L554.51 236.52 L554.99 236.41 L555.47 236.32 L555.96 236.23 L556.44 236.17 L556.92 236.12 L557.39 236.08 L557.87 236.06 L558.35 236.05 L558.82 236.07 L559.29 236.09 L559.76 236.14 L560.22 236.20 L560.68 236.27 L561.14 236.36 L561.59 236.47 L562.04 236.59 L562.49 236.72 L562.93 236.87 L563.37 237.03 L563.81 237.21 L564.24 237.40 L564.66 237.60 L565.08 237.81 L565.49 238.04 L565.90 238.27 L566.30 238.52 L566.70 238.78 L567.09 239.06 L567.48 239.34 L567.85 239.63 L568.22 239.94 L568.59 240.25 L568.94 240.57 L569.29 240.91 L569.63 241.25 L569.97 241.60 L570.29 241.96 L570.61 242.33 L570.92 242.71 L571.22 243.09 L571.51 243.48 L571.79 243.88 L572.07 244.29 L572.33 244.70 L572.59 245.12 L572.83 245.54 L573.06 245.97 L573.29 246.41 L573.50 246.85 L573.70 247.30 L573.90 247.75 L574.08 248.20 L574.25 248.66 L574.41 249.13 L574.55 249.59 L574.69 250.06 L574.81 250.54 L574.92 251.01 L575.02 251.49 L575.10 251.97 L575.17 252.45 L575.23 252.94 L575.28 253.42 L575.31 253.91 L575.33 254.40 L575.33 254.89 L575.32 255.37 L575.30 255.86 L575.27 256.35 L575.22 256.84 L575.16 257.32 L575.09 257.81 L575.01 258.29 L574.91 258.78 L574.81 259.26 L574.69 259.74 L574.56 260.21 L574.42 260.69 L574.26 261.16 L574.10 261.63 L573.93 262.09 L573.74 262.55 L573.55 263.01 L573.35 263.46 L573.13 263.91 L572.91 264.35 L572.68 264.79 L572.44 265.23 L572.18 265.66 L571.92 266.08 L571.66 266.50 L571.38 266.91 L571.09 267.31 L570.80 267.71 L570.50 268.10 L570.19 268.48 L569.87 268.86 L569.55 269.23 L569.22 269.59 L568.88 269.94 L568.53 270.28 L568.18 270.62 L567.82 270.94 L567.46 271.26 L567.09 271.57 L566.71 271.86 L566.33 272.15 L565.94 272.43 L565.55 272.69 L565.15 272.95 L564.75 273.19 L564.34 273.43 L563.93 273.65 L563.52 273.86 L563.10 274.05 L562.67 274.24 L562.24 274.41 L561.81 274.57 L561.38 274.72 L560.94 274.85 L560.50 274.97 L560.05 275.08 L559.60 275.17 L559.15 275.24 L558.70 275.31 L558.25 275.35 L557.79 275.39 L557.34 275.40 L556.88 275.40 L556.42 275.39 L555.96 275.36 L555.49 275.31 L555.03 275.25 L554.57 275.17 L554.10 275.07 L553.64 274.96 L553.18 274.83 L552.72 274.69 L552.25 274.53 L551.80 274.36 L551.34 274.17 L550.88 273.97 L550.43 273.76 L549.98 273.53 L549.54 273.29 L549.09 273.04 L548.65 272.78 L548.22 272.50 L547.79 272.22 L547.37 271.92 L546.95 271.61 L546.53 271.29 L546.12 270.96 L545.72 270.62 L545.33 270.26 L544.94 269.90 L544.56 269.54 L544.18 269.16 L543.82 268.77 L543.46 268.38 L543.11 267.97 L542.77 267.56 L542.44 267.14 L542.12 266.72 L541.80 266.29 L541.50 265.85 L541.21 265.41 L540.93 264.96 L540.66 264.50 L540.40 264.04 L540.16 263.58 L539.93 263.11 L539.70 262.63 L539.50 262.15 L539.30 261.67 L539.12 261.19 L538.95 260.70 L538.80 260.21 L538.66 259.72 L538.53 259.22 L538.43 258.73 L538.33 258.23 L538.25 257.73 L538.19 257.23 L538.15 256.73 L538.12 256.23 L538.11 255.73 L538.11 255.23Z" fill="none" stroke="#f7a534" stroke-width="1.1" stroke-opacity="0.9" stroke-linejoin="round"/>
<path clip-path="url(#cL20)" d="M22.81 204.52 L23.51 205.33 L24.15 206.02 L24.80 206.67 L25.45 207.27 L26.11 207.84 L26.78 208.38 L27.47 208.91 L28.17 209.43 L28.89 209.95 L29.63 210.47 L30.39 211.01 L31.16 211.58 L31.96 212.17 L32.78 212.80 L33.60 213.47 L34.41 214.18 L35.21 214.90 L36.00 215.63 L36.79 216.38 L37.56 217.14 L38.32 217.90 L39.08 218.66 L39.83 219.42 L40.57 220.16 L41.30 220.90 L42.03 221.61 L42.75 222.30 L43.46 222.97 L44.15 223.61 L44.84 224.21 L45.51 224.77 L46.17 225.28 L46.81 225.75 L47.44 226.18 L48.09 226.58 L48.74 226.96 L49.42 227.33 L50.11 227.69 L50.82 228.05 L51.55 228.41 L52.30 228.78 L53.08 229.16 L53.87 229.57 L54.68 230.00 L55.52 230.47 L56.36 230.98 L57.23 231.54 L58.10 232.16 L58.94 232.80 L59.75 233.46 L60.52 234.10 L61.27 234.73 L61.99 235.34 L62.68 235.90 L63.38 236.43 L64.09 236.97 L64.82 237.51 L65.54 238.03 L66.27 238.56 L67.00 239.07 L67.74 239.59 L68.48 240.10 L69.22 240.62 L69.96 241.13 L70.71 241.64 L71.46 242.16 L72.22 242.68 L72.97 243.21 L73.73 243.74 L74.50 244.28 L75.26 244.83 L76.03 245.38 L76.80 245.95 L77.58 246.53 L78.35 247.12 L79.13 247.73 L79.90 248.35 L80.68 248.97 L81.44 249.60 L82.21 250.24 L82.98 250.89 L83.74 251.54 L84.51 252.21 L85.27 252.87 L86.03 253.55 L86.79 254.23 L87.55 254.91 L88.31 255.60 L89.06 256.29 L89.82 256.99 L90.58 257.69 L91.33 258.39 L92.08 259.09 L92.84 259.80 L93.59 260.51 L94.34 261.22 L95.09 261.93 L95.84 262.63 L96.59 263.35 L97.34 264.06 L98.04 264.83 L98.73 265.62 L99.41 266.42 L100.09 267.23 L100.76 268.04 L101.44 268.87 L102.11 269.70 L102.77 270.54 L103.44 271.39 L104.10 272.25 L104.75 273.12 L105.39 274.00 L106.03 274.91 L106.65 275.82 L107.26 276.76 L107.84 277.73 L108.40 278.74 L108.89 279.82 L109.00 281.23 L109.00 281.23 L107.61 280.95 L106.61 280.36 L105.67 279.74 L104.76 279.10 L103.87 278.46 L103.00 277.80 L102.14 277.15 L101.29 276.50 L100.44 275.85 L99.60 275.20 L98.77 274.56 L97.94 273.91 L97.12 273.27 L96.30 272.63 L95.48 271.99 L94.66 271.35 L93.85 270.71 L93.03 270.08 L92.24 269.42 L91.50 268.71 L90.75 268.01 L90.00 267.30 L89.26 266.59 L88.51 265.89 L87.77 265.19 L87.03 264.49 L86.28 263.80 L85.54 263.11 L84.80 262.42 L84.06 261.74 L83.32 261.07 L82.59 260.40 L81.85 259.74 L81.11 259.08 L80.38 258.43 L79.65 257.79 L78.91 257.15 L78.18 256.53 L77.45 255.91 L76.72 255.30 L76.00 254.70 L75.27 254.12 L74.55 253.54 L73.83 252.98 L73.11 252.43 L72.39 251.89 L71.67 251.36 L70.94 250.83 L70.21 250.31 L69.48 249.79 L68.74 249.28 L68.00 248.76 L67.26 248.25 L66.51 247.74 L65.77 247.22 L65.02 246.71 L64.26 246.18 L63.50 245.66 L62.74 245.12 L61.98 244.58 L61.21 244.04 L60.45 243.48 L59.67 242.91 L58.89 242.32 L58.09 241.70 L57.29 241.05 L56.51 240.40 L55.76 239.77 L55.04 239.17 L54.35 238.61 L53.70 238.11 L53.07 237.66 L52.45 237.26 L51.80 236.87 L51.13 236.49 L50.45 236.13 L49.75 235.77 L49.03 235.41 L48.28 235.05 L47.52 234.67 L46.73 234.28 L45.93 233.86 L45.11 233.41 L44.27 232.92 L43.41 232.39 L42.55 231.81 L41.70 231.18 L40.86 230.52 L40.03 229.84 L39.22 229.13 L38.43 228.40 L37.64 227.66 L36.86 226.91 L36.09 226.15 L35.33 225.39 L34.58 224.63 L33.83 223.88 L33.09 223.13 L32.36 222.40 L31.63 221.70 L30.92 221.01 L30.22 220.35 L29.52 219.73 L28.84 219.14 L28.17 218.59 L27.48 218.06 L26.79 217.54 L26.07 217.02 L25.33 216.50 L24.57 215.96 L23.80 215.40 L23.00 214.81 L22.19 214.18 L21.37 213.51 L20.53 212.79 L19.69 212.02 L18.84 211.17 L17.99 210.27 L17.19 209.34ZM21.44 205.69 L22.09 206.45 L22.72 207.13 L23.35 207.76 L23.97 208.36 L24.60 208.92 L25.24 209.45 L25.87 209.95 L26.52 210.45 L27.17 210.93 L27.83 211.40 L28.50 211.88 L29.17 212.36 L29.86 212.85 L30.55 213.36 L31.25 213.89 L31.95 214.45 L32.66 215.04 L33.36 215.65 L34.06 216.28 L34.75 216.93 L35.44 217.58 L36.12 218.25 L36.80 218.93 L37.48 219.61 L38.16 220.29 L38.83 220.96 L39.50 221.63 L40.16 222.30 L40.82 222.95 L41.48 223.58 L42.13 224.20 L42.78 224.80 L43.43 225.37 L44.07 225.91 L44.70 226.43 L45.33 226.91 L45.95 227.35 L46.57 227.76 L47.20 228.15 L47.83 228.51 L48.46 228.86 L49.11 229.20 L49.76 229.53 L50.42 229.86 L51.09 230.19 L51.77 230.52 L52.46 230.87 L53.15 231.22 L53.86 231.60 L54.57 232.00 L55.28 232.43 L56.01 232.89 L56.74 233.39 L57.46 233.93 L58.17 234.49 L58.86 235.06 L59.54 235.63 L60.21 236.20 L60.87 236.75 L61.52 237.27 L62.16 237.77 L62.82 238.27 L63.48 238.76 L64.14 239.24 L64.80 239.72 L65.47 240.19 L66.13 240.66 L66.80 241.13 L67.47 241.59 L68.14 242.06 L68.81 242.52 L69.48 242.98 L70.15 243.44 L70.83 243.91 L71.50 244.38 L72.18 244.85 L72.86 245.33 L73.54 245.81 L74.22 246.29 L74.90 246.79 L75.58 247.29 L76.27 247.80 L76.95 248.32 L77.64 248.85 L78.32 249.39 L79.01 249.94 L79.69 250.49 L80.37 251.05 L81.05 251.62 L81.73 252.20 L82.41 252.78 L83.09 253.36 L83.77 253.96 L84.45 254.55 L85.13 255.16 L85.81 255.76 L86.49 256.38 L87.16 256.99 L87.84 257.61 L88.52 258.23 L89.19 258.86 L89.84 259.52 L90.47 260.19 L91.11 260.86 L91.74 261.54 L92.37 262.22 L93.00 262.90 L93.63 263.58 L94.26 264.27 L94.88 264.96 L95.50 265.66 L96.12 266.36 L96.73 267.07 L97.34 267.78 L97.94 268.51 L98.53 269.25 L99.10 270.00 L99.64 270.80 L100.00 271.78 L100.00 271.78 L99.01 271.44 L98.21 270.91 L97.44 270.36 L96.69 269.80 L95.94 269.23 L95.20 268.66 L94.47 268.08 L93.75 267.50 L93.02 266.92 L92.30 266.34 L91.58 265.75 L90.86 265.16 L90.15 264.58 L89.44 263.99 L88.72 263.40 L88.02 262.82 L87.31 262.23 L86.61 261.64 L85.94 261.02 L85.27 260.41 L84.60 259.80 L83.93 259.19 L83.27 258.59 L82.60 257.99 L81.93 257.40 L81.27 256.81 L80.60 256.23 L79.94 255.66 L79.27 255.09 L78.61 254.53 L77.95 253.98 L77.28 253.43 L76.62 252.89 L75.96 252.36 L75.30 251.84 L74.64 251.34 L73.98 250.84 L73.32 250.34 L72.66 249.86 L72.00 249.38 L71.34 248.90 L70.67 248.43 L70.00 247.96 L69.34 247.50 L68.67 247.04 L68.00 246.57 L67.33 246.11 L66.65 245.65 L65.98 245.18 L65.30 244.72 L64.63 244.25 L63.95 243.77 L63.27 243.29 L62.59 242.81 L61.91 242.32 L61.23 241.82 L60.54 241.31 L59.85 240.79 L59.15 240.25 L58.46 239.68 L57.77 239.11 L57.10 238.54 L56.43 237.98 L55.78 237.45 L55.14 236.94 L54.52 236.48 L53.91 236.06 L53.29 235.66 L52.66 235.29 L52.03 234.93 L51.39 234.59 L50.74 234.26 L50.08 233.93 L49.41 233.60 L48.74 233.27 L48.06 232.93 L47.36 232.58 L46.66 232.21 L45.96 231.82 L45.24 231.40 L44.52 230.96 L43.80 230.48 L43.07 229.96 L42.35 229.41 L41.64 228.84 L40.94 228.24 L40.24 227.62 L39.55 226.98 L38.86 226.33 L38.17 225.67 L37.49 225.00 L36.81 224.32 L36.13 223.64 L35.46 222.96 L34.79 222.29 L34.12 221.62 L33.46 220.96 L32.80 220.32 L32.14 219.69 L31.49 219.08 L30.84 218.49 L30.20 217.93 L29.56 217.40 L28.92 216.89 L28.27 216.40 L27.62 215.92 L26.96 215.45 L26.29 214.97 L25.62 214.49 L24.93 214.00 L24.24 213.48 L23.54 212.95 L22.83 212.39 L22.12 211.79 L21.41 211.16 L20.69 210.48 L19.97 209.75 L19.25 208.97 L18.56 208.16Z" fill="none" stroke="#f7a534" stroke-width="1.0" stroke-opacity="0.85" stroke-linejoin="round"/>
<path d="M76.40 0.50V101.50M76.40 101.50V203.40M30.00 148.40H131.00M185.00 101.50V203.40M76.40 203.40V304.50M30.00 253.80H131.00M185.00 203.40V304.50M131.00 253.80H232.00M281.60 203.40V304.50M454.60 0.50V101.50M454.60 101.50V203.40M399.00 145.60H501.00M557.10 101.50V203.40M454.60 203.40V304.50M399.00 255.80H501.00M557.10 203.40V304.50M501.00 255.80H603.00M651.20 203.40V304.50" stroke="#dedede" stroke-width="0.6" fill="none"/>
<path d="M30.00 79.72 L30.51 79.37 L31.02 79.01 L31.52 78.65 L32.03 78.29 L32.54 77.91 L33.05 77.54 L33.55 77.15 L34.06 76.76 L34.57 76.37 L35.08 75.97 L35.58 75.56 L36.09 75.15 L36.60 74.74 L37.11 74.32 L37.61 73.89 L38.12 73.46 L38.63 73.02 L39.14 72.57 L39.64 72.11 L40.15 71.65 L40.66 71.17 L41.17 70.69 L41.67 70.19 L42.18 69.68 L42.69 69.17 L43.20 68.63 L43.70 68.09 L44.21 67.54 L44.72 66.97 L45.23 66.39 L45.73 65.81 L46.24 65.21 L46.75 64.61 L47.26 64.00 L47.76 63.39 L48.27 62.77 L48.78 62.14 L49.29 61.50 L49.79 60.86 L50.30 60.21 L50.81 59.55 L51.32 58.88 L51.82 58.20 L52.33 57.51 L52.84 56.81 L53.35 56.09 L53.85 55.36 L54.36 54.62 L54.87 53.87 L55.38 53.10 L55.88 52.31 L56.39 51.51 L56.90 50.70 L57.41 49.87 L57.91 49.02 L58.42 48.16 L58.93 47.27 L59.44 46.37 L59.94 45.44 L60.45 44.49 L60.96 43.51 L61.47 42.50 L61.97 41.47 L62.48 40.39 L62.99 39.28 L63.50 38.13 L64.01 36.93 L64.51 35.70 L65.02 34.42 L65.53 33.10 L66.04 31.72 L66.54 30.30 L67.05 28.84 L67.56 27.33 L68.07 25.80 L68.57 24.27 L69.08 22.75 L69.59 21.26 L70.10 19.81 L70.60 18.41 L71.11 17.08 L71.62 15.83 L72.13 14.67 L72.63 13.62 L73.14 12.69 L73.65 11.88 L74.16 11.22 L74.66 10.67 L75.17 10.24 L75.68 9.92 L76.19 9.69 L76.69 9.57 L77.20 9.56 L77.71 9.66 L78.22 9.87 L78.72 10.18 L79.23 10.58 L79.74 11.07 L80.25 11.65 L80.75 12.33 L81.26 13.09 L81.77 13.95 L82.28 14.90 L82.78 15.93 L83.29 17.04 L83.80 18.22 L84.31 19.47 L84.81 20.76 L85.32 22.10 L85.83 23.49 L86.34 24.92 L86.84 26.41 L87.35 27.97 L87.86 29.60 L88.37 31.32 L88.87 33.14 L89.38 35.05 L89.89 37.04 L90.40 39.11 L90.90 41.23 L91.41 43.36 L91.92 45.49 L92.43 47.60 L92.93 49.67 L93.44 51.69 L93.95 53.66 L94.46 55.57 L94.96 57.41 L95.47 59.19 L95.98 60.90 L96.49 62.55 L96.99 64.15 L97.50 65.70 L98.01 67.20 L98.52 68.66 L99.03 70.09 L99.53 71.48 L100.04 72.85 L100.55 74.19 L101.06 75.49 L101.56 76.77 L102.07 78.02 L102.58 79.23 L103.09 80.39 L103.59 81.51 L104.10 82.59 L104.61 83.62 L105.12 84.60 L105.62 85.55 L106.13 86.47 L106.64 87.36 L107.15 88.21 L107.65 89.04 L108.16 89.84 L108.67 90.60 L109.18 91.32 L109.68 92.00 L110.19 92.64 L110.70 93.24 L111.21 93.81 L111.71 94.34 L112.22 94.84 L112.73 95.32 L113.24 95.78 L113.74 96.22 L114.25 96.64 L114.76 97.04 L115.27 97.42 L115.77 97.78 L116.28 98.11 L116.79 98.42 L117.30 98.70 L117.80 98.95 L118.31 99.17 L118.82 99.37 L119.33 99.54 L119.83 99.70 L120.34 99.84 L120.85 99.96 L121.36 100.08 L121.86 100.18 L122.37 100.28 L122.88 100.37 L123.39 100.46 L123.89 100.54 L124.40 100.62 L124.91 100.70 L125.42 100.77 L125.92 100.84 L126.43 100.91 L126.94 100.97 L127.45 101.04 L127.95 101.10 L128.46 101.16 L128.97 101.21 L129.48 101.26 L129.98 101.31 L130.49 101.35 L131.00 101.39M131.00 203.09 L131.51 203.04 L132.02 202.99 L132.52 202.93 L133.03 202.87 L133.54 202.81 L134.05 202.75 L134.55 202.68 L135.06 202.61 L135.57 202.55 L136.08 202.48 L136.58 202.40 L137.09 202.33 L137.60 202.26 L138.11 202.18 L138.61 202.10 L139.12 202.02 L139.63 201.93 L140.14 201.84 L140.64 201.75 L141.15 201.65 L141.66 201.55 L142.17 201.44 L142.67 201.33 L143.18 201.21 L143.69 201.08 L144.20 200.94 L144.70 200.79 L145.21 200.63 L145.72 200.46 L146.23 200.28 L146.73 200.09 L147.24 199.88 L147.75 199.66 L148.26 199.43 L148.76 199.19 L149.27 198.93 L149.78 198.66 L150.29 198.38 L150.79 198.08 L151.30 197.76 L151.81 197.42 L152.32 197.05 L152.82 196.65 L153.33 196.21 L153.84 195.74 L154.35 195.23 L154.85 194.67 L155.36 194.09 L155.87 193.47 L156.38 192.82 L156.88 192.14 L157.39 191.44 L157.90 190.71 L158.41 189.95 L158.91 189.15 L159.42 188.32 L159.93 187.44 L160.44 186.52 L160.94 185.55 L161.45 184.53 L161.96 183.45 L162.47 182.33 L162.97 181.14 L163.48 179.90 L163.99 178.59 L164.50 177.20 L165.01 175.73 L165.51 174.17 L166.02 172.53 L166.53 170.80 L167.04 168.99 L167.54 167.08 L168.05 165.08 L168.56 162.98 L169.07 160.78 L169.57 158.49 L170.08 156.12 L170.59 153.69 L171.10 151.22 L171.60 148.72 L172.11 146.21 L172.62 143.72 L173.13 141.27 L173.63 138.89 L174.14 136.60 L174.65 134.41 L175.16 132.31 L175.66 130.29 L176.17 128.34 L176.68 126.44 L177.19 124.60 L177.69 122.83 L178.20 121.15 L178.71 119.57 L179.22 118.11 L179.72 116.79 L180.23 115.62 L180.74 114.61 L181.25 113.76 L181.75 113.05 L182.26 112.46 L182.77 112.00 L183.28 111.63 L183.78 111.36 L184.29 111.19 L184.80 111.11 L185.31 111.14 L185.81 111.27 L186.32 111.49 L186.83 111.81 L187.34 112.22 L187.84 112.73 L188.35 113.35 L188.86 114.09 L189.37 114.96 L189.87 115.94 L190.38 117.02 L190.89 118.20 L191.40 119.48 L191.90 120.87 L192.41 122.39 L192.92 124.07 L193.43 125.93 L193.93 127.98 L194.44 130.23 L194.95 132.66 L195.46 135.22 L195.96 137.87 L196.47 140.56 L196.98 143.26 L197.49 145.93 L197.99 148.56 L198.50 151.14 L199.01 153.65 L199.52 156.09 L200.03 158.46 L200.53 160.73 L201.04 162.91 L201.55 164.99 L202.06 166.97 L202.56 168.85 L203.07 170.65 L203.58 172.37 L204.09 174.01 L204.59 175.58 L205.10 177.08 L205.61 178.52 L206.12 179.91 L206.62 181.24 L207.13 182.52 L207.64 183.76 L208.15 184.95 L208.65 186.09 L209.16 187.17 L209.67 188.19 L210.18 189.15 L210.68 190.06 L211.19 190.90 L211.70 191.70 L212.21 192.45 L212.71 193.16 L213.22 193.84 L213.73 194.49 L214.24 195.10 L214.74 195.68 L215.25 196.22 L215.76 196.73 L216.27 197.20 L216.77 197.63 L217.28 198.03 L217.79 198.41 L218.30 198.76 L218.80 199.09 L219.31 199.40 L219.82 199.70 L220.33 199.98 L220.83 200.24 L221.34 200.50 L221.85 200.73 L222.36 200.95 L222.86 201.15 L223.37 201.33 L223.88 201.50 L224.39 201.64 L224.89 201.77 L225.40 201.89 L225.91 201.99 L226.42 202.08 L226.92 202.16 L227.43 202.23 L227.94 202.30 L228.45 202.37 L228.95 202.44 L229.46 202.52 L229.97 202.61 L230.48 202.71 L230.98 202.81 L231.49 202.90 L232.00 202.96M232.00 304.38 L232.51 304.37 L233.02 304.36 L233.52 304.34 L234.03 304.32 L234.54 304.29 L235.05 304.26 L235.55 304.22 L236.06 304.19 L236.57 304.15 L237.08 304.10 L237.58 304.06 L238.09 304.00 L238.60 303.95 L239.11 303.89 L239.61 303.82 L240.12 303.75 L240.63 303.67 L241.14 303.59 L241.64 303.50 L242.15 303.40 L242.66 303.30 L243.17 303.19 L243.67 303.07 L244.18 302.93 L244.69 302.77 L245.20 302.59 L245.70 302.39 L246.21 302.17 L246.72 301.91 L247.23 301.63 L247.73 301.33 L248.24 300.99 L248.75 300.63 L249.26 300.24 L249.76 299.81 L250.27 299.35 L250.78 298.82 L251.29 298.23 L251.79 297.55 L252.30 296.77 L252.81 295.89 L253.32 294.92 L253.82 293.87 L254.33 292.77 L254.84 291.63 L255.35 290.48 L255.85 289.32 L256.36 288.17 L256.87 287.02 L257.38 285.87 L257.88 284.71 L258.39 283.54 L258.90 282.34 L259.41 281.12 L259.91 279.87 L260.42 278.59 L260.93 277.27 L261.44 275.91 L261.94 274.51 L262.45 273.06 L262.96 271.57 L263.47 270.03 L263.97 268.44 L264.48 266.79 L264.99 265.08 L265.50 263.32 L266.01 261.48 L266.51 259.58 L267.02 257.60 L267.53 255.55 L268.04 253.42 L268.54 251.22 L269.05 248.96 L269.56 246.64 L270.07 244.31 L270.57 241.99 L271.08 239.72 L271.59 237.50 L272.10 235.37 L272.60 233.33 L273.11 231.39 L273.62 229.54 L274.13 227.79 L274.63 226.13 L275.14 224.55 L275.65 223.03 L276.16 221.57 L276.66 220.18 L277.17 218.85 L277.68 217.63 L278.19 216.52 L278.69 215.57 L279.20 214.76 L279.71 214.11 L280.22 213.61 L280.72 213.26 L281.23 213.06 L281.74 213.02 L282.25 213.15 L282.75 213.43 L283.26 213.88 L283.77 214.48 L284.28 215.24 L284.78 216.16 L285.29 217.24 L285.80 218.43 L286.31 219.71 L286.81 221.02 L287.32 222.34 L287.83 223.66 L288.34 224.96 L288.84 226.26 L289.35 227.56 L289.86 228.86 L290.37 230.18 L290.87 231.52 L291.38 232.88 L291.89 234.27 L292.40 235.70 L292.90 237.16 L293.41 238.65 L293.92 240.16 L294.43 241.65 L294.93 243.11 L295.44 244.52 L295.95 245.86 L296.46 247.13 L296.96 248.31 L297.47 249.43 L297.98 250.50 L298.49 251.52 L298.99 252.50 L299.50 253.47 L300.01 254.42 L300.52 255.36 L301.03 256.30 L301.53 257.22 L302.04 258.15 L302.55 259.06 L303.06 259.96 L303.56 260.84 L304.07 261.71 L304.58 262.55 L305.09 263.38 L305.59 264.19 L306.10 264.98 L306.61 265.75 L307.12 266.51 L307.62 267.26 L308.13 267.98 L308.64 268.70 L309.15 269.39 L309.65 270.07 L310.16 270.74 L310.67 271.40 L311.18 272.07 L311.68 272.78 L312.19 273.53 L312.70 274.37 L313.21 275.30 L313.71 276.37 L314.22 277.59 L314.73 278.99 L315.24 280.57 L315.74 282.31 L316.25 284.16 L316.76 286.06 L317.27 287.95 L317.77 289.81 L318.28 291.62 L318.79 293.38 L319.30 295.08 L319.80 296.69 L320.31 298.16 L320.82 299.46 L321.33 300.54 L321.83 301.40 L322.34 302.07 L322.85 302.58 L323.36 302.97 L323.86 303.26 L324.37 303.48 L324.88 303.63 L325.39 303.74 L325.89 303.82 L326.40 303.88 L326.91 303.93 L327.42 303.96 L327.92 304.00 L328.43 304.03 L328.94 304.06 L329.45 304.09 L329.95 304.12 L330.46 304.16 L330.97 304.20 L331.48 304.25 L331.98 304.29 L332.49 304.34 L333.00 304.38M399.00 101.29 L399.51 101.24 L400.03 101.19 L400.54 101.14 L401.05 101.08 L401.56 101.03 L402.08 100.97 L402.59 100.91 L403.10 100.84 L403.61 100.78 L404.13 100.71 L404.64 100.65 L405.15 100.58 L405.66 100.51 L406.18 100.44 L406.69 100.37 L407.20 100.29 L407.71 100.21 L408.23 100.13 L408.74 100.04 L409.25 99.95 L409.76 99.85 L410.28 99.74 L410.79 99.62 L411.30 99.49 L411.81 99.35 L412.33 99.19 L412.84 99.03 L413.35 98.85 L413.86 98.66 L414.38 98.46 L414.89 98.25 L415.40 98.03 L415.91 97.80 L416.43 97.56 L416.94 97.31 L417.45 97.05 L417.96 96.77 L418.48 96.48 L418.99 96.17 L419.50 95.85 L420.02 95.52 L420.53 95.18 L421.04 94.82 L421.55 94.45 L422.07 94.06 L422.58 93.66 L423.09 93.25 L423.60 92.82 L424.12 92.37 L424.63 91.89 L425.14 91.40 L425.65 90.88 L426.17 90.33 L426.68 89.75 L427.19 89.14 L427.70 88.49 L428.22 87.79 L428.73 87.05 L429.24 86.26 L429.75 85.42 L430.27 84.55 L430.78 83.63 L431.29 82.67 L431.80 81.67 L432.32 80.63 L432.83 79.53 L433.34 78.38 L433.85 77.17 L434.37 75.89 L434.88 74.55 L435.39 73.13 L435.90 71.63 L436.42 70.05 L436.93 68.40 L437.44 66.69 L437.95 64.92 L438.47 63.11 L438.98 61.27 L439.49 59.43 L440.01 57.59 L440.52 55.78 L441.03 54.00 L441.54 52.25 L442.06 50.54 L442.57 48.86 L443.08 47.17 L443.59 45.46 L444.11 43.69 L444.62 41.83 L445.13 39.90 L445.64 37.90 L446.16 35.86 L446.67 33.81 L447.18 31.75 L447.69 29.70 L448.21 27.65 L448.72 25.61 L449.23 23.59 L449.74 21.60 L450.26 19.70 L450.77 17.93 L451.28 16.31 L451.79 14.89 L452.31 13.65 L452.82 12.59 L453.33 11.71 L453.84 10.98 L454.36 10.43 L454.87 10.04 L455.38 9.85 L455.89 9.86 L456.41 10.08 L456.92 10.50 L457.43 11.15 L457.94 12.04 L458.46 13.20 L458.97 14.66 L459.48 16.42 L459.99 18.45 L460.51 20.68 L461.02 23.02 L461.53 25.37 L462.05 27.65 L462.56 29.83 L463.07 31.90 L463.58 33.90 L464.10 35.86 L464.61 37.84 L465.12 39.89 L465.63 42.04 L466.15 44.32 L466.66 46.74 L467.17 49.27 L467.68 51.88 L468.20 54.49 L468.71 57.04 L469.22 59.47 L469.73 61.76 L470.25 63.89 L470.76 65.88 L471.27 67.74 L471.78 69.52 L472.30 71.22 L472.81 72.87 L473.32 74.48 L473.83 76.05 L474.35 77.57 L474.86 79.04 L475.37 80.43 L475.88 81.74 L476.40 82.97 L476.91 84.12 L477.42 85.19 L477.93 86.19 L478.45 87.13 L478.96 88.02 L479.47 88.86 L479.98 89.66 L480.50 90.42 L481.01 91.14 L481.52 91.83 L482.04 92.49 L482.55 93.13 L483.06 93.75 L483.57 94.34 L484.09 94.90 L484.60 95.44 L485.11 95.94 L485.62 96.41 L486.14 96.84 L486.65 97.23 L487.16 97.59 L487.67 97.92 L488.19 98.22 L488.70 98.50 L489.21 98.77 L489.72 99.01 L490.24 99.25 L490.75 99.46 L491.26 99.66 L491.77 99.84 L492.29 100.00 L492.80 100.14 L493.31 100.27 L493.82 100.38 L494.34 100.47 L494.85 100.56 L495.36 100.63 L495.87 100.69 L496.39 100.75 L496.90 100.81 L497.41 100.88 L497.92 100.94 L498.44 101.01 L498.95 101.08 L499.46 101.15 L499.97 101.23 L500.49 101.30 L501.00 101.36M501.00 202.90 L501.51 202.79 L502.03 202.67 L502.54 202.55 L503.05 202.44 L503.56 202.35 L504.08 202.27 L504.59 202.21 L505.10 202.15 L505.61 202.10 L506.13 202.05 L506.64 202.00 L507.15 201.94 L507.66 201.89 L508.18 201.82 L508.69 201.75 L509.20 201.67 L509.71 201.57 L510.23 201.47 L510.74 201.35 L511.25 201.23 L511.76 201.09 L512.28 200.94 L512.79 200.78 L513.30 200.61 L513.81 200.43 L514.33 200.25 L514.84 200.05 L515.35 199.84 L515.86 199.61 L516.38 199.37 L516.89 199.12 L517.40 198.84 L517.91 198.54 L518.43 198.22 L518.94 197.88 L519.45 197.52 L519.96 197.15 L520.48 196.76 L520.99 196.36 L521.50 195.95 L522.02 195.52 L522.53 195.09 L523.04 194.64 L523.55 194.18 L524.07 193.71 L524.58 193.21 L525.09 192.70 L525.60 192.17 L526.12 191.63 L526.63 191.06 L527.14 190.47 L527.65 189.86 L528.17 189.24 L528.68 188.59 L529.19 187.91 L529.70 187.21 L530.22 186.48 L530.73 185.72 L531.24 184.93 L531.75 184.10 L532.27 183.24 L532.78 182.34 L533.29 181.42 L533.80 180.47 L534.32 179.48 L534.83 178.47 L535.34 177.43 L535.85 176.35 L536.37 175.24 L536.88 174.08 L537.39 172.87 L537.90 171.61 L538.42 170.27 L538.93 168.86 L539.44 167.35 L539.95 165.74 L540.47 164.02 L540.98 162.22 L541.49 160.33 L542.01 158.39 L542.52 156.40 L543.03 154.39 L543.54 152.36 L544.06 150.32 L544.57 148.26 L545.08 146.20 L545.59 144.10 L546.11 141.97 L546.62 139.80 L547.13 137.60 L547.64 135.40 L548.16 133.20 L548.67 131.02 L549.18 128.88 L549.69 126.77 L550.21 124.71 L550.72 122.72 L551.23 120.84 L551.74 119.10 L552.26 117.55 L552.77 116.19 L553.28 115.03 L553.79 114.04 L554.31 113.20 L554.82 112.50 L555.33 111.92 L555.84 111.47 L556.36 111.17 L556.87 111.02 L557.38 111.04 L557.89 111.21 L558.41 111.55 L558.92 112.03 L559.43 112.67 L559.94 113.47 L560.46 114.43 L560.97 115.57 L561.48 116.86 L561.99 118.30 L562.51 119.85 L563.02 121.49 L563.53 123.21 L564.05 125.00 L564.56 126.86 L565.07 128.77 L565.58 130.76 L566.10 132.81 L566.61 134.94 L567.12 137.18 L567.63 139.53 L568.15 142.00 L568.66 144.56 L569.17 147.18 L569.68 149.78 L570.20 152.31 L570.71 154.73 L571.22 157.02 L571.73 159.19 L572.25 161.27 L572.76 163.27 L573.27 165.23 L573.78 167.15 L574.30 169.02 L574.81 170.84 L575.32 172.60 L575.83 174.30 L576.35 175.93 L576.86 177.49 L577.37 178.98 L577.88 180.40 L578.40 181.77 L578.91 183.09 L579.42 184.34 L579.93 185.54 L580.45 186.67 L580.96 187.75 L581.47 188.76 L581.98 189.71 L582.50 190.61 L583.01 191.46 L583.52 192.28 L584.04 193.06 L584.55 193.80 L585.06 194.50 L585.57 195.16 L586.09 195.77 L586.60 196.34 L587.11 196.87 L587.62 197.36 L588.14 197.81 L588.65 198.23 L589.16 198.62 L589.67 198.99 L590.19 199.34 L590.70 199.68 L591.21 199.99 L591.72 200.28 L592.24 200.55 L592.75 200.80 L593.26 201.02 L593.77 201.22 L594.29 201.39 L594.80 201.54 L595.31 201.67 L595.82 201.78 L596.34 201.88 L596.85 201.97 L597.36 202.05 L597.87 202.12 L598.39 202.19 L598.90 202.26 L599.41 202.33 L599.92 202.41 L600.44 202.49 L600.95 202.57 L601.46 202.67 L601.97 202.77 L602.49 202.87 L603.00 202.97M603.00 304.22 L603.51 304.09 L604.03 303.94 L604.54 303.80 L605.05 303.66 L605.56 303.53 L606.08 303.42 L606.59 303.32 L607.10 303.22 L607.61 303.14 L608.13 303.05 L608.64 302.97 L609.15 302.89 L609.66 302.79 L610.18 302.69 L610.69 302.58 L611.20 302.46 L611.71 302.31 L612.23 302.15 L612.74 301.96 L613.25 301.76 L613.76 301.53 L614.28 301.29 L614.79 301.02 L615.30 300.73 L615.81 300.42 L616.33 300.10 L616.84 299.76 L617.35 299.40 L617.86 299.02 L618.38 298.62 L618.89 298.19 L619.40 297.74 L619.91 297.25 L620.43 296.72 L620.94 296.15 L621.45 295.54 L621.96 294.89 L622.48 294.20 L622.99 293.46 L623.50 292.70 L624.02 291.90 L624.53 291.06 L625.04 290.18 L625.55 289.26 L626.07 288.28 L626.58 287.25 L627.09 286.15 L627.60 285.00 L628.12 283.78 L628.63 282.50 L629.14 281.18 L629.65 279.80 L630.17 278.37 L630.68 276.88 L631.19 275.33 L631.70 273.72 L632.22 272.04 L632.73 270.30 L633.24 268.50 L633.75 266.65 L634.27 264.76 L634.78 262.83 L635.29 260.87 L635.80 258.87 L636.32 256.84 L636.83 254.79 L637.34 252.72 L637.85 250.63 L638.37 248.55 L638.88 246.46 L639.39 244.37 L639.90 242.28 L640.42 240.18 L640.93 238.08 L641.44 236.00 L641.95 233.95 L642.47 231.94 L642.98 229.99 L643.49 228.08 L644.01 226.21 L644.52 224.39 L645.03 222.62 L645.54 220.95 L646.06 219.40 L646.57 218.01 L647.08 216.78 L647.59 215.72 L648.11 214.84 L648.62 214.11 L649.13 213.53 L649.64 213.08 L650.16 212.78 L650.67 212.63 L651.18 212.64 L651.69 212.81 L652.21 213.14 L652.72 213.60 L653.23 214.20 L653.74 214.90 L654.26 215.71 L654.77 216.61 L655.28 217.61 L655.79 218.69 L656.31 219.84 L656.82 221.06 L657.33 222.36 L657.84 223.73 L658.36 225.19 L658.87 226.72 L659.38 228.33 L659.89 230.00 L660.41 231.73 L660.92 233.50 L661.43 235.31 L661.94 237.14 L662.46 239.00 L662.97 240.86 L663.48 242.72 L663.99 244.57 L664.51 246.42 L665.02 248.28 L665.53 250.17 L666.05 252.11 L666.56 254.09 L667.07 256.10 L667.58 258.13 L668.10 260.14 L668.61 262.09 L669.12 263.98 L669.63 265.78 L670.15 267.50 L670.66 269.14 L671.17 270.72 L671.68 272.24 L672.20 273.72 L672.71 275.15 L673.22 276.55 L673.73 277.92 L674.25 279.25 L674.76 280.56 L675.27 281.84 L675.78 283.07 L676.30 284.27 L676.81 285.41 L677.32 286.51 L677.83 287.57 L678.35 288.58 L678.86 289.55 L679.37 290.49 L679.88 291.40 L680.40 292.28 L680.91 293.12 L681.42 293.92 L681.93 294.68 L682.45 295.38 L682.96 296.03 L683.47 296.62 L683.98 297.16 L684.50 297.65 L685.01 298.10 L685.52 298.52 L686.04 298.91 L686.55 299.29 L687.06 299.64 L687.57 299.97 L688.09 300.29 L688.60 300.58 L689.11 300.86 L689.62 301.12 L690.14 301.36 L690.65 301.58 L691.16 301.78 L691.67 301.96 L692.19 302.13 L692.70 302.28 L693.21 302.42 L693.72 302.54 L694.24 302.66 L694.75 302.78 L695.26 302.88 L695.77 302.98 L696.29 303.07 L696.80 303.16 L697.31 303.25 L697.82 303.33 L698.34 303.41 L698.85 303.48 L699.36 303.55 L699.87 303.62 L700.39 303.69 L700.90 303.76 L701.41 303.82 L701.92 303.88 L702.44 303.94 L702.95 304.00 L703.46 304.05 L703.97 304.10 L704.49 304.15 L705.00 304.19" fill="none" stroke="#464646" stroke-width="1.25" stroke-linejoin="round"/>
<path d="M30.00 0.50L131.00 0.50M131.00 0.50L131.00 101.50M30.00 101.50L131.00 101.50M30.00 0.50L30.00 101.50M131.00 101.50L131.00 203.40M30.00 203.40L131.00 203.40M30.00 101.50L30.00 203.40M131.00 101.50L232.00 101.50M232.00 101.50L232.00 203.40M131.00 203.40L232.00 203.40M131.00 203.40L131.00 304.50M30.00 304.50L131.00 304.50M30.00 203.40L30.00 304.50M232.00 203.40L232.00 304.50M131.00 304.50L232.00 304.50M232.00 203.40L333.00 203.40M333.00 203.40L333.00 304.50M232.00 304.50L333.00 304.50M399.00 0.50L501.00 0.50M501.00 0.50L501.00 101.50M399.00 101.50L501.00 101.50M399.00 0.50L399.00 101.50M501.00 101.50L501.00 203.40M399.00 203.40L501.00 203.40M399.00 101.50L399.00 203.40M501.00 101.50L603.00 101.50M603.00 101.50L603.00 203.40M501.00 203.40L603.00 203.40M501.00 203.40L501.00 304.50M399.00 304.50L501.00 304.50M399.00 203.40L399.00 304.50M603.00 203.40L603.00 304.50M501.00 304.50L603.00 304.50M603.00 203.40L705.00 203.40M705.00 203.40L705.00 304.50M603.00 304.50L705.00 304.50" fill="none" stroke="#999999" stroke-width="1.40" stroke-linecap="square"/>
<path d="M59.50 101.50v-2.5M91.50 101.50v-2.5M123.50 101.50v-2.5M59.50 203.40v-2.5M59.50 101.50v2.5M91.50 203.40v-2.5M91.50 101.50v2.5M123.50 203.40v-2.5M123.50 101.50v2.5M30.00 106.90h2.5M131.00 106.90h-2.5M30.00 127.80h2.5M131.00 127.80h-2.5M30.00 148.70h2.5M131.00 148.70h-2.5M30.00 169.60h2.5M131.00 169.60h-2.5M30.00 190.50h2.5M131.00 190.50h-2.5M164.50 203.40v-2.5M205.90 203.40v-2.5M59.50 304.50v-2.5M59.50 203.40v2.5M91.50 304.50v-2.5M91.50 203.40v2.5M123.50 304.50v-2.5M123.50 203.40v2.5M30.00 214.70h2.5M131.00 214.70h-2.5M30.00 238.43h2.5M131.00 238.43h-2.5M30.00 262.17h2.5M131.00 262.17h-2.5M30.00 285.90h2.5M131.00 285.90h-2.5M164.50 304.50v-2.5M164.50 203.40v2.5M205.90 304.50v-2.5M205.90 203.40v2.5M131.00 214.70h2.5M232.00 214.70h-2.5M131.00 238.43h2.5M232.00 238.43h-2.5M131.00 262.17h2.5M232.00 262.17h-2.5M131.00 285.90h2.5M232.00 285.90h-2.5M250.20 304.50v-2.5M273.87 304.50v-2.5M297.53 304.50v-2.5M321.20 304.50v-2.5M431.70 101.50v-2.5M460.15 101.50v-2.5M488.60 101.50v-2.5M431.70 203.40v-2.5M431.70 101.50v2.5M460.15 203.40v-2.5M460.15 101.50v2.5M488.60 203.40v-2.5M488.60 101.50v2.5M399.00 120.00h2.5M501.00 120.00h-2.5M399.00 142.67h2.5M501.00 142.67h-2.5M399.00 165.33h2.5M501.00 165.33h-2.5M399.00 188.00h2.5M501.00 188.00h-2.5M515.20 203.40v-2.5M538.47 203.40v-2.5M561.73 203.40v-2.5M585.00 203.40v-2.5M431.70 304.50v-2.5M431.70 203.40v2.5M460.15 304.50v-2.5M460.15 203.40v2.5M488.60 304.50v-2.5M488.60 203.40v2.5M399.00 223.90h2.5M501.00 223.90h-2.5M399.00 252.00h2.5M501.00 252.00h-2.5M399.00 280.10h2.5M501.00 280.10h-2.5M515.20 304.50v-2.5M515.20 203.40v2.5M538.47 304.50v-2.5M538.47 203.40v2.5M561.73 304.50v-2.5M561.73 203.40v2.5M585.00 304.50v-2.5M585.00 203.40v2.5M501.00 223.90h2.5M603.00 223.90h-2.5M501.00 252.00h2.5M603.00 252.00h-2.5M501.00 280.10h2.5M603.00 280.10h-2.5M627.20 304.50v-2.5M655.50 304.50v-2.5M683.80 304.50v-2.5" fill="none" stroke="#6a6a6a" stroke-width="1.00"/>
<path d="M30.0 0.5H131.0M399.0 0.5H501.0" stroke="#707070" stroke-width="1"/>
<text x="59.50" y="310.90" text-anchor="middle" class="t">−6</text>
<text x="91.50" y="310.90" text-anchor="middle" class="t">−5</text>
<text x="123.50" y="310.90" text-anchor="middle" class="t">−4</text>
<text x="164.50" y="310.90" text-anchor="middle" class="t">−1.6</text>
<text x="205.90" y="310.90" text-anchor="middle" class="t">−1.5</text>
<text x="250.20" y="310.90" text-anchor="middle" class="t">1</text>
<text x="273.87" y="310.90" text-anchor="middle" class="t">2</text>
<text x="297.53" y="310.90" text-anchor="middle" class="t">3</text>
<text x="321.20" y="310.90" text-anchor="middle" class="t">4</text>
<text x="27.60" y="108.90" text-anchor="end" class="t">−1.45</text>
<text x="27.60" y="129.80" text-anchor="end" class="t">−1.50</text>
<text x="27.60" y="150.70" text-anchor="end" class="t">−1.55</text>
<text x="27.60" y="171.60" text-anchor="end" class="t">−1.60</text>
<text x="27.60" y="192.50" text-anchor="end" class="t">−1.65</text>
<text x="27.60" y="216.70" text-anchor="end" class="t">4</text>
<text x="27.60" y="240.43" text-anchor="end" class="t">3</text>
<text x="27.60" y="264.17" text-anchor="end" class="t">2</text>
<text x="27.60" y="287.90" text-anchor="end" class="t">1</text>
<text x="431.70" y="310.90" text-anchor="middle" class="t">−5.8</text>
<text x="460.15" y="310.90" text-anchor="middle" class="t">−5.6</text>
<text x="488.60" y="310.90" text-anchor="middle" class="t">−5.4</text>
<text x="515.20" y="310.90" text-anchor="middle" class="t">−1.7</text>
<text x="538.47" y="310.90" text-anchor="middle" class="t">−1.6</text>
<text x="561.73" y="310.90" text-anchor="middle" class="t">−1.5</text>
<text x="585.00" y="310.90" text-anchor="middle" class="t">−1.4</text>
<text x="627.20" y="310.90" text-anchor="middle" class="t">0.30</text>
<text x="655.50" y="310.90" text-anchor="middle" class="t">0.35</text>
<text x="683.80" y="310.90" text-anchor="middle" class="t">0.40</text>
<text x="396.60" y="122.00" text-anchor="end" class="t">−1.4</text>
<text x="396.60" y="144.67" text-anchor="end" class="t">−1.5</text>
<text x="396.60" y="167.33" text-anchor="end" class="t">−1.6</text>
<text x="396.60" y="190.00" text-anchor="end" class="t">−1.7</text>
<text x="396.60" y="225.90" text-anchor="end" class="t">0.40</text>
<text x="396.60" y="254.00" text-anchor="end" class="t">0.35</text>
<text x="396.60" y="282.10" text-anchor="end" class="t">0.30</text>
<text x="80.25" y="321.00" text-anchor="middle" class="l"><tspan>ln</tspan><tspan font-style="italic">h</tspan><tspan font-size="5.32" dy="1.3">1</tspan></text>
<text x="181.30" y="321.00" text-anchor="middle" class="l"><tspan>ln</tspan><tspan font-style="italic">h</tspan><tspan font-size="5.32" dy="1.3">2</tspan></text>
<text x="282.00" y="321.00" text-anchor="middle" class="l"><tspan>ln</tspan><tspan font-style="italic">δ</tspan><tspan font-size="5.32" dy="1.3">1</tspan></text>
<text x="450.00" y="321.00" text-anchor="middle" class="l"><tspan>ln</tspan><tspan font-style="italic">h</tspan><tspan font-size="5.32" dy="1.3">01</tspan></text>
<text x="551.70" y="321.00" text-anchor="middle" class="l"><tspan>ln</tspan><tspan font-style="italic">h</tspan><tspan font-size="5.32" dy="1.3">02</tspan></text>
<text x="653.50" y="321.00" text-anchor="middle" class="l"><tspan font-style="italic">β</tspan></text>
<text x="5.90" y="152.20" text-anchor="middle" class="l" transform="rotate(-90 5.90 152.20)"><tspan>ln</tspan><tspan font-style="italic">h</tspan><tspan font-size="5.32" dy="1.3">2</tspan></text>
<text x="19.80" y="253.90" text-anchor="middle" class="l" transform="rotate(-90 19.80 253.90)"><tspan>ln</tspan><tspan font-style="italic">δ</tspan><tspan font-size="5.32" dy="1.3">1</tspan></text>
<text x="379.20" y="152.20" text-anchor="middle" class="l" transform="rotate(-90 379.20 152.20)"><tspan>ln</tspan><tspan font-style="italic">h</tspan><tspan font-size="5.32" dy="1.3">02</tspan></text>
<text x="379.60" y="253.90" text-anchor="middle" class="l" transform="rotate(-90 379.60 253.90)"><tspan font-style="italic">β</tspan></text>
<defs><linearGradient id="cbl" x1="0" y1="0" x2="0" y2="1"><stop offset="0.000" stop-color="#800000"/><stop offset="0.031" stop-color="#9f0000"/><stop offset="0.062" stop-color="#c40000"/><stop offset="0.094" stop-color="#e80000"/><stop offset="0.125" stop-color="#ff1e00"/><stop offset="0.156" stop-color="#ff3b00"/><stop offset="0.188" stop-color="#ff5900"/><stop offset="0.219" stop-color="#ff7700"/><stop offset="0.250" stop-color="#ff9400"/><stop offset="0.281" stop-color="#ffb200"/><stop offset="0.312" stop-color="#ffd000"/><stop offset="0.344" stop-color="#feed00"/><stop offset="0.375" stop-color="#e4ff13"/><stop offset="0.406" stop-color="#caff2c"/><stop offset="0.438" stop-color="#b1ff46"/><stop offset="0.469" stop-color="#97ff60"/><stop offset="0.500" stop-color="#7dff7a"/><stop offset="0.531" stop-color="#63ff94"/><stop offset="0.562" stop-color="#49ffad"/><stop offset="0.594" stop-color="#30ffc7"/><stop offset="0.625" stop-color="#16ffe1"/><stop offset="0.656" stop-color="#00e0fb"/><stop offset="0.688" stop-color="#00c0ff"/><stop offset="0.719" stop-color="#00a0ff"/><stop offset="0.750" stop-color="#0080ff"/><stop offset="0.781" stop-color="#0060ff"/><stop offset="0.812" stop-color="#0040ff"/><stop offset="0.844" stop-color="#0020ff"/><stop offset="0.875" stop-color="#0000ff"/><stop offset="0.906" stop-color="#0000ed"/><stop offset="0.938" stop-color="#0000c8"/><stop offset="0.969" stop-color="#0000a4"/><stop offset="1.000" stop-color="#000080"/></linearGradient></defs>
<rect x="304.20" y="43.90" width="10.80" height="118.50" fill="url(#cbl)" stroke="#000" stroke-width="0.6"/>
<text x="300.00" y="149.33" text-anchor="end" class="t">1</text>
<text x="300.00" y="115.08" text-anchor="end" class="t">2</text>
<text x="300.00" y="80.83" text-anchor="end" class="t">3</text>
<path d="M304.20 147.33h-2.2M304.20 113.08h-2.2M304.20 78.83h-2.2" stroke="#000" stroke-width="0.6"/>
<text x="294.80" y="103.15" text-anchor="middle" class="l" transform="rotate(-90 294.80 103.15)"><tspan>ln</tspan><tspan font-style="italic">δ</tspan><tspan font-size="5.32" dy="1.3">1</tspan></text>
<defs><linearGradient id="cbr" x1="0" y1="0" x2="0" y2="1"><stop offset="0.000" stop-color="#800000"/><stop offset="0.031" stop-color="#9f0000"/><stop offset="0.062" stop-color="#c40000"/><stop offset="0.094" stop-color="#e80000"/><stop offset="0.125" stop-color="#ff1e00"/><stop offset="0.156" stop-color="#ff3b00"/><stop offset="0.188" stop-color="#ff5900"/><stop offset="0.219" stop-color="#ff7700"/><stop offset="0.250" stop-color="#ff9400"/><stop offset="0.281" stop-color="#ffb200"/><stop offset="0.312" stop-color="#ffd000"/><stop offset="0.344" stop-color="#feed00"/><stop offset="0.375" stop-color="#e4ff13"/><stop offset="0.406" stop-color="#caff2c"/><stop offset="0.438" stop-color="#b1ff46"/><stop offset="0.469" stop-color="#97ff60"/><stop offset="0.500" stop-color="#7dff7a"/><stop offset="0.531" stop-color="#63ff94"/><stop offset="0.562" stop-color="#49ffad"/><stop offset="0.594" stop-color="#30ffc7"/><stop offset="0.625" stop-color="#16ffe1"/><stop offset="0.656" stop-color="#00e0fb"/><stop offset="0.688" stop-color="#00c0ff"/><stop offset="0.719" stop-color="#00a0ff"/><stop offset="0.750" stop-color="#0080ff"/><stop offset="0.781" stop-color="#0060ff"/><stop offset="0.812" stop-color="#0040ff"/><stop offset="0.844" stop-color="#0020ff"/><stop offset="0.875" stop-color="#0000ff"/><stop offset="0.906" stop-color="#0000ed"/><stop offset="0.938" stop-color="#0000c8"/><stop offset="0.969" stop-color="#0000a4"/><stop offset="1.000" stop-color="#000080"/></linearGradient></defs>
<rect x="676.60" y="43.80" width="10.60" height="117.50" fill="url(#cbr)" stroke="#000" stroke-width="0.6"/>
<text x="672.40" y="157.30" text-anchor="end" class="t">0.28</text>
<text x="672.40" y="141.08" text-anchor="end" class="t">0.30</text>
<text x="672.40" y="124.86" text-anchor="end" class="t">0.32</text>
<text x="672.40" y="108.65" text-anchor="end" class="t">0.34</text>
<text x="672.40" y="92.43" text-anchor="end" class="t">0.36</text>
<text x="672.40" y="76.21" text-anchor="end" class="t">0.38</text>
<text x="672.40" y="59.99" text-anchor="end" class="t">0.40</text>
<path d="M676.60 155.30h-2.2M676.60 139.08h-2.2M676.60 122.86h-2.2M676.60 106.65h-2.2M676.60 90.43h-2.2M676.60 74.21h-2.2M676.60 57.99h-2.2" stroke="#000" stroke-width="0.6"/>
<text x="657.60" y="103.85" text-anchor="middle" class="l" transform="rotate(-90 657.60 103.85)"><tspan font-style="italic">β</tspan></text>
</svg>
</body></html>
